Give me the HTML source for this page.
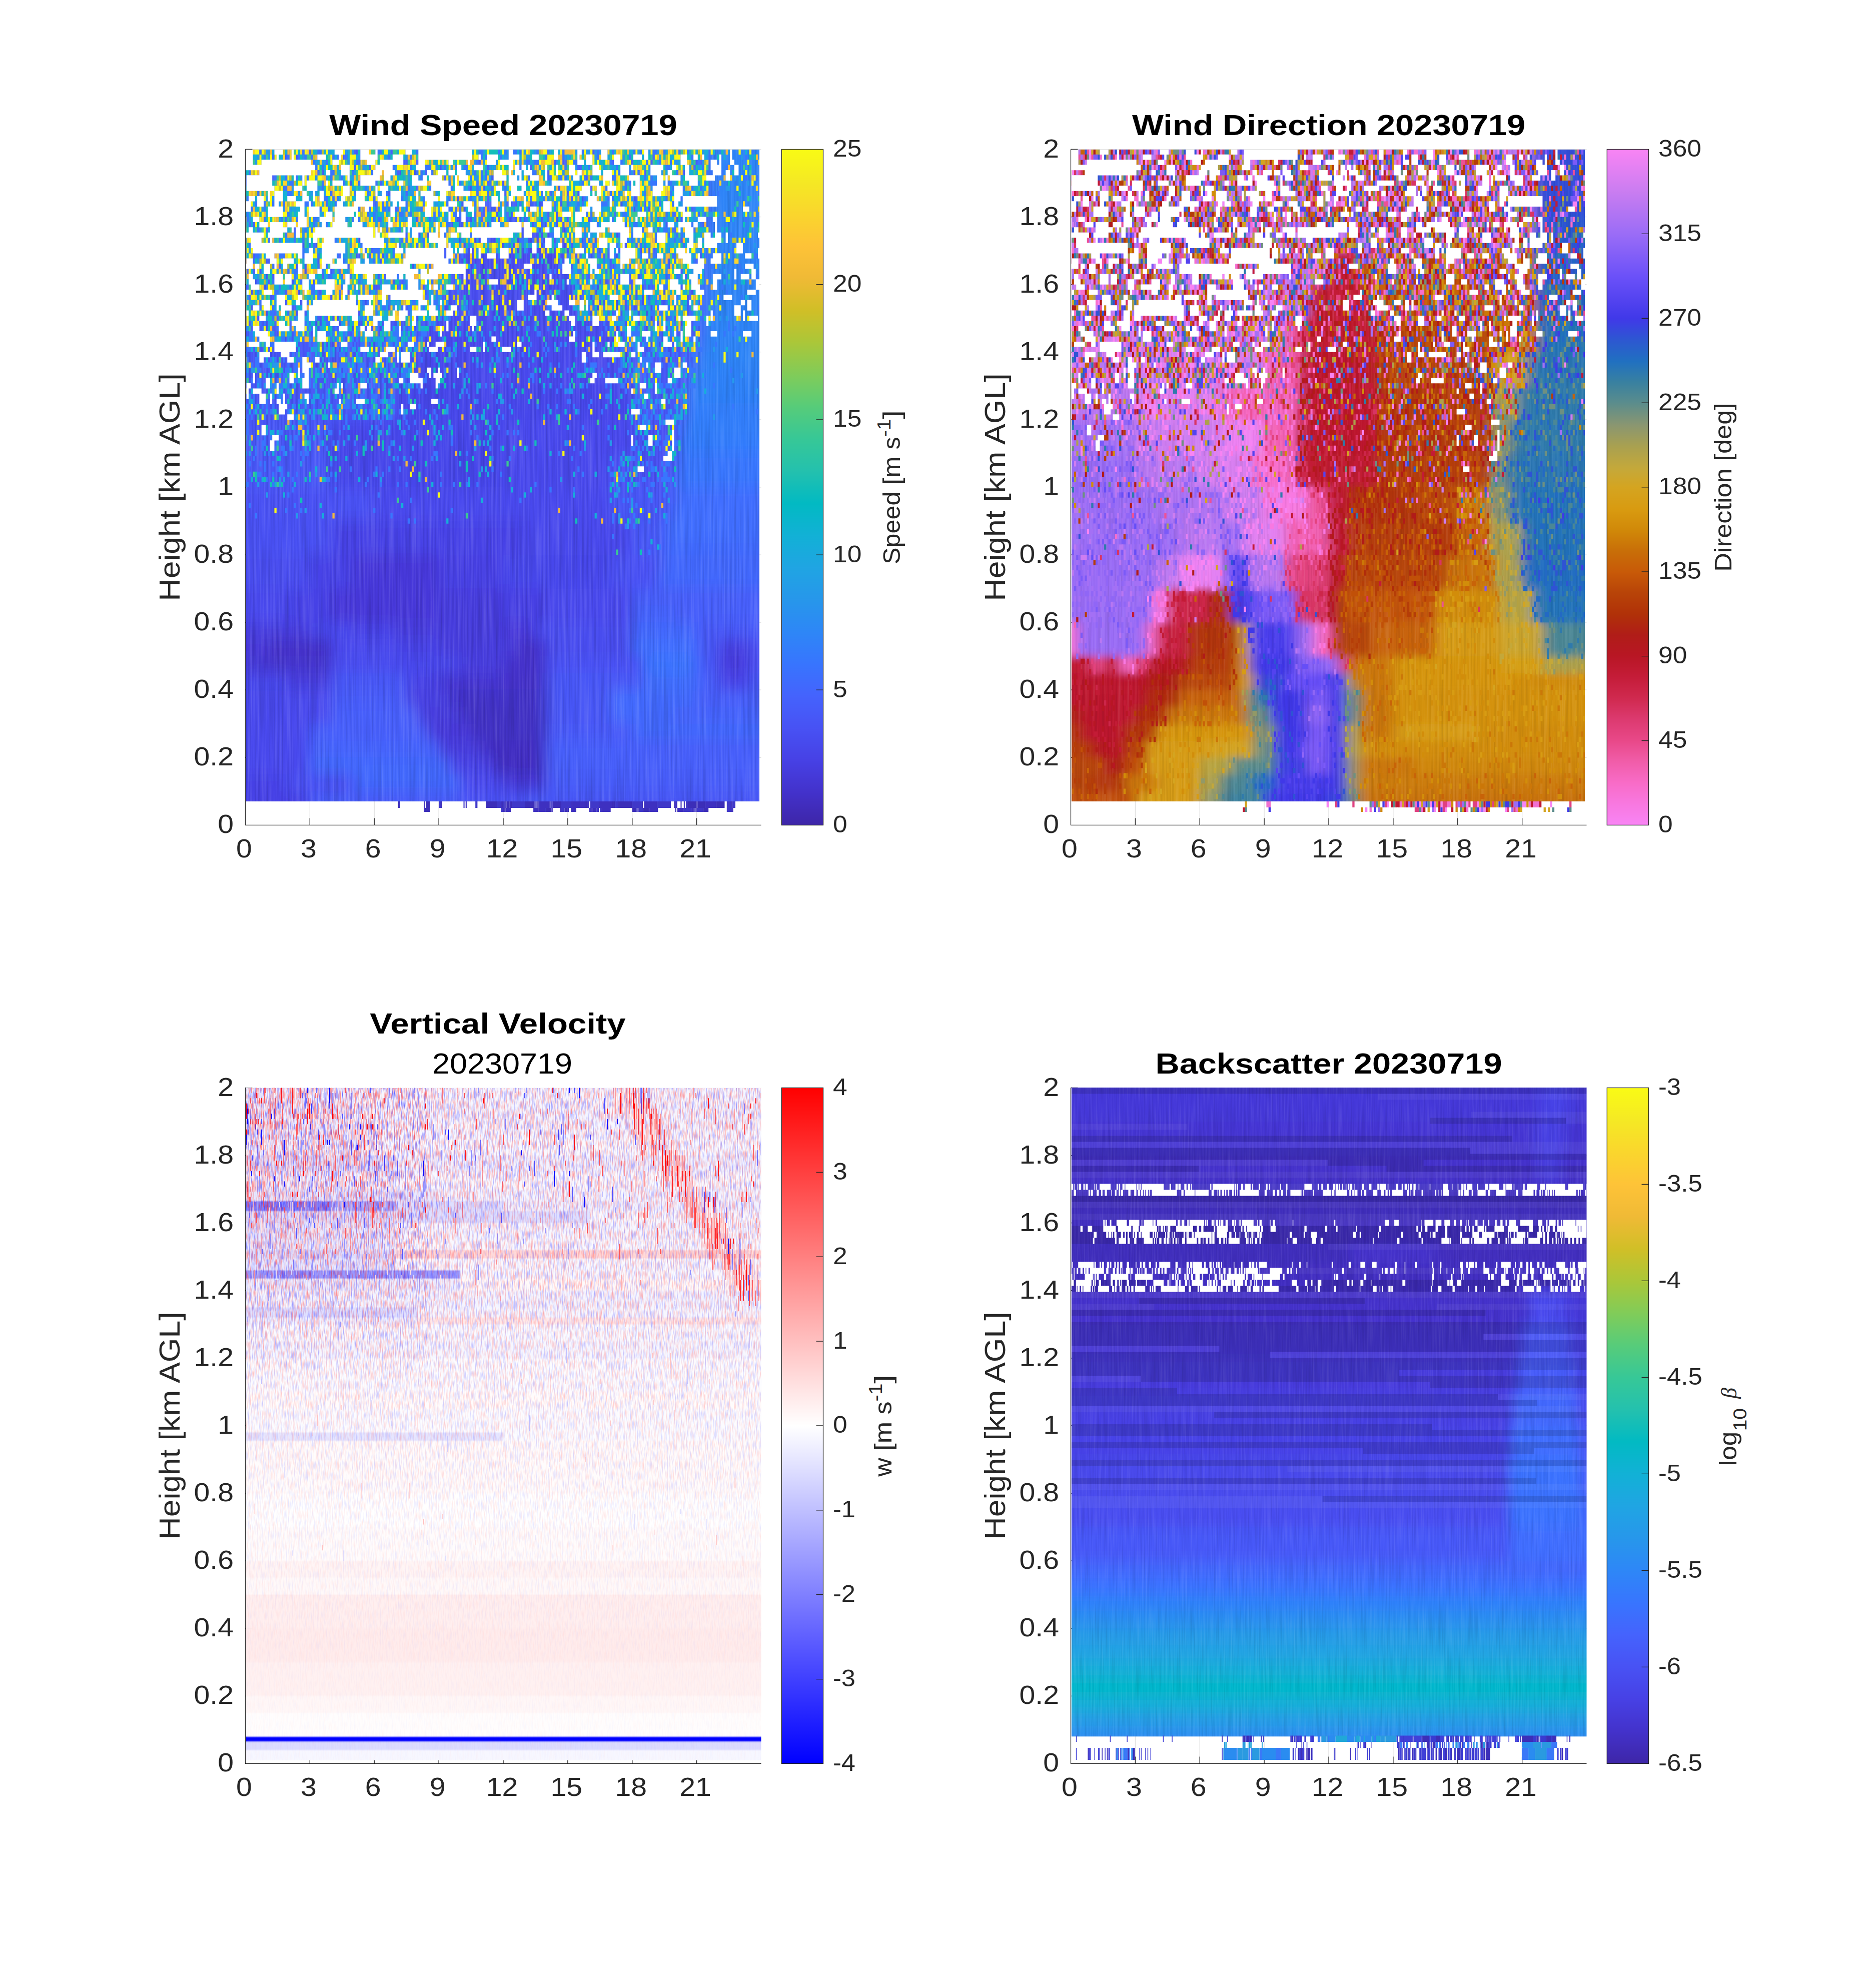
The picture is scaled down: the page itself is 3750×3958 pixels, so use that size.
<!DOCTYPE html><html><head><meta charset="utf-8"><style>html,body{margin:0;padding:0;background:#fff;overflow:hidden}svg{display:block}</style></head><body><svg width="3750" height="3958" viewBox="0 0 3750 3958" font-family="Liberation Sans, sans-serif">
<rect width="3750" height="3958" fill="#fff"/>
<path d="M619.38 298.50V1649.40M748.25 298.50V1649.40M877.12 298.50V1649.40M1006.00 298.50V1649.40M1134.88 298.50V1649.40M1263.75 298.50V1649.40M1392.62 298.50V1649.40M490.50 1514.31H1521.50M490.50 1379.22H1521.50M490.50 1244.13H1521.50M490.50 1109.04H1521.50M490.50 973.95H1521.50M490.50 838.86H1521.50M490.50 703.77H1521.50M490.50 568.68H1521.50M490.50 433.59H1521.50M490.50 298.50H1521.50" stroke="#dedede" stroke-width="1.2" fill="none"/>
<path d="M490.50 298.50V1649.40H1521.50 M490.50 1649.40v-14M619.38 1649.40v-14M748.25 1649.40v-14M877.12 1649.40v-14M1006.00 1649.40v-14M1134.88 1649.40v-14M1263.75 1649.40v-14M1392.62 1649.40v-14M490.50 1649.40h14M490.50 1514.31h14M490.50 1379.22h14M490.50 1244.13h14M490.50 1109.04h14M490.50 973.95h14M490.50 838.86h14M490.50 703.77h14M490.50 568.68h14M490.50 433.59h14M490.50 298.50h14" stroke="#262626" stroke-width="1.3" fill="none"/>
<defs><clipPath id="clipf1"><rect x="491.90" y="298.90" width="1026.16" height="1303.22"/></clipPath>
<filter id="f1" x="-10%" y="-10%" width="120%" height="120%"><feGaussianBlur stdDeviation="14"/></filter></defs>
<g clip-path="url(#clipf1)"><g filter="url(#f1)">
<rect x="440.5" y="248.5" width="978.4" height="84.3" fill="#465ffb"/>
<rect x="1418.4" y="248.5" width="163.6" height="84.3" fill="#2e85f8"/>
<rect x="440.5" y="332.3" width="978.4" height="34.3" fill="#465ffb"/>
<rect x="1418.4" y="332.3" width="163.6" height="34.3" fill="#2e85f8"/>
<rect x="440.5" y="366.0" width="978.4" height="34.3" fill="#465ffb"/>
<rect x="1418.4" y="366.0" width="163.6" height="34.3" fill="#2e85f8"/>
<rect x="440.5" y="399.8" width="978.4" height="34.3" fill="#465ffb"/>
<rect x="1418.4" y="399.8" width="163.6" height="34.3" fill="#2e85f8"/>
<rect x="440.5" y="433.6" width="978.4" height="34.3" fill="#465ffb"/>
<rect x="1418.4" y="433.6" width="163.6" height="34.3" fill="#2e85f8"/>
<rect x="440.5" y="467.4" width="480.1" height="34.3" fill="#465ffb"/>
<rect x="920.1" y="467.4" width="215.3" height="34.3" fill="#4851f4"/>
<rect x="1134.9" y="467.4" width="279.7" height="34.3" fill="#465ffb"/>
<rect x="1414.1" y="467.4" width="167.9" height="34.3" fill="#2e85f8"/>
<rect x="440.5" y="501.1" width="480.1" height="34.3" fill="#465ffb"/>
<rect x="920.1" y="501.1" width="215.3" height="34.3" fill="#484df0"/>
<rect x="1134.9" y="501.1" width="279.7" height="34.3" fill="#465ffb"/>
<rect x="1414.1" y="501.1" width="167.9" height="34.3" fill="#2e85f8"/>
<rect x="440.5" y="534.9" width="480.1" height="34.3" fill="#475bf9"/>
<rect x="920.1" y="534.9" width="215.3" height="34.3" fill="#484df0"/>
<rect x="1134.9" y="534.9" width="279.7" height="34.3" fill="#465ffb"/>
<rect x="1414.1" y="534.9" width="167.9" height="34.3" fill="#2e85f8"/>
<rect x="440.5" y="568.7" width="458.6" height="34.3" fill="#475bf9"/>
<rect x="898.6" y="568.7" width="258.2" height="34.3" fill="#484df0"/>
<rect x="1156.4" y="568.7" width="254.0" height="34.3" fill="#465ffb"/>
<rect x="1409.8" y="568.7" width="172.2" height="34.3" fill="#2e85f8"/>
<rect x="440.5" y="602.5" width="437.1" height="34.3" fill="#475bf9"/>
<rect x="877.1" y="602.5" width="301.2" height="34.3" fill="#484df0"/>
<rect x="1177.8" y="602.5" width="232.5" height="34.3" fill="#475dfa"/>
<rect x="1409.8" y="602.5" width="172.2" height="34.3" fill="#2e85f8"/>
<rect x="440.5" y="636.2" width="415.6" height="34.3" fill="#4758f8"/>
<rect x="855.6" y="636.2" width="365.6" height="34.3" fill="#484df0"/>
<rect x="1220.8" y="636.2" width="185.2" height="34.3" fill="#475bf9"/>
<rect x="1405.5" y="636.2" width="176.5" height="34.3" fill="#2e85f8"/>
<rect x="440.5" y="670.0" width="407.1" height="34.3" fill="#4758f8"/>
<rect x="847.1" y="670.0" width="387.1" height="34.3" fill="#484aee"/>
<rect x="1233.7" y="670.0" width="168.0" height="34.3" fill="#4758f8"/>
<rect x="1401.2" y="670.0" width="180.8" height="34.3" fill="#2e85f8"/>
<rect x="440.5" y="703.8" width="394.2" height="34.3" fill="#4756f6"/>
<rect x="834.2" y="703.8" width="408.6" height="34.3" fill="#484aee"/>
<rect x="1242.3" y="703.8" width="150.9" height="34.3" fill="#4758f8"/>
<rect x="1392.6" y="703.8" width="189.4" height="34.3" fill="#2e85f8"/>
<rect x="440.5" y="737.5" width="394.2" height="34.3" fill="#4756f6"/>
<rect x="834.2" y="737.5" width="408.6" height="34.3" fill="#484aee"/>
<rect x="1242.3" y="737.5" width="142.3" height="34.3" fill="#4758f8"/>
<rect x="1384.0" y="737.5" width="198.0" height="34.3" fill="#2f82f9"/>
<rect x="440.5" y="771.3" width="351.2" height="34.3" fill="#4756f6"/>
<rect x="791.2" y="771.3" width="473.0" height="34.3" fill="#4747eb"/>
<rect x="1263.8" y="771.3" width="112.2" height="34.3" fill="#4756f6"/>
<rect x="1375.4" y="771.3" width="206.6" height="34.3" fill="#2f82f9"/>
<rect x="440.5" y="805.1" width="351.2" height="34.3" fill="#4756f6"/>
<rect x="791.2" y="805.1" width="473.0" height="34.3" fill="#4747eb"/>
<rect x="1263.8" y="805.1" width="107.9" height="34.3" fill="#4756f6"/>
<rect x="1371.1" y="805.1" width="210.9" height="34.3" fill="#317efb"/>
<rect x="440.5" y="838.9" width="222.3" height="34.3" fill="#4756f6"/>
<rect x="662.3" y="838.9" width="344.2" height="34.3" fill="#4747eb"/>
<rect x="1006.0" y="838.9" width="258.2" height="34.3" fill="#484aee"/>
<rect x="1263.8" y="838.9" width="99.3" height="34.3" fill="#4851f4"/>
<rect x="1362.6" y="838.9" width="219.4" height="34.3" fill="#317efb"/>
<rect x="440.5" y="872.6" width="222.3" height="34.3" fill="#4756f6"/>
<rect x="662.3" y="872.6" width="344.2" height="34.3" fill="#4747eb"/>
<rect x="1006.0" y="872.6" width="258.2" height="34.3" fill="#484aee"/>
<rect x="1263.8" y="872.6" width="95.0" height="34.3" fill="#4851f4"/>
<rect x="1358.3" y="872.6" width="223.7" height="34.3" fill="#337bfd"/>
<rect x="440.5" y="906.4" width="222.3" height="34.3" fill="#4756f6"/>
<rect x="662.3" y="906.4" width="344.2" height="34.3" fill="#4747eb"/>
<rect x="1006.0" y="906.4" width="215.3" height="34.3" fill="#484aee"/>
<rect x="1220.8" y="906.4" width="133.7" height="34.3" fill="#4851f4"/>
<rect x="1354.0" y="906.4" width="228.0" height="34.3" fill="#3876fe"/>
<rect x="440.5" y="940.2" width="222.3" height="34.3" fill="#4756f6"/>
<rect x="662.3" y="940.2" width="344.2" height="34.3" fill="#4747eb"/>
<rect x="1006.0" y="940.2" width="215.3" height="34.3" fill="#484aee"/>
<rect x="1220.8" y="940.2" width="129.4" height="34.3" fill="#4851f4"/>
<rect x="1349.7" y="940.2" width="232.3" height="34.3" fill="#3876fe"/>
<rect x="440.5" y="974.0" width="308.2" height="34.3" fill="#4851f4"/>
<rect x="748.2" y="974.0" width="258.2" height="34.3" fill="#484aee"/>
<rect x="1006.0" y="974.0" width="215.3" height="34.3" fill="#484aee"/>
<rect x="1220.8" y="974.0" width="129.4" height="34.3" fill="#4756f6"/>
<rect x="1349.7" y="974.0" width="232.3" height="34.3" fill="#3f6eff"/>
<rect x="440.5" y="1007.7" width="308.2" height="34.3" fill="#4851f4"/>
<rect x="748.2" y="1007.7" width="258.2" height="34.3" fill="#484aee"/>
<rect x="1006.0" y="1007.7" width="215.3" height="34.3" fill="#484aee"/>
<rect x="1220.8" y="1007.7" width="120.8" height="34.3" fill="#4756f6"/>
<rect x="1341.1" y="1007.7" width="240.9" height="34.3" fill="#3f6eff"/>
<rect x="440.5" y="1041.5" width="222.3" height="34.3" fill="#4851f4"/>
<rect x="662.3" y="1041.5" width="129.4" height="34.3" fill="#4743e7"/>
<rect x="791.2" y="1041.5" width="258.3" height="34.3" fill="#4743e7"/>
<rect x="1049.0" y="1041.5" width="215.3" height="34.3" fill="#484aee"/>
<rect x="1263.8" y="1041.5" width="64.9" height="34.3" fill="#4758f8"/>
<rect x="1328.2" y="1041.5" width="253.8" height="34.3" fill="#3f6eff"/>
<rect x="440.5" y="1075.3" width="222.3" height="34.3" fill="#4851f4"/>
<rect x="662.3" y="1075.3" width="129.4" height="34.3" fill="#4743e7"/>
<rect x="791.2" y="1075.3" width="258.3" height="34.3" fill="#4743e7"/>
<rect x="1049.0" y="1075.3" width="215.3" height="34.3" fill="#484aee"/>
<rect x="1263.8" y="1075.3" width="64.9" height="34.3" fill="#4758f8"/>
<rect x="1328.2" y="1075.3" width="253.8" height="34.3" fill="#416bfe"/>
<rect x="440.5" y="1109.0" width="179.4" height="34.3" fill="#484df0"/>
<rect x="619.4" y="1109.0" width="86.4" height="34.3" fill="#4743e7"/>
<rect x="705.3" y="1109.0" width="172.3" height="34.3" fill="#4639da"/>
<rect x="877.1" y="1109.0" width="129.4" height="34.3" fill="#4740e4"/>
<rect x="1006.0" y="1109.0" width="215.3" height="34.3" fill="#4747eb"/>
<rect x="1220.8" y="1109.0" width="99.3" height="34.3" fill="#4851f4"/>
<rect x="1319.6" y="1109.0" width="262.4" height="34.3" fill="#4367fd"/>
<rect x="440.5" y="1142.8" width="179.4" height="34.3" fill="#484df0"/>
<rect x="619.4" y="1142.8" width="86.4" height="34.3" fill="#4743e7"/>
<rect x="705.3" y="1142.8" width="172.3" height="34.3" fill="#4639da"/>
<rect x="877.1" y="1142.8" width="129.4" height="34.3" fill="#4740e4"/>
<rect x="1006.0" y="1142.8" width="215.3" height="34.3" fill="#4747eb"/>
<rect x="1220.8" y="1142.8" width="95.0" height="34.3" fill="#4851f4"/>
<rect x="1315.3" y="1142.8" width="266.7" height="34.3" fill="#4367fd"/>
<rect x="440.5" y="1176.6" width="136.4" height="34.3" fill="#484aee"/>
<rect x="576.4" y="1176.6" width="86.4" height="34.3" fill="#4743e7"/>
<rect x="662.3" y="1176.6" width="215.3" height="34.3" fill="#4639da"/>
<rect x="877.1" y="1176.6" width="129.4" height="34.3" fill="#463cde"/>
<rect x="1006.0" y="1176.6" width="86.4" height="34.3" fill="#4740e4"/>
<rect x="1091.9" y="1176.6" width="172.3" height="34.3" fill="#484aee"/>
<rect x="1263.8" y="1176.6" width="86.4" height="34.3" fill="#465ffb"/>
<rect x="1349.7" y="1176.6" width="232.3" height="34.3" fill="#465ffb"/>
<rect x="440.5" y="1210.4" width="136.4" height="34.3" fill="#484aee"/>
<rect x="576.4" y="1210.4" width="86.4" height="34.3" fill="#4743e7"/>
<rect x="662.3" y="1210.4" width="215.3" height="34.3" fill="#4639da"/>
<rect x="877.1" y="1210.4" width="129.4" height="34.3" fill="#463cde"/>
<rect x="1006.0" y="1210.4" width="86.4" height="34.3" fill="#4740e4"/>
<rect x="1091.9" y="1210.4" width="172.3" height="34.3" fill="#484aee"/>
<rect x="1263.8" y="1210.4" width="86.4" height="34.3" fill="#4564fd"/>
<rect x="1349.7" y="1210.4" width="232.3" height="34.3" fill="#465ffb"/>
<rect x="440.5" y="1244.1" width="179.4" height="34.3" fill="#463cde"/>
<rect x="619.4" y="1244.1" width="86.4" height="34.3" fill="#4747eb"/>
<rect x="705.3" y="1244.1" width="86.4" height="34.3" fill="#4743e7"/>
<rect x="791.2" y="1244.1" width="215.3" height="34.3" fill="#463cde"/>
<rect x="1006.0" y="1244.1" width="64.9" height="34.3" fill="#4639da"/>
<rect x="1070.4" y="1244.1" width="193.8" height="34.3" fill="#484df0"/>
<rect x="1263.8" y="1244.1" width="129.4" height="34.3" fill="#4367fd"/>
<rect x="1392.6" y="1244.1" width="189.4" height="34.3" fill="#4758f8"/>
<rect x="440.5" y="1277.9" width="93.5" height="34.3" fill="#4639da"/>
<rect x="533.5" y="1277.9" width="129.4" height="34.3" fill="#4433cb"/>
<rect x="662.3" y="1277.9" width="129.4" height="34.3" fill="#484aee"/>
<rect x="791.2" y="1277.9" width="86.4" height="34.3" fill="#4743e7"/>
<rect x="877.1" y="1277.9" width="150.9" height="34.3" fill="#463cde"/>
<rect x="1027.5" y="1277.9" width="64.9" height="34.3" fill="#4433cb"/>
<rect x="1091.9" y="1277.9" width="193.8" height="34.3" fill="#484df0"/>
<rect x="1263.8" y="1277.9" width="129.4" height="34.3" fill="#3f6eff"/>
<rect x="1392.6" y="1277.9" width="43.5" height="34.3" fill="#4758f8"/>
<rect x="1435.6" y="1277.9" width="64.9" height="34.3" fill="#473fe2"/>
<rect x="1500.0" y="1277.9" width="82.0" height="34.3" fill="#4851f4"/>
<rect x="440.5" y="1311.7" width="72.0" height="34.3" fill="#463cde"/>
<rect x="512.0" y="1311.7" width="150.9" height="34.3" fill="#4434ce"/>
<rect x="662.3" y="1311.7" width="129.4" height="34.3" fill="#484df0"/>
<rect x="791.2" y="1311.7" width="129.4" height="34.3" fill="#4747eb"/>
<rect x="920.1" y="1311.7" width="86.4" height="34.3" fill="#463cde"/>
<rect x="1006.0" y="1311.7" width="86.4" height="34.3" fill="#4433cb"/>
<rect x="1091.9" y="1311.7" width="193.8" height="34.3" fill="#4851f4"/>
<rect x="1285.2" y="1311.7" width="107.9" height="34.3" fill="#3b73fe"/>
<rect x="1392.6" y="1311.7" width="43.5" height="34.3" fill="#4758f8"/>
<rect x="1435.6" y="1311.7" width="64.9" height="34.3" fill="#463cde"/>
<rect x="1500.0" y="1311.7" width="82.0" height="34.3" fill="#4851f4"/>
<rect x="440.5" y="1345.4" width="136.4" height="34.3" fill="#4747eb"/>
<rect x="576.4" y="1345.4" width="86.4" height="34.3" fill="#463cde"/>
<rect x="662.3" y="1345.4" width="150.9" height="34.3" fill="#4756f6"/>
<rect x="812.7" y="1345.4" width="64.9" height="34.3" fill="#4743e7"/>
<rect x="877.1" y="1345.4" width="129.4" height="34.3" fill="#4536d3"/>
<rect x="1006.0" y="1345.4" width="86.4" height="34.3" fill="#4433cb"/>
<rect x="1091.9" y="1345.4" width="193.8" height="34.3" fill="#4756f6"/>
<rect x="1285.2" y="1345.4" width="107.9" height="34.3" fill="#3f6eff"/>
<rect x="1392.6" y="1345.4" width="43.5" height="34.3" fill="#465ffb"/>
<rect x="1435.6" y="1345.4" width="64.9" height="34.3" fill="#4743e7"/>
<rect x="1500.0" y="1345.4" width="82.0" height="34.3" fill="#4758f8"/>
<rect x="440.5" y="1379.2" width="222.3" height="34.3" fill="#484aee"/>
<rect x="662.3" y="1379.2" width="150.9" height="34.3" fill="#475bf9"/>
<rect x="812.7" y="1379.2" width="86.4" height="34.3" fill="#473fe2"/>
<rect x="898.6" y="1379.2" width="193.8" height="34.3" fill="#4332c8"/>
<rect x="1091.9" y="1379.2" width="129.4" height="34.3" fill="#4756f6"/>
<rect x="1220.8" y="1379.2" width="172.3" height="34.3" fill="#426afe"/>
<rect x="1392.6" y="1379.2" width="189.4" height="34.3" fill="#465ffb"/>
<rect x="440.5" y="1413.0" width="222.3" height="34.3" fill="#484aee"/>
<rect x="662.3" y="1413.0" width="172.3" height="34.3" fill="#465ffb"/>
<rect x="834.2" y="1413.0" width="86.4" height="34.3" fill="#463cde"/>
<rect x="920.1" y="1413.0" width="172.3" height="34.3" fill="#4330c5"/>
<rect x="1091.9" y="1413.0" width="129.4" height="34.3" fill="#4756f6"/>
<rect x="1220.8" y="1413.0" width="129.4" height="34.3" fill="#4367fd"/>
<rect x="1349.7" y="1413.0" width="232.3" height="34.3" fill="#4564fd"/>
<rect x="440.5" y="1446.8" width="179.4" height="34.3" fill="#484aee"/>
<rect x="619.4" y="1446.8" width="236.8" height="34.3" fill="#465ffb"/>
<rect x="855.6" y="1446.8" width="86.4" height="34.3" fill="#4639da"/>
<rect x="941.6" y="1446.8" width="150.9" height="34.3" fill="#4330c5"/>
<rect x="1091.9" y="1446.8" width="172.3" height="34.3" fill="#4758f8"/>
<rect x="1263.8" y="1446.8" width="318.2" height="34.3" fill="#4367fd"/>
<rect x="440.5" y="1480.5" width="179.4" height="34.3" fill="#484aee"/>
<rect x="619.4" y="1480.5" width="258.2" height="34.3" fill="#4564fd"/>
<rect x="877.1" y="1480.5" width="86.4" height="34.3" fill="#463cde"/>
<rect x="963.0" y="1480.5" width="129.4" height="34.3" fill="#422fc3"/>
<rect x="1091.9" y="1480.5" width="490.1" height="34.3" fill="#465ffb"/>
<rect x="440.5" y="1514.3" width="179.4" height="34.3" fill="#484aee"/>
<rect x="619.4" y="1514.3" width="279.7" height="34.3" fill="#4367fd"/>
<rect x="898.6" y="1514.3" width="86.4" height="34.3" fill="#4743e7"/>
<rect x="984.5" y="1514.3" width="107.9" height="34.3" fill="#422fc3"/>
<rect x="1091.9" y="1514.3" width="490.1" height="34.3" fill="#465ffb"/>
<rect x="440.5" y="1548.1" width="136.4" height="34.3" fill="#4743e7"/>
<rect x="576.4" y="1548.1" width="129.4" height="34.3" fill="#4851f4"/>
<rect x="705.3" y="1548.1" width="215.3" height="34.3" fill="#4367fd"/>
<rect x="920.1" y="1548.1" width="86.4" height="34.3" fill="#484aee"/>
<rect x="1006.0" y="1548.1" width="86.4" height="34.3" fill="#4537d6"/>
<rect x="1091.9" y="1548.1" width="490.1" height="34.3" fill="#475bf9"/>
<rect x="440.5" y="1581.9" width="179.4" height="84.3" fill="#4743e7"/>
<rect x="619.4" y="1581.9" width="301.2" height="84.3" fill="#475bf9"/>
<rect x="920.1" y="1581.9" width="129.4" height="84.3" fill="#4851f4"/>
<rect x="1049.0" y="1581.9" width="533.0" height="84.3" fill="#4756f6"/>
</g></g>
<defs><filter id="sn1" x="490.5" y="298.5" width="1031.0" height="1350.9" filterUnits="userSpaceOnUse" color-interpolation-filters="sRGB">
<feTurbulence type="fractalNoise" baseFrequency="0.22 0.006" numOctaves="2" seed="3" result="n"/>
<feColorMatrix in="n" type="matrix" values="0 0 0 0 0 0 0 0 0 0 0 0 0 0 0 0.36 0 0 0 -0.18" result="d"/>
<feColorMatrix in="n" type="matrix" values="0 0 0 0 1 0 0 0 0 1 0 0 0 0 1 -0.36 0 0 0 0.18" result="l"/>
<feMerge><feMergeNode in="d"/><feMergeNode in="l"/></feMerge></filter></defs>
<g clip-path="url(#clipf1)"><rect x="490.5" y="298.5" width="1031.0" height="1350.9" filter="url(#sn1)"/></g>
<g clip-path="url(#clipf1)"><g transform="translate(488.35 298.50) scale(4.29583 10.39154)" fill="none" stroke-width="1.02">
<path stroke="#fad42e" d="M4 0.5h1m16 0h1m4 0h1m2 0h1m28 0h1m94 0h1m15 0h1m3 0h1m19 0h1m3 0h1m3 0h1M18 1.5h1m2 0h1m23 0h1m18 0h1m14 0h1m73 0h1m2 0h1m8 0h1m28 0h1M35 2.5h1m18 0h1m24 0h1m5 0h1m41 0h1m1 0h1m17 0h1m21 0h1m25 0h1m10 0h1m8 0h1m23 0h1M60 3.5h1m13 0h2m21 0h1m7 0h1m19 0h1m10 0h1m1 0h1m9 0h1m32 0h1m1 0h2M3 4.5h1m27 0h1m25 0h1m17 0h1m127 0h1m10 0h1M36 5.5h1m4 0h1m57 0h1m13 0h1m24 0h1m12 0h1m21 0h1m4 0h1m18 0h1m28 0h1M18 6.5h2m32 0h1m14 0h2m5 0h1m11 0h1m9 0h1m5 0h1m6 0h1m11 0h1m15 0h2m20 0h1m11 0h1m4 0h1m7 0h1m1 0h1m34 0h1M49 7.5h1m31 0h1m28 0h1m36 0h2m14 0h1m32 0h1m10 0h1m30 0h1M2 8.5h1m1 0h1m2 0h1m4 0h1m11 0h1m71 0h2m7 0h1m3 0h1m61 0h1m4 0h1m2 0h1m4 0h1m11 0h1m17 0h1M42 9.5h1m55 0h1m23 0h1m4 0h2m11 0h1m7 0h1m28 0h1m6 0h1M17 10.5h1m1 0h1m14 0h1m27 0h1m2 0h1m1 0h1m38 0h1m11 0h1m12 0h1m48 0h1m10 0h1m40 0h1M41 11.5h1m12 0h1m96 0h1m18 0h1m28 0h1M29 12.5h1m25 0h1m9 0h1m46 0h1m25 0h1m7 0h1m5 0h1m26 0h1m57 0h1M8 13.5h1m5 0h1m14 0h1m11 0h1m13 0h1m10 0h1m24 0h1m4 0h1m36 0h1m1 0h1m28 0h1m15 0h1m25 0h1M11 14.5h1m7 0h1m4 0h1m4 0h1m30 0h1m27 0h1m1 0h1m1 0h1m11 0h1m7 0h1m8 0h2m6 0h1m19 0h1M62 15.5h1m4 0h1m17 0h1m4 0h1m5 0h2m55 0h1m32 0h2m16 0h1M28 16.5h1m36 0h1m17 0h1m10 0h1M1 17.5h1m34 0h1m68 0h1m13 0h1m34 0h2m3 0h1m4 0h1m17 0h1m6 0h1M50 18.5h1m43 0h1m4 0h1m7 0h1m2 0h1m15 0h1m56 0h1m5 0h2m2 0h1m16 0h1M33 19.5h1m15 0h1m65 0h2m8 0h1m12 0h1m46 0h1m1 0h1m7 0h1m2 0h1m6 0h1m7 0h1M15 20.5h1m3 0h1m39 0h1m45 0h1m47 0h1m1 0h1m67 0h1M41 21.5h1m9 0h1m69 0h1m11 0h2m18 0h1m4 0h1m24 0h1m19 0h1m24 0h2M29 22.5h1m5 0h1m44 0h1m41 0h1m32 0h1m20 0h1m4 0h1m2 0h1m4 0h1m29 0h1M16 23.5h1m4 0h1m8 0h1m96 0h1m31 0h1m27 0h1m7 0h1m9 0h1M8 24.5h1m46 0h1m35 0h1m47 0h1m14 0h1m26 0h1m7 0h1M18 25.5h1m73 0h1m50 0h1m28 0h1m8 0h1m10 0h1m1 0h1m20 0h1M8 26.5h1m33 0h1m54 0h1m3 0h1m57 0h2M30 27.5h1m12 0h1m12 0h1m33 0h1m46 0h1m46 0h1m14 0h1M5 28.5h1m33 0h1m43 0h1m69 0h1m41 0h1M6 29.5h1m86 0h1m70 0h1m47 0h1M68 30.5h1m97 0h1m2 0h2m8 0h1M0 31.5h1m3 0h1m65 0h1m22 0h1m8 0h1M5 32.5h1m13 0h1m50 0h2m15 0h1m57 0h1m14 0h1m4 0h1m3 0h2m15 0h1m6 0h1M5 33.5h1m53 0h1m127 0h1m10 0h1M175 34.5h1m26 0h1M51 35.5h1m2 0h1m137 0h1m4 0h1m13 0h1M12 36.5h1m43 0h1m123 0h1m18 0h1M1 37.5h1m91 0h1m109 0h1M29 40.5h1M2 41.5h1m61 0h1"/>
<path stroke="#f9fb15" d="M5 0.5h2m1 0h1m15 0h1m3 0h1m9 0h1m7 0h1m18 0h2m5 0h3m32 0h1m5 0h1m6 0h1m8 0h1m1 0h1m7 0h2m6 0h1m10 0h1m2 0h1m13 0h1m6 0h1m2 0h1m3 0h1m8 0h1m6 0h1m3 0h1m2 0h1m4 0h1m12 0h1m4 0h1M7 1.5h1m4 0h1m1 0h1m8 0h1m16 0h1m8 0h3m11 0h1m43 0h2m20 0h1m11 0h3m18 0h1m8 0h1m3 0h1m15 0h1m5 0h1m2 0h3M6 2.5h2m32 0h1m3 0h1m1 0h1m2 0h1m11 0h1m16 0h1m5 0h1m5 0h1m3 0h1m4 0h1m12 0h1m5 0h1m6 0h1m11 0h1m2 0h3m8 0h2m9 0h1m1 0h1m3 0h1m10 0h1m5 0h2m1 0h1m5 0h1m2 0h1m1 0h1m34 0h1M34 3.5h1m3 0h1m2 0h1m7 0h2m1 0h1m6 0h1m11 0h3m2 0h1m10 0h2m6 0h1m8 0h1m13 0h1m1 0h1m22 0h1m21 0h1m16 0h1m4 0h1m13 0h1m1 0h1m10 0h1M5 4.5h1m26 0h1m20 0h3m2 0h1m19 0h1m2 0h1m7 0h1m19 0h1m10 0h2m15 0h1m4 0h2m2 0h2m6 0h1m3 0h1m1 0h1m10 0h1m1 0h1m8 0h1m2 0h1m25 0h2m20 0h1M20 5.5h1m7 0h1m1 0h3m1 0h2m11 0h1m22 0h1m23 0h1m9 0h1m1 0h1m2 0h1m20 0h1m12 0h2m3 0h1m8 0h1m7 0h1m8 0h1m13 0h1m6 0h1m17 0h2m16 0h1m5 0h1M16 6.5h1m8 0h2m1 0h1m10 0h1m8 0h1m2 0h1m13 0h1m5 0h1m27 0h1m7 0h1m4 0h1m2 0h1m3 0h1m12 0h1m1 0h1m17 0h1m5 0h1m9 0h2m4 0h1m12 0h1m14 0h1m10 0h1m22 0h1M14 7.5h2m1 0h1m20 0h1m2 0h1m3 0h1m16 0h1m9 0h1m10 0h2m31 0h1m6 0h1m9 0h1m15 0h1m2 0h1m1 0h3m5 0h1m3 0h1m6 0h2m9 0h2m9 0h1m1 0h1m17 0h1m13 0h1M13 8.5h1m9 0h1m14 0h2m2 0h2m1 0h1m4 0h1m5 0h1m2 0h1m34 0h1m11 0h2m2 0h3m3 0h1m5 0h1m8 0h1m1 0h3m1 0h1m3 0h1m7 0h1m1 0h2m13 0h1m1 0h1m4 0h1m4 0h1m10 0h1m4 0h2m12 0h1M9 9.5h1m2 0h1m20 0h1m6 0h1m6 0h1m1 0h1m8 0h2m1 0h1m4 0h1m10 0h1m12 0h1m12 0h1m4 0h1m16 0h1m6 0h1m1 0h2m8 0h1m4 0h1m3 0h1m21 0h1m3 0h1m3 0h1m1 0h1m2 0h2m9 0h1M3 10.5h1m8 0h1m8 0h1m1 0h1m9 0h1m1 0h1m12 0h1m14 0h1m17 0h2m1 0h1m8 0h1m14 0h1m37 0h1m12 0h1m14 0h1m4 0h1m7 0h1m1 0h1m2 0h1m5 0h1M7 11.5h1m12 0h1m8 0h1m6 0h3m20 0h1m3 0h1m12 0h1m10 0h1m1 0h1m1 0h1m5 0h1m32 0h1m5 0h1m1 0h1m7 0h1m5 0h1m3 0h1m20 0h1m7 0h1m3 0h1m3 0h1m4 0h1m1 0h1m5 0h1m7 0h1M4 12.5h1m1 0h1m1 0h1m9 0h2m17 0h1m15 0h1m2 0h1m24 0h1m5 0h1m1 0h1m2 0h1m3 0h1m18 0h2m8 0h1m10 0h1m7 0h1m2 0h1m12 0h1m4 0h1m2 0h1m5 0h1m13 0h1m1 0h1m3 0h1m6 0h1m1 0h1m6 0h1m8 0h1m8 0h1m4 0h1M0 13.5h1m6 0h1m3 0h1m1 0h1m9 0h1m7 0h1m22 0h1m4 0h1m9 0h1m27 0h1m10 0h1m8 0h1m2 0h1m6 0h1m6 0h1m9 0h1m3 0h1m3 0h1m5 0h2m6 0h1m9 0h1m7 0h1m39 0h2M5 14.5h1m12 0h1m21 0h1m17 0h2m11 0h1m1 0h1m1 0h1m8 0h2m7 0h1m8 0h1m33 0h2m3 0h1m1 0h1m2 0h2m30 0h1m6 0h1m3 0h1m2 0h1m43 0h1M0 15.5h1m8 0h1m20 0h1m1 0h1m27 0h1m23 0h1m2 0h1m17 0h1m28 0h2m3 0h1m11 0h1m49 0h1m13 0h1M9 16.5h1m16 0h1m3 0h2m28 0h1m3 0h1m1 0h1m9 0h1m18 0h1m3 0h1m28 0h1m19 0h1m1 0h1m1 0h1m14 0h1m11 0h1m5 0h1m4 0h1m5 0h1m1 0h1m36 0h1M2 17.5h1m7 0h1m7 0h1m15 0h1m15 0h1m23 0h1m1 0h1m2 0h2m3 0h1m9 0h1m11 0h1m13 0h3m26 0h1m19 0h2m1 0h1m14 0h2m7 0h1m33 0h1m1 0h1M0 18.5h1m33 0h2m16 0h1m12 0h1m1 0h3m9 0h1m1 0h1m2 0h1m3 0h1m9 0h1m9 0h2m5 0h2m2 0h1m17 0h1m12 0h1m9 0h1m3 0h1m10 0h1m2 0h2m11 0h1m2 0h2m6 0h1m6 0h1M1 19.5h1m1 0h1m46 0h1m3 0h1m2 0h1m44 0h1m4 0h1m2 0h2m11 0h1m17 0h1m3 0h2m12 0h1m1 0h1m1 0h1m3 0h1m14 0h1m6 0h1m3 0h1m5 0h1m8 0h2m6 0h1m2 0h1m8 0h1M0 20.5h1m1 0h1m5 0h1m11 0h2m1 0h1m8 0h2m27 0h1m1 0h1m3 0h1m2 0h3m34 0h1m31 0h1m5 0h1m3 0h1m32 0h1m27 0h1m14 0h1M8 21.5h1m6 0h1m1 0h1m7 0h1m9 0h1m12 0h1m12 0h1m2 0h1m7 0h1m23 0h1m13 0h1m5 0h1m9 0h1m9 0h1m8 0h1m6 0h1m3 0h2m15 0h1m14 0h1m10 0h1m1 0h1M7 22.5h1m15 0h1m6 0h1m18 0h2m30 0h3m19 0h1m12 0h1m4 0h1m34 0h1m2 0h1m8 0h1m11 0h1m6 0h1m6 0h2m4 0h1m5 0h1M0 23.5h1m1 0h1m3 0h1m6 0h2m16 0h1m6 0h1m11 0h1m56 0h1m14 0h1m1 0h1m8 0h1m12 0h1m11 0h1m6 0h1m5 0h1m10 0h2m4 0h1m2 0h1m6 0h1M22 24.5h1m2 0h1m17 0h1m8 0h1m3 0h1m7 0h1m16 0h1m11 0h2m3 0h1m23 0h1m2 0h1m4 0h1m20 0h1m3 0h1m6 0h1m4 0h1m5 0h1m6 0h1m1 0h1m3 0h3m3 0h1m6 0h1m12 0h1M0 25.5h1m23 0h1m6 0h1m1 0h1m8 0h1m1 0h1m6 0h1m9 0h1m20 0h2m2 0h1m12 0h1m2 0h1m22 0h1m16 0h1m15 0h1m4 0h1m27 0h1m3 0h1m1 0h1m8 0h1M7 26.5h1m3 0h1m11 0h1m1 0h2m27 0h1m4 0h1m10 0h1m2 0h1m30 0h1m3 0h1m14 0h1m8 0h1m2 0h2m2 0h1m17 0h1m9 0h2m2 0h1m2 0h2m5 0h1m2 0h1m6 0h1m5 0h1m8 0h1m21 0h1M2 27.5h1m5 0h1m4 0h1m8 0h2m5 0h1m19 0h1m4 0h1m28 0h1m71 0h2m10 0h1m1 0h2m4 0h2m4 0h1m1 0h1m10 0h1m1 0h1m6 0h1M0 28.5h1m2 0h2m2 0h1m11 0h1m3 0h2m8 0h1m2 0h3m2 0h1m1 0h1m1 0h1m14 0h1m1 0h2m30 0h1m20 0h1m35 0h1m3 0h1m2 0h1m16 0h1m2 0h1m7 0h1m7 0h1m1 0h1m6 0h3m2 0h1m1 0h1m1 0h1m7 0h1M13 29.5h1m6 0h2m8 0h1m22 0h1m6 0h1m14 0h2m22 0h1m20 0h1m2 0h1m10 0h1m28 0h1m4 0h1m3 0h1m2 0h1m5 0h1m4 0h1m15 0h1m14 0h1M0 30.5h1m7 0h1m3 0h1m40 0h1m6 0h1m17 0h1m1 0h1m4 0h1m27 0h1m3 0h1m3 0h1m43 0h1m2 0h1m3 0h1m1 0h1m8 0h1m7 0h1m6 0h2m1 0h1m1 0h1m7 0h1m9 0h1M3 31.5h1m1 0h1m1 0h1m47 0h1m7 0h1m34 0h1m13 0h1m49 0h1m2 0h1m8 0h1m20 0h1m1 0h1m7 0h1M1 32.5h1m18 0h1m18 0h1m2 0h1m14 0h1m20 0h1m4 0h1m4 0h1m12 0h1m22 0h1m10 0h1m30 0h2m11 0h1m4 0h1m6 0h1m3 0h1m5 0h1m8 0h1m5 0h1m12 0h1m4 0h1M1 33.5h1m2 0h1m1 0h1m8 0h1m4 0h1m30 0h2m3 0h1m1 0h1m111 0h2m6 0h1m1 0h2m23 0h1M9 34.5h1m18 0h1m9 0h1m12 0h1m26 0h1m11 0h1m1 0h1m16 0h1m10 0h1m71 0h1m1 0h1m5 0h1M11 35.5h1m4 0h1m10 0h1m14 0h1m55 0h1m70 0h1m40 0h1M26 36.5h1m11 0h1m9 0h1m29 0h1m7 0h1m40 0h1m32 0h1m4 0h1m6 0h1m1 0h1m3 0h1m26 0h1m27 0h1M72 37.5h1m29 0h1m15 0h1m6 0h1m31 0h1m14 0h2m14 0h1m1 0h1m18 0h1M10 38.5h1m1 0h1m22 0h1m23 0h1m1 0h1m9 0h1m3 0h1m16 0h1m37 0h1m63 0h1m14 0h1M38 39.5h1m97 0h1m38 0h1m7 0h1m39 0h1m5 0h1M0 40.5h1m44 0h2m4 0h1m11 0h1m107 0h1m30 0h1m7 0h1m12 0h1M31 41.5h1m29 0h1m12 0h1m3 0h1M13 42.5h1m35 0h1m4 0h1m3 0h1m35 0h1m21 0h1m89 0h1M7 43.5h1m15 0h1m17 0h1m25 0h1m121 0h1M61 44.5h1m120 0h1m8 0h1M0 46.5h1m13 0h1m7 0h1m53 0h1M165 47.5h1M3 49.5h1m185 0h1m5 0h1m9 0h1M22 50.5h1m31 0h1m7 0h1m98 0h1M8 51.5h1m5 0h1m12 0h1m12 0h1m3 0h1m129 0h1m7 0h1M6 52.5h1m76 0h1M34 53.5h1m148 0h1m4 0h1m10 0h1M6 54.5h1m20 0h1m57 0h1M157 55.5h1m33 0h1m6 0h1M27 56.5h1m100 0h1m68 0h1M42 57.5h1m153 0h1M112 58.5h1m35 0h1M184 59.5h1M114 60.5h1M77 62.5h1M173 63.5h1M90 66.5h1M14 69.5h1m169 0h1M188 70.5h1M175 71.5h1"/>
<path stroke="#3876fe" d="M7 0.5h1m19 0h1m6 0h2m26 0h2m16 0h1m28 0h2m7 0h1m2 0h1m3 0h2m1 0h1m7 0h1m4 0h1m6 0h1m8 0h1m6 0h1m6 0h1m9 0h1m2 0h1m5 0h2m3 0h1m6 0h1m3 0h1m29 0h1M9 1.5h1m3 0h1m6 0h1m4 0h1m2 0h1m2 0h1m9 0h1m1 0h1m3 0h1m19 0h1m9 0h1m32 0h1m1 0h1m6 0h1m20 0h1m7 0h1m15 0h1m14 0h1m28 0h1m24 0h1M32 2.5h1m5 0h1m13 0h2m54 0h1m22 0h2m2 0h2m16 0h2m15 0h1m4 0h1m11 0h1m5 0h1m4 0h1m12 0h1M33 3.5h1m2 0h1m32 0h1m7 0h1m6 0h3m6 0h1m4 0h1m3 0h2m24 0h1m20 0h1m10 0h1m12 0h1m22 0h2m15 0h1m10 0h1M2 4.5h1m31 0h1m5 0h2m8 0h1m8 0h1m20 0h1m1 0h1m4 0h1m19 0h1m2 0h1m1 0h1m21 0h2m38 0h1m4 0h1m3 0h1m17 0h1m13 0h1m6 0h1M0 5.5h1m13 0h1m4 0h1m4 0h1m4 0h1m10 0h1m4 0h1m36 0h1m22 0h1m4 0h1m1 0h1m19 0h1m9 0h1m4 0h1m1 0h1m8 0h1m2 0h1m9 0h2m13 0h1m2 0h1m42 0h2m4 0h1M0 6.5h1m20 0h2m13 0h1m9 0h1m6 0h1m7 0h1m33 0h1m4 0h1m7 0h1m5 0h1m16 0h1m25 0h1m19 0h1m1 0h1m9 0h3m5 0h2m15 0h1m5 0h1M18 7.5h2m16 0h1m19 0h1m19 0h1m9 0h1m9 0h1m7 0h1m3 0h1m6 0h1m5 0h1m12 0h1m33 0h1m8 0h1m21 0h1m4 0h1m3 0h1m3 0h1M6 8.5h1m13 0h2m18 0h1m10 0h1m5 0h1m8 0h1m41 0h1m4 0h1m24 0h1m14 0h1m16 0h1m3 0h1m11 0h1m11 0h1m8 0h1m10 0h1m1 0h1m18 0h1M1 9.5h1m35 0h2m2 0h1m1 0h1m16 0h1m12 0h1m9 0h1m11 0h1m9 0h1m27 0h1m5 0h1m7 0h1m10 0h1m10 0h1m1 0h1m24 0h1m6 0h1M5 10.5h1m3 0h1m3 0h1m4 0h1m9 0h2m1 0h1m6 0h1m3 0h1m18 0h1m2 0h1m10 0h1m7 0h1m10 0h1m12 0h1m20 0h1m15 0h1m5 0h1m4 0h1m1 0h1m8 0h3m13 0h1m10 0h1m5 0h1M3 11.5h1m5 0h1m25 0h1m3 0h1m13 0h1m4 0h1m2 0h1m2 0h2m1 0h1m3 0h1m3 0h1m6 0h1m12 0h2m1 0h1m1 0h1m36 0h1m6 0h1m9 0h1m29 0h1m1 0h1m18 0h1m3 0h1m19 0h1M1 12.5h1m18 0h1m36 0h1m2 0h1m11 0h2m3 0h1m10 0h1m1 0h1m6 0h2m1 0h1m6 0h1m51 0h1m1 0h1m10 0h1m3 0h2m18 0h1m2 0h1m11 0h1m2 0h1M1 13.5h1m7 0h1m7 0h1m1 0h1m4 0h1m7 0h2m16 0h1m2 0h1m6 0h1m1 0h2m6 0h1m15 0h1m1 0h1m9 0h1m5 0h1m2 0h1m14 0h1m8 0h1m9 0h1m19 0h1m9 0h1m20 0h1m2 0h1m30 0h1m6 0h1M32 14.5h1m5 0h1m55 0h2m43 0h1m24 0h1m12 0h1m3 0h2m25 0h1m3 0h1M6 15.5h1m21 0h1m2 0h1m34 0h1m5 0h1m112 0h1m6 0h1m2 0h2m2 0h1m9 0h1M19 16.5h1m3 0h1m69 0h1m11 0h1m36 0h2m7 0h1m6 0h1m15 0h1m5 0h1m10 0h1m5 0h1m3 0h1m1 0h1m22 0h1M11 17.5h1m4 0h1m6 0h1m3 0h1m14 0h1m30 0h1m1 0h1m7 0h1m29 0h1m14 0h2m4 0h1m3 0h1m12 0h1m6 0h1m1 0h1m17 0h1m1 0h1m10 0h1m8 0h1M2 18.5h1m27 0h1m1 0h1m21 0h1m17 0h1m7 0h1m2 0h1m20 0h1m18 0h1m5 0h1m9 0h1m4 0h1m12 0h2m3 0h1m10 0h1m8 0h1m1 0h1m1 0h1m17 0h1M27 19.5h1m28 0h1m3 0h3m6 0h1m33 0h1m9 0h1m17 0h1m26 0h1m5 0h1m4 0h1m21 0h1m20 0h1m14 0h1M5 20.5h2m9 0h3m8 0h1m6 0h1m8 0h1m18 0h1m3 0h1m2 0h1m28 0h1m2 0h1m16 0h1m31 0h1m5 0h1m3 0h1m1 0h1m1 0h2m6 0h1m11 0h1m3 0h1m1 0h2m7 0h2m36 0h2M4 21.5h1m41 0h1m13 0h1m34 0h1m27 0h1m11 0h1m31 0h1m32 0h1m8 0h1M13 22.5h1m20 0h1m3 0h1m47 0h1m59 0h2m16 0h2m6 0h1m44 0h1m12 0h1M20 23.5h1m2 0h2m11 0h1m4 0h1m88 0h1m11 0h1m1 0h1m7 0h1m2 0h2m11 0h1m1 0h1m15 0h1m3 0h1m40 0h1M23 24.5h1m15 0h2m4 0h1m3 0h1m21 0h1m41 0h1m10 0h1m8 0h1m23 0h1m1 0h1m12 0h1m11 0h1m12 0h1m3 0h2m35 0h1M6 25.5h1m6 0h1m12 0h1m26 0h1m9 0h1m8 0h1m1 0h1m12 0h1m63 0h1m3 0h1m3 0h1m11 0h1m2 0h1m11 0h1m2 0h1M0 26.5h1m9 0h1m5 0h1m4 0h1m9 0h2m12 0h1m9 0h1m16 0h1m2 0h1m16 0h1m5 0h1m14 0h1m2 0h1m45 0h1m26 0h1m5 0h2m15 0h1m9 0h1M6 27.5h1m7 0h2m15 0h2m11 0h1m8 0h1m4 0h1m2 0h1m23 0h1m3 0h1m9 0h1m32 0h1m45 0h1m45 0h1M34 28.5h1m49 0h1m4 0h1m49 0h1m17 0h1m10 0h1m24 0h1m7 0h1m11 0h1m7 0h1m9 0h1M7 29.5h1m21 0h1m22 0h1m2 0h1m1 0h1m4 0h1m4 0h1m10 0h2m8 0h2m8 0h1m3 0h1m7 0h1m21 0h1m13 0h1m37 0h1m3 0h1m2 0h1m4 0h1m14 0h1M7 30.5h1m5 0h1m50 0h2m7 0h1m2 0h2m5 0h1m6 0h1m12 0h1m29 0h1m7 0h2m17 0h1m1 0h1m4 0h1m10 0h1m1 0h1m5 0h1m5 0h1m4 0h1m9 0h1m6 0h1m24 0h1M12 31.5h2m6 0h1m40 0h1m37 0h1m4 0h1m17 0h1m4 0h1m1 0h1m3 0h1m26 0h1m8 0h1m2 0h1m16 0h2m2 0h2m13 0h1m9 0h1M13 32.5h1m9 0h1m13 0h1m16 0h1m1 0h1m34 0h1m3 0h1m7 0h1m57 0h1m6 0h1m5 0h2m21 0h2m13 0h1M7 33.5h1m1 0h1m18 0h1m1 0h1m7 0h2m8 0h1m8 0h1m4 0h1m17 0h1m6 0h1m20 0h1m26 0h1m31 0h1m22 0h1m9 0h1m8 0h3m13 0h1M0 34.5h1m7 0h1m6 0h1m5 0h1m7 0h1m1 0h1m10 0h1m27 0h2m4 0h1m3 0h1m7 0h1m42 0h2m8 0h1m17 0h2m7 0h1m13 0h1m15 0h1m2 0h1m1 0h1m21 0h1m2 0h1M2 35.5h2m19 0h1m4 0h1m1 0h1m7 0h2m1 0h1m1 0h1m2 0h1m3 0h1m2 0h1m15 0h3m1 0h1m1 0h1m3 0h1m2 0h3m21 0h1m29 0h2m16 0h1m11 0h1m13 0h4m5 0h1m8 0h1m24 0h1m3 0h1M0 36.5h1m1 0h2m2 0h1m10 0h2m2 0h1m5 0h1m3 0h1m8 0h1m1 0h1m3 0h1m3 0h1m1 0h1m6 0h1m6 0h1m4 0h1m4 0h2m3 0h1m10 0h1m18 0h1m65 0h1m1 0h1m6 0h1m2 0h1m2 0h2m13 0h2M12 37.5h2m16 0h1m1 0h2m10 0h1m4 0h1m1 0h1m2 0h2m1 0h1m3 0h1m3 0h1m2 0h1m2 0h1m2 0h1m4 0h2m16 0h1m35 0h1m13 0h1m15 0h1m14 0h1m2 0h1m4 0h2m4 0h1m11 0h1m5 0h1m8 0h1M1 38.5h2m35 0h1m1 0h1m2 0h1m2 0h1m17 0h1m7 0h1m1 0h1m19 0h2m2 0h1m3 0h1m14 0h1m9 0h1m11 0h1m1 0h1m2 0h1m1 0h1m7 0h1m4 0h1m6 0h1m3 0h1m2 0h1m1 0h2m2 0h1m1 0h1m7 0h1m2 0h2m2 0h1m14 0h2M22 39.5h1m1 0h1m5 0h1m3 0h1m5 0h1m3 0h3m1 0h1m4 0h1m1 0h1m4 0h1m9 0h1m17 0h1m7 0h1m1 0h1m30 0h1m10 0h1m13 0h1m27 0h1m4 0h1m4 0h1m2 0h3m1 0h1m1 0h1m3 0h1m2 0h2M1 40.5h1m3 0h2m5 0h1m1 0h1m3 0h1m5 0h3m5 0h1m6 0h1m26 0h1m5 0h1m9 0h1m11 0h2m21 0h2m40 0h1m12 0h1m2 0h1m3 0h1m5 0h5m3 0h1m15 0h1M3 41.5h1m1 0h2m2 0h2m9 0h1m2 0h2m1 0h1m17 0h4m1 0h1m1 0h1m1 0h3m2 0h1m7 0h1m1 0h1m8 0h1m20 0h1m9 0h1m5 0h1m7 0h1m9 0h1m9 0h1m3 0h1m11 0h1m2 0h3m5 0h1m5 0h1m3 0h1m6 0h1m7 0h1m2 0h2m1 0h1m6 0h1m10 0h1M6 42.5h2m11 0h2m2 0h2m5 0h1m3 0h1m8 0h1m2 0h2m2 0h2m1 0h1m1 0h1m1 0h1m2 0h1m3 0h1m1 0h1m3 0h2m2 0h2m17 0h1m56 0h1m7 0h1m1 0h1m5 0h1m7 0h2m5 0h1m5 0h1m16 0h1m2 0h3m16 0h1M1 43.5h1m16 0h2m6 0h2m2 0h1m4 0h1m2 0h1m4 0h3m3 0h1m4 0h3m4 0h1m4 0h1m1 0h1m4 0h2m9 0h1m18 0h1m12 0h1m3 0h1m1 0h1m10 0h2m9 0h1m20 0h1m3 0h1m7 0h1m2 0h1m5 0h1m1 0h1m2 0h1m15 0h1m6 0h1M0 44.5h1m2 0h1m2 0h2m7 0h1m2 0h1m1 0h1m2 0h2m5 0h1m1 0h1m31 0h1m9 0h1m8 0h2m49 0h1m42 0h1m12 0h1m2 0h1m7 0h1M7 45.5h1m5 0h1m2 0h2m2 0h1m1 0h1m7 0h1m2 0h1m2 0h1m4 0h1m5 0h1m3 0h1m6 0h1m1 0h1m1 0h1m12 0h1m1 0h1m2 0h1m31 0h1m34 0h1m9 0h1m1 0h1m8 0h1m1 0h1m4 0h2m16 0h2m1 0h2m2 0h1m6 0h1m1 0h1m8 0h1M12 46.5h1m25 0h1m5 0h1m5 0h1m30 0h1m2 0h1m18 0h1m11 0h1m23 0h1m5 0h1m4 0h1m26 0h1m9 0h2m5 0h1m6 0h2m1 0h1M4 47.5h1m6 0h1m3 0h1m1 0h1m12 0h1m5 0h1m1 0h1m5 0h1m5 0h1m1 0h1m1 0h2m3 0h3m7 0h1m6 0h1m27 0h1m63 0h2m12 0h1M4 48.5h1m5 0h1m6 0h1m7 0h1m1 0h1m7 0h1m9 0h1m1 0h2m14 0h1m3 0h1m8 0h1m13 0h1m17 0h1m8 0h1m32 0h2m9 0h1m19 0h2m9 0h1m13 0h1M1 49.5h1m3 0h1m2 0h1m1 0h1m2 0h1m9 0h1m8 0h1m13 0h3m4 0h1m5 0h1m8 0h1m12 0h1m41 0h1m12 0h1m4 0h1m3 0h1m7 0h1m6 0h1m17 0h1m4 0h1m1 0h1m4 0h2m1 0h1m6 0h1m2 0h1m23 0h1M4 50.5h1m7 0h1m7 0h1m4 0h1m7 0h1m7 0h1m16 0h2m1 0h1m7 0h1m2 0h1m11 0h1m3 0h1m66 0h1m10 0h1m20 0h1m6 0h1m2 0h1m40 0h1M1 51.5h1m1 0h1m5 0h1m13 0h1m2 0h1m4 0h1m11 0h1m3 0h1m2 0h1m6 0h1m1 0h1m4 0h1m2 0h2m5 0h1m14 0h1m30 0h1m58 0h1m3 0h1m1 0h1m1 0h1m1 0h1m1 0h2m3 0h2m1 0h1m5 0h1M1 52.5h1m19 0h1m5 0h1m19 0h1m15 0h1m11 0h1m3 0h1m103 0h1m2 0h2m6 0h1M1 53.5h1m21 0h1m5 0h1m8 0h1m7 0h1m14 0h1m14 0h1m18 0h2m21 0h1m38 0h1m11 0h1m12 0h1m6 0h1m3 0h1m8 0h1M1 54.5h1m14 0h2m19 0h1m1 0h2m3 0h1m22 0h1m5 0h1m6 0h1m24 0h1m9 0h1m6 0h1m2 0h1m1 0h1m50 0h1m23 0h1M2 55.5h1m3 0h1m2 0h1m2 0h1m8 0h1m1 0h2m5 0h1m28 0h1m36 0h1m11 0h1m60 0h1m15 0h1m6 0h2m2 0h2M8 56.5h2m25 0h1m5 0h1m1 0h1m7 0h1m16 0h1m27 0h1m53 0h1m40 0h2m2 0h2m3 0h2M5 57.5h1m2 0h1m5 0h1m2 0h2m3 0h1m15 0h1m4 0h1m23 0h1m46 0h1m4 0h1m11 0h1m21 0h1m26 0h2m1 0h1m1 0h1m7 0h1M5 58.5h1m5 0h1m6 0h1m7 0h1m1 0h2m58 0h2m13 0h1m42 0h1m9 0h1m27 0h1m4 0h1m6 0h1M0 59.5h1m3 0h1m22 0h1m43 0h1m5 0h1m9 0h1m27 0h1m7 0h1m28 0h1m27 0h2m1 0h1m16 0h1M2 60.5h1m4 0h1m1 0h1m3 0h1m26 0h1m130 0h1m3 0h1m9 0h1m1 0h1m1 0h1m4 0h1m1 0h2M9 61.5h1m5 0h1m1 0h1m31 0h1m11 0h1m5 0h1m4 0h1m42 0h1m39 0h1m22 0h1m10 0h2M2 62.5h1m3 0h2m5 0h1m3 0h1m6 0h1m15 0h1m19 0h1m3 0h1m26 0h1m27 0h1m37 0h1m12 0h2m23 0h2M10 63.5h1m11 0h1m15 0h2m2 0h1m14 0h1m116 0h2m9 0h2m5 0h1m1 0h4M0 64.5h2m11 0h1m42 0h1m6 0h1m7 0h1m3 0h1m15 0h1m5 0h1m5 0h1m4 0h1m26 0h1m34 0h1m8 0h1m3 0h1m5 0h2M22 65.5h1m19 0h1m99 0h1m10 0h1m19 0h1m6 0h1m6 0h1M20 66.5h1m41 0h1m132 0h1M77 67.5h1m50 0h1m47 0h1m1 0h1m10 0h1M2 68.5h1m20 0h1m158 0h1M19 69.5h1m6 0h1m33 0h1m35 0h1m82 0h1m5 0h1M5 70.5h1m62 0h1m102 0h1m9 0h1m14 0h1M76 71.5h1m2 0h1m91 0h1m7 0h1m8 0h1m7 0h1M177 72.5h1m3 0h1M171 74.5h1M193 76.5h1M188 77.5h1"/>
<path stroke="#c1c32d" d="M9 0.5h1m8 0h1m12 0h1m4 0h1m12 0h1m87 0h1m61 0h1m4 0h1m6 0h1M32 1.5h1m45 0h1m27 0h1m23 0h1m27 0h1m37 0h1M45 2.5h1m4 0h1m4 0h1m94 0h1m56 0h1m6 0h1M54 3.5h1m62 0h1m21 0h1m68 0h1M4 4.5h1m37 0h1m13 0h1m20 0h1m10 0h1m16 0h1m9 0h1m6 0h1m13 0h1m12 0h2m10 0h1m33 0h1M16 5.5h1m4 0h1m42 0h1m27 0h1m38 0h1m13 0h1m14 0h1M23 6.5h1m45 0h1m36 0h1m4 0h1m6 0h1m54 0h1m1 0h1M16 7.5h1m22 0h1m3 0h1m38 0h1m92 0h1m11 0h1m17 0h1M5 8.5h1m43 0h1m10 0h1m27 0h1m6 0h1m18 0h1m72 0h1M48 9.5h1m32 0h1m19 0h1m74 0h1m14 0h1m5 0h1M10 10.5h1m9 0h1m55 0h1m3 0h1m62 0h1m27 0h1m6 0h1m5 0h1M88 11.5h1m12 0h1m88 0h1m48 0h1M3 12.5h1m50 0h1m16 0h1m7 0h2m51 0h1m2 0h1m26 0h1m4 0h1m25 0h1m1 0h1m2 0h1m28 0h1M56 13.5h1m8 0h1m124 0h1m9 0h1M34 14.5h1m73 0h1m1 0h1m41 0h1m1 0h1m31 0h1m6 0h1M26 15.5h1m37 0h2m132 0h1m11 0h1M84 16.5h1m81 0h1m20 0h1m25 0h1M8 17.5h1m39 0h1m18 0h1m35 0h1m31 0h1m91 0h2M112 18.5h1m1 0h1m2 0h1M64 19.5h1m74 0h1m13 0h1M3 20.5h1m185 0h1m11 0h1M7 21.5h1m1 0h1m39 0h1m18 0h2m3 0h1m70 0h1m37 0h1m2 0h1m28 0h1m8 0h1M12 22.5h1m7 0h1m157 0h1m9 0h1m14 0h1M19 23.5h1m65 0h1m107 0h1M27 24.5h2m31 0h1m46 0h1M9 25.5h1m39 0h1m39 0h1m23 0h1m5 0h1m47 0h1M12 26.5h2m43 0h1m114 0h1m6 0h1m25 0h1M4 27.5h1m57 0h1m25 0h1m29 0h1m25 0h1m16 0h2m34 0h1M9 28.5h1m12 0h1m4 0h1m14 0h1m23 0h1m30 0h1m1 0h1m63 0h2m15 0h1M73 29.5h1m11 0h1m23 0h1m48 0h1m20 0h1m2 0h1M21 31.5h1m1 0h1m36 0h1m6 0h1m23 0h1m17 0h1m46 0h1m7 0h1m1 0h1m37 0h1M14 32.5h1m61 0h1m72 0h1M72 33.5h1m26 0h1m25 0h1m3 0h1m59 0h1M161 34.5h1M19 35.5h1m41 0h1m5 0h1m83 0h1M35 37.5h1M6 38.5h1M49 39.5h1m29 0h1"/>
<path stroke="#2699ea" d="M10 0.5h2m27 0h1m7 0h1m2 0h1m60 0h1m10 0h1m7 0h1m4 0h1m18 0h1m4 0h2m2 0h1m1 0h1m17 0h1m4 0h1m3 0h1m20 0h1m11 0h1M6 1.5h1m4 0h1m15 0h1m25 0h1m12 0h1m8 0h1m45 0h2m8 0h2m16 0h1m1 0h1m11 0h1m12 0h1m38 0h1m15 0h1m4 0h1M5 2.5h1m27 0h1m2 0h2m10 0h1m58 0h1m3 0h1m5 0h1m10 0h1m1 0h1m3 0h1m10 0h1m30 0h1m15 0h1m7 0h2m11 0h1M55 3.5h2m13 0h1m18 0h1m2 0h1m3 0h1m17 0h1m1 0h1m20 0h1m16 0h1m3 0h1m8 0h1m3 0h1m7 0h1m6 0h1m1 0h1m18 0h1m3 0h1M51 4.5h1m18 0h1m5 0h1m6 0h1m19 0h2m1 0h1m41 0h1m23 0h1m7 0h1m7 0h1m5 0h1M26 5.5h1m6 0h1m4 0h1m5 0h1m5 0h1m25 0h1m4 0h1m13 0h1m11 0h2m5 0h1m12 0h1m18 0h1m5 0h1m37 0h2m11 0h1m24 0h1m1 0h1M64 6.5h1m11 0h1m40 0h1m18 0h1m5 0h1m13 0h1m8 0h1m12 0h1m9 0h1m6 0h1m3 0h2m2 0h1m7 0h1m18 0h1m3 0h1M22 7.5h1m11 0h2m21 0h1m1 0h1m11 0h1m1 0h1m3 0h2m23 0h1m6 0h1m4 0h1m5 0h1m29 0h1m28 0h1m9 0h1m8 0h1m14 0h1m10 0h2M22 8.5h1m2 0h1m5 0h1m1 0h1m3 0h1m20 0h1m4 0h1m9 0h1m3 0h2m10 0h1m40 0h1m12 0h1m60 0h2m7 0h1M10 9.5h1m2 0h1m16 0h1m44 0h1m18 0h1m9 0h1m1 0h2m1 0h1m16 0h1m14 0h1m1 0h1m6 0h1m8 0h1m8 0h1m5 0h1m3 0h1m1 0h1m9 0h1m2 0h1M16 10.5h1m29 0h1m19 0h1m22 0h1m29 0h1m1 0h1m29 0h1m2 0h1m14 0h1m2 0h1m3 0h2m3 0h1m6 0h1m14 0h1M8 11.5h1m9 0h1m2 0h1m1 0h1m42 0h1m6 0h1m3 0h1m2 0h2m8 0h1m19 0h1m10 0h1m33 0h1m5 0h1m4 0h1m15 0h1m30 0h1M36 12.5h1m21 0h1m2 0h1m12 0h1m1 0h1m16 0h1m9 0h1m17 0h1m18 0h1m25 0h1m8 0h1m13 0h1m19 0h1m3 0h1m2 0h2M2 13.5h1m18 0h1m12 0h1m12 0h1m25 0h1m1 0h1m17 0h2m21 0h1m46 0h1m25 0h1m6 0h1m12 0h2M30 14.5h1m2 0h1m1 0h1m19 0h1m7 0h1m2 0h1m38 0h1m1 0h1m3 0h1m7 0h2m14 0h1m8 0h1m15 0h1m18 0h1m7 0h1m7 0h1m4 0h1m10 0h1m23 0h1M7 15.5h1m19 0h1m43 0h1m5 0h1m8 0h1m7 0h1m41 0h1m1 0h1m4 0h1m14 0h1m21 0h1m9 0h1m6 0h1m5 0h1m34 0h1M27 16.5h1m49 0h1m48 0h1m26 0h1m7 0h1m8 0h1m29 0h1m3 0h1m7 0h1M0 17.5h1m18 0h2m22 0h1m1 0h1m19 0h2m2 0h1m2 0h1m9 0h1m14 0h2m9 0h1m9 0h1m5 0h1m5 0h2m13 0h1m35 0h1m1 0h1m14 0h2m2 0h1m3 0h1m2 0h1m3 0h1M49 18.5h1m16 0h1m10 0h1m27 0h1m16 0h1m9 0h1m30 0h1m10 0h1m22 0h1m28 0h1m10 0h1M0 19.5h1m1 0h1m25 0h2m2 0h1m2 0h1m11 0h1m60 0h1m8 0h1m12 0h1m21 0h1m13 0h1m19 0h1m10 0h1m12 0h2m2 0h1m23 0h1M7 20.5h1m38 0h2m1 0h1m23 0h1m53 0h1m23 0h1m57 0h1m14 0h1M6 21.5h1m40 0h1m7 0h1m2 0h2m5 0h1m81 0h1m21 0h1m10 0h1m8 0h1m3 0h1m1 0h1m12 0h1M79 22.5h1m4 0h1m22 0h1m61 0h1m3 0h2m18 0h1m2 0h1m2 0h1m21 0h1m16 0h1M15 23.5h1m1 0h1m4 0h1m20 0h1m4 0h1m32 0h1m54 0h1m4 0h1m11 0h1m18 0h1m1 0h1m3 0h3m3 0h1m11 0h1m11 0h1m14 0h1M4 24.5h1m1 0h1m17 0h1m4 0h1m8 0h1m15 0h1m44 0h1m52 0h1m10 0h1m2 0h1m3 0h1m40 0h1m1 0h1M23 25.5h1m6 0h1m3 0h1m11 0h1m7 0h1m10 0h2m8 0h1m5 0h1m16 0h1m55 0h1m11 0h1m18 0h1m10 0h1m10 0h1m9 0h1m7 0h1M24 26.5h1m26 0h1m29 0h1m2 0h1m5 0h1m38 0h1m18 0h1m12 0h1m1 0h1m23 0h1M16 27.5h1m1 0h1m32 0h1m3 0h1m3 0h1m27 0h1m6 0h1m47 0h1m10 0h1m19 0h1M1 28.5h1m30 0h1m2 0h1m54 0h2m68 0h1m1 0h1m13 0h1m10 0h1m1 0h1m1 0h1m5 0h1m4 0h1m31 0h1M4 29.5h1m9 0h1m16 0h1m22 0h1m11 0h1m3 0h1m1 0h1m4 0h1m12 0h1m3 0h1m38 0h1m26 0h1m8 0h1m17 0h1m4 0h1m8 0h1m1 0h1M55 30.5h1m5 0h1m4 0h1m2 0h1m12 0h1m19 0h1m12 0h1m38 0h1m20 0h1m8 0h2m2 0h1m1 0h1m14 0h1M77 31.5h1m47 0h1m29 0h1m7 0h1m3 0h1m9 0h2m2 0h1m16 0h2M10 32.5h1m13 0h1m4 0h1m3 0h1m14 0h1m4 0h1m4 0h2m17 0h1m8 0h1m7 0h1m21 0h1m15 0h1m23 0h2m18 0h1m3 0h1m6 0h2m10 0h1m21 0h1m2 0h1M3 33.5h1m7 0h1m33 0h1m4 0h1m20 0h1m14 0h1m1 0h1m11 0h1m71 0h2m1 0h2m9 0h1m1 0h1m8 0h1m1 0h1M1 34.5h1m21 0h1m11 0h1m16 0h2m7 0h1m12 0h1m2 0h1m38 0h1m10 0h1m43 0h1m4 0h1m6 0h1m1 0h1m3 0h1M12 35.5h2m3 0h2m6 0h1m21 0h1m16 0h1m42 0h1m2 0h1m3 0h1m55 0h1m6 0h1m21 0h1M4 36.5h1m9 0h1m5 0h1m4 0h1m4 0h1m24 0h1m2 0h1m3 0h1m4 0h1m2 0h1m11 0h1m46 0h1m61 0h1m10 0h1m7 0h1M9 37.5h1m52 0h1m4 0h1m2 0h1m2 0h1m42 0h1m23 0h1m3 0h1m4 0h1m30 0h1m4 0h1m5 0h1m16 0h1M32 38.5h2m3 0h1m12 0h2m24 0h1m3 0h1m51 0h1m49 0h1m7 0h1m12 0h1m14 0h1M6 39.5h1m22 0h1m11 0h1m30 0h1m14 0h1m29 0h1m7 0h1m62 0h1M36 40.5h1m15 0h1m53 0h1m8 0h1m18 0h1m69 0h1M11 41.5h1m1 0h3m94 0h1m65 0h1m8 0h1m17 0h1M1 42.5h1m1 0h2m28 0h1m7 0h2m1 0h1m23 0h1m7 0h1m23 0h1m61 0h1m20 0h1m6 0h1m12 0h1M11 43.5h1m4 0h1m19 0h1m9 0h1m22 0h1m5 0h1m17 0h1m73 0h1m4 0h1m20 0h1m37 0h1M44 44.5h1m5 0h1m4 0h1m1 0h1m2 0h1m41 0h1m29 0h1m41 0h1m6 0h1m4 0h1m21 0h1m18 0h1M6 45.5h1m2 0h1m2 0h1m1 0h1m17 0h1m9 0h1m22 0h1m3 0h1m6 0h1m13 0h1m6 0h1m10 0h1m15 0h1m17 0h1m8 0h1m46 0h1M13 46.5h1m2 0h1m4 0h1m11 0h1m21 0h1m11 0h1m4 0h1m2 0h1m25 0h1m6 0h1m40 0h1m1 0h2m50 0h1m1 0h1m32 0h1M2 47.5h1m13 0h1m10 0h1m4 0h1m6 0h1m28 0h1m31 0h1m83 0h1m11 0h1m2 0h1m2 0h1M2 48.5h1m28 0h2m5 0h1m11 0h1m9 0h1m3 0h1m1 0h1m1 0h1m23 0h1m14 0h1m11 0h2m62 0h1m2 0h1m4 0h1m1 0h1m3 0h1m6 0h2M22 49.5h1m5 0h1m11 0h1m2 0h1m6 0h2m2 0h1m39 0h1m73 0h1m17 0h1M10 50.5h1m2 0h1m12 0h1m10 0h1m7 0h1m14 0h1m3 0h1m1 0h1m7 0h1m19 0h1m10 0h1m18 0h1m59 0h1m5 0h1m7 0h1m2 0h1M28 51.5h1m3 0h1m8 0h1m9 0h1m3 0h1m4 0h1m1 0h1m43 0h1m4 0h1m5 0h1m62 0h1m5 0h1m14 0h2m15 0h1M25 52.5h2m44 0h1m33 0h1m7 0h1m71 0h1m2 0h1m4 0h1m1 0h1M20 53.5h1m38 0h1m7 0h1m39 0h1m79 0h1M10 54.5h1m14 0h1m32 0h1m3 0h2m24 0h1m103 0h1M48 55.5h1M15 56.5h1m14 0h1m15 0h1m9 0h1m12 0h1m41 0h1m37 0h1m20 0h1m11 0h1m4 0h1M21 57.5h1m6 0h1m27 0h1m21 0h1m28 0h1m50 0h1m28 0h1M2 58.5h1m6 0h1m9 0h1m156 0h1m13 0h1M69 59.5h1m4 0h1m14 0h1m80 0h1m4 0h1m2 0h2M26 60.5h1m73 0h1M16 61.5h1m93 0h1m58 0h1m12 0h1m8 0h1m3 0h1M20 62.5h1m12 0h1m141 0h1m1 0h1m4 0h1M16 63.5h1m1 0h1m44 0h1m40 0h1m42 0h1m28 0h1M6 64.5h1m9 0h1m165 0h1m17 0h1M174 65.5h1M10 66.5h1m162 0h1m15 0h1M170 67.5h1m9 0h1m16 0h1M180 68.5h1M28 69.5h1m162 0h1M24 70.5h1m149 0h1M174 71.5h1M178 72.5h1"/>
<path stroke="#f5ba3a" d="M12 0.5h1m7 0h1m111 0h1m5 0h1m10 0h4m21 0h1m3 0h1m15 0h1m29 0h1M33 1.5h1m42 0h1m69 0h2m44 0h1m19 0h1m25 0h1M31 2.5h1m24 0h1m20 0h1m9 0h1m4 0h1m10 0h1m1 0h2m3 0h1m27 0h2m3 0h1m34 0h1m17 0h1M42 3.5h1m1 0h1m90 0h1m89 0h1M6 4.5h1m26 0h1m30 0h1m49 0h1m9 0h1m32 0h1m26 0h1m17 0h1M37 5.5h1m13 0h1m1 0h1m9 0h1m5 0h1m26 0h1m40 0h1m28 0h1m56 0h1m12 0h1M15 6.5h1m21 0h1m47 0h1m53 0h1M20 7.5h2m18 0h1m17 0h1m16 0h1m69 0h1m21 0h1m20 0h1m17 0h1M3 8.5h1m5 0h1m16 0h1m14 0h1m2 0h1m34 0h1m52 0h1m11 0h1m3 0h1m20 0h1m18 0h1m8 0h1m11 0h1m5 0h1M34 9.5h1m61 0h1m3 0h1m10 0h1m17 0h1m21 0h1m3 0h1m8 0h1m1 0h1m20 0h1M22 10.5h1m14 0h1m12 0h1m69 0h1m11 0h1M4 11.5h1m14 0h1m35 0h1m16 0h1m10 0h1m15 0h1m8 0h1m3 0h1m4 0h1m29 0h1m31 0h1m35 0h1M5 12.5h1m3 0h1m65 0h1m32 0h2m23 0h1m58 0h1m30 0h1M15 13.5h1m6 0h1m34 0h1m13 0h1m9 0h1m1 0h1m27 0h1m7 0h1m22 0h1m35 0h1m7 0h1m1 0h1M0 14.5h1m56 0h1m4 0h1m6 0h2m3 0h1m5 0h1m1 0h1m67 0h1m63 0h1M95 15.5h1m61 0h1m1 0h1m9 0h1m9 0h1M20 16.5h3m67 0h1m74 0h1m5 0h1m16 0h2M13 17.5h1m30 0h1m6 0h1m25 0h1m59 0h1m9 0h1m4 0h1m9 0h1m21 0h1m5 0h1m13 0h1M51 18.5h1m18 0h1m4 0h1m9 0h1m15 0h1m25 0h1m28 0h1m4 0h1M14 20.5h1m40 0h1m18 0h1m22 0h1m1 0h1m52 0h1m13 0h1m29 0h2M0 21.5h1m49 0h1m48 0h1m5 0h1m68 0h1m4 0h1m14 0h1m1 0h1m5 0h1M4 22.5h1m10 0h1m69 0h1m1 0h1m70 0h1m7 0h1m16 0h1m14 0h1M18 23.5h1m8 0h1m1 0h1m2 0h2m11 0h1m3 0h1m64 0h1m14 0h1m67 0h1M1 24.5h1m24 0h1m19 0h1m32 0h2m9 0h1m13 0h1m16 0h1m39 0h1m9 0h1m26 0h1M68 25.5h1m19 0h1m19 0h1m11 0h2m10 0h1m23 0h1m13 0h1m40 0h1m23 0h1M43 26.5h2m5 0h1m5 0h1m25 0h1m4 0h1m3 0h1m18 0h1m11 0h1m35 0h1m11 0h1m46 0h1M20 27.5h2m2 0h1m2 0h1m14 0h1m2 0h1m11 0h1m5 0h1m27 0h1m23 0h1m56 0h1m6 0h1m10 0h1m2 0h1M48 28.5h1m12 0h1m48 0h1m9 0h1m8 0h1m11 0h1m32 0h1m17 0h1m5 0h2m9 0h1M1 29.5h1m59 0h1m12 0h1m65 0h1m13 0h2m20 0h1m6 0h1m14 0h1m10 0h1M29 30.5h1m32 0h1m16 0h1m11 0h1m47 0h1m21 0h1M9 31.5h1m6 0h1m54 0h1m49 0h1m2 0h1m67 0h1m8 0h1M45 32.5h1m112 0h1m14 0h1m11 0h1m32 0h1m11 0h1M47 33.5h1m28 0h1m46 0h1m17 0h1m51 0h1m8 0h1M12 34.5h1m9 0h1m37 0h1m28 0h1m14 0h1m67 0h1m20 0h1M24 35.5h1m71 0h1M5 36.5h1m7 0h1m14 0h2m2 0h1m11 0h1m34 0h1m126 0h1M42 37.5h1m13 0h1m9 0h1m14 0h1m1 0h1m95 0h1M65 38.5h1m15 0h1m78 0h1m16 0h1m22 0h1m3 0h1m3 0h1M69 39.5h1m166 0h1M68 40.5h1m10 0h1m116 0h1M16 41.5h1m8 0h1m15 0h2m59 0h1m25 0h1m54 0h1m18 0h1M36 42.5h1m41 0h1m2 0h1m62 0h1m40 0h1M176 43.5h1m5 0h1M13 44.5h1m2 0h1m51 0h1m58 0h1m52 0h1M53 45.5h1m78 0h1m45 0h1M45 46.5h1m7 0h1m8 0h1m5 0h1m112 0h1m2 0h1M26 47.5h1m106 0h1m71 0h1M201 48.5h1M45 49.5h1m59 0h1m98 0h1M44 50.5h1M25 51.5h1m75 0h1m49 0h1M20 52.5h1m118 0h1M25 53.5h2m10 0h1m153 0h1M3 55.5h1m23 0h1M62 56.5h1m44 0h1m43 0h1M34 57.5h1M98 58.5h1M75 60.5h1M78 61.5h1M173 62.5h1m7 0h1M35 63.5h1m48 0h1M194 68.5h1M146 69.5h1m25 0h1M41 70.5h1M166 71.5h1"/>
<path stroke="#15afd9" d="M13 0.5h1m5 0h1m5 0h1m7 0h1m3 0h1m2 0h2m6 0h1m18 0h1m3 0h1m6 0h2m26 0h1m20 0h1m6 0h1m7 0h1m3 0h1m23 0h1m1 0h1m6 0h2m15 0h1m10 0h1m2 0h1m3 0h2m2 0h1m14 0h1M4 1.5h2m2 0h1m8 0h1m24 0h1m5 0h1m3 0h1m12 0h1m54 0h1m7 0h1m21 0h1m18 0h1m15 0h1m7 0h1m4 0h2m7 0h1m6 0h1m8 0h1M34 2.5h1m16 0h1m37 0h1m8 0h1m27 0h1m6 0h1m24 0h1m6 0h2m16 0h1m18 0h1m5 0h1M37 3.5h1m5 0h1m34 0h2m21 0h1m4 0h1m5 0h1m2 0h1m15 0h1m10 0h1m1 0h1m14 0h1m8 0h1m1 0h1m1 0h1m25 0h1m5 0h1m7 0h1M0 4.5h1m36 0h1m5 0h2m80 0h1m3 0h1m9 0h1m26 0h1m29 0h1m10 0h2m1 0h1M17 5.5h2m27 0h1m2 0h1m18 0h1m2 0h1m2 0h1m22 0h1m13 0h1m17 0h1m20 0h1m13 0h1m20 0h1m1 0h1M20 6.5h1m45 0h1m3 0h1m6 0h1m23 0h1m2 0h1m5 0h1m24 0h1m5 0h1m11 0h3m10 0h1m39 0h1M42 7.5h1m7 0h2m1 0h1m1 0h1m11 0h1m1 0h1m33 0h1m2 0h2m4 0h2m8 0h1m13 0h1m7 0h1m6 0h1m24 0h1m9 0h1m22 0h1m4 0h1M18 8.5h2m10 0h1m31 0h1m11 0h1m1 0h1m41 0h1m4 0h1m12 0h1m10 0h1m19 0h1m4 0h1m2 0h1m9 0h1m13 0h1m6 0h1m4 0h1M5 9.5h1m12 0h1m5 0h2m18 0h1m6 0h1m5 0h1m9 0h1m6 0h1m4 0h1m2 0h1m14 0h1m16 0h1m6 0h1m9 0h1m5 0h2m17 0h1m29 0h1m5 0h1m2 0h1m2 0h1m36 0h1M4 10.5h1m27 0h1m3 0h1m3 0h1m27 0h1m2 0h1m5 0h1m10 0h1m1 0h1m9 0h1m26 0h1m8 0h1m8 0h1m6 0h2m2 0h1m1 0h1m14 0h1m28 0h1M5 11.5h1m16 0h1m1 0h2m2 0h1m11 0h1m19 0h1m13 0h1m4 0h1m23 0h1m3 0h1m11 0h1m5 0h1m5 0h1m16 0h3m16 0h2m9 0h1m1 0h1m6 0h1m6 0h1m6 0h1m8 0h3M2 12.5h1m7 0h1m10 0h1m1 0h1m4 0h1m6 0h1m23 0h1m3 0h2m1 0h1m3 0h1m12 0h1m29 0h1m20 0h1m4 0h1m30 0h1m7 0h1m18 0h1m22 0h1m11 0h1M3 13.5h1m12 0h1m13 0h1m17 0h1m12 0h1m10 0h1m1 0h1m3 0h2m5 0h1m1 0h1m1 0h1m16 0h1m2 0h1m3 0h2m14 0h1m7 0h1m1 0h2m5 0h1m10 0h1m4 0h1m4 0h2m8 0h1m9 0h1m5 0h1m4 0h2m5 0h1m2 0h1m18 0h1M1 14.5h1m1 0h1m35 0h1m16 0h1m4 0h1m2 0h1m7 0h1m14 0h1m3 0h1m7 0h1m3 0h1m5 0h1m4 0h1m18 0h1m8 0h1m8 0h1m4 0h1m1 0h2m5 0h1m17 0h2m3 0h1m12 0h1M4 15.5h1m6 0h1m8 0h1m8 0h1m38 0h1m1 0h1m4 0h1m74 0h1m9 0h1m32 0h2m18 0h1m8 0h1M147 16.5h1m9 0h1m1 0h1m2 0h2m22 0h1m22 0h1M17 17.5h1m3 0h2m2 0h1m3 0h1m16 0h2m1 0h1m2 0h1m15 0h1m26 0h2m2 0h1m1 0h1m2 0h1m20 0h1m20 0h1m9 0h1m4 0h1m12 0h1m4 0h1m6 0h1m10 0h1m3 0h1M47 18.5h1m38 0h1m2 0h1m6 0h1m3 0h1m12 0h1m7 0h1m8 0h1m2 0h1m2 0h1m8 0h1m5 0h1m1 0h1m5 0h1m9 0h1m17 0h1m8 0h1m1 0h2m1 0h1m3 0h1M34 19.5h1m16 0h1m15 0h1m6 0h1m22 0h1m74 0h1m10 0h1m16 0h1m6 0h1M1 20.5h1m7 0h1m12 0h1m37 0h1m4 0h1m70 0h1m9 0h1m11 0h1m15 0h1m8 0h1m11 0h1m12 0h1M23 21.5h1m3 0h1m4 0h2m20 0h1m7 0h1m7 0h1m67 0h1m12 0h1m16 0h1m3 0h1m11 0h1m7 0h1M17 22.5h1m13 0h2m71 0h1m12 0h1m35 0h2m12 0h1m9 0h1m13 0h2M3 23.5h1m4 0h1m3 0h1m24 0h1m9 0h1m86 0h1m19 0h1m5 0h1m1 0h1m3 0h1m6 0h1m7 0h1m7 0h1m14 0h1m1 0h2m5 0h1M5 24.5h1m3 0h1m23 0h1m3 0h1m3 0h2m8 0h1m1 0h1m7 0h1m1 0h1m28 0h1m2 0h1m57 0h1m10 0h2m2 0h1m24 0h3M1 25.5h1m8 0h1m24 0h1m9 0h1m9 0h2m10 0h1m17 0h1m5 0h1m34 0h1m1 0h1m1 0h1m14 0h1m2 0h1m4 0h1m6 0h1m1 0h1m1 0h1m8 0h1m14 0h1m4 0h1m8 0h2m9 0h1m9 0h1m7 0h1M14 26.5h2m4 0h1m9 0h1m18 0h1m13 0h1m4 0h1m31 0h1m23 0h1m5 0h1m23 0h2m10 0h1m2 0h1m7 0h2m3 0h1M0 27.5h1m4 0h1m1 0h1m9 0h1m15 0h1m3 0h1m3 0h1m10 0h1m7 0h1m25 0h1m34 0h1m24 0h1m11 0h1m1 0h1m3 0h3m13 0h1m4 0h1m6 0h1m5 0h1m6 0h1m3 0h1M8 28.5h1m5 0h1m5 0h2m7 0h2m16 0h1m38 0h1m51 0h1m20 0h1m5 0h3m9 0h1m5 0h2m48 0h1M0 29.5h1m1 0h2m19 0h1m39 0h1m4 0h2m1 0h1m8 0h1m5 0h1m5 0h1m10 0h1m67 0h1m2 0h1m3 0h1m1 0h1m18 0h1m5 0h1m2 0h1m1 0h1M14 30.5h1m9 0h1m1 0h1m27 0h1m8 0h1m7 0h1m17 0h1m2 0h1m18 0h1m41 0h1m50 0h1M11 31.5h1m3 0h1m13 0h1m32 0h1m2 0h2m46 0h1m32 0h1m10 0h3m22 0h1m5 0h1m7 0h1m5 0h2m5 0h1m1 0h1M2 32.5h1m15 0h1m2 0h1m6 0h1m15 0h1m10 0h1m8 0h3m14 0h2m2 0h1m7 0h1m24 0h1m11 0h1m28 0h1m18 0h1m13 0h1m1 0h1M12 33.5h1m16 0h1m2 0h1m3 0h2m8 0h1m16 0h1m110 0h1m19 0h1m1 0h1m19 0h1M36 34.5h1m11 0h1m15 0h1m4 0h1m12 0h2m51 0h1m16 0h1m17 0h1m10 0h1m15 0h1m1 0h1M4 35.5h1m15 0h2m4 0h1m13 0h1m4 0h1m9 0h1m10 0h1m1 0h1m9 0h1m11 0h1m6 0h1m2 0h1m2 0h1m15 0h1m54 0h1m15 0h2m3 0h2M1 36.5h1m13 0h1m7 0h2m32 0h1m3 0h1m1 0h1m5 0h1m4 0h1m29 0h1m2 0h1m54 0h1m20 0h1m4 0h1m8 0h1m3 0h1M7 37.5h1m16 0h1m12 0h1m1 0h1m23 0h1m48 0h1m58 0h1m10 0h1m18 0h1m3 0h1m1 0h1m3 0h1M3 38.5h1m1 0h1m19 0h1m5 0h1m7 0h1m1 0h1m3 0h1m1 0h1m5 0h1m4 0h1m18 0h1m1 0h1m4 0h1m12 0h1m21 0h1m5 0h1m73 0h1m24 0h1M0 39.5h1m32 0h1m5 0h1m12 0h1m4 0h1m1 0h1m72 0h1m51 0h1m8 0h2M10 40.5h1m2 0h1m36 0h1m2 0h1m35 0h1m18 0h1m13 0h1m1 0h1m13 0h1m37 0h1m1 0h1m4 0h1M35 41.5h1m14 0h1m11 0h2m11 0h1m14 0h1m97 0h1m10 0h1M12 42.5h1m8 0h1m37 0h1m13 0h1m3 0h1m36 0h1m22 0h1m21 0h1m1 0h1m17 0h1m2 0h1m14 0h1M9 43.5h1m3 0h1m19 0h2m13 0h1m9 0h2m16 0h1m64 0h1m13 0h2m35 0h1m12 0h1m7 0h1M12 44.5h1m12 0h2m21 0h1m5 0h1m12 0h1m51 0h1m17 0h1m45 0h1m15 0h2M18 45.5h2m3 0h1m20 0h1m5 0h1m20 0h1m2 0h1m3 0h1m23 0h1m6 0h1m29 0h1m16 0h1m25 0h1m6 0h1m2 0h1M3 46.5h1m13 0h1m2 0h1m38 0h1m5 0h1m104 0h1m22 0h1m1 0h1m3 0h1m14 0h1M13 47.5h1m19 0h2m7 0h1m22 0h1m52 0h2m5 0h1m31 0h1m12 0h1m4 0h1m9 0h1m12 0h1M3 48.5h1m22 0h1m1 0h1m10 0h1m17 0h1m11 0h1m62 0h1m37 0h1m2 0h1m15 0h1M0 49.5h1m5 0h1m29 0h1m7 0h1m16 0h1m5 0h1m31 0h1m74 0h1m5 0h2m19 0h1M2 50.5h1m2 0h1m15 0h1m5 0h1m2 0h1m1 0h1m7 0h1m11 0h1m3 0h1m18 0h1m2 0h1m14 0h1m17 0h1m6 0h1m23 0h1m6 0h1m4 0h1m48 0h1M24 51.5h1m12 0h2m3 0h1m2 0h1m7 0h1m12 0h1m19 0h1m21 0h1m1 0h1m28 0h1m5 0h1m57 0h1M28 52.5h1m43 0h1m14 0h1m92 0h1m19 0h1M22 53.5h1m25 0h1m23 0h1m15 0h1m3 0h1m21 0h1m35 0h1M12 54.5h2m1 0h1m13 0h1m4 0h1m39 0h1m15 0h1m91 0h1m1 0h1m1 0h2m10 0h1M28 55.5h1m3 0h1m56 0h1m1 0h1m22 0h1M2 56.5h1m26 0h1m6 0h1m51 0h1m24 0h1m44 0h1m27 0h1M30 57.5h1m41 0h1m52 0h1m72 0h1M0 58.5h1m12 0h1m38 0h1m14 0h1m32 0h1m41 0h1m40 0h1m15 0h1M16 59.5h1m25 0h1m4 0h1M176 60.5h1M33 61.5h1m78 0h1m61 0h1m6 0h1M42 62.5h1m18 0h1m51 0h1m39 0h1m9 0h1m28 0h1M3 63.5h1m4 0h1m21 0h1m6 0h1m15 0h1m27 0h1m98 0h1m18 0h1M14 64.5h1m8 0h1m63 0h1m16 0h1m66 0h1m1 0h1m4 0h1m16 0h1M124 65.5h1m8 0h1m62 0h1M18 66.5h1m111 0h1m22 0h1m18 0h1m15 0h1M110 67.5h1M35 68.5h1m37 0h1M36 70.5h1m126 0h1m31 0h1M94 71.5h1M189 75.5h1M192 76.5h1"/>
<path stroke="#3bc992" d="M23 0.5h1m35 0h2m8 0h2m105 0h1m26 0h1m4 0h1M10 1.5h1m18 0h2m8 0h1m22 0h1m17 0h1m56 0h2m13 0h1m1 0h1m15 0h1m6 0h1m11 0h1M4 2.5h1m42 0h1m28 0h1m9 0h1m4 0h1m1 0h1m3 0h1m2 0h3m74 0h1m6 0h1m5 0h1m18 0h1M53 3.5h1m57 0h1m7 0h1m21 0h1m4 0h1m3 0h1m10 0h1m4 0h1m2 0h1m15 0h1m16 0h1m12 0h1m16 0h1M35 4.5h1m13 0h1m2 0h1m21 0h1m33 0h1m2 0h1m32 0h1m14 0h1m27 0h1m11 0h1m9 0h1m3 0h1m21 0h1M15 5.5h1m26 0h2m8 0h1m22 0h1m101 0h1m33 0h2M14 6.5h1m19 0h2m26 0h1m12 0h1m27 0h1m12 0h1m5 0h1m17 0h1m10 0h1m52 0h2m6 0h1M27 7.5h1m16 0h1m7 0h1m1 0h1m5 0h1m7 0h1m5 0h1m103 0h1m32 0h1M0 8.5h1m9 0h1m18 0h1m51 0h1m58 0h1m13 0h1m8 0h1m48 0h1M0 9.5h1m55 0h1m19 0h1m35 0h1m23 0h1m5 0h1m11 0h1m10 0h1m1 0h1m26 0h1m39 0h1m4 0h1M11 10.5h1m37 0h1m29 0h1m19 0h1m48 0h2m35 0h1m4 0h1m38 0h1M62 11.5h1m59 0h1m3 0h1m18 0h1m7 0h1m18 0h1m18 0h1M22 12.5h1m18 0h1m25 0h1m10 0h1m63 0h2m25 0h1m1 0h1m1 0h1m6 0h3m4 0h1m20 0h1m3 0h1m2 0h1m2 0h1m16 0h1M18 13.5h1m1 0h1m28 0h1m18 0h1m15 0h1m5 0h1m1 0h1m19 0h1m23 0h1m6 0h1m7 0h1m29 0h1m1 0h1M48 14.5h1m16 0h1m17 0h1m69 0h1m1 0h1m34 0h1M5 15.5h1m2 0h1m12 0h1m47 0h1m3 0h1m24 0h1m48 0h1m4 0h1m38 0h1m47 0h1M18 16.5h1m44 0h1m36 0h1m38 0h2m58 0h1m2 0h1M9 17.5h1m5 0h1m8 0h1m3 0h1m6 0h1m34 0h2m51 0h1m2 0h1m26 0h1m17 0h1m1 0h1m36 0h1m11 0h1M28 18.5h1m19 0h1m24 0h1m2 0h1m1 0h1m3 0h1m4 0h1m18 0h1m21 0h1m2 0h1m49 0h1m18 0h1M48 19.5h1m9 0h1m4 0h1m50 0h1m11 0h1m1 0h1m14 0h1m3 0h1m1 0h1m1 0h1m16 0h1M24 20.5h1m23 0h1m1 0h2m2 0h1m73 0h1m4 0h1m29 0h1m4 0h1m29 0h1m30 0h1m6 0h1M16 21.5h1m7 0h1m1 0h1m40 0h1m3 0h1m26 0h1m41 0h1m18 0h1m4 0h1m21 0h1m4 0h1m6 0h1M39 22.5h1m101 0h1m44 0h1m3 0h1m11 0h1m1 0h1M42 23.5h1m68 0h1m1 0h1m43 0h1m9 0h1m1 0h1m5 0h1m9 0h1m6 0h1m6 0h1m35 0h1M0 24.5h1m6 0h1m3 0h1m6 0h1m31 0h1m58 0h1m46 0h1m1 0h1m10 0h1m20 0h1m34 0h1M25 25.5h1m10 0h1m13 0h1m1 0h1m7 0h1m3 0h1m28 0h2m16 0h1m21 0h1m56 0h1m13 0h1m7 0h1M2 26.5h1m50 0h1m39 0h1m20 0h1m50 0h1m17 0h1m23 0h1M26 27.5h1m23 0h1m41 0h2m10 0h1m24 0h1m29 0h1m46 0h1M11 28.5h1m16 0h1m2 0h1m20 0h1m91 0h1m36 0h1m29 0h1M5 29.5h1m53 0h1m41 0h1m33 0h1m1 0h1m28 0h1m52 0h1M2 30.5h1m69 0h1m85 0h1m17 0h1m25 0h1m5 0h1m7 0h1M6 31.5h1m57 0h1m3 0h1m41 0h1m69 0h1m3 0h1m6 0h1m18 0h1m1 0h1M3 32.5h1m13 0h1m4 0h1m24 0h1m100 0h1m54 0h1m7 0h1M34 33.5h1m40 0h1m5 0h1m28 0h1m15 0h1m9 0h1m9 0h1m38 0h1m15 0h1M2 34.5h1m78 0h1m102 0h1m3 0h1m1 0h1m13 0h1M29 35.5h1m30 0h1m4 0h1m81 0h1m1 0h1m21 0h1m12 0h1m19 0h1M33 36.5h1m5 0h1m65 0h1m33 0h1m19 0h1m30 0h1m39 0h1M8 37.5h1m73 0h1m94 0h1m24 0h1m3 0h1M63 38.5h1m18 0h1m26 0h1m35 0h1m23 0h1m21 0h1m13 0h1M25 39.5h1m69 0h1m28 0h1m51 0h1m2 0h1M16 40.5h1m30 0h1m6 0h1m38 0h1M1 41.5h1m35 0h1m41 0h1M5 42.5h1m10 0h1m14 0h1m156 0h1m9 0h1M31 43.5h1m28 0h1m4 0h1m61 0h1m30 0h1m22 0h1m1 0h1m15 0h1m9 0h1M1 44.5h1m17 0h1m140 0h1M35 45.5h1m79 0h1m37 0h1M41 46.5h1m150 0h1M10 47.5h1m37 0h1m146 0h1m8 0h1M46 48.5h1m30 0h1m58 0h1m48 0h1M60 49.5h1m5 0h1m127 0h1M35 50.5h1m32 0h1m23 0h1M6 51.5h1m8 0h1m130 0h1m30 0h1M112 52.5h1m33 0h1m17 0h1M19 53.5h1m177 0h1M197 54.5h1M0 55.5h1m37 0h1m13 0h1m9 0h1M28 56.5h1M3 57.5h1m11 0h1m43 0h1m142 0h1M79 60.5h1m42 0h1M38 61.5h1m5 0h1M4 62.5h1m25 0h1m50 0h1m97 0h1M15 64.5h1m84 0h1M85 65.5h1M71 67.5h1M180 69.5h1M103 70.5h1M183 71.5h1M173 77.5h1"/>
<path stroke="#12beb9" d="M32 0.5h1m20 0h1m10 0h1m43 0h1m3 0h1m1 0h4m1 0h1m13 0h1m9 0h1m33 0h1m22 0h1m21 0h1M16 1.5h1m9 0h1m11 0h1m29 0h1m5 0h1m36 0h1m6 0h1m14 0h1m5 0h1m17 0h1m20 0h1m1 0h1m7 0h1m6 0h1m10 0h1m4 0h1m8 0h1m14 0h1m1 0h1M39 2.5h1m22 0h1m25 0h1m57 0h1m16 0h1m3 0h1m13 0h2m8 0h1M35 3.5h1m3 0h2m16 0h1m32 0h1m3 0h1m26 0h2m11 0h1m12 0h1m9 0h1m16 0h1m20 0h1m14 0h1m24 0h1M1 4.5h1m71 0h1m20 0h1m3 0h1m14 0h1m24 0h1m61 0h1m26 0h1M22 5.5h1m2 0h1m13 0h1m32 0h2m3 0h1m7 0h1m36 0h1m16 0h1m16 0h1m5 0h2m11 0h2m7 0h1m19 0h1M13 6.5h1m3 0h1m6 0h1m15 0h1m6 0h1m2 0h1m46 0h1m7 0h1m27 0h1m26 0h1m11 0h1m8 0h1m3 0h1m15 0h1m13 0h1m9 0h1M0 7.5h1m27 0h1m8 0h1m32 0h1m8 0h1m5 0h1m11 0h1m29 0h2m2 0h2m2 0h1m17 0h1m56 0h1M1 8.5h1m6 0h1m25 0h1m55 0h1m24 0h1m1 0h1m43 0h1m48 0h1m19 0h1M19 9.5h1m6 0h1m4 0h1m7 0h1m10 0h1m27 0h1m23 0h1m7 0h1m7 0h1m26 0h2m25 0h2M39 10.5h1m1 0h1m5 0h1m30 0h1m12 0h2m36 0h1m53 0h1m10 0h1M6 11.5h1m3 0h1m67 0h1m44 0h2m2 0h1m1 0h1m13 0h1m25 0h1m1 0h1m11 0h1m8 0h1m14 0h1m20 0h1M0 12.5h1m6 0h1m16 0h1m26 0h1m10 0h1m19 0h1m8 0h1m2 0h1m9 0h2m8 0h1m3 0h2m3 0h1m6 0h1m6 0h1m15 0h1m37 0h1m10 0h1M10 13.5h1m1 0h1m45 0h1m5 0h1m17 0h1m38 0h1m10 0h1m16 0h1m3 0h1m11 0h1m3 0h1m2 0h1m6 0h1m5 0h1m5 0h1m2 0h1m2 0h1m4 0h1m4 0h1M6 14.5h1m24 0h1m17 0h1m28 0h2m1 0h1m4 0h1m10 0h2m7 0h1m50 0h1m22 0h1m10 0h1m40 0h1m6 0h1M1 15.5h1m81 0h1m4 0h1m53 0h1m25 0h1m42 0h2m1 0h1m9 0h1m10 0h1M10 16.5h1m18 0h1m52 0h1m42 0h1m1 0h1m9 0h1m11 0h1m18 0h2m2 0h1m37 0h2m6 0h1m15 0h1M14 17.5h1m11 0h1m4 0h1m46 0h1m2 0h1m3 0h1m16 0h1m14 0h1m25 0h1m6 0h1m34 0h1m19 0h1M1 18.5h1m27 0h1m1 0h1m21 0h1m20 0h1m22 0h1m5 0h1m7 0h1m6 0h1m5 0h1m18 0h1m10 0h2m24 0h1m4 0h1m2 0h1m3 0h1m10 0h1m9 0h1M52 19.5h1m12 0h2m1 0h1m30 0h1m12 0h1m5 0h1m23 0h1m5 0h1m11 0h1m31 0h1m1 0h1m1 0h1M35 20.5h1m21 0h1m10 0h1m39 0h1m17 0h1m30 0h1m55 0h1M5 21.5h1m36 0h1m23 0h1m35 0h1m51 0h1m10 0h2m4 0h1m9 0h1m8 0h1m33 0h1M8 22.5h1m12 0h2m4 0h1m5 0h1m43 0h1m79 0h1m2 0h1m24 0h1m15 0h1m3 0h1M46 23.5h1m59 0h1m70 0h1m16 0h1M12 24.5h1m21 0h2m8 0h1m29 0h1m53 0h1m56 0h1m5 0h1m8 0h1m2 0h1m2 0h1M7 25.5h2m3 0h1m24 0h1m5 0h1m18 0h1m7 0h2m18 0h1m4 0h1m4 0h1m9 0h1m25 0h1m3 0h1m11 0h1m4 0h1m29 0h1m17 0h1m26 0h1M17 26.5h3m2 0h1m25 0h1m9 0h1m10 0h1m4 0h1m10 0h1m40 0h1m49 0h1m15 0h1M36 27.5h1m108 0h1m8 0h1m13 0h1m2 0h1m2 0h1m16 0h1m8 0h1m3 0h1M6 28.5h1m3 0h1m77 0h1m13 0h1m66 0h1m20 0h1M12 29.5h1m9 0h1m83 0h1m8 0h1m45 0h1m8 0h1m18 0h2m2 0h1m3 0h1m6 0h1M1 30.5h1m14 0h1m8 0h1m58 0h1m10 0h1m5 0h1m10 0h1m42 0h1m7 0h1m7 0h1m15 0h1M2 31.5h1m5 0h1m10 0h1m2 0h1m31 0h1m30 0h1m4 0h1m1 0h1m24 0h1m50 0h1m1 0h1m5 0h1m8 0h2m13 0h1m35 0h1M4 32.5h1m6 0h2m3 0h1m19 0h1m3 0h1m5 0h1m2 0h1m25 0h1m8 0h1m5 0h1m31 0h2m17 0h2m12 0h1m21 0h1m36 0h1M13 33.5h1m5 0h1m11 0h1m17 0h1m5 0h1m21 0h1m42 0h1m36 0h1m21 0h1m2 0h1m1 0h1m19 0h1M11 34.5h1m18 0h1m2 0h1m3 0h1m1 0h2m8 0h1m34 0h2m12 0h1m9 0h1m36 0h1m31 0h1m2 0h1m28 0h1M33 35.5h1m10 0h1m7 0h1m10 0h1m10 0h1m1 0h1m54 0h1m11 0h1m1 0h1M16 36.5h1m24 0h1m1 0h1m1 0h1m3 0h1m4 0h1m5 0h1m3 0h1m3 0h1m4 0h1m1 0h1m17 0h1m38 0h1m42 0h1m6 0h1m1 0h1m15 0h1m3 0h1M34 37.5h1m24 0h1m38 0h1m55 0h1m13 0h1m25 0h1M9 38.5h1m24 0h1m73 0h1m4 0h1m53 0h1m3 0h1m35 0h1M35 39.5h1m22 0h1m2 0h1m16 0h1m111 0h1M23 40.5h1m43 0h1m130 0h1M12 41.5h1m27 0h1m7 0h1m11 0h1m8 0h1m46 0h1m36 0h1m23 0h1m2 0h1M14 42.5h2m1 0h1m19 0h1m2 0h1m20 0h1m1 0h1m1 0h1m22 0h1m36 0h1m9 0h1m6 0h1m9 0h1M20 43.5h1m3 0h1m27 0h1m17 0h1m76 0h1m9 0h1m20 0h1m18 0h1m5 0h1M33 44.5h1m3 0h1m5 0h1m47 0h2m11 0h1m47 0h1m22 0h1m12 0h1m20 0h1M26 45.5h1m13 0h1m29 0h1m22 0h1m94 0h1m15 0h1M11 46.5h1m27 0h1m11 0h2m36 0h1m36 0h1m2 0h1m52 0h1M21 47.5h1m24 0h1m141 0h1m12 0h1M20 48.5h1m35 0h1m2 0h1m5 0h1m13 0h1m100 0h1M25 49.5h1m12 0h1m51 0h1m22 0h1M7 50.5h1m6 0h1m19 0h1m30 0h1m112 0h1m26 0h1M36 51.5h1m19 0h1m136 0h1m6 0h1M95 52.5h1m21 0h1m9 0h1M10 53.5h1m161 0h1M66 54.5h1m29 0h1m15 0h1M19 55.5h1m59 0h1m110 0h1M21 56.5h1m42 0h1m17 0h1m26 0h1m25 0h1m66 0h1M10 57.5h1m44 0h1m8 0h1m55 0h1m9 0h1m59 0h1M39 58.5h1m15 0h1m132 0h1m11 0h1M15 59.5h1m24 0h1m65 0h1m7 0h1m62 0h1m21 0h1M84 60.5h1m18 0h1m74 0h1m4 0h1M103 61.5h1m96 0h1M5 62.5h1m103 0h1m62 0h1m15 0h1M5 63.5h1m3 0h1m3 0h1m14 0h1m7 0h1m86 0h1M12 64.5h1m4 0h1m163 0h1M170 65.5h1m7 0h1M26 67.5h1M154 71.5h1m23 0h1m3 0h1M184 77.5h1"/>
<path stroke="#fff" d="M0 0.5h4m10 0h4m4 0h1m19 0h4m8 0h4m3 0h1m13 0h3m3 0h25m17 0h2m19 0h2m9 0h2m9 0h3m17 0h2m38 0h1M0 1.5h4m11 0h1m6 0h1m11 0h4m6 0h1m9 0h8m7 0h5m7 0h25m3 0h1m3 0h5m5 0h5m6 0h3m7 0h2m9 0h1m3 0h3m4 0h3m3 0h3m6 0h4m1 0h2m15 0h3m3 0h2m2 0h1m7 0h1m4 0h1M0 2.5h4m4 0h23m10 0h3m13 0h4m2 0h11m7 0h3m11 0h2m7 0h1m8 0h4m2 0h6m30 0h3m1 0h3m10 0h3m28 0h3m11 0h3m1 0h1m4 0h2M0 3.5h33m12 0h4m12 0h8m11 0h4m15 0h2m6 0h4m12 0h2m1 0h2m1 0h2m1 0h1m7 0h1m4 0h1m5 0h3m8 0h3m10 0h4m1 0h1m8 0h6m4 0h2m4 0h2m10 0h5m6 0h2M7 4.5h24m7 0h2m5 0h4m11 0h4m1 0h5m15 0h2m3 0h4m1 0h3m1 0h4m13 0h4m3 0h1m2 0h3m1 0h4m6 0h1m4 0h1m5 0h3m1 0h2m5 0h4m1 0h4m4 0h4m10 0h5m3 0h2m6 0h2m11 0h4m2 0h2m2 0h2M1 5.5h12m10 0h1m3 0h1m20 0h1m5 0h9m2 0h3m10 0h3m2 0h2m1 0h6m6 0h1m1 0h4m12 0h6m1 0h4m1 0h1m4 0h4m3 0h1m12 0h3m11 0h4m8 0h5m8 0h3m1 0h1m1 0h5m2 0h6m4 0h4m5 0h2M1 6.5h12m14 0h1m1 0h5m4 0h1m2 0h5m8 0h7m11 0h2m4 0h7m2 0h8m3 0h1m24 0h8m12 0h8m10 0h4m2 0h1m2 0h1m9 0h1m1 0h2m8 0h3m1 0h1m10 0h4M1 7.5h13m9 0h4m2 0h5m12 0h3m12 0h1m1 0h4m20 0h9m2 0h4m15 0h3m4 0h3m2 0h2m6 0h7m13 0h4m3 0h2m3 0h4m7 0h4m6 0h5m5 0h4M11 8.5h1m2 0h4m9 0h2m3 0h1m2 0h2m9 0h3m3 0h4m5 0h1m2 0h2m2 0h5m7 0h1m1 0h6m3 0h3m4 0h7m14 0h2m3 0h6m9 0h1m5 0h2m9 0h5m1 0h1m1 0h2m11 0h1m2 0h4m6 0h4m6 0h4M2 9.5h3m1 0h3m2 0h1m2 0h4m2 0h4m3 0h3m2 0h1m2 0h2m8 0h2m5 0h4m6 0h4m2 0h5m7 0h1m3 0h6m1 0h3m21 0h3m1 0h2m2 0h2m5 0h1m29 0h4m6 0h1m29 0h3m1 0h16M0 10.5h3m3 0h3m5 0h2m8 0h4m2 0h1m12 0h3m5 0h9m9 0h2m1 0h3m10 0h3m7 0h4m3 0h4m3 0h3m3 0h3m5 0h1m6 0h1m8 0h4m17 0h6m4 0h1m24 0h3m2 0h2m2 0h16M0 11.5h3m8 0h7m8 0h2m2 0h5m7 0h11m3 0h2m10 0h2m14 0h3m5 0h3m9 0h3m13 0h1m7 0h1m4 0h3m3 0h4m14 0h4m1 0h4m7 0h4m18 0h3m4 0h3m27 0h3M11 12.5h7m7 0h3m2 0h5m3 0h3m1 0h9m1 0h1m15 0h2m14 0h3m8 0h1m3 0h1m1 0h2m3 0h1m13 0h1m5 0h4m1 0h1m16 0h4m2 0h5m4 0h2m18 0h4m17 0h4M4 13.5h3m18 0h4m6 0h6m1 0h5m4 0h2m14 0h1m8 0h2m17 0h1m5 0h2m51 0h3m13 0h1m2 0h3m6 0h1m21 0h1m6 0h4m3 0h2M7 14.5h4m1 0h6m2 0h4m1 0h4m7 0h2m3 0h7m2 0h5m12 0h2m7 0h2m11 0h1m25 0h4m4 0h6m1 0h3m28 0h3m2 0h11m17 0h1m2 0h3m2 0h6m1 0h2m8 0h1M2 15.5h2m8 0h8m2 0h1m1 0h2m7 0h27m1 0h1m1 0h1m10 0h1m1 0h1m1 0h5m6 0h1m1 0h3m5 0h6m1 0h23m1 0h4m6 0h2m2 0h3m7 0h3m4 0h7m2 0h9m2 0h4m3 0h2m12 0h1m2 0h4m10 0h1M0 16.5h9m2 0h7m6 0h2m6 0h28m1 0h2m4 0h8m3 0h3m5 0h4m1 0h2m3 0h3m2 0h4m1 0h19m5 0h4m10 0h3m7 0h3m3 0h1m3 0h1m10 0h4m2 0h4m7 0h4m9 0h4m5 0h3m2 0h3m2 0h1m14 0h1M3 17.5h5m4 0h1m17 0h1m1 0h2m3 0h5m12 0h11m21 0h8m16 0h3m27 0h3m22 0h4m6 0h3m14 0h4m11 0h2m2 0h2m1 0h8m2 0h1M3 18.5h24m9 0h11m8 0h10m6 0h1m18 0h4m1 0h1m38 0h2m4 0h3m3 0h2m17 0h4m1 0h3m3 0h1m29 0h3m2 0h2m1 0h6m9 0h3M4 19.5h23m3 0h2m4 0h11m6 0h1m1 0h1m14 0h4m1 0h18m1 0h3m1 0h1m1 0h2m3 0h1m3 0h1m9 0h4m11 0h2m18 0h4m12 0h2m1 0h1m1 0h7m19 0h4m1 0h1m22 0h3m7 0h1M10 20.5h4m11 0h2m1 0h4m4 0h7m2 0h1m10 0h1m18 0h18m1 0h3m12 0h1m3 0h4m2 0h4m36 0h1m10 0h2m3 0h7m3 0h3m4 0h3m7 0h6m3 0h1m6 0h4m11 0h3m3 0h1M1 21.5h3m8 0h3m3 0h5m5 0h4m4 0h5m2 0h3m6 0h2m2 0h2m16 0h21m54 0h2m9 0h4m11 0h4m25 0h4m3 0h3m3 0h5M0 22.5h4m1 0h2m2 0h3m2 0h1m3 0h2m5 0h2m9 0h2m2 0h8m3 0h26m11 0h15m27 0h4m14 0h4m9 0h3m11 0h1m6 0h1m24 0h7m19 0h4M5 23.5h1m3 0h3m13 0h2m7 0h2m3 0h1m11 0h30m1 0h3m1 0h17m45 0h4m9 0h1m1 0h2m35 0h3m6 0h4m15 0h1m7 0h2M2 24.5h2m10 0h4m1 0h3m8 0h3m14 0h2m8 0h3m6 0h5m1 0h2m1 0h4m3 0h8m12 0h1m39 0h1m32 0h4m25 0h1m2 0h4m7 0h4m6 0h1m2 0h4m1 0h2M2 25.5h3m9 0h4m1 0h3m5 0h3m8 0h4m5 0h2m8 0h3m16 0h5m3 0h1m29 0h4m32 0h1m10 0h1m13 0h4m3 0h3m13 0h4m6 0h3m7 0h2m18 0h2M3 26.5h4m20 0h3m3 0h9m4 0h2m4 0h1m11 0h4m8 0h5m5 0h1m1 0h2m4 0h3m96 0h2m3 0h5m1 0h1m3 0h4m6 0h2m18 0h2M1 27.5h1m7 0h4m15 0h1m9 0h3m5 0h2m16 0h19m52 0h1m50 0h4m11 0h2m7 0h4m20 0h4M15 28.5h4m6 0h2m19 0h1m2 0h3m1 0h7m4 0h2m2 0h15m4 0h1m44 0h4m7 0h1m26 0h4m26 0h1m22 0h4M8 29.5h4m3 0h4m5 0h2m1 0h2m3 0h20m6 0h1m5 0h2m15 0h4m2 0h1m3 0h1m35 0h3m11 0h5m5 0h3m2 0h2m1 0h1m40 0h1m6 0h1m23 0h2m1 0h2M4 30.5h3m2 0h3m3 0h1m1 0h5m5 0h2m1 0h23m3 0h4m10 0h1m3 0h1m6 0h1m4 0h3m7 0h3m28 0h3m13 0h5m8 0h2m1 0h1m33 0h4m12 0h2m17 0h3m3 0h2M1 31.5h1m15 0h2m6 0h3m2 0h23m3 0h4m9 0h1m2 0h4m2 0h7m1 0h4m4 0h3m43 0h2m7 0h2m22 0h1m5 0h1m37 0h1m10 0h3m1 0h1M7 32.5h3m15 0h3m2 0h3m17 0h3m7 0h4m3 0h3m2 0h3m4 0h1m25 0h3m43 0h3m8 0h3m6 0h2m8 0h3m18 0h1m1 0h6m5 0h1m1 0h1m14 0h1m2 0h4M16 33.5h3m3 0h6m12 0h4m16 0h2m3 0h3m10 0h2m14 0h1m10 0h3m44 0h2m8 0h3m26 0h1m3 0h1m10 0h2m7 0h1M4 34.5h3m9 0h5m3 0h4m4 0h1m11 0h4m6 0h2m1 0h2m6 0h3m4 0h1m18 0h1m2 0h1m11 0h1m71 0h2m11 0h1m3 0h1m9 0h3M5 35.5h6m21 0h1m1 0h4m18 0h4m12 0h1m18 0h1m61 0h1m19 0h1m4 0h2m5 0h4m11 0h1m2 0h1m1 0h3m9 0h3m12 0h4M7 36.5h5m22 0h4m77 0h2m34 0h3m19 0h1m7 0h1m5 0h1m7 0h2m6 0h1m5 0h1M2 37.5h5m3 0h2m2 0h10m21 0h3m28 0h3m6 0h1m3 0h4m18 0h1m15 0h2m33 0h1m6 0h1m4 0h3m6 0h1m11 0h4m1 0h1M14 38.5h10m30 0h4m8 0h4m16 0h4m15 0h3m3 0h1m8 0h4m38 0h1m20 0h3M7 39.5h5m5 0h4m42 0h4m4 0h1m1 0h4m80 0h2m3 0h3m2 0h8m5 0h2M7 40.5h2m11 0h3m4 0h2m4 0h2m26 0h2m8 0h1m1 0h4m80 0h2m25 0h1M27 41.5h4m8 0h1m147 0h1m3 0h3m10 0h2M25 42.5h1m1 0h3m55 0h2m3 0h1m8 0h1m91 0h3m6 0h3M4 43.5h1m16 0h2m2 0h1m2 0h2m47 0h4m5 0h1m1 0h4m7 0h1m62 0h2m36 0h3M4 44.5h1m5 0h2m9 0h2m4 0h3m42 0h2m3 0h6m6 0h2m70 0h2m5 0h6m23 0h2M1 45.5h2m7 0h2m3 0h1m11 0h3m13 0h1m1 0h1m8 0h3m25 0h1m6 0h1m94 0h3m4 0h1M1 46.5h1m2 0h4m7 0h1m26 0h2m136 0h1m10 0h1M1 47.5h1m5 0h3m2 0h1m5 0h1m9 0h2m156 0h2M7 48.5h3m2 0h1m2 0h2m1 0h1m10 0h1m14 0h1m7 0h4m31 0h3m104 0h2M16 49.5h4m53 0h1m3 0h3M16 50.5h3m54 0h1m106 0h4M20 51.5h3M196 52.5h4M8 53.5h2m174 0h3M8 54.5h2m189 0h1M13 55.5h3m164 0h1m7 0h2m9 0h1M12 56.5h2m166 0h1m7 0h2m9 0h1M12 57.5h2m185 0h1M197 58.5h2M195 59.5h4M183 61.5h3"/>
</g></g>
<path stroke="#3c2eb8" stroke-width="13.0" d="M795.5 1608.5h2.1M847.1 1608.5h2.1M851.4 1608.5h8.6M881.4 1608.5h2.1M971.6 1608.5h2.1M973.8 1608.5h2.1M975.9 1608.5h4.3M980.2 1608.5h12.9M1003.9 1608.5h2.1M1012.4 1608.5h6.4M1021.0 1608.5h2.1M1049.0 1608.5h19.3M1072.6 1608.5h2.1M1104.8 1608.5h17.2M1169.2 1608.5h2.1M1171.4 1608.5h2.1M1222.9 1608.5h2.1M1225.1 1608.5h4.3M1235.8 1608.5h2.1M1238.0 1608.5h25.8M1283.1 1608.5h2.1M1347.5 1608.5h2.1M1360.4 1608.5h2.1M1366.8 1608.5h2.1M1373.3 1608.5h19.3M1394.8 1608.5h15.0M1431.3 1608.5h17.2M1461.4 1608.5h2.1" fill="none"/>
<path stroke="#3e30c0" stroke-width="13.0" d="M797.7 1608.5h2.1M930.8 1608.5h2.1M1001.7 1608.5h2.1M1008.1 1608.5h2.1M1010.3 1608.5h2.1M1018.9 1608.5h2.1M1068.3 1608.5h2.1M1074.7 1608.5h2.1M1079.0 1608.5h19.3M1098.4 1608.5h2.1M1141.3 1608.5h2.1M1143.5 1608.5h25.8M1173.5 1608.5h2.1M1175.7 1608.5h2.1M1197.2 1608.5h25.8M1287.4 1608.5h25.8M1349.7 1608.5h2.1M1351.8 1608.5h2.1M1392.6 1608.5h2.1M1409.8 1608.5h21.5" fill="none"/>
<path stroke="#4038c8" stroke-width="13.0" d="M877.1 1608.5h2.1M879.3 1608.5h2.1M926.5 1608.5h2.1M950.2 1608.5h2.1M952.3 1608.5h2.1M993.1 1608.5h8.6M1006.0 1608.5h2.1M1023.2 1608.5h25.8M1070.4 1608.5h2.1M1076.9 1608.5h2.1M1100.5 1608.5h2.1M1102.7 1608.5h2.1M1122.0 1608.5h2.1M1124.1 1608.5h17.2M1180.0 1608.5h17.2M1229.4 1608.5h6.4M1263.8 1608.5h17.2M1280.9 1608.5h2.1M1313.2 1608.5h25.8M1338.9 1608.5h2.1M1371.1 1608.5h2.1M1452.8 1608.5h8.6M1463.5 1608.5h6.4" fill="none"/>
<path stroke="#3e30c0" stroke-width="8.0" d="M847.1 1619.0h2.1M1006.0 1619.0h2.1M1010.3 1619.0h10.7M1066.1 1619.0h8.6M1074.7 1619.0h2.1M1076.9 1619.0h12.9M1102.7 1619.0h2.1M1141.3 1619.0h8.6M1177.8 1619.0h2.1M1182.1 1619.0h2.1M1184.3 1619.0h6.4M1190.7 1619.0h2.1M1195.0 1619.0h2.1M1201.5 1619.0h17.2M1218.6 1619.0h2.1M1298.1 1619.0h17.2M1354.0 1619.0h12.9M1384.0 1619.0h2.1M1386.2 1619.0h2.1M1390.5 1619.0h2.1M1463.5 1619.0h2.1" fill="none"/>
<path stroke="#3c2eb8" stroke-width="8.0" d="M849.2 1619.0h8.6M857.8 1619.0h2.1M1008.1 1619.0h2.1M1091.9 1619.0h10.7M1119.8 1619.0h2.1M1128.4 1619.0h4.3M1132.7 1619.0h2.1M1134.9 1619.0h2.1M1149.9 1619.0h2.1M1263.8 1619.0h8.6M1274.5 1619.0h2.1M1285.2 1619.0h8.6M1293.8 1619.0h2.1M1296.0 1619.0h2.1M1349.7 1619.0h2.1M1405.5 1619.0h10.7M1461.4 1619.0h2.1" fill="none"/>
<path stroke="#4038c8" stroke-width="8.0" d="M1001.7 1619.0h2.1M1003.9 1619.0h2.1M1089.8 1619.0h2.1M1122.0 1619.0h6.4M1180.0 1619.0h2.1M1192.9 1619.0h2.1M1199.3 1619.0h2.1M1272.3 1619.0h2.1M1276.6 1619.0h8.6M1366.8 1619.0h12.9M1379.7 1619.0h2.1M1381.9 1619.0h2.1M1388.3 1619.0h2.1M1392.6 1619.0h12.9M1452.8 1619.0h8.6" fill="none"/>
<text x="488.00" y="1713.90" font-size="52.50" text-anchor="middle" textLength="31.81" lengthAdjust="spacingAndGlyphs" fill="#262626">0</text>
<text x="616.88" y="1713.90" font-size="52.50" text-anchor="middle" textLength="31.81" lengthAdjust="spacingAndGlyphs" fill="#262626">3</text>
<text x="745.75" y="1713.90" font-size="52.50" text-anchor="middle" textLength="31.81" lengthAdjust="spacingAndGlyphs" fill="#262626">6</text>
<text x="874.62" y="1713.90" font-size="52.50" text-anchor="middle" textLength="31.81" lengthAdjust="spacingAndGlyphs" fill="#262626">9</text>
<text x="1003.50" y="1713.90" font-size="52.50" text-anchor="middle" textLength="63.62" lengthAdjust="spacingAndGlyphs" fill="#262626">12</text>
<text x="1132.38" y="1713.90" font-size="52.50" text-anchor="middle" textLength="63.62" lengthAdjust="spacingAndGlyphs" fill="#262626">15</text>
<text x="1261.25" y="1713.90" font-size="52.50" text-anchor="middle" textLength="63.62" lengthAdjust="spacingAndGlyphs" fill="#262626">18</text>
<text x="1390.12" y="1713.90" font-size="52.50" text-anchor="middle" textLength="63.62" lengthAdjust="spacingAndGlyphs" fill="#262626">21</text>
<text x="467.00" y="1665.40" font-size="52.50" text-anchor="end" textLength="31.81" lengthAdjust="spacingAndGlyphs" fill="#262626">0</text>
<text x="467.00" y="1530.31" font-size="52.50" text-anchor="end" textLength="79.52" lengthAdjust="spacingAndGlyphs" fill="#262626">0.2</text>
<text x="467.00" y="1395.22" font-size="52.50" text-anchor="end" textLength="79.52" lengthAdjust="spacingAndGlyphs" fill="#262626">0.4</text>
<text x="467.00" y="1260.13" font-size="52.50" text-anchor="end" textLength="79.52" lengthAdjust="spacingAndGlyphs" fill="#262626">0.6</text>
<text x="467.00" y="1125.04" font-size="52.50" text-anchor="end" textLength="79.52" lengthAdjust="spacingAndGlyphs" fill="#262626">0.8</text>
<text x="467.00" y="989.95" font-size="52.50" text-anchor="end" textLength="31.81" lengthAdjust="spacingAndGlyphs" fill="#262626">1</text>
<text x="467.00" y="854.86" font-size="52.50" text-anchor="end" textLength="79.52" lengthAdjust="spacingAndGlyphs" fill="#262626">1.2</text>
<text x="467.00" y="719.77" font-size="52.50" text-anchor="end" textLength="79.52" lengthAdjust="spacingAndGlyphs" fill="#262626">1.4</text>
<text x="467.00" y="584.68" font-size="52.50" text-anchor="end" textLength="79.52" lengthAdjust="spacingAndGlyphs" fill="#262626">1.6</text>
<text x="467.00" y="449.59" font-size="52.50" text-anchor="end" textLength="79.52" lengthAdjust="spacingAndGlyphs" fill="#262626">1.8</text>
<text x="467.00" y="314.50" font-size="52.50" text-anchor="end" textLength="31.81" lengthAdjust="spacingAndGlyphs" fill="#262626">2</text>
<text x="358.90" y="973.95" font-size="57.75" text-anchor="middle" textLength="455.04" lengthAdjust="spacingAndGlyphs" transform="rotate(-90 358.90 973.95)" fill="#262626">Height [km AGL]</text>
<text x="1006.00" y="269.90" font-size="57.75" text-anchor="middle" font-weight="bold" textLength="695.45" lengthAdjust="spacingAndGlyphs" fill="#000">Wind Speed 20230719</text>
<defs><linearGradient id="cb0_0" x1="0" y1="1" x2="0" y2="0">
<stop offset="0.0000" stop-color="#3e26a8"/>
<stop offset="0.0476" stop-color="#4332cb"/>
<stop offset="0.0952" stop-color="#4741e5"/>
<stop offset="0.1429" stop-color="#4852f4"/>
<stop offset="0.1905" stop-color="#4563fd"/>
<stop offset="0.2381" stop-color="#3875fe"/>
<stop offset="0.2857" stop-color="#2e87f7"/>
<stop offset="0.3333" stop-color="#2797eb"/>
<stop offset="0.3810" stop-color="#20a5e3"/>
<stop offset="0.4286" stop-color="#12b1d6"/>
<stop offset="0.4762" stop-color="#02bac3"/>
<stop offset="0.5238" stop-color="#24c1ae"/>
<stop offset="0.5714" stop-color="#37c897"/>
<stop offset="0.6190" stop-color="#57cc7a"/>
<stop offset="0.6667" stop-color="#81cc59"/>
<stop offset="0.7143" stop-color="#abc739"/>
<stop offset="0.7619" stop-color="#d1bf27"/>
<stop offset="0.8095" stop-color="#f0ba36"/>
<stop offset="0.8571" stop-color="#fec338"/>
<stop offset="0.9048" stop-color="#fad62d"/>
<stop offset="0.9524" stop-color="#f5e924"/>
<stop offset="1.0000" stop-color="#f9fb15"/>
<stop offset="1.0000" stop-color="#f9fb15"/>
</linearGradient></defs>
<rect x="1562.30" y="298.50" width="83.20" height="1350.90" fill="url(#cb0_0)" stroke="#262626" stroke-width="1.3"/>
<text x="1665.00" y="1663.90" font-size="47.25" text-anchor="start" textLength="28.63" lengthAdjust="spacingAndGlyphs" fill="#262626">0</text>
<text x="1665.00" y="1393.72" font-size="47.25" text-anchor="start" textLength="28.63" lengthAdjust="spacingAndGlyphs" fill="#262626">5</text>
<text x="1665.00" y="1123.54" font-size="47.25" text-anchor="start" textLength="57.26" lengthAdjust="spacingAndGlyphs" fill="#262626">10</text>
<text x="1665.00" y="853.36" font-size="47.25" text-anchor="start" textLength="57.26" lengthAdjust="spacingAndGlyphs" fill="#262626">15</text>
<text x="1665.00" y="583.18" font-size="47.25" text-anchor="start" textLength="57.26" lengthAdjust="spacingAndGlyphs" fill="#262626">20</text>
<text x="1665.00" y="313.00" font-size="47.25" text-anchor="start" textLength="57.26" lengthAdjust="spacingAndGlyphs" fill="#262626">25</text>
<path d="M1645.50 1379.22h-14M1645.50 1109.04h-14M1645.50 838.86h-14M1645.50 568.68h-14" stroke="#262626" stroke-width="1.3" fill="none"/>
<g transform="rotate(-90 1799.30 973.95)">
<text x="1645.32" y="973.95" font-size="47.25" text-anchor="start" textLength="254.51" lengthAdjust="spacingAndGlyphs" fill="#262626">Speed [m s</text>
<text x="1899.83" y="954.95" font-size="37.80" text-anchor="start" textLength="35.89" lengthAdjust="spacingAndGlyphs" fill="#262626">-1</text>
<text x="1935.72" y="973.95" font-size="47.25" text-anchor="start" textLength="17.56" lengthAdjust="spacingAndGlyphs" fill="#262626">]</text>
</g>
<path d="M2269.38 298.50V1649.40M2398.25 298.50V1649.40M2527.12 298.50V1649.40M2656.00 298.50V1649.40M2784.88 298.50V1649.40M2913.75 298.50V1649.40M3042.62 298.50V1649.40M2140.50 1514.31H3171.50M2140.50 1379.22H3171.50M2140.50 1244.13H3171.50M2140.50 1109.04H3171.50M2140.50 973.95H3171.50M2140.50 838.86H3171.50M2140.50 703.77H3171.50M2140.50 568.68H3171.50M2140.50 433.59H3171.50M2140.50 298.50H3171.50" stroke="#dedede" stroke-width="1.2" fill="none"/>
<path d="M2140.50 298.50V1649.40H3171.50 M2140.50 1649.40v-14M2269.38 1649.40v-14M2398.25 1649.40v-14M2527.12 1649.40v-14M2656.00 1649.40v-14M2784.88 1649.40v-14M2913.75 1649.40v-14M3042.62 1649.40v-14M2140.50 1649.40h14M2140.50 1514.31h14M2140.50 1379.22h14M2140.50 1244.13h14M2140.50 1109.04h14M2140.50 973.95h14M2140.50 838.86h14M2140.50 703.77h14M2140.50 568.68h14M2140.50 433.59h14M2140.50 298.50h14" stroke="#262626" stroke-width="1.3" fill="none"/>
<defs><clipPath id="clipf2"><rect x="2141.90" y="298.90" width="1026.16" height="1303.22"/></clipPath>
<filter id="f2" x="-10%" y="-10%" width="120%" height="120%"><feGaussianBlur stdDeviation="13 8"/></filter></defs>
<g clip-path="url(#clipf2)"><g filter="url(#f2)">
<rect x="2090.5" y="248.5" width="974.1" height="118.0" fill="#b977f2"/>
<rect x="3064.1" y="248.5" width="167.9" height="118.0" fill="#334dd8"/>
<rect x="2090.5" y="366.0" width="974.1" height="68.0" fill="#b977f2"/>
<rect x="3064.1" y="366.0" width="167.9" height="68.0" fill="#334dd8"/>
<rect x="2090.5" y="433.6" width="974.1" height="68.0" fill="#b977f2"/>
<rect x="3064.1" y="433.6" width="167.9" height="68.0" fill="#2c58d0"/>
<rect x="2090.5" y="501.1" width="557.4" height="68.0" fill="#b977f2"/>
<rect x="2647.4" y="501.1" width="69.2" height="68.0" fill="#c31b36"/>
<rect x="2716.1" y="501.1" width="348.5" height="68.0" fill="#c86308"/>
<rect x="3064.1" y="501.1" width="167.9" height="68.0" fill="#295fcc"/>
<rect x="2090.5" y="568.7" width="523.0" height="68.0" fill="#b977f2"/>
<rect x="2613.0" y="568.7" width="129.4" height="68.0" fill="#c31b36"/>
<rect x="2741.9" y="568.7" width="327.0" height="68.0" fill="#c86308"/>
<rect x="3068.4" y="568.7" width="163.6" height="68.0" fill="#2565c7"/>
<rect x="2090.5" y="636.2" width="480.1" height="68.0" fill="#d97ff1"/>
<rect x="2570.1" y="636.2" width="34.9" height="68.0" fill="#ec5197"/>
<rect x="2604.4" y="636.2" width="150.9" height="68.0" fill="#c11a33"/>
<rect x="2754.8" y="636.2" width="228.2" height="68.0" fill="#b94608"/>
<rect x="2982.5" y="636.2" width="90.7" height="68.0" fill="#cb7708"/>
<rect x="3072.7" y="636.2" width="159.3" height="68.0" fill="#2473ba"/>
<rect x="2090.5" y="703.8" width="437.1" height="68.0" fill="#d97ff1"/>
<rect x="2527.1" y="703.8" width="73.5" height="68.0" fill="#f361b3"/>
<rect x="2600.2" y="703.8" width="155.2" height="68.0" fill="#bd192d"/>
<rect x="2754.8" y="703.8" width="228.2" height="68.0" fill="#b74108"/>
<rect x="2982.5" y="703.8" width="69.2" height="68.0" fill="#d4a420"/>
<rect x="3051.2" y="703.8" width="180.8" height="68.0" fill="#2976b4"/>
<rect x="2090.5" y="771.3" width="179.4" height="68.0" fill="#b977f2"/>
<rect x="2269.4" y="771.3" width="172.3" height="68.0" fill="#e381f2"/>
<rect x="2441.2" y="771.3" width="155.2" height="68.0" fill="#f668c0"/>
<rect x="2595.9" y="771.3" width="159.4" height="68.0" fill="#bd192d"/>
<rect x="2754.8" y="771.3" width="228.2" height="68.0" fill="#b53d08"/>
<rect x="2982.5" y="771.3" width="52.0" height="68.0" fill="#a09d59"/>
<rect x="3034.0" y="771.3" width="198.0" height="68.0" fill="#2f7aac"/>
<rect x="2090.5" y="838.9" width="179.4" height="68.0" fill="#a470f5"/>
<rect x="2269.4" y="838.9" width="172.3" height="68.0" fill="#ce7df1"/>
<rect x="2441.2" y="838.9" width="86.4" height="68.0" fill="#ee82f3"/>
<rect x="2527.1" y="838.9" width="69.2" height="68.0" fill="#f361b3"/>
<rect x="2595.9" y="838.9" width="159.4" height="68.0" fill="#bd192d"/>
<rect x="2754.8" y="838.9" width="228.2" height="68.0" fill="#b53d08"/>
<rect x="2982.5" y="838.9" width="39.2" height="68.0" fill="#8d976d"/>
<rect x="3021.1" y="838.9" width="210.9" height="68.0" fill="#2f7aac"/>
<rect x="2090.5" y="906.4" width="179.4" height="68.0" fill="#9a6cf6"/>
<rect x="2269.4" y="906.4" width="129.4" height="68.0" fill="#b977f2"/>
<rect x="2398.2" y="906.4" width="107.9" height="68.0" fill="#d97ff1"/>
<rect x="2505.6" y="906.4" width="86.4" height="68.0" fill="#f86ecc"/>
<rect x="2591.6" y="906.4" width="163.7" height="68.0" fill="#c11a33"/>
<rect x="2754.8" y="906.4" width="228.2" height="68.0" fill="#b53d08"/>
<rect x="2982.5" y="906.4" width="30.6" height="68.0" fill="#829475"/>
<rect x="3012.6" y="906.4" width="219.4" height="68.0" fill="#2976b4"/>
<rect x="2090.5" y="974.0" width="222.3" height="68.0" fill="#9a6cf6"/>
<rect x="2312.3" y="974.0" width="129.4" height="68.0" fill="#af73f3"/>
<rect x="2441.2" y="974.0" width="86.4" height="68.0" fill="#ce7df1"/>
<rect x="2527.1" y="974.0" width="86.4" height="68.0" fill="#f879e2"/>
<rect x="2613.0" y="974.0" width="43.5" height="68.0" fill="#ec5197"/>
<rect x="2656.0" y="974.0" width="43.5" height="68.0" fill="#bd192d"/>
<rect x="2699.0" y="974.0" width="129.4" height="68.0" fill="#b23508"/>
<rect x="2827.8" y="974.0" width="86.4" height="68.0" fill="#b94608"/>
<rect x="2913.8" y="974.0" width="64.9" height="68.0" fill="#cb7708"/>
<rect x="2978.2" y="974.0" width="43.5" height="68.0" fill="#829475"/>
<rect x="3021.1" y="974.0" width="210.9" height="68.0" fill="#2473ba"/>
<rect x="2090.5" y="1041.5" width="265.3" height="68.0" fill="#9a6cf6"/>
<rect x="2355.3" y="1041.5" width="86.4" height="68.0" fill="#b977f2"/>
<rect x="2441.2" y="1041.5" width="43.5" height="68.0" fill="#a470f5"/>
<rect x="2484.2" y="1041.5" width="86.4" height="68.0" fill="#e381f2"/>
<rect x="2570.1" y="1041.5" width="86.4" height="68.0" fill="#f361b3"/>
<rect x="2656.0" y="1041.5" width="43.5" height="68.0" fill="#bd192d"/>
<rect x="2699.0" y="1041.5" width="215.3" height="68.0" fill="#b53d08"/>
<rect x="2913.8" y="1041.5" width="64.9" height="68.0" fill="#c86308"/>
<rect x="2978.2" y="1041.5" width="64.9" height="68.0" fill="#ada14c"/>
<rect x="3042.6" y="1041.5" width="189.4" height="68.0" fill="#2473ba"/>
<rect x="2090.5" y="1109.0" width="222.3" height="68.0" fill="#9a6cf6"/>
<rect x="2312.3" y="1109.0" width="43.5" height="68.0" fill="#b977f2"/>
<rect x="2355.3" y="1109.0" width="86.4" height="68.0" fill="#ee82f3"/>
<rect x="2441.2" y="1109.0" width="22.0" height="68.0" fill="#9066f6"/>
<rect x="2462.7" y="1109.0" width="34.9" height="68.0" fill="#5343ef"/>
<rect x="2497.1" y="1109.0" width="73.5" height="68.0" fill="#b977f2"/>
<rect x="2570.1" y="1109.0" width="86.4" height="68.0" fill="#e3427d"/>
<rect x="2656.0" y="1109.0" width="34.9" height="68.0" fill="#b81624"/>
<rect x="2690.4" y="1109.0" width="202.4" height="68.0" fill="#b94608"/>
<rect x="2892.3" y="1109.0" width="99.3" height="68.0" fill="#c97308"/>
<rect x="2991.1" y="1109.0" width="52.1" height="68.0" fill="#ada14c"/>
<rect x="3042.6" y="1109.0" width="189.4" height="68.0" fill="#216ec1"/>
<rect x="2090.5" y="1176.6" width="213.7" height="68.0" fill="#9a6cf6"/>
<rect x="2303.7" y="1176.6" width="30.6" height="68.0" fill="#f879e2"/>
<rect x="2333.8" y="1176.6" width="86.4" height="68.0" fill="#cd264a"/>
<rect x="2419.7" y="1176.6" width="43.5" height="68.0" fill="#b02c0b"/>
<rect x="2462.7" y="1176.6" width="43.5" height="68.0" fill="#4038e8"/>
<rect x="2505.6" y="1176.6" width="86.4" height="68.0" fill="#7b5af7"/>
<rect x="2591.6" y="1176.6" width="64.9" height="68.0" fill="#d83464"/>
<rect x="2656.0" y="1176.6" width="22.0" height="68.0" fill="#b4191f"/>
<rect x="2677.5" y="1176.6" width="193.8" height="68.0" fill="#c45408"/>
<rect x="2870.8" y="1176.6" width="129.4" height="68.0" fill="#d28d0a"/>
<rect x="2999.7" y="1176.6" width="64.9" height="68.0" fill="#b8a543"/>
<rect x="3064.1" y="1176.6" width="167.9" height="68.0" fill="#2473ba"/>
<rect x="2090.5" y="1244.1" width="63.4" height="68.0" fill="#f86ecc"/>
<rect x="2153.4" y="1244.1" width="138.0" height="68.0" fill="#9a6cf6"/>
<rect x="2290.9" y="1244.1" width="22.0" height="68.0" fill="#f86ecc"/>
<rect x="2312.3" y="1244.1" width="64.9" height="68.0" fill="#c82140"/>
<rect x="2376.8" y="1244.1" width="99.3" height="68.0" fill="#b23508"/>
<rect x="2475.6" y="1244.1" width="22.0" height="68.0" fill="#d4a420"/>
<rect x="2497.1" y="1244.1" width="95.0" height="68.0" fill="#4a3dec"/>
<rect x="2591.6" y="1244.1" width="34.9" height="68.0" fill="#a470f5"/>
<rect x="2625.9" y="1244.1" width="30.6" height="68.0" fill="#f86ecc"/>
<rect x="2656.0" y="1244.1" width="13.4" height="68.0" fill="#d83464"/>
<rect x="2668.9" y="1244.1" width="73.5" height="68.0" fill="#b94608"/>
<rect x="2741.9" y="1244.1" width="129.4" height="68.0" fill="#c86308"/>
<rect x="2870.8" y="1244.1" width="129.4" height="68.0" fill="#d79c13"/>
<rect x="2999.7" y="1244.1" width="86.4" height="68.0" fill="#cca62d"/>
<rect x="3085.6" y="1244.1" width="146.4" height="68.0" fill="#4b8795"/>
<rect x="2090.5" y="1311.7" width="93.5" height="34.3" fill="#c31b36"/>
<rect x="2183.5" y="1311.7" width="22.0" height="34.3" fill="#ec5197"/>
<rect x="2204.9" y="1311.7" width="34.9" height="34.3" fill="#c31b36"/>
<rect x="2239.3" y="1311.7" width="30.6" height="34.3" fill="#f86ecc"/>
<rect x="2269.4" y="1311.7" width="30.6" height="34.3" fill="#d83464"/>
<rect x="2299.4" y="1311.7" width="77.8" height="34.3" fill="#b81624"/>
<rect x="2376.8" y="1311.7" width="99.3" height="34.3" fill="#b53d08"/>
<rect x="2475.6" y="1311.7" width="22.0" height="34.3" fill="#d79c13"/>
<rect x="2497.1" y="1311.7" width="95.0" height="34.3" fill="#4038e8"/>
<rect x="2591.6" y="1311.7" width="64.9" height="34.3" fill="#8560f7"/>
<rect x="2656.0" y="1311.7" width="22.0" height="34.3" fill="#a470f5"/>
<rect x="2677.5" y="1311.7" width="22.0" height="34.3" fill="#d83464"/>
<rect x="2699.0" y="1311.7" width="86.4" height="34.3" fill="#cb7708"/>
<rect x="2784.9" y="1311.7" width="215.3" height="34.3" fill="#d6950e"/>
<rect x="2999.7" y="1311.7" width="86.4" height="34.3" fill="#d6a019"/>
<rect x="3085.6" y="1311.7" width="146.4" height="34.3" fill="#ada14c"/>
<rect x="2090.5" y="1345.4" width="200.9" height="34.3" fill="#bd192d"/>
<rect x="2290.9" y="1345.4" width="64.9" height="34.3" fill="#b11b19"/>
<rect x="2355.3" y="1345.4" width="120.8" height="34.3" fill="#b94608"/>
<rect x="2475.6" y="1345.4" width="30.6" height="34.3" fill="#d6a019"/>
<rect x="2505.6" y="1345.4" width="64.9" height="34.3" fill="#3845de"/>
<rect x="2570.1" y="1345.4" width="86.4" height="34.3" fill="#664ef7"/>
<rect x="2656.0" y="1345.4" width="34.9" height="34.3" fill="#4a3dec"/>
<rect x="2690.4" y="1345.4" width="17.7" height="34.3" fill="#ada14c"/>
<rect x="2707.6" y="1345.4" width="77.8" height="34.3" fill="#cb7708"/>
<rect x="2784.9" y="1345.4" width="258.2" height="34.3" fill="#d6950e"/>
<rect x="3042.6" y="1345.4" width="189.4" height="34.3" fill="#d28d0a"/>
<rect x="2090.5" y="1379.2" width="200.9" height="34.3" fill="#bd192d"/>
<rect x="2290.9" y="1379.2" width="64.9" height="34.3" fill="#b02c0b"/>
<rect x="2355.3" y="1379.2" width="129.4" height="34.3" fill="#c86308"/>
<rect x="2484.2" y="1379.2" width="17.7" height="34.3" fill="#ada14c"/>
<rect x="2501.3" y="1379.2" width="34.9" height="34.3" fill="#2f7aac"/>
<rect x="2535.7" y="1379.2" width="77.8" height="34.3" fill="#4038e8"/>
<rect x="2613.0" y="1379.2" width="43.5" height="34.3" fill="#7b5af7"/>
<rect x="2656.0" y="1379.2" width="34.9" height="34.3" fill="#4a3dec"/>
<rect x="2690.4" y="1379.2" width="30.6" height="34.3" fill="#6e9080"/>
<rect x="2720.4" y="1379.2" width="64.9" height="34.3" fill="#cb7708"/>
<rect x="2784.9" y="1379.2" width="447.1" height="34.3" fill="#d4920c"/>
<rect x="2090.5" y="1413.0" width="72.0" height="34.3" fill="#b02312"/>
<rect x="2162.0" y="1413.0" width="107.9" height="34.3" fill="#bd192d"/>
<rect x="2269.4" y="1413.0" width="64.9" height="34.3" fill="#b02c0b"/>
<rect x="2333.8" y="1413.0" width="159.4" height="34.3" fill="#cb7708"/>
<rect x="2492.8" y="1413.0" width="47.8" height="34.3" fill="#6e9080"/>
<rect x="2540.0" y="1413.0" width="73.5" height="34.3" fill="#4038e8"/>
<rect x="2613.0" y="1413.0" width="43.5" height="34.3" fill="#9066f6"/>
<rect x="2656.0" y="1413.0" width="34.9" height="34.3" fill="#4a3dec"/>
<rect x="2690.4" y="1413.0" width="30.6" height="34.3" fill="#6e9080"/>
<rect x="2720.4" y="1413.0" width="64.9" height="34.3" fill="#cb7708"/>
<rect x="2784.9" y="1413.0" width="447.1" height="34.3" fill="#d4920c"/>
<rect x="2090.5" y="1446.8" width="72.0" height="34.3" fill="#b23508"/>
<rect x="2162.0" y="1446.8" width="86.4" height="34.3" fill="#bd192d"/>
<rect x="2247.9" y="1446.8" width="64.9" height="34.3" fill="#b23508"/>
<rect x="2312.3" y="1446.8" width="193.8" height="34.3" fill="#d6950e"/>
<rect x="2505.6" y="1446.8" width="43.5" height="34.3" fill="#829475"/>
<rect x="2548.6" y="1446.8" width="64.9" height="34.3" fill="#4038e8"/>
<rect x="2613.0" y="1446.8" width="43.5" height="34.3" fill="#7b5af7"/>
<rect x="2656.0" y="1446.8" width="34.9" height="34.3" fill="#4a3dec"/>
<rect x="2690.4" y="1446.8" width="30.6" height="34.3" fill="#ada14c"/>
<rect x="2720.4" y="1446.8" width="64.9" height="34.3" fill="#cb7708"/>
<rect x="2784.9" y="1446.8" width="172.3" height="34.3" fill="#d79c13"/>
<rect x="2956.7" y="1446.8" width="275.3" height="34.3" fill="#d28d0a"/>
<rect x="2090.5" y="1480.5" width="93.5" height="34.3" fill="#b53d08"/>
<rect x="2183.5" y="1480.5" width="64.9" height="34.3" fill="#b81624"/>
<rect x="2247.9" y="1480.5" width="43.5" height="34.3" fill="#b53d08"/>
<rect x="2290.9" y="1480.5" width="129.4" height="34.3" fill="#d79c13"/>
<rect x="2419.7" y="1480.5" width="86.4" height="34.3" fill="#d4a420"/>
<rect x="2505.6" y="1480.5" width="43.5" height="34.3" fill="#6e9080"/>
<rect x="2548.6" y="1480.5" width="56.3" height="34.3" fill="#4038e8"/>
<rect x="2604.4" y="1480.5" width="52.1" height="34.3" fill="#7b5af7"/>
<rect x="2656.0" y="1480.5" width="34.9" height="34.3" fill="#4a3dec"/>
<rect x="2690.4" y="1480.5" width="30.6" height="34.3" fill="#ada14c"/>
<rect x="2720.4" y="1480.5" width="511.6" height="34.3" fill="#d28d0a"/>
<rect x="2090.5" y="1514.3" width="114.9" height="34.3" fill="#b94608"/>
<rect x="2204.9" y="1514.3" width="43.5" height="34.3" fill="#b11b19"/>
<rect x="2247.9" y="1514.3" width="43.5" height="34.3" fill="#c15008"/>
<rect x="2290.9" y="1514.3" width="107.9" height="34.3" fill="#d79c13"/>
<rect x="2398.2" y="1514.3" width="64.9" height="34.3" fill="#b8a543"/>
<rect x="2462.7" y="1514.3" width="86.4" height="34.3" fill="#5a8c8c"/>
<rect x="2548.6" y="1514.3" width="64.9" height="34.3" fill="#3d3de4"/>
<rect x="2613.0" y="1514.3" width="43.5" height="34.3" fill="#7b5af7"/>
<rect x="2656.0" y="1514.3" width="34.9" height="34.3" fill="#4038e8"/>
<rect x="2690.4" y="1514.3" width="26.3" height="34.3" fill="#929967"/>
<rect x="2716.1" y="1514.3" width="112.2" height="34.3" fill="#cb7708"/>
<rect x="2827.8" y="1514.3" width="404.2" height="34.3" fill="#d08808"/>
<rect x="2090.5" y="1548.1" width="93.5" height="34.3" fill="#b94608"/>
<rect x="2183.5" y="1548.1" width="64.9" height="34.3" fill="#b23508"/>
<rect x="2247.9" y="1548.1" width="64.9" height="34.3" fill="#cb7708"/>
<rect x="2312.3" y="1548.1" width="86.4" height="34.3" fill="#d79c13"/>
<rect x="2398.2" y="1548.1" width="43.5" height="34.3" fill="#ada14c"/>
<rect x="2441.2" y="1548.1" width="64.9" height="34.3" fill="#4b8795"/>
<rect x="2505.6" y="1548.1" width="43.5" height="34.3" fill="#2369c4"/>
<rect x="2548.6" y="1548.1" width="107.9" height="34.3" fill="#4a3dec"/>
<rect x="2656.0" y="1548.1" width="34.9" height="34.3" fill="#4038e8"/>
<rect x="2690.4" y="1548.1" width="26.3" height="34.3" fill="#929967"/>
<rect x="2716.1" y="1548.1" width="515.9" height="34.3" fill="#cc7c08"/>
<rect x="2090.5" y="1581.9" width="179.4" height="84.3" fill="#c15008"/>
<rect x="2269.4" y="1581.9" width="129.4" height="84.3" fill="#d79c13"/>
<rect x="2398.2" y="1581.9" width="43.5" height="84.3" fill="#929967"/>
<rect x="2441.2" y="1581.9" width="86.4" height="84.3" fill="#3b819e"/>
<rect x="2527.1" y="1581.9" width="129.4" height="84.3" fill="#4038e8"/>
<rect x="2656.0" y="1581.9" width="34.9" height="84.3" fill="#3845de"/>
<rect x="2690.4" y="1581.9" width="26.3" height="84.3" fill="#6e9080"/>
<rect x="2716.1" y="1581.9" width="515.9" height="84.3" fill="#c97308"/>
</g></g>
<defs><filter id="sn2" x="2140.5" y="298.5" width="1031.0" height="1350.9" filterUnits="userSpaceOnUse" color-interpolation-filters="sRGB">
<feTurbulence type="fractalNoise" baseFrequency="0.22 0.006" numOctaves="2" seed="4" result="n"/>
<feColorMatrix in="n" type="matrix" values="0 0 0 0 0 0 0 0 0 0 0 0 0 0 0 0.3 0 0 0 -0.15" result="d"/>
<feColorMatrix in="n" type="matrix" values="0 0 0 0 1 0 0 0 0 1 0 0 0 0 1 -0.3 0 0 0 0.15" result="l"/>
<feMerge><feMergeNode in="d"/><feMergeNode in="l"/></feMerge></filter></defs>
<g clip-path="url(#clipf2)"><rect x="2140.5" y="298.5" width="1031.0" height="1350.9" filter="url(#sn2)"/></g>
<g clip-path="url(#clipf2)"><g transform="translate(2138.35 298.50) scale(4.29583 10.39154)" fill="none" stroke-width="1.02">
<path stroke="#c86308" d="M5 0.5h2m99 0h1m10 0h1m17 0h1m17 0h1m16 0h1m1 0h1m20 0h1M31 1.5h1m159 0h1M62 2.5h1m11 0h1m110 0h1m1 0h1m35 0h1M33 3.5h1m10 0h1m10 0h1m14 0h1m67 0h1m5 0h1m52 0h1m18 0h1M83 4.5h1m10 0h1m77 0h1m14 0h1m12 0h1m36 0h1M40 5.5h1m12 0h1m54 0h1m20 0h1m8 0h1m8 0h1m25 0h1M39 6.5h1m12 0h1m16 0h1m63 0h1m3 0h1m20 0h1m6 0h1m23 0h1m7 0h1M45 7.5h1m7 0h1m23 0h1m32 0h1m51 0h1m4 0h1m38 0h1m1 0h1m7 0h1m11 0h1M10 8.5h1m29 0h1m19 0h1m29 0h1m49 0h1m2 0h1m7 0h1m53 0h1m33 0h1M13 9.5h1m23 0h1m13 0h1m59 0h1m53 0h2m7 0h1m5 0h1M48 10.5h1m39 0h1m60 0h1m4 0h1m12 0h1m21 0h1m33 0h1M25 11.5h1m50 0h1m6 0h1m26 0h1m6 0h1m6 0h1m4 0h1m37 0h1m42 0h1m11 0h1M4 12.5h1m3 0h1m45 0h1m12 0h1m4 0h1m32 0h1m6 0h2m21 0h1m31 0h1m5 0h1m20 0h1M19 13.5h1m28 0h1m26 0h1m16 0h1m5 0h1m8 0h1m1 0h1m1 0h1m2 0h1m5 0h1m65 0h1m9 0h1M30 14.5h1m40 0h1m57 0h1m4 0h1m44 0h1M4 15.5h1m85 0h1m47 0h1m13 0h1m48 0h1m33 0h1M63 16.5h1m88 0h1M10 17.5h1m7 0h1m7 0h1m40 0h1m33 0h1m68 0h1M87 18.5h1m8 0h1m82 0h1m9 0h1m42 0h1M29 19.5h1m28 0h1m58 0h1m10 0h1m16 0h1m48 0h1m5 0h1m4 0h1m26 0h1M7 20.5h1m51 0h1m14 0h1m48 0h2m17 0h1m7 0h1m47 0h1m15 0h1M66 21.5h1m74 0h1m22 0h2M82 22.5h1m94 0h1m8 0h1M2 23.5h1m10 0h1m26 0h1m73 0h1m17 0h1m10 0h1m32 0h1m3 0h1m5 0h1m12 0h1m31 0h1M11 24.5h1m21 0h1m4 0h1m107 0h1m34 0h1m31 0h1M25 25.5h1m39 0h1m27 0h1m12 0h1m30 0h1m36 0h1m62 0h1M43 26.5h1m47 0h1m5 0h1m14 0h1m32 0h1m12 0h2m7 0h1m11 0h1m8 0h1m16 0h1m20 0h1M23 27.5h1m1 0h1m18 0h1m3 0h1m36 0h1m24 0h1m45 0h1m11 0h1m10 0h2M40 28.5h1m20 0h1m1 0h1m86 0h1m4 0h1m10 0h1m7 0h1m58 0h2M80 29.5h1m18 0h1m48 0h1m20 0h1m14 0h1M108 30.5h1m89 0h1m16 0h1M9 31.5h1m93 0h1m23 0h1m35 0h1M2 32.5h1m17 0h1m7 0h1m16 0h1m31 0h1m5 0h1m3 0h1m1 0h1m44 0h1m10 0h1m14 0h1m50 0h2M12 33.5h1m26 0h1m16 0h1m87 0h1m49 0h1m6 0h1m6 0h1m2 0h1m15 0h1M0 34.5h1m51 0h1m57 0h1m56 0h1m13 0h1M55 35.5h1m11 0h1m30 0h1m12 0h1m45 0h1m1 0h1m3 0h1m5 0h1m29 0h1m13 0h1M2 36.5h1m20 0h1m74 0h1m29 0h1m15 0h1m52 0h1m6 0h1m3 0h1m2 0h1m3 0h1m18 0h1M95 37.5h1m25 0h1m30 0h1m5 0h1m28 0h1m13 0h1m10 0h2m1 0h1M31 38.5h1m8 0h1m32 0h1m19 0h1m10 0h1m56 0h1m7 0h1m16 0h1m11 0h1m11 0h1M37 39.5h1m49 0h1m45 0h1m14 0h1m4 0h1m2 0h1m3 0h1m29 0h1m2 0h1M5 40.5h1m7 0h1m89 0h1m14 0h1m41 0h1m25 0h1M7 41.5h2m45 0h1m11 0h1m60 0h1m23 0h1m3 0h2m17 0h1m36 0h1M2 42.5h1m11 0h1m35 0h1m27 0h1m71 0h1m6 0h1m51 0h1m4 0h1M44 43.5h1m12 0h1m103 0h1m19 0h1M1 44.5h1m17 0h1m131 0h1m22 0h1M17 45.5h1m99 0h1m28 0h1m9 0h1m1 0h1m35 0h1m3 0h1M18 46.5h1m41 0h1m39 0h1m48 0h1m35 0h1m11 0h1M132 47.5h1m15 0h1m2 0h1m6 0h1m10 0h1m1 0h1m10 0h1m8 0h1m42 0h1M13 48.5h1m127 0h1m62 0h1M4 49.5h1m1 0h1m79 0h1m58 0h1m1 0h1m1 0h1m21 0h1m8 0h1m13 0h1m3 0h1M167 50.5h1m8 0h1M77 51.5h1m38 0h1m27 0h1m3 0h1m6 0h1m13 0h1m10 0h1m5 0h1m14 0h1M0 52.5h1m31 0h1m48 0h1m74 0h1m15 0h1M54 53.5h1m98 0h1m7 0h3m16 0h1m21 0h1M35 54.5h1m15 0h1m111 0h1m45 0h1M71 55.5h1m52 0h1m23 0h1m5 0h1m9 0h1m10 0h1M88 56.5h1m54 0h1m1 0h1m2 0h1m11 0h1m1 0h1m28 0h1m3 0h1M49 57.5h1m95 0h1M17 58.5h1m25 0h1m99 0h1m35 0h1m3 0h2M167 59.5h2m5 0h1m5 0h1m2 0h1m2 0h1M161 60.5h1M152 61.5h1m27 0h1m6 0h1m1 0h2M2 62.5h1m100 0h1m20 0h1m43 0h1M80 63.5h1m85 0h1m8 0h1m11 0h1M143 64.5h1m11 0h1m6 0h1m24 0h1M161 65.5h1m5 0h2m18 0h1m4 0h1M141 66.5h1m5 0h1m6 0h1m33 0h1M170 67.5h1m21 0h1M145 68.5h1m23 0h1m8 0h1m2 0h2M130 69.5h1m43 0h1m6 0h1m2 0h1M153 70.5h1M130 71.5h1m21 0h1m14 0h1m2 0h1m5 0h1m10 0h1M146 72.5h1m38 0h1m2 0h1m2 0h1M141 73.5h1m3 0h1m13 0h1m3 0h2m14 0h1m1 0h1m11 0h1M135 74.5h1m18 0h1m7 0h1m5 0h1m9 0h1m9 0h1m3 0h2M93 75.5h1m49 0h1m22 0h1m11 0h1m8 0h1m1 0h2M136 76.5h1m11 0h1m6 0h1m7 0h1m5 0h1m2 0h1m21 0h1M147 77.5h1m11 0h1m3 0h1M129 78.5h1m25 0h1m3 0h1m4 0h1m17 0h1m4 0h1M45 79.5h1m84 0h1m6 0h1m5 0h1m3 0h1m10 0h1m2 0h1m3 0h1m2 0h1m25 0h2M163 80.5h1m6 0h1m13 0h1M144 81.5h1m32 0h1m6 0h1m12 0h1M180 82.5h1m4 0h1m3 0h1m3 0h2M69 83.5h1m59 0h1m48 0h1m8 0h2m6 0h1M138 84.5h1m1 0h1m41 0h1m1 0h2M126 85.5h1m1 0h1m5 0h1m5 0h1m6 0h1m5 0h1m1 0h1m8 0h1M58 86.5h1m69 0h1m4 0h1m10 0h1m2 0h1m12 0h1M129 87.5h1m1 0h1m5 0h1m1 0h1m3 0h1m2 0h1m3 0h1m4 0h1m4 0h1m4 0h1M134 88.5h2m4 0h1m5 0h3m11 0h1m2 0h2M126 89.5h1m1 0h1m19 0h1m10 0h1m1 0h1M137 90.5h1m1 0h1m4 0h1m6 0h1m14 0h1M151 91.5h1m3 0h1M127 92.5h1m23 0h1M145 93.5h1m12 0h1m6 0h1M144 94.5h1m1 0h1m16 0h1M144 95.5h1m13 0h1m1 0h1m1 0h1m3 0h1M155 96.5h1m7 0h3M141 97.5h1m7 0h1m4 0h1m3 0h1m8 0h1M133 98.5h1m2 0h1m2 0h1M131 99.5h1m11 0h1m1 0h1M57 101.5h1M147 103.5h1M55 105.5h1M144 106.5h1m4 0h1M64 107.5h1m78 0h1M50 108.5h1M59 109.5h1m86 0h1M58 110.5h1m1 0h1m1 0h1m1 0h2m70 0h1M140 111.5h1M136 112.5h1M137 113.5h1m8 0h1M153 117.5h1M151 118.5h1M8 119.5h1m23 0h1m115 0h1m1 0h1M28 120.5h1m131 0h1m4 0h1m2 0h1m24 0h1m22 0h1M34 121.5h1m154 0h1m33 0h1m13 0h1M144 122.5h1m40 0h1m10 0h1m36 0h1M1 123.5h1m29 0h1m5 0h1m112 0h1m50 0h1m25 0h1M5 124.5h1m2 0h1m3 0h1m132 0h1m3 0h1m23 0h1m10 0h1m6 0h2m13 0h1m2 0h1m27 0h1"/>
<path stroke="#2f53d4" d="M7 0.5h1m13 0h1m4 0h1m26 0h1m4 0h1m9 0h1m73 0h1m38 0h2M13 1.5h1m2 0h1m2 0h1m47 0h1m38 0h1m64 0h1m26 0h1m15 0h1M99 2.5h1m5 0h1m21 0h1m19 0h1m1 0h1m12 0h1m7 0h1m20 0h1m17 0h1M34 3.5h1m19 0h1m17 0h1m81 0h1m24 0h1m29 0h1m23 0h1M40 4.5h1m36 0h1m102 0h1m34 0h1M13 5.5h1m4 0h1m3 0h1m13 0h1m10 0h1m67 0h1m6 0h1m8 0h1m19 0h1m24 0h1m27 0h1M35 6.5h1m60 0h1m6 0h1m37 0h1M40 7.5h1m10 0h1m22 0h1m5 0h1m24 0h1m49 0h2m29 0h2M7 8.5h1m89 0h1m37 0h1m33 0h1m1 0h1m3 0h1m19 0h1M1 9.5h1m40 0h1m34 0h1m60 0h1m51 0h1M3 10.5h1m12 0h1m83 0h1m34 0h1m15 0h1m4 0h1m17 0h1m18 0h1m9 0h1M40 11.5h1m23 0h1m25 0h1m4 0h1m25 0h1m26 0h1m4 0h1m47 0h1m4 0h1M6 12.5h1m13 0h1m56 0h1m4 0h1m15 0h1m15 0h1m10 0h1m54 0h1M41 13.5h1m7 0h1m10 0h1m10 0h1m45 0h1m4 0h1m12 0h1m2 0h1m45 0h1M49 14.5h1m5 0h1m4 0h1m8 0h1m50 0h1m18 0h1m20 0h1m32 0h1m36 0h1M1 15.5h1m73 0h1m59 0h1m6 0h1m37 0h1m12 0h1m4 0h1m10 0h1M19 16.5h1m171 0h1m20 0h1m4 0h1m7 0h1M24 17.5h1m21 0h1m5 0h1m18 0h1m28 0h1m18 0h2m27 0h1M49 18.5h1m4 0h1m71 0h1m28 0h1m32 0h1m3 0h1m33 0h1m8 0h1M57 19.5h1m2 0h1m71 0h1m34 0h1m4 0h1m43 0h1M17 20.5h1m5 0h1m114 0h1m18 0h1m7 0h1M33 21.5h1m33 0h1m30 0h1m8 0h1m19 0h1m55 0h1M16 22.5h1m6 0h1m61 0h1m78 0h1m29 0h1M24 23.5h1m12 0h1m10 0h1m80 0h1m11 0h1m29 0h1m1 0h1m59 0h1M80 24.5h1m24 0h2m27 0h1m12 0h2m13 0h1M23 25.5h1m18 0h1m17 0h1m2 0h1m25 0h1m54 0h1m2 0h1m43 0h1M61 26.5h2m18 0h1m22 0h2m12 0h1m38 0h1m39 0h1m19 0h1m16 0h1M33 27.5h1m115 0h1m24 0h1M4 28.5h1m28 0h1m68 0h1m64 0h1m8 0h1m3 0h1m37 0h1M0 29.5h1m19 0h1m55 0h1m45 0h1m13 0h1m26 0h1M25 30.5h1m28 0h1m11 0h1m42 0h1m41 0h1m16 0h1m17 0h1m3 0h1M8 31.5h1m3 0h2m1 0h1m5 0h1m42 0h1m40 0h1m47 0h1M40 32.5h1m2 0h1m31 0h1m15 0h1m48 0h1m3 0h1m5 0h1m43 0h1m28 0h1M37 33.5h1m14 0h1m159 0h1M49 34.5h1m6 0h1m5 0h1m127 0h1m33 0h1M62 35.5h1m111 0h1m1 0h1m49 0h1m10 0h1m1 0h1M39 36.5h1m6 0h1m76 0h1m34 0h2m79 0h1M44 37.5h1m99 0h1m11 0h1m6 0h1m53 0h1M27 38.5h1m50 0h1m13 0h1m72 0h1m36 0h1M2 39.5h2m20 0h1m7 0h1m23 0h1m152 0h1m2 0h1m2 0h1M2 40.5h1m3 0h1m11 0h1m18 0h1m14 0h1m19 0h1m120 0h1m31 0h1M19 41.5h1m6 0h1m32 0h1m4 0h1m15 0h1m38 0h1m26 0h1m61 0h1m6 0h1m5 0h1m3 0h1m9 0h1M6 42.5h1m38 0h1m69 0h1m53 0h1m8 0h1m10 0h1m4 0h1M6 43.5h1m19 0h1m43 0h1m56 0h1m55 0h1m6 0h1m33 0h1m10 0h1M26 44.5h1m6 0h1m25 0h1m83 0h1m47 0h2m3 0h1m29 0h1m6 0h1M14 45.5h1m20 0h1m39 0h1m123 0h1m21 0h1M44 46.5h1m14 0h1m124 0h1m24 0h1m7 0h1m7 0h1M121 47.5h1m103 0h1M157 48.5h2m28 0h1m29 0h1m2 0h1m10 0h1m7 0h1M237 49.5h1M25 50.5h1m99 0h1m34 0h1m50 0h1m10 0h1m13 0h1M108 51.5h1m55 0h1m46 0h1m18 0h1m1 0h1m4 0h1M1 52.5h1m124 0h1m42 0h1m38 0h1m20 0h1M228 53.5h1M61 54.5h1m143 0h1m10 0h1m2 0h1m11 0h1m7 0h1M74 55.5h1m33 0h1m3 0h1m49 0h1m18 0h1m30 0h1m3 0h1m13 0h1m1 0h1M64 56.5h1m24 0h1m68 0h1m28 0h1m35 0h1m8 0h1M7 57.5h1m15 0h1m26 0h1m80 0h1m9 0h1m52 0h1m21 0h1m16 0h1M147 58.5h1m65 0h1m19 0h1m4 0h1M13 59.5h1m91 0h1m97 0h1M157 60.5h1m50 0h1m10 0h1m11 0h1M13 61.5h1m15 0h1m130 0h1m41 0h1m21 0h1m9 0h2M174 62.5h1m38 0h2m2 0h1m13 0h1m6 0h1M58 63.5h1m158 0h1m12 0h1M23 64.5h1m59 0h1m122 0h1m9 0h1m10 0h1M211 65.5h1m18 0h2M216 66.5h1m13 0h1m5 0h1M54 67.5h1m151 0h1m7 0h1m1 0h1m12 0h1m7 0h1M206 68.5h1m17 0h1M96 69.5h1m34 0h1m87 0h1m2 0h3m3 0h1M93 70.5h1m112 0h1m17 0h1m6 0h1m5 0h2M60 71.5h1m10 0h1m135 0h1m4 0h1m15 0h2M211 72.5h2m13 0h1M216 73.5h1M4 74.5h1m74 0h1m154 0h1m3 0h1M211 75.5h1M211 76.5h1m4 0h1m6 0h1m3 0h1M41 77.5h1m169 0h1m6 0h2m5 0h1M95 78.5h1m118 0h1m5 0h1m15 0h1M75 79.5h1m4 0h1m142 0h1m5 0h2m1 0h1M229 80.5h2M210 81.5h1m5 0h1m1 0h1m7 0h1m1 0h1M218 82.5h1M51 83.5h1m173 0h1m5 0h1M224 84.5h3m10 0h1M79 85.5h2M84 86.5h1m138 0h1M78 88.5h1m31 0h1M114 89.5h1M87 91.5h1m1 0h1M97 92.5h1M90 97.5h1M92 98.5h1m2 0h1m6 0h1M96 99.5h1M120 101.5h1M91 102.5h1m6 0h1M93 103.5h2M108 104.5h1M95 105.5h1M98 108.5h1m4 0h1m3 0h1M98 109.5h1m26 0h1M99 111.5h1M102 112.5h1M103 113.5h1M106 114.5h1M97 115.5h2M100 116.5h1m25 0h1M101 117.5h1M108 118.5h1M104 119.5h1M94 121.5h1M89 122.5h1M127 123.5h1M90 124.5h1m4 0h1m8 0h1"/>
<path stroke="#ec5197" d="M8 0.5h1m120 0h1m2 0h1m7 0h1m2 0h1m20 0h1m38 0h1m32 0h1M4 1.5h1m1 0h1m3 0h1m29 0h1m12 0h1m108 0h1m17 0h1m13 0h1m2 0h1M36 2.5h1m115 0h1m29 0h2m29 0h1M39 3.5h1m3 0h1m8 0h1m24 0h1m7 0h1m9 0h1m6 0h1m53 0h1m4 0h1m10 0h1m9 0h1M4 4.5h1m48 0h1m35 0h1m20 0h1m38 0h1m72 0h1m11 0h1M26 5.5h1m15 0h1m26 0h2m71 0h1m14 0h1M63 6.5h1m105 0h1m8 0h1M27 7.5h1m9 0h1m73 0h1m4 0h1m11 0h1m69 0h1M94 8.5h1m81 0h1m22 0h1M5 9.5h1m73 0h1m18 0h1m15 0h1m12 0h1m7 0h1m6 0h1m40 0h1m2 0h1M35 10.5h1m27 0h1m16 0h1m62 0h2m1 0h2m23 0h2m29 0h1M37 11.5h1m20 0h1m3 0h1m9 0h1m4 0h1m22 0h1m51 0h1m82 0h1M5 12.5h1m1 0h1m95 0h1m49 0h1m7 0h1m58 0h1M32 13.5h1m24 0h1m25 0h2m1 0h1m10 0h1m31 0h1m31 0h1M24 14.5h1m49 0h1m23 0h1m42 0h1m11 0h1m46 0h1m20 0h1M30 15.5h1m31 0h1m22 0h2m18 0h1m47 0h1m31 0h1m36 0h1m1 0h1M75 16.5h1m125 0h1m1 0h1m9 0h1M8 17.5h1m20 0h1m19 0h2m32 0h1m60 0h1m12 0h1m3 0h1m65 0h1M34 18.5h1m43 0h2m78 0h1M61 19.5h1m41 0h1m2 0h1m17 0h1m2 0h1m2 0h1m28 0h1m23 0h1m4 0h1m34 0h1m3 0h1M16 20.5h1m17 0h1m16 0h2m17 0h1m46 0h1m21 0h1m5 0h1m42 0h1M15 21.5h1m11 0h1m118 0h1m34 0h1m16 0h1M15 22.5h1m136 0h1m13 0h1m18 0h1M14 23.5h1m97 0h1m9 0h1m10 0h1m12 0h1m10 0h1m36 0h2m11 0h1M28 24.5h1m15 0h1m95 0h1m16 0h1m28 0h1m24 0h1M24 25.5h1m12 0h1m23 0h1m5 0h1m26 0h1m33 0h1m76 0h1m14 0h1M18 26.5h1m4 0h1m6 0h1m52 0h1m3 0h1m22 0h1m4 0h1m60 0h1M37 27.5h1m57 0h1m3 0h1m62 0h1M98 28.5h1m14 0h1m16 0h1m27 0h1m2 0h1m25 0h1m15 0h1m2 0h1M69 29.5h1m7 0h1m14 0h1m3 0h1M0 30.5h1m13 0h1m53 0h1m80 0h1m39 0h1m34 0h1M104 31.5h1m11 0h1m27 0h1m17 0h1m12 0h1m9 0h1m11 0h1m3 0h1m37 0h1M10 32.5h2m5 0h1m4 0h1m12 0h1m67 0h1m39 0h1m4 0h1m5 0h1m21 0h1m10 0h1M7 33.5h1m84 0h1m9 0h1m17 0h1m37 0h1M15 34.5h1m17 0h1m142 0h1M49 35.5h1m39 0h1m34 0h1m21 0h1m2 0h1m30 0h1M26 36.5h1m36 0h1m4 0h1m85 0h1m16 0h1M29 37.5h1m34 0h1m14 0h1m3 0h1m10 0h1m17 0h1m92 0h1m1 0h1M6 38.5h1m67 0h1m15 0h1m6 0h1M57 39.5h1m30 0h1m9 0h1m7 0h1M4 40.5h1m39 0h1m1 0h1m4 0h1m58 0h1m66 0h1m9 0h1M52 41.5h1M1 42.5h1m2 0h1m48 0h1m3 0h1m11 0h2m34 0h1m98 0h1M81 43.5h1m3 0h1m15 0h1m1 0h1M2 44.5h1m66 0h1m6 0h1m11 0h1m14 0h1m1 0h1m99 0h1M80 45.5h1m10 0h1m67 0h1m18 0h1m13 0h1M94 46.5h1m4 0h1m5 0h1m12 0h1m47 0h1M75 47.5h1m22 0h1m3 0h1m74 0h1m24 0h1m2 0h1M4 48.5h1m16 0h1m68 0h1m6 0h1m14 0h1M22 49.5h1m52 0h1m5 0h1m18 0h1m1 0h1m2 0h1m1 0h1m67 0h1M27 50.5h1m13 0h1m17 0h1m24 0h1m78 0h1m10 0h1M36 51.5h1m7 0h1m39 0h1m26 0h1m21 0h1m31 0h1m8 0h1M16 52.5h1m82 0h1m2 0h1m6 0h1m37 0h1M98 53.5h1m16 0h1m7 0h1m26 0h1m14 0h1M46 54.5h1m21 0h1m24 0h1m70 0h1M48 55.5h1M93 56.5h1M40 57.5h1m93 0h1m52 0h1m8 0h1M102 58.5h1m60 0h1M7 59.5h1m46 0h1m24 0h1m4 0h1m2 0h1M89 60.5h1m4 0h1m87 0h1m2 0h1M57 61.5h1m44 0h1m1 0h1m26 0h1M97 62.5h1m30 0h1M33 63.5h1m51 0h1m2 0h1m69 0h1M36 64.5h1m134 0h1M30 65.5h1m21 0h1M115 66.5h1M42 67.5h1m22 0h1m50 0h1m1 0h1M167 68.5h1M80 69.5h1m36 0h1M8 70.5h1m20 0h1m14 0h1m70 0h1M112 71.5h1m70 0h1M112 72.5h1m3 0h3M107 73.5h1M102 74.5h1m10 0h1M110 75.5h1m1 0h1m1 0h1m1 0h2m67 0h1M101 76.5h1m4 0h1m12 0h1M100 77.5h1m11 0h1M113 78.5h1m1 0h1M100 79.5h1m6 0h1m10 0h1M102 80.5h1m4 0h1m6 0h1M103 81.5h2m11 0h1M101 82.5h1m2 0h1m12 0h1M100 83.5h1m4 0h1M108 84.5h1M173 87.5h1"/>
<path stroke="#f884f4" d="M9 0.5h1m49 0h1m54 0h1m11 0h1m42 0h1m7 0h1m21 0h1m2 0h1m6 0h1M9 1.5h1m15 0h1m21 0h1m16 0h1m9 0h1m94 0h1m9 0h1m54 0h1M33 2.5h1m1 0h1m8 0h1m2 0h1m89 0h1m1 0h1m28 0h1m33 0h1M38 3.5h1m11 0h1m23 0h1m64 0h1m2 0h1m25 0h1m29 0h1m28 0h1m2 0h1M1 4.5h1m49 0h1m72 0h1m22 0h1m12 0h1m10 0h1m7 0h1m22 0h1m1 0h1m7 0h1m18 0h1M41 5.5h1m21 0h1m66 0h1m30 0h1m3 0h1m23 0h1m49 0h1M47 6.5h1m2 0h1m23 0h1m11 0h1m79 0h1M15 7.5h2m67 0h1m104 0h1m23 0h1m24 0h1M25 8.5h1m37 0h1m44 0h1m39 0h1M10 9.5h1m55 0h1m23 0h1m46 0h1m8 0h1m4 0h1m84 0h1m2 0h1M5 10.5h1m15 0h1m9 0h1m39 0h1m12 0h1m9 0h1m6 0h1m19 0h1m4 0h2m25 0h1m30 0h1m5 0h1m43 0h2M151 11.5h1m32 0h2m6 0h1m21 0h1M93 12.5h1m6 0h1m16 0h1m20 0h1m27 0h1m14 0h1m7 0h1m39 0h1M9 13.5h1m43 0h1m40 0h1m11 0h1m65 0h1m10 0h1m19 0h1m12 0h1M40 14.5h1m44 0h1m1 0h2m20 0h1m73 0h2m2 0h1m3 0h1m26 0h1M31 15.5h1m125 0h3m19 0h1m30 0h1M30 16.5h1m34 0h1m18 0h1m14 0h1m39 0h1m3 0h1m44 0h1M11 17.5h1m3 0h1m31 0h1m17 0h1m85 0h1m31 0h1m5 0h1m1 0h1M68 18.5h1m38 0h1m10 0h2m2 0h1m74 0h1M47 19.5h1m81 0h1M47 20.5h1m24 0h1m78 0h1m14 0h2M10 21.5h1m6 0h1m8 0h1m14 0h2m18 0h1m8 0h1m43 0h1m29 0h1m28 0h1m20 0h1m32 0h1M159 22.5h1M32 23.5h1m72 0h1m12 0h1M4 24.5h1m47 0h1m18 0h1m20 0h1m4 0h1m16 0h1m72 0h1M43 25.5h1m42 0h1m8 0h1m12 0h1m2 0h1m26 0h1m18 0h1m31 0h1M9 26.5h1m5 0h1m33 0h1m1 0h1m4 0h2m1 0h1m80 0h1m14 0h1m24 0h1M4 27.5h1m26 0h1m28 0h1m30 0h1m19 0h1m28 0h1M36 28.5h1m5 0h1m19 0h1m32 0h1m108 0h1m2 0h1M13 29.5h1m39 0h1m20 0h1m18 0h2m138 0h1M93 30.5h1m5 0h1m6 0h1m11 0h1m19 0h1m9 0h1m5 0h1m5 0h1M60 31.5h1m16 0h1m29 0h1m35 0h1m12 0h1m49 0h1m8 0h1m5 0h1M16 32.5h1m31 0h1m59 0h1m58 0h1M0 33.5h1m3 0h1m23 0h1m25 0h1m32 0h1m53 0h1m7 0h1m9 0h1m27 0h1m2 0h1M23 34.5h1m5 0h1m7 0h1m30 0h1m17 0h1m11 0h2m17 0h1m40 0h1M0 35.5h1m47 0h1m27 0h1m8 0h1m10 0h1m28 0h1m26 0h1m30 0h1M13 36.5h1m6 0h1m28 0h1m1 0h1m13 0h1m66 0h1m14 0h1m59 0h1M42 37.5h2m12 0h1m30 0h1m10 0h1m24 0h1M7 38.5h1m4 0h1m45 0h1m105 0h1M22 39.5h1m17 0h1m9 0h1m7 0h1m2 0h1m27 0h1m11 0h1m23 0h1m26 0h1m2 0h1m50 0h1M23 40.5h1m5 0h1m1 0h1m3 0h1m18 0h1m9 0h1m4 0h1m24 0h1m21 0h1m30 0h1m22 0h1m5 0h1M24 41.5h1m17 0h1m13 0h2m2 0h1m7 0h1m8 0h1m13 0h1m109 0h1m28 0h1M36 42.5h1m30 0h1m4 0h1m1 0h3m36 0h1m67 0h1M9 43.5h1m13 0h1m29 0h1m67 0h2m2 0h1m47 0h1M15 44.5h1m20 0h1m5 0h1m1 0h1m17 0h1m38 0h1m12 0h1M5 45.5h1m19 0h1m6 0h1m1 0h1m3 0h2m12 0h1m19 0h1m10 0h1m64 0h1M21 46.5h1m19 0h1m12 0h1m8 0h1m8 0h1m132 0h1M20 47.5h1m9 0h1m19 0h1m1 0h1m21 0h1m9 0h1M35 48.5h1m41 0h2m75 0h1m23 0h1m59 0h1M8 49.5h1m22 0h1m2 0h1m2 0h1m1 0h1m30 0h1m11 0h1m11 0h1m8 0h1m46 0h1m40 0h1M3 50.5h1m24 0h1m9 0h2m22 0h1m12 0h1m44 0h1m74 0h1M39 51.5h1m28 0h1m7 0h1m83 0h1M21 52.5h1m2 0h1m18 0h1m7 0h1m20 0h1m5 0h1m3 0h1m5 0h1m86 0h1M37 53.5h1m6 0h2m38 0h2m28 0h1m56 0h1M27 54.5h1m27 0h1m25 0h1m7 0h1m46 0h1m25 0h1M26 55.5h1m11 0h1m4 0h2m6 0h1m14 0h1M10 56.5h1m40 0h1m9 0h1m18 0h1m3 0h1m68 0h1M5 57.5h1m26 0h1m1 0h1m26 0h1m10 0h1m2 0h1m3 0h1m72 0h1m39 0h1M5 58.5h1m43 0h1m3 0h1m2 0h2m12 0h1m3 0h1m28 0h1m71 0h1M46 59.5h1m33 0h1m21 0h1M61 60.5h1m9 0h1m10 0h1m100 0h1M21 61.5h1m38 0h1m17 0h2m3 0h1m7 0h1M73 62.5h1m4 0h1m3 0h1M77 63.5h1m3 0h1m21 0h1M75 64.5h1m21 0h1m1 0h1M72 65.5h1m24 0h1m6 0h1M71 66.5h1m45 0h1M79 67.5h1m1 0h1m3 0h1m5 0h1m10 0h1m1 0h1M80 68.5h1m10 0h1m3 0h1m1 0h1m9 0h1m1 0h1M75 69.5h1m9 0h1m14 0h1M73 70.5h1m9 0h1m102 0h1M87 71.5h1m6 0h1m14 0h1M82 72.5h1m2 0h1M8 73.5h1m72 0h1m2 0h1m2 0h1M0 74.5h1M90 75.5h1m102 0h1M80 76.5h1M93 77.5h1M59 78.5h1M61 79.5h2m1 0h1m1 0h1M51 80.5h1m3 0h1m1 0h1M52 81.5h1m2 0h2M53 82.5h1M57 83.5h1m1 0h1M54 84.5h1m1 0h2m8 0h1M36 86.5h1m7 0h1M81 88.5h1M39 89.5h1m2 0h1M41 90.5h1"/>
<path stroke="#d4a420" d="M10 0.5h1m1 0h1m16 0h1m37 0h1m6 0h1m34 0h1m5 0h1m58 0h1m37 0h1M62 1.5h1m16 0h1m48 0h2m9 0h2m1 0h1m50 0h1m7 0h1M37 2.5h1m11 0h1m39 0h2m1 0h1m15 0h1m34 0h1m64 0h1M60 3.5h1m25 0h1m4 0h1m14 0h1m29 0h1m28 0h1m8 0h1m62 0h1M34 4.5h1m38 0h1m33 0h1m26 0h1m39 0h1m19 0h1m21 0h1M28 5.5h1m47 0h1m32 0h1m46 0h1m14 0h1m16 0h1m8 0h1m16 0h1m14 0h1M25 6.5h1m85 0h1m5 0h1m1 0h1M42 7.5h1m7 0h1m9 0h1m6 0h1m29 0h1m11 0h1m36 0h1m7 0h1m65 0h1M18 8.5h1m31 0h1m23 0h1m56 0h1m4 0h1m29 0h1m20 0h1M38 9.5h1m37 0h1m26 0h1m24 0h1m29 0h1m8 0h1m1 0h1m25 0h1m7 0h1m25 0h1M66 10.5h1m10 0h1m15 0h1m14 0h1m59 0h1m68 0h1M10 11.5h1m17 0h1m12 0h1m23 0h1m31 0h1m17 0h1m11 0h1m19 0h1m50 0h1m38 0h1M58 12.5h1m1 0h1m31 0h1m1 0h1m2 0h1m32 0h1m45 0h1m16 0h1m18 0h1m8 0h1M10 13.5h2m4 0h1m39 0h1m8 0h1m13 0h1m43 0h2m26 0h1M80 14.5h2m129 0h2M7 15.5h1m58 0h1m27 0h1m1 0h1m72 0h1m30 0h1m30 0h1m5 0h1M77 16.5h1m80 0h1m28 0h1m1 0h1m19 0h1m18 0h1M75 17.5h2m8 0h1m17 0h1m19 0h1m3 0h1m34 0h1m16 0h1m20 0h1m22 0h1M35 18.5h1m46 0h1m32 0h1m14 0h1m25 0h1m2 0h1m22 0h1M193 19.5h1m18 0h1M20 20.5h1m32 0h1m4 0h1m12 0h1m35 0h1m2 0h1m36 0h1m25 0h1m10 0h1M47 21.5h1m12 0h1m49 0h1m6 0h1m1 0h1m22 0h1m43 0h1m15 0h1M87 22.5h1m82 0h2m16 0h1m2 0h1M17 23.5h2m9 0h1m16 0h1m120 0h1m1 0h1m36 0h1m14 0h1M10 24.5h1m31 0h1m3 0h1m65 0h1m28 0h1m11 0h1m1 0h2m4 0h1m10 0h1m42 0h2m22 0h1M6 25.5h1m63 0h2m1 0h1m31 0h1m29 0h1m7 0h1m4 0h1m45 0h1m12 0h1M17 26.5h1m13 0h1m110 0h2m12 0h1m5 0h1m11 0h1m9 0h1m50 0h1M0 27.5h1m13 0h1m73 0h1m20 0h1m59 0h1m5 0h1m19 0h1m9 0h1m21 0h1M9 28.5h2m89 0h1m95 0h1m1 0h1M1 29.5h1m21 0h1m83 0h1m31 0h1m22 0h1m7 0h1m10 0h1m6 0h1m19 0h1m13 0h1M7 30.5h1m15 0h1m40 0h2m24 0h1m71 0h1m22 0h1m1 0h1M61 31.5h1m67 0h1m37 0h1m8 0h1m3 0h1m30 0h1M81 32.5h1m3 0h1m70 0h1m16 0h1M21 33.5h1m13 0h1m15 0h1m34 0h1m81 0h1m5 0h1m6 0h2m3 0h1m43 0h1M48 34.5h1m35 0h2m4 0h1m6 0h1m95 0h1m6 0h1m10 0h1M21 35.5h1m48 0h1m21 0h1m4 0h1m30 0h1m62 0h1M12 36.5h1m14 0h1m19 0h1m47 0h1m88 0h1m27 0h1M31 37.5h2m21 0h1m3 0h1m9 0h1m28 0h1m83 0h1M36 38.5h1m5 0h1m33 0h1m53 0h1m16 0h1M25 39.5h1m103 0h1m58 0h1m18 0h1M30 40.5h1m92 0h1m28 0h1m53 0h1M36 41.5h1m33 0h1m46 0h1m82 0h1M38 42.5h1m27 0h1m17 0h1m76 0h1M12 43.5h1m14 0h1m38 0h1m17 0h1M24 44.5h1m10 0h1m9 0h1m10 0h1m18 0h1m130 0h1M7 45.5h1m32 0h1m8 0h1m12 0h1m52 0h1m94 0h1M0 46.5h1m15 0h1m21 0h1m81 0h2m51 0h1m21 0h1M87 47.5h1m118 0h1M11 48.5h1m13 0h1m103 0h1m20 0h1m5 0h1m46 0h1M117 49.5h1m30 0h1m24 0h1m27 0h1M78 50.5h1m30 0h1m95 0h1M16 51.5h1m23 0h1m12 0h1m91 0h1m61 0h1M188 52.5h1M184 54.5h1M11 55.5h1m141 0h1M63 56.5h1m38 0h1M0 57.5h1m54 0h1m64 0h1M129 58.5h1M155 59.5h1M171 60.5h1M95 62.5h1M32 64.5h1m115 0h1m1 0h1M181 66.5h1M63 67.5h1M167 70.5h1M202 74.5h1M195 76.5h2m8 0h1M152 77.5h1M199 79.5h1M68 80.5h1m130 0h1m3 0h1M75 83.5h1M214 85.5h1M211 87.5h1M205 88.5h1M178 91.5h2m30 0h1m1 0h1m4 0h1M78 92.5h1m97 0h1m5 0h1m6 0h1m18 0h1m4 0h1M176 93.5h1m27 0h1M81 94.5h1m129 0h1M212 95.5h1M218 96.5h1M204 98.5h1M170 99.5h1m35 0h1m5 0h1m4 0h1M212 100.5h1m1 0h1m2 0h1M197 103.5h1M158 111.5h1m28 0h1M157 112.5h1M188 113.5h1M76 114.5h1m1 0h1M51 115.5h1m14 0h1m14 0h1M48 116.5h1m22 0h1m11 0h1M38 117.5h1m7 0h1M47 118.5h1m11 0h1M35 119.5h1m18 0h1m16 0h1M40 120.5h1M48 121.5h1m9 0h1M59 122.5h1M42 123.5h1M37 124.5h1m3 0h1"/>
<path stroke="#b11b19" d="M11 0.5h1m7 0h1m3 0h1m10 0h1m25 0h1m8 0h1m80 0h1m32 0h1m29 0h1M7 1.5h1m100 0h1m37 0h1m16 0h1m14 0h1m46 0h1M5 2.5h1m33 0h1m8 0h1m5 0h1m6 0h1m16 0h1m14 0h1m17 0h1m24 0h1m1 0h1m2 0h1m50 0h1m1 0h1m29 0h1M87 3.5h1m9 0h1m21 0h1m66 0h1m23 0h1m4 0h1M55 4.5h1m20 0h1m1 0h1m67 0h1m11 0h1M32 5.5h1m10 0h1m1 0h1m47 0h1m54 0h1m54 0h1m24 0h1M19 6.5h1m57 0h1m7 0h1m28 0h1m42 0h1m55 0h1m3 0h1M39 7.5h1m18 0h1m88 0h1m2 0h1m63 0h1m9 0h1M8 8.5h1m14 0h1m20 0h1m61 0h1m4 0h1m35 0h1m6 0h1m17 0h1m36 0h1m1 0h1M9 9.5h1m37 0h1m77 0h1m13 0h1m36 0h1M13 10.5h1m6 0h1m8 0h1m12 0h1m18 0h1m16 0h1m102 0h1M60 11.5h1m18 0h1m46 0h1m43 0h1m6 0h1m9 0h1M18 12.5h1m47 0h1m102 0h1m5 0h1m33 0h1M20 13.5h1m9 0h1m30 0h1m27 0h1m22 0h1m2 0h1m9 0h1m19 0h1m1 0h1m12 0h1m3 0h1m35 0h1M18 14.5h2m36 0h1m2 0h1m13 0h1m5 0h1m32 0h1m41 0h1m22 0h1M65 15.5h1m6 0h1m95 0h1m21 0h1m13 0h1M9 16.5h1m152 0h1m11 0h1M21 17.5h1m51 0h1m28 0h1m26 0h2m24 0h1m22 0h1m7 0h1m11 0h1m10 0h2m15 0h1M52 18.5h1m19 0h2m38 0h1m35 0h1m36 0h1m7 0h1m34 0h1M153 19.5h1m32 0h1M1 20.5h1m59 0h1m4 0h1m26 0h1m70 0h1m18 0h1M0 21.5h1m22 0h1m76 0h1m8 0h1m48 0h1m30 0h1m3 0h1m44 0h1M8 22.5h1m4 0h1m95 0h1m11 0h1m4 0h1m12 0h1m1 0h1m42 0h1m7 0h1m13 0h1m10 0h1M29 23.5h1m89 0h1m10 0h1m36 0h1m2 0h1m18 0h1m8 0h1m33 0h1M9 24.5h1m26 0h1m23 0h1m30 0h1m28 0h1m3 0h1m40 0h1m8 0h1m19 0h1m7 0h1M139 25.5h1m15 0h1m8 0h1m1 0h1m5 0h1m58 0h1M70 26.5h1m30 0h1m22 0h1m5 0h1m7 0h1m8 0h1m34 0h1M7 27.5h1m27 0h1m17 0h1m3 0h1m1 0h1m77 0h1m29 0h1m3 0h1m56 0h1m4 0h1M85 28.5h1m20 0h1m21 0h1m13 0h1m35 0h1m15 0h1M14 29.5h1m47 0h1m12 0h1m36 0h1m27 0h1m57 0h1m16 0h1m14 0h1M1 30.5h2m88 0h1m21 0h1m2 0h1m24 0h1m41 0h1m15 0h1M16 31.5h1m54 0h1m43 0h1m22 0h1m30 0h1m8 0h1m11 0h1m13 0h1m3 0h1m4 0h1M12 32.5h1m1 0h1m39 0h1m4 0h1m10 0h1m7 0h1m7 0h1m7 0h1m22 0h1m10 0h1m2 0h1m6 0h1m80 0h1m11 0h1M33 33.5h1m83 0h1m5 0h1m21 0h1m21 0h1m3 0h1m12 0h1m20 0h1m10 0h1M2 34.5h1m40 0h1m17 0h1m72 0h1m39 0h1m24 0h1M16 35.5h1m96 0h1m5 0h1m14 0h1m2 0h1m6 0h1m13 0h1m7 0h2m14 0h1M25 36.5h1m50 0h1m7 0h1m32 0h1m24 0h1m29 0h1m3 0h1M28 37.5h1m28 0h1m5 0h1m68 0h1m5 0h1m18 0h1m24 0h1m5 0h1M39 38.5h1m3 0h1m1 0h1m31 0h1m21 0h1m36 0h1m51 0h1m47 0h1M29 39.5h1m21 0h1m79 0h1m63 0h1M49 40.5h1m38 0h1m19 0h1m2 0h1m21 0h1m12 0h1m7 0h1M17 41.5h1m2 0h1m57 0h1m29 0h2m24 0h1m54 0h1M22 42.5h1m9 0h1m4 0h1m1 0h1m37 0h1m22 0h1m45 0h1m11 0h1m48 0h1M72 43.5h1m21 0h1m10 0h1m8 0h1m4 0h1m22 0h1m13 0h1M108 44.5h1m1 0h1M12 45.5h1m20 0h1m13 0h1m59 0h1m25 0h1m32 0h1m2 0h1m20 0h1m4 0h1M34 46.5h1m18 0h1m53 0h1m5 0h1m1 0h1m7 0h2m17 0h1m1 0h1m5 0h1m8 0h1m1 0h1m30 0h2M110 47.5h1m1 0h1m28 0h1m5 0h1m6 0h1m10 0h1m1 0h1m4 0h1m10 0h2m12 0h1m5 0h1M31 48.5h1m84 0h1m17 0h1m8 0h1m2 0h1m14 0h1m8 0h1m14 0h1M1 49.5h1m9 0h1m1 0h1m21 0h1m57 0h1m57 0h1m14 0h1m1 0h1M31 50.5h1m75 0h1m48 0h1m7 0h1m8 0h1M1 51.5h1m54 0h1m47 0h1m24 0h1m1 0h1m11 0h1m6 0h1m1 0h1M112 52.5h1m5 0h1m3 0h1m19 0h1m6 0h1m2 0h1m11 0h2m10 0h1m10 0h1m3 0h1M106 53.5h1m1 0h1m10 0h1m9 0h1m8 0h1m5 0h1m4 0h1m6 0h1m7 0h1M17 54.5h1m6 0h1m48 0h1m33 0h1m13 0h3m28 0h1m12 0h1m10 0h1m9 0h1M32 55.5h1m17 0h1m55 0h2m7 0h1m3 0h1m31 0h1m19 0h1m12 0h1m1 0h1m11 0h1M69 56.5h1m56 0h1m7 0h1m3 0h1m1 0h1m24 0h1m1 0h1M112 57.5h1m24 0h1m1 0h1m3 0h2m3 0h2m15 0h1m8 0h1m5 0h1m3 0h1m3 0h1m2 0h1M31 58.5h1m75 0h1m1 0h1m4 0h1m5 0h1m43 0h1m28 0h1M91 59.5h1m21 0h1m7 0h1m6 0h1m8 0h1m1 0h1m42 0h1m11 0h1M129 60.5h1m25 0h1m17 0h1m14 0h1m3 0h1M53 61.5h1m39 0h1m11 0h2m6 0h1m2 0h1m12 0h1m7 0h1m4 0h1m12 0h1m11 0h1m29 0h1M7 62.5h1m7 0h1m113 0h1m24 0h1m30 0h1M120 63.5h1m17 0h1m2 0h1m3 0h1m25 0h1m6 0h1m6 0h1M30 64.5h1m16 0h1m99 0h1m22 0h1M125 65.5h1m9 0h1m1 0h1m3 0h1m3 0h1m13 0h1m26 0h1M56 66.5h1m18 0h1m44 0h1m16 0h1m5 0h1m1 0h1m24 0h1m5 0h1M32 67.5h1m99 0h1m1 0h1m11 0h1M28 68.5h1M95 69.5h1m27 0h1m1 0h2m8 0h1m2 0h2m11 0h1m17 0h1M108 70.5h1m11 0h1m1 0h1m4 0h1m8 0h1m3 0h1m9 0h1m8 0h2m29 0h1M120 71.5h1m2 0h1m24 0h1m1 0h1m4 0h1m4 0h1m11 0h1M121 72.5h1m4 0h1m6 0h1m6 0h1m36 0h1M133 73.5h1m35 0h2M122 74.5h1m13 0h1m2 0h1m12 0h1M136 75.5h1m21 0h1m11 0h1m1 0h1M149 76.5h1m12 0h1m14 0h1M132 77.5h1m16 0h2m2 0h1m16 0h2m2 0h1M122 80.5h1M31 81.5h1m25 0h1m64 0h1M123 82.5h2m1 0h1M123 83.5h1m36 0h1M65 86.5h1m6 0h2m47 0h1M68 88.5h1m5 0h1M120 89.5h1M3 90.5h1M55 91.5h1M72 93.5h1M62 97.5h1M41 98.5h1m4 0h1M37 100.5h1m9 0h1m2 0h1M38 101.5h1m1 0h1M7 102.5h1m34 0h1m1 0h1M34 103.5h1m14 0h1M41 105.5h2M9 106.5h1m32 0h1M2 107.5h1m35 0h1m1 0h1M0 109.5h1m43 0h1M38 110.5h1m1 0h1M33 112.5h1M28 113.5h1m3 0h1M16 114.5h1M12 115.5h1M16 116.5h1M19 118.5h1"/>
<path stroke="#ada14c" d="M13 0.5h1m4 0h1m9 0h1m87 0h1m20 0h1m47 0h1M17 1.5h1m58 0h1m30 0h1m80 0h1m3 0h1m40 0h1M4 2.5h1m75 0h1m25 0h1m72 0h1M56 3.5h1m12 0h1m3 0h1m44 0h1m41 0h1m5 0h1m65 0h1M0 4.5h1m34 0h1m46 0h1m54 0h1m10 0h1m10 0h1m28 0h1M24 5.5h1m8 0h1m37 0h1m2 0h2m1 0h1m18 0h1m9 0h2m3 0h1m40 0h1m6 0h1m6 0h1m64 0h1M118 6.5h1m62 0h1M18 7.5h1m36 0h1m13 0h1m3 0h1m12 0h1m86 0h1m23 0h1m37 0h1M4 8.5h1m76 0h1m6 0h1m20 0h1m8 0h1M19 9.5h1m61 0h1m18 0h1m3 0h1m13 0h1m17 0h1m4 0h1m13 0h1m43 0h1M4 10.5h1m5 0h1m79 0h1m27 0h1m14 0h1m21 0h1m13 0h1m7 0h1M22 11.5h1m13 0h1m34 0h1m72 0h1m62 0h2M0 12.5h1m18 0h1m84 0h1m34 0h1m30 0h1m29 0h1M74 13.5h1m7 0h1m13 0h1m11 0h1m39 0h2m8 0h1m6 0h1m14 0h2m13 0h1M31 14.5h1m82 0h1m40 0h1m29 0h1m10 0h1M5 15.5h1m17 0h1m47 0h1m71 0h1m47 0h1m21 0h1M85 16.5h1m80 0h1m4 0h1m51 0h1M23 17.5h1m70 0h1m26 0h1m17 0h1m40 0h1M48 18.5h1m26 0h1m9 0h1m13 0h1m29 0h1m1 0h1m19 0h2m21 0h1m46 0h1M33 19.5h1m15 0h2m64 0h2m45 0h1m29 0h1m24 0h1M6 20.5h1m2 0h1m17 0h1m5 0h1m63 0h1m55 0h1m20 0h1m26 0h1M25 21.5h1m8 0h1m61 0h1m5 0h1m12 0h1m18 0h1m66 0h1m1 0h1M49 22.5h1m68 0h1m15 0h1m12 0h1m26 0h1m47 0h1M165 23.5h1m9 0h1M22 24.5h1m6 0h1m9 0h1m21 0h1m47 0h1m3 0h1m1 0h1m5 0h1m22 0h1m23 0h1M45 25.5h1m23 0h1m93 0h1m4 0h1m28 0h1M11 26.5h1m7 0h1m12 0h1m119 0h1m11 0h1m5 0h1M2 27.5h1m13 0h1m17 0h1m15 0h1m1 0h1m9 0h1m31 0h1m2 0h1m61 0h1M11 28.5h1m9 0h1m5 0h1m32 0h1m27 0h1m55 0h1m9 0h1m24 0h1m5 0h1m31 0h1M29 29.5h1m76 0h1m18 0h1m61 0h1m1 0h1m14 0h2M29 30.5h1m89 0h1m80 0h1M93 31.5h1m58 0h1m30 0h1m25 0h1m15 0h1M159 32.5h1m28 0h1m1 0h1m31 0h1m1 0h1M71 33.5h1m19 0h1m105 0h1M22 34.5h1m46 0h2m10 0h1m11 0h1m7 0h1m22 0h1m43 0h1m3 0h1m14 0h1M1 35.5h1m18 0h1m1 0h1m22 0h1m34 0h1m109 0h1M24 36.5h1m50 0h1m11 0h1m4 0h1m64 0h1m16 0h1m10 0h1m12 0h1m11 0h1M7 37.5h1m26 0h1m14 0h1m43 0h1m43 0h1m71 0h1m1 0h1M48 38.5h1m12 0h1m21 0h1m7 0h1m4 0h1m5 0h1m7 0h1m48 0h1m39 0h1M36 39.5h1m5 0h1m133 0h1M10 40.5h1m13 0h1m20 0h1m10 0h1m55 0h1m9 0h1m56 0h1M0 41.5h1m17 0h1m131 0h1m26 0h1m8 0h1m12 0h1M11 42.5h1m47 0h1m29 0h1m6 0h1m47 0h1m25 0h1m2 0h1m1 0h1m3 0h1m10 0h1M16 43.5h1m24 0h2m17 0h1m31 0h1m2 0h1m10 0h1m45 0h1m11 0h1m28 0h1M34 44.5h1m14 0h1m88 0h1m54 0h1m6 0h1M78 45.5h1m39 0h1m32 0h1m50 0h1m36 0h1M39 46.5h1m108 0h1M0 47.5h1m58 0h1m6 0h1m88 0h1m43 0h1M48 48.5h1m20 0h1m2 0h1m50 0h1m42 0h1m5 0h2m24 0h1m6 0h1M2 49.5h1m58 0h1m108 0h1M46 50.5h1m41 0h1M12 51.5h1m21 0h1m161 0h1M63 52.5h2m6 0h1m48 0h1m11 0h1M131 53.5h1m64 0h1M34 54.5h1m43 0h1m119 0h1M170 55.5h1M3 56.5h1m148 0h1m15 0h1m9 0h1M82 57.5h1m94 0h1M3 58.5h1m2 0h1m22 0h1m35 0h1m106 0h1m26 0h2M68 60.5h1m133 0h1M66 61.5h1m71 0h1m59 0h1M50 62.5h1m14 0h1m3 0h1M2 63.5h1m181 0h1M45 64.5h1m126 0h1M89 65.5h1m110 0h2M196 66.5h1M195 67.5h1M201 68.5h1M4 69.5h1M196 70.5h1m5 0h1M128 71.5h1m68 0h2M45 72.5h1m153 0h1M198 75.5h1M36 76.5h1m70 0h1m85 0h1m10 0h1M202 77.5h1m3 0h1M204 78.5h1M208 80.5h1M201 81.5h1m4 0h1M198 82.5h3M199 83.5h1m2 0h1m1 0h1m3 0h2M45 84.5h1m156 0h1m6 0h1M200 85.5h1m4 0h1m4 0h1m1 0h1M207 86.5h1M206 87.5h2M210 88.5h1m3 0h1M205 89.5h1M218 94.5h1M228 98.5h1m6 0h1m1 0h1M221 99.5h1M222 100.5h1m7 0h1M80 104.5h1M81 106.5h1M92 112.5h1M93 113.5h1m34 0h2M128 115.5h1m2 0h1M71 118.5h1M67 120.5h1M68 121.5h1m61 0h1M60 122.5h1m3 0h2M62 123.5h1M61 124.5h2m5 0h1"/>
<path stroke="#5343ef" d="M24 0.5h1m10 0h1m43 0h1m53 0h1m88 0h1M43 1.5h1m6 0h1m1 0h1m79 0h1m14 0h1m6 0h1m1 0h2m17 0h1m13 0h1m9 0h2m6 0h1M75 2.5h1m33 0h1m7 0h1m16 0h1m9 0h1m9 0h1m11 0h1m40 0h1m8 0h1m20 0h1M41 3.5h1m63 0h1m43 0h1m57 0h1m6 0h1M72 4.5h1m32 0h1m15 0h1m20 0h1m90 0h1M0 5.5h1m30 0h1m5 0h1m1 0h1m52 0h1m6 0h1m5 0h1m4 0h1m28 0h1m4 0h1m4 0h1M15 6.5h1m2 0h1m32 0h1m13 0h1m2 0h1m115 0h1m2 0h1m10 0h1M59 7.5h1m8 0h1m2 0h1m11 0h1m30 0h1m37 0h1m22 0h1m23 0h1m12 0h1M34 8.5h1m8 0h1m14 0h2m2 0h1m32 0h1m20 0h1m5 0h2m9 0h1m29 0h1m50 0h1m14 0h1m4 0h1M12 9.5h1m27 0h2m16 0h1m70 0h1m3 0h1m30 0h1m22 0h1m8 0h1M49 10.5h1m79 0h1m2 0h1m42 0h1m63 0h1M53 11.5h1m19 0h1m22 0h1m1 0h1m8 0h3m33 0h1m47 0h1m19 0h1M41 12.5h1m13 0h1m9 0h1m15 0h1m5 0h1m3 0h1m18 0h1m21 0h1m1 0h1m44 0h1m2 0h1m8 0h1m7 0h1m3 0h1m19 0h1M24 13.5h1m25 0h1m62 0h1m13 0h1m18 0h1m15 0h1m14 0h1m9 0h1m2 0h1m31 0h1M11 14.5h1m36 0h1m21 0h1m74 0h1m12 0h1M67 15.5h1m81 0h1m68 0h1m9 0h1M10 16.5h1m15 0h1m1 0h1m31 0h1m29 0h1m9 0h1m34 0h1m36 0h1m6 0h1m16 0h1m29 0h1M0 17.5h1m41 0h1m61 0h1m8 0h1m8 0h1m1 0h2m37 0h1m21 0h1m50 0h1M50 18.5h1m72 0h1m15 0h1m3 0h1m58 0h1M56 19.5h1m6 0h1m10 0h1m24 0h1m31 0h1m1 0h1m5 0h1m12 0h1m43 0h1m14 0h1m12 0h2M14 20.5h1m34 0h1m12 0h1m71 0h1m11 0h1m50 0h1M48 21.5h1m5 0h2m56 0h2m7 0h1m16 0h1m6 0h1m44 0h1m40 0h1M103 22.5h1m3 0h1m85 0h1m1 0h1m36 0h1m6 0h1M7 23.5h1m96 0h1m1 0h1m14 0h1m20 0h1m54 0h1M54 24.5h1m90 0h1m3 0h1m10 0h1m23 0h1m10 0h1m2 0h1m4 0h1M35 25.5h1m26 0h1m5 0h1m16 0h1m33 0h1m39 0h1m2 0h1m7 0h1m32 0h1m10 0h1M44 26.5h1m8 0h1m21 0h1m116 0h1M18 27.5h1m70 0h1m6 0h1m47 0h1m55 0h1m14 0h1m1 0h1m21 0h1M19 28.5h1m32 0h1m33 0h1m25 0h1m44 0h1m47 0h1m4 0h1m1 0h1M3 29.5h1m48 0h1m18 0h1m101 0h1m36 0h1m12 0h1M13 30.5h1m10 0h1m54 0h1m3 0h1m19 0h1m6 0h1m20 0h1m1 0h1m2 0h1m85 0h1M54 31.5h1m21 0h1m33 0h1m54 0h1m68 0h1M4 32.5h1m1 0h1m57 0h1m11 0h1m22 0h1m30 0h1m27 0h1m21 0h1m5 0h1m13 0h1m12 0h1m2 0h1m9 0h1M15 33.5h1m56 0h1m15 0h1m39 0h1m17 0h1m14 0h1M28 34.5h1m9 0h1m1 0h1m19 0h1m28 0h1m22 0h1m58 0h1m1 0h1m6 0h1m1 0h1M18 35.5h1m33 0h1m37 0h1m2 0h1m42 0h1m34 0h1M40 36.5h1m17 0h1m5 0h1m6 0h1m21 0h1m61 0h1m9 0h1m17 0h1m29 0h1M30 37.5h1m34 0h1m89 0h1M37 38.5h1m81 0h1m80 0h1M43 39.5h1m23 0h1m83 0h1m14 0h1m22 0h1m6 0h1M59 40.5h1m35 0h1m78 0h1m16 0h1M45 41.5h1m91 0h1M7 42.5h1m50 0h1m2 0h1m6 0h1m19 0h1m29 0h1m12 0h1m32 0h1M10 43.5h1m174 0h1m11 0h1M12 44.5h1m40 0h1m7 0h1m5 0h1m91 0h1M21 45.5h2m37 0h2m59 0h1m28 0h1m37 0h1m4 0h1m18 0h1M104 46.5h1m93 0h1M71 47.5h1m58 0h1M0 48.5h1m9 0h1m107 0h1M23 49.5h1m104 0h1m34 0h1m5 0h1m2 0h1m22 0h1M9 50.5h1m4 0h1m17 0h1m18 0h1m1 0h1m130 0h1M7 51.5h1m16 0h1m3 0h1m68 0h1m38 0h1m34 0h1M85 52.5h1m69 0h1M193 53.5h1M57 54.5h2m20 0h1M123 55.5h1M40 56.5h1m141 0h1M106 57.5h1M85 58.5h1M108 59.5h1M199 60.5h1M123 61.5h1m52 0h1M118 62.5h1M82 63.5h1m8 0h1m5 0h1M72 64.5h1m36 0h1M193 65.5h1M27 66.5h1m50 0h1M94 68.5h1M77 70.5h1M181 71.5h1M82 74.5h1M95 75.5h1M188 77.5h1M77 78.5h1M78 80.5h1M82 81.5h1M78 82.5h1m3 0h1M82 83.5h1m16 0h1M76 84.5h1M77 85.5h1m4 0h1m1 0h1M75 86.5h3m4 0h2M106 89.5h1M83 90.5h1M88 91.5h1m8 0h1M95 92.5h1m3 0h1M87 93.5h1M83 94.5h1m1 0h1m5 0h1m3 0h1M88 95.5h1M95 96.5h1M94 97.5h1M89 98.5h1m7 0h1M88 100.5h1m5 0h2M94 101.5h1m6 0h2m16 0h1M110 102.5h1m8 0h1m5 0h2M101 103.5h1m21 0h1M92 106.5h1m30 0h1M124 107.5h1M108 108.5h1m13 0h1m2 0h1M127 109.5h1M97 112.5h1M96 113.5h1M123 114.5h1M95 115.5h1m30 0h1M101 116.5h1m2 0h1m2 0h1m14 0h1m4 0h1M96 119.5h1M104 120.5h1m11 0h1M102 121.5h1m17 0h1M107 122.5h1m4 0h1M97 123.5h1m17 0h1m7 0h1M110 124.5h1"/>
<path stroke="#d83464" d="M25 0.5h1m45 0h1m36 0h1m11 0h1m37 0h1m49 0h1m10 0h1M20 1.5h1m20 0h1m76 0h1m11 0h2m16 0h1m28 0h1m30 0h1m2 0h1M77 2.5h1m19 0h1m86 0h1m1 0h1M148 3.5h1m64 0h1M2 4.5h1m2 0h1m48 0h1m54 0h1m1 0h1m8 0h1m8 0h1m8 0h1m62 0h1m5 0h1m1 0h1M16 5.5h1m21 0h1m106 0h1m26 0h1m5 0h1m32 0h1M28 6.5h1m7 0h1m62 0h1m7 0h1m7 0h1m23 0h1m11 0h1m7 0h2m18 0h1m21 0h1m9 0h1m2 0h1M19 7.5h1m1 0h1m12 0h1m9 0h1m37 0h1m30 0h1m8 0h1m98 0h1M3 8.5h1m25 0h1m59 0h1m17 0h1m13 0h1m16 0h1m5 0h1m28 0h1m4 0h1m5 0h1m11 0h1m30 0h1M144 9.5h1m40 0h1m3 0h1M11 10.5h1m7 0h1m72 0h1m19 0h1m75 0h1M8 11.5h1m90 0h1m22 0h2m13 0h2m16 0h1m30 0h1m12 0h2m11 0h1M23 12.5h1m12 0h1m14 0h1m18 0h1m19 0h1m27 0h1m2 0h1m66 0h1m22 0h1m2 0h2M33 13.5h1m54 0h1m64 0h1m22 0h1m12 0h1m1 0h1m1 0h1m3 0h1m4 0h1m7 0h1M5 14.5h1m27 0h1m59 0h1m14 0h1m28 0h1m12 0h1m44 0h1m5 0h1m6 0h1M6 15.5h1m90 0h1m36 0h1m15 0h1m61 0h1m8 0h1M153 16.5h1M74 17.5h1m4 0h1m18 0h2m14 0h1m2 0h1m64 0h1m20 0h1M2 18.5h1m98 0h1m7 0h1m15 0h1m58 0h1M51 19.5h1m10 0h1m41 0h1m35 0h2m2 0h1m15 0h1m24 0h1m27 0h1m20 0h1M64 20.5h1m65 0h1m32 0h1m8 0h1M9 21.5h1m6 0h1m54 0h1m27 0h1m1 0h1m2 0h1m19 0h1m47 0h1m14 0h1m3 0h1m4 0h1M4 22.5h1m30 0h1m42 0h1m29 0h1m27 0h1M0 23.5h1m2 0h1m17 0h1m1 0h1m79 0h1m51 0h1m25 0h1m6 0h1m2 0h1M26 24.5h1m7 0h1m6 0h1m53 0h1m11 0h1m9 0h1m1 0h1m10 0h1m39 0h1m12 0h1m16 0h1M31 25.5h1m55 0h2m10 0h1m32 0h1m1 0h1m6 0h1m16 0h1m54 0h1M8 26.5h1m12 0h1m38 0h1m52 0h1m12 0h1m12 0h1m10 0h1M32 27.5h1m21 0h1m32 0h1m14 0h1m2 0h1m16 0h1m22 0h1m9 0h1m27 0h1m6 0h1m16 0h1M6 28.5h1m86 0h1m3 0h1m23 0h1m15 0h1m53 0h1m29 0h1m15 0h1M6 29.5h1m19 0h1m28 0h1m1 0h1m1 0h1m1 0h1m5 0h1m62 0h1m6 0h1m26 0h1m18 0h1m12 0h1m17 0h1m11 0h1M69 30.5h1m7 0h1m43 0h1m13 0h1m17 0h1m38 0h1m9 0h1m1 0h1M67 31.5h1m30 0h1m25 0h1m6 0h1m5 0h1m7 0h1m8 0h1m6 0h1m22 0h1m22 0h1M34 32.5h1m1 0h1m10 0h1m7 0h1m10 0h1m4 0h1m8 0h1m32 0h1m33 0h1m7 0h1m1 0h1m7 0h1m11 0h1M59 33.5h1m24 0h1m13 0h1m2 0h1m11 0h1m7 0h1m7 0h1m6 0h1m38 0h1m2 0h1m31 0h1M3 34.5h1m72 0h1m3 0h1m28 0h1m37 0h1M38 35.5h1m71 0h1m20 0h1m10 0h1M60 36.5h1m19 0h1m4 0h1m34 0h2m41 0h1M8 37.5h2m56 0h1m7 0h2m46 0h1M35 38.5h1m26 0h1m8 0h1m13 0h1m63 0h1m44 0h1m6 0h1m13 0h1M21 39.5h1m12 0h1m24 0h1m137 0h1M106 40.5h1m19 0h1m26 0h1m5 0h1M11 41.5h1m73 0h1m30 0h1m1 0h1m10 0h1m76 0h1M60 42.5h1m34 0h1m16 0h1m21 0h1m32 0h1M7 43.5h1m10 0h1m11 0h1m31 0h1m12 0h1m32 0h1m14 0h1m58 0h1m25 0h2M20 44.5h1m65 0h1m6 0h1m18 0h1m6 0h1m6 0h1M31 45.5h1m14 0h1m12 0h1m76 0h1m27 0h1M68 46.5h1m86 0h1m16 0h1M36 47.5h1m4 0h1m44 0h1m55 0h1m50 0h1M23 48.5h1m25 0h1m48 0h1m25 0h1m14 0h1m56 0h1M99 49.5h1m10 0h1m4 0h1m13 0h1m5 0h1m3 0h1m65 0h1M23 50.5h1m82 0h1m1 0h1m4 0h1m9 0h2m1 0h1m14 0h2M6 51.5h1m99 0h1m7 0h1m70 0h1m6 0h1m4 0h1M12 52.5h1m45 0h1m48 0h1m2 0h1m28 0h1M127 53.5h1m67 0h1M135 54.5h1M61 55.5h1m40 0h1m17 0h1m12 0h1M36 56.5h1m124 0h1M121 57.5h1m35 0h1m11 0h1M130 58.5h1m31 0h1m33 0h1M0 59.5h1m121 0h1M7 60.5h1m35 0h1m55 0h1m9 0h1M110 61.5h1m13 0h1m5 0h1M106 62.5h1m14 0h1m8 0h1m10 0h1m44 0h1M74 63.5h1m34 0h1m18 0h1M22 64.5h1m82 0h1m9 0h1m2 0h1m4 0h1M76 65.5h1m42 0h1m63 0h1M113 66.5h1m4 0h1M126 67.5h1M124 72.5h1M192 75.5h1M123 76.5h1M22 77.5h1m49 0h1M14 78.5h1m94 0h2m3 0h1m3 0h1M172 79.5h1M106 80.5h1m8 0h1M100 81.5h1m1 0h1m11 0h1m2 0h1M104 83.5h1m8 0h1M102 84.5h1m2 0h1m1 0h1m7 0h1M45 85.5h1m62 0h4m7 0h1M56 86.5h1m36 0h1m13 0h1m1 0h1m1 0h1m26 0h1M105 87.5h1m5 0h1m1 0h1m2 0h1M56 88.5h1m3 0h1m44 0h1m6 0h1m4 0h2m71 0h1M52 89.5h1m52 0h1m7 0h1M55 90.5h1m49 0h1m7 0h1M44 94.5h1m75 0h1M121 96.5h1M31 98.5h1m4 0h1m92 0h1M128 99.5h1"/>
<path stroke="#c31b36" d="M27 0.5h1m9 0h1m72 0h1m10 0h1m8 0h2m44 0h1m7 0h1m40 0h1M24 1.5h1m4 0h1m12 0h1m6 0h1m145 0h1m27 0h1m4 0h1M76 2.5h1m21 0h1m11 0h1m1 0h1m51 0h1m15 0h1M42 3.5h1m8 0h1m38 0h1m76 0h1m57 0h2M33 4.5h1m47 0h1m114 0h1m16 0h1M29 5.5h1m42 0h1m59 0h1m13 0h1m3 0h1m40 0h1M13 6.5h1m52 0h1m106 0h1m42 0h1M22 7.5h1m49 0h1m39 0h1m14 0h1m4 0h1m20 0h1m14 0h1m19 0h1m37 0h1M2 8.5h1m23 0h1m14 0h1m7 0h1m7 0h1m55 0h1m38 0h1m14 0h1M39 9.5h1m3 0h1m105 0h1m3 0h1m23 0h1m6 0h1m8 0h1m31 0h1M64 10.5h1m48 0h1m24 0h1m39 0h1m47 0h1M3 11.5h1m2 0h2m11 0h1m15 0h1m46 0h1m28 0h1m4 0h1m19 0h1m13 0h1m10 0h1m18 0h1m2 0h1m10 0h1m30 0h1M3 12.5h1M8 13.5h1m3 0h1m46 0h1m12 0h1m17 0h2m24 0h1m27 0h1m7 0h1m26 0h1m5 0h1m23 0h1m7 0h1m8 0h1M38 14.5h1m19 0h1m33 0h1m26 0h1m24 0h1m3 0h1M88 15.5h1m103 0h1m2 0h1M21 16.5h1m112 0h1m26 0h1m1 0h1m21 0h1m14 0h1M2 17.5h1m67 0h1m10 0h1m67 0h1m8 0h1m1 0h1m13 0h1m22 0h1m4 0h1M29 18.5h1m46 0h1m6 0h1m10 0h1m29 0h1m62 0h1m36 0h1M65 19.5h1m59 0h1m42 0h1m21 0h1M4 20.5h1m30 0h1m29 0h1m37 0h1m31 0h1m1 0h1m11 0h1m5 0h1m80 0h1M68 21.5h1m4 0h1m32 0h1m23 0h1m21 0h1m2 0h1m66 0h1m6 0h1m7 0h1M20 22.5h1m6 0h1m4 0h1m47 0h1m39 0h1m46 0h1M6 23.5h1m12 0h1m18 0h1m46 0h1m59 0h1m12 0h1m28 0h1m38 0h1M27 24.5h1m99 0h1m5 0h1m1 0h1m3 0h1m14 0h1m11 0h1m4 0h1m21 0h1m2 0h1m2 0h1M11 25.5h1m10 0h1m144 0h1m36 0h1M20 26.5h1m42 0h1m7 0h1m35 0h1m11 0h1m12 0h1m28 0h1m27 0h1m16 0h1M42 27.5h1m6 0h1m48 0h1m24 0h2m32 0h1m19 0h1m14 0h1M38 28.5h1m9 0h1m47 0h1m6 0h1m3 0h1m18 0h1m21 0h1m34 0h1m24 0h1M7 29.5h1m13 0h1m86 0h1m1 0h1m27 0h1m19 0h1m17 0h1m1 0h1m6 0h1M85 30.5h1m46 0h1m41 0h1m30 0h1m31 0h1M23 31.5h1m31 0h1m6 0h1m5 0h1m39 0h1m19 0h1m19 0h1m6 0h1m14 0h1m3 0h1m7 0h1m5 0h1M23 32.5h1m17 0h1m16 0h1m25 0h1m12 0h1m27 0h1m40 0h1m18 0h1m5 0h1m1 0h1m31 0h1M31 33.5h1m18 0h1m6 0h1m11 0h1m11 0h1m14 0h1m15 0h1m3 0h1m79 0h1m40 0h1M11 34.5h1m24 0h1m2 0h1m35 0h1m37 0h1m22 0h1m12 0h1m25 0h1m36 0h1M2 35.5h1m14 0h1m1 0h1m44 0h1m16 0h1m24 0h1m1 0h1m29 0h1m69 0h1M108 36.5h2m2 0h1m11 0h1m11 0h2m18 0h1m59 0h1M0 37.5h1m103 0h1m14 0h1m10 0h1m8 0h1m1 0h2m3 0h1m57 0h1m3 0h1M28 38.5h1m79 0h1m9 0h1m12 0h1m6 0h1m15 0h1m52 0h1M70 39.5h1m55 0h1m32 0h1m17 0h1m20 0h1m2 0h1M9 40.5h1m7 0h1m14 0h1m14 0h1m9 0h1m85 0h1m72 0h1M12 41.5h1m35 0h1m1 0h1m22 0h1m20 0h1m54 0h1M10 42.5h1m2 0h1m4 0h1m16 0h1m7 0h1m18 0h1m51 0h1m26 0h1M14 43.5h1m21 0h1m14 0h1m24 0h1m39 0h1m36 0h1m21 0h1m1 0h1m60 0h1M5 44.5h1m44 0h1m23 0h1m9 0h1m28 0h1M6 45.5h1m64 0h1m48 0h1m2 0h2m1 0h1m11 0h3m34 0h1M8 46.5h1m107 0h1m24 0h1m47 0h1m14 0h1M123 47.5h1m21 0h1M38 48.5h1m7 0h1m66 0h1m16 0h1m17 0h1m40 0h1M111 49.5h1m10 0h1m2 0h1m70 0h1M30 50.5h1m6 0h1m20 0h1m77 0h1m56 0h1m13 0h1M2 51.5h1m56 0h1m63 0h1m18 0h1m48 0h1M111 52.5h1m5 0h1m3 0h1m12 0h1M11 53.5h1m56 0h1m49 0h1m3 0h1m9 0h1m41 0h1M19 54.5h1m121 0h1M2 55.5h1m106 0h1m3 0h1m16 0h1m10 0h1m8 0h1M34 56.5h1m86 0h1m27 0h1m40 0h1m10 0h1M110 57.5h1m7 0h1M13 58.5h1m5 0h1m91 0h1m23 0h1m6 0h1m25 0h2M83 59.5h1m26 0h1m8 0h1m10 0h1m2 0h1m2 0h1M67 60.5h1m44 0h1m14 0h1m4 0h2m5 0h1M109 61.5h1m29 0h1M107 62.5h1m5 0h1m24 0h1m25 0h1m36 0h1M110 63.5h1m5 0h1m4 0h1m42 0h1m2 0h1m15 0h1M13 64.5h1m94 0h1m28 0h1M101 65.5h1m13 0h1m7 0h1m5 0h1M60 66.5h1m61 0h1M120 67.5h1m31 0h1M13 68.5h1m106 0h1m3 0h1m55 0h1M103 70.5h1M181 72.5h1M187 73.5h1M129 75.5h1M38 76.5h1m46 0h1m42 0h1M124 77.5h1M122 78.5h1M124 81.5h1M125 82.5h1M144 83.5h1M48 85.5h1m3 0h1m9 0h1M48 86.5h1m1 0h1m1 0h2M50 88.5h1m11 0h1M29 89.5h1m21 0h1M48 90.5h1m7 0h1m4 0h1M42 92.5h1m9 0h1M43 93.5h1m7 0h1M47 94.5h1m1 0h1m4 0h1M45 95.5h1M42 96.5h1m8 0h1M43 97.5h1M8 98.5h1m10 0h1m23 0h1m4 0h1M0 99.5h1m48 0h1M5 100.5h1m3 0h1m10 0h1m20 0h1m10 0h1M5 101.5h1m21 0h1m5 0h1M1 102.5h1m1 0h1M28 103.5h1M5 104.5h1m6 0h2m5 0h1M3 105.5h1m24 0h1M25 106.5h1M6 107.5h1m5 0h1m13 0h1M27 108.5h1M21 110.5h1m1 0h1M11 112.5h2m2 0h1M13 113.5h1m2 0h1M18 114.5h1m1 0h1M23 115.5h1"/>
<path stroke="#f86ecc" d="M30 0.5h1m1 0h1m7 0h1m21 0h1m3 0h1m58 0h1m21 0h2m8 0h1m2 0h2m26 0h1m1 0h1m4 0h1M14 1.5h1m6 0h1m29 0h1m85 0h1m3 0h1m11 0h1m22 0h1m53 0h1M53 2.5h1m2 0h1m28 0h1m43 0h1m23 0h1m24 0h1m16 0h1m2 0h1M59 3.5h1m55 0h1m55 0h1m31 0h1M42 4.5h1m14 0h1m26 0h1m28 0h1M44 5.5h1m36 0h1m3 0h1m91 0h1m7 0h1m9 0h1M76 6.5h1m18 0h1m8 0h1m30 0h1m17 0h1m41 0h1m8 0h1M36 7.5h1m19 0h2m38 0h1m10 0h1m13 0h1m27 0h1m61 0h1m3 0h1m23 0h1M1 8.5h1m31 0h1m62 0h1m20 0h1m24 0h1m7 0h1m19 0h1m26 0h1m10 0h1m1 0h1M26 9.5h1m3 0h2m12 0h1m14 0h2m22 0h1m10 0h2m16 0h1m27 0h1m4 0h1m8 0h1m23 0h2m43 0h1M18 10.5h1m43 0h1m5 0h1m7 0h1m14 0h1m32 0h2m8 0h1M21 11.5h1m17 0h1m21 0h1m8 0h1m148 0h1M78 12.5h1m10 0h1m18 0h1m6 0h1m79 0h1m30 0h1M0 13.5h1m2 0h1m3 0h1m60 0h1m31 0h1m62 0h1m28 0h1m5 0h2m34 0h1M63 14.5h1m1 0h1m18 0h1m9 0h1m5 0h1m3 0h1m28 0h1m8 0h1m3 0h1m31 0h1m45 0h1m8 0h1M10 15.5h1m18 0h1m39 0h1m77 0h1m46 0h1m8 0h1m10 0h1M148 16.5h1m1 0h1m48 0h1m10 0h1m19 0h1M17 17.5h1m27 0h1m5 0h1m54 0h1m19 0h1m19 0h1m6 0h1m19 0h1m10 0h1m11 0h1M32 18.5h1m65 0h1m7 0h1m46 0h1m44 0h1M0 19.5h2m30 0h1m80 0h1m28 0h1m15 0h1m25 0h1m22 0h1M15 20.5h1m86 0h1m3 0h1m34 0h1m16 0h1M4 21.5h1m3 0h1m49 0h1m3 0h1m45 0h1m45 0h1m24 0h1m2 0h1m12 0h1M77 22.5h1m6 0h1m19 0h2m8 0h1m30 0h1m7 0h1m22 0h1m3 0h1m16 0h1m18 0h1M111 23.5h1m4 0h1m18 0h1m38 0h1m3 0h1m3 0h1m40 0h1M5 24.5h1m1 0h1m57 0h1m15 0h1m22 0h1m20 0h1m65 0h1M0 25.5h1m45 0h1m8 0h1m19 0h1m15 0h1m50 0h1m6 0h1m82 0h1M0 26.5h1m47 0h1M5 27.5h2m51 0h1m2 0h1m66 0h1m17 0h1m13 0h1m2 0h2m19 0h1m24 0h1M3 28.5h1m41 0h1m53 0h1m1 0h1m43 0h1m23 0h1m12 0h1m5 0h1m4 0h1m5 0h1m16 0h1M12 29.5h1m72 0h1m2 0h1m6 0h1m28 0h1m6 0h1m71 0h1M63 30.5h1m8 0h1m27 0h1m1 0h1m39 0h1m68 0h1M2 31.5h1m2 0h1m128 0h1m7 0h1m28 0h1m40 0h1m22 0h1M19 32.5h1m9 0h1m9 0h1m6 0h1m6 0h1m41 0h1m96 0h1M3 33.5h1m7 0h1m17 0h1m46 0h1m3 0h1m19 0h1m17 0h1m32 0h1m27 0h1m29 0h1M1 34.5h1m48 0h1m102 0h1m42 0h1m5 0h1m22 0h1M12 35.5h1m26 0h1m170 0h1m25 0h1M16 36.5h1m39 0h1m5 0h1m10 0h1m4 0h1m10 0h1m45 0h1m12 0h1M38 37.5h1m134 0h1m15 0h1m16 0h1M30 38.5h1m15 0h1m79 0h1m81 0h1M0 39.5h1m22 0h1m3 0h1m67 0h2m16 0h1m23 0h1m53 0h1M16 40.5h1m36 0h1m26 0h1m9 0h1m82 0h1m1 0h1m14 0h1M41 41.5h1m50 0h1m3 0h1m69 0h1m35 0h1M0 42.5h1m16 0h1m65 0h1m18 0h1m8 0h1M52 43.5h1m14 0h1m78 0h1m19 0h1m4 0h1m27 0h1M25 44.5h1m6 0h1m13 0h1m17 0h1m3 0h1m2 0h1m24 0h1m5 0h1m101 0h1M65 45.5h1m61 0h1m33 0h1M78 46.5h1m6 0h1m1 0h1m2 0h1M37 47.5h1m65 0h1m1 0h1M67 48.5h1M15 49.5h1m4 0h1m30 0h1m1 0h2m10 0h1m25 0h1m42 0h1m9 0h1m8 0h1m8 0h1M26 50.5h1m40 0h1m44 0h1m64 0h1M31 51.5h1m56 0h1m4 0h1m5 0h1m18 0h1m58 0h1m5 0h1M73 52.5h1m6 0h1m20 0h1m2 0h1M24 53.5h1m49 0h1m26 0h1m45 0h1M90 54.5h1m5 0h1m3 0h1m82 0h1m1 0h1M90 55.5h1m12 0h1m97 0h1M68 56.5h1m87 0h1m37 0h1m2 0h1M46 57.5h1m43 0h1m9 0h1m22 0h1m38 0h1m13 0h1M91 58.5h1M42 59.5h1m43 0h1m63 0h1M86 60.5h1m8 0h1m4 0h1M12 61.5h1m72 0h1m10 0h1m2 0h1M96 62.5h1m7 0h1m47 0h1M25 63.5h1m85 0h1m13 0h1m17 0h1m13 0h1m12 0h1M84 64.5h1m2 0h1m1 0h2m5 0h1M91 65.5h1m14 0h1m1 0h1M106 66.5h1m3 0h1m71 0h1m3 0h1m4 0h1m2 0h1M90 67.5h1m20 0h1m49 0h1M119 68.5h1M119 69.5h1m62 0h1M100 70.5h2m2 0h1m13 0h1M106 72.5h1m1 0h1M189 73.5h1M21 74.5h1m89 0h1M104 75.5h1m3 0h1M94 76.5h1m20 0h2M104 77.5h1m12 0h1M70 81.5h1M38 86.5h1m1 0h1M41 87.5h1m2 0h1M39 90.5h1M39 91.5h1m79 0h1M117 95.5h1M39 96.5h1m77 0h1M29 100.5h1"/>
<path stroke="#6e9080" d="M31 0.5h1m16 0h3m1 0h1m74 0h1m10 0h1m13 0h1m38 0h1m43 0h1M8 1.5h1m17 0h1m1 0h1m16 0h1m139 0h1M40 2.5h1m47 0h1m14 0h1m22 0h1m21 0h1m18 0h1m8 0h1m4 0h1m18 0h1M75 3.5h1m22 0h1m18 0h1m25 0h1m29 0h1m7 0h1m29 0h1M31 4.5h1m32 0h1m9 0h1m4 0h1m24 0h1m9 0h1m39 0h1m6 0h1M49 5.5h1m125 0h1m57 0h1M46 6.5h1m23 0h1m26 0h1m2 0h1m8 0h1m10 0h2m30 0h1m2 0h1m12 0h1m17 0h1m15 0h1m36 0h1M14 7.5h1m26 0h1m20 0h1m7 0h1m80 0h1m52 0h1m14 0h1M141 8.5h1m43 0h1M34 9.5h1m22 0h1m15 0h1m4 0h1m55 0h1m33 0h1m13 0h1m48 0h1M32 10.5h1m3 0h2m8 0h1m52 0h1m19 0h1m16 0h1m8 0h1m20 0h1m16 0h1m37 0h1m7 0h1M24 11.5h1m41 0h1m24 0h1m10 0h1m15 0h1m27 0h1m81 0h1M73 12.5h1m35 0h1m12 0h1m10 0h1m3 0h1m27 0h1m5 0h1m38 0h1M13 13.5h1m4 0h1m10 0h1m17 0h1m6 0h1m9 0h1m45 0h1m8 0h1m1 0h1m4 0h1m61 0h1m18 0h2m6 0h1m14 0h1m5 0h1M39 14.5h1m26 0h1m23 0h1m8 0h1m1 0h1m9 0h1m68 0h1m5 0h1m2 0h1m2 0h1m23 0h1m10 0h1M26 15.5h1m60 0h1m108 0h1M76 16.5h1m16 0h1m46 0h1m32 0h1m6 0h1m30 0h1m15 0h1m7 0h1M1 17.5h1m93 0h1m1 0h1m7 0h1m1 0h1m20 0h1m43 0h1m15 0h1M27 18.5h1m52 0h1m8 0h1m13 0h1m6 0h1m16 0h1m5 0h1m2 0h1m8 0h1m11 0h1m3 0h1m1 0h1m13 0h1m12 0h1m13 0h1m5 0h1M67 19.5h1m44 0h1m74 0h1m21 0h1M3 20.5h1m40 0h1m66 0h1m6 0h1m63 0h1m6 0h1m23 0h1m3 0h1M32 21.5h1m70 0h1m28 0h1m7 0h1m16 0h1m8 0h1M17 22.5h1m4 0h1m7 0h1m48 0h1m30 0h1m31 0h1m22 0h1m15 0h1m32 0h1M49 23.5h1m103 0h1m15 0h1m23 0h1M0 24.5h1m12 0h1m29 0h1m49 0h1m2 0h1m41 0h1m11 0h1m22 0h1m5 0h1m50 0h1M50 25.5h2m31 0h1m29 0h1m38 0h1m12 0h1m5 0h1m34 0h1M22 26.5h1m2 0h1m28 0h1m94 0h1m21 0h1m3 0h1m14 0h1m32 0h1M86 27.5h1m21 0h1m42 0h1m39 0h1M23 28.5h2m3 0h1m8 0h1m28 0h1m44 0h1m17 0h1m32 0h1m23 0h1M86 29.5h1m59 0h1m7 0h1m13 0h1m24 0h1m3 0h1m14 0h1m23 0h1M55 30.5h1m6 0h1m15 0h1m1 0h1m14 0h1m8 0h1m2 0h1M66 31.5h1m3 0h1m14 0h1m60 0h1m11 0h1m32 0h1m11 0h1m32 0h1M1 32.5h1m19 0h1m20 0h1m154 0h1m35 0h1M20 33.5h1m17 0h1m5 0h1m1 0h1m46 0h1m15 0h1m29 0h1m10 0h1m25 0h1m47 0h1M7 34.5h1m22 0h1m22 0h1m79 0h1m9 0h1m42 0h1m42 0h1M4 35.5h1m8 0h1m1 0h1m9 0h1m138 0h1m55 0h1M5 36.5h1m49 0h1m11 0h1m118 0h1m46 0h1m4 0h1M50 37.5h1m1 0h1m7 0h1m21 0h1m27 0h1m120 0h2m2 0h1M5 38.5h1m19 0h1m23 0h1m15 0h1m15 0h1m2 0h1m9 0h1m30 0h1m98 0h1m5 0h1M13 39.5h1m40 0h1m22 0h1m6 0h1m12 0h1m89 0h1m30 0h1m9 0h1m7 0h1M50 40.5h1m26 0h1m6 0h1m24 0h1m99 0h1m1 0h1m9 0h1m7 0h1m6 0h1M62 41.5h1m4 0h1m18 0h1m86 0h1m11 0h1m43 0h1M47 42.5h1m1 0h1m13 0h1m1 0h1m60 0h1m3 0h1m43 0h1m8 0h1m19 0h1m34 0h1M0 43.5h2m22 0h1m33 0h1m5 0h1m123 0h1m27 0h1m5 0h1m8 0h1M3 44.5h1m132 0h1M76 45.5h1m8 0h1m6 0h1m51 0h1m7 0h1m66 0h1m3 0h1m10 0h1m3 0h1M30 46.5h1m58 0h1m36 0h1m16 0h1m59 0h1m16 0h2m5 0h1M40 47.5h1m75 0h1m87 0h1m17 0h1M51 48.5h1m9 0h1m44 0h1m4 0h1m104 0h1m15 0h1M27 49.5h1m146 0h1m31 0h1m16 0h3M21 50.5h1m206 0h2M32 51.5h1m15 0h1m151 0h1m1 0h2m30 0h1M233 52.5h1M145 53.5h1m93 0h1M88 54.5h1m2 0h1m90 0h1m20 0h1m7 0h1m8 0h1m13 0h1M126 55.5h1m94 0h1m7 0h1m1 0h1M52 56.5h1m154 0h1m23 0h1M1 57.5h1m113 0h1m54 0h1m30 0h1m1 0h1m2 0h1m24 0h1m4 0h1M98 58.5h1m58 0h1m59 0h1m3 0h1M44 59.5h1m71 0h1m40 0h1m1 0h1M6 60.5h1m135 0h1m9 0h1m69 0h1M128 61.5h1m77 0h1m2 0h1M235 62.5h1M42 63.5h1m156 0h1m6 0h1m3 0h1m15 0h1m1 0h1m2 0h1m1 0h1M18 64.5h1m110 0h1m66 0h2m1 0h2m17 0h1m1 0h1M55 65.5h1m140 0h1M6 66.5h1m188 0h1m4 0h2m5 0h1m26 0h1M1 67.5h1m186 0h1m9 0h1m4 0h1M39 68.5h1m152 0h1M197 69.5h1m10 0h1M199 71.5h1m27 0h1M205 72.5h2M202 73.5h1m4 0h1M197 74.5h1m11 0h1m14 0h1M200 75.5h1m16 0h1M212 76.5h1M196 77.5h2m10 0h1m27 0h1M72 80.5h1M70 85.5h1M71 86.5h1M224 91.5h1M223 92.5h1m1 0h1M238 95.5h1M235 96.5h1M129 104.5h1m4 0h1M129 106.5h2M128 107.5h1m4 0h1M128 108.5h2M86 110.5h1M85 111.5h1m8 0h1M87 112.5h1M88 113.5h1M93 114.5h1M93 115.5h1M76 117.5h1m11 0h1m3 0h1M80 118.5h1m10 0h1M84 120.5h1m47 0h1M71 122.5h1M132 123.5h1M69 124.5h1m17 0h1m45 0h1"/>
<path stroke="#7b5af7" d="M36 0.5h1m1 0h1m2 0h1m38 0h1m26 0h1m4 0h1m6 0h1m21 0h1m17 0h1m5 0h1m13 0h1m14 0h1m26 0h1m16 0h1M11 1.5h2m10 0h1m6 0h1m37 0h1m64 0h1m4 0h1m51 0h1m27 0h1M6 2.5h1m31 0h1m13 0h1m34 0h1m12 0h1m29 0h1m2 0h1m29 0h1m35 0h1m34 0h2m2 0h1M49 3.5h1m39 0h1m30 0h1m38 0h1m24 0h1m2 0h1M56 4.5h1m13 0h2m26 0h1m85 0h1m1 0h1m23 0h2M15 5.5h1m19 0h1m37 0h1m8 0h1m60 0h1m30 0h1m37 0h1M40 6.5h1m21 0h1m39 0h1m10 0h1m40 0h1m45 0h1m4 0h1m9 0h1m19 0h1M20 7.5h1m7 0h1m181 0h1m23 0h1M0 8.5h1m136 0h1m98 0h1M25 9.5h1m22 0h1m7 0h1m25 0h1m73 0h1m31 0h1m9 0h1m34 0h3M60 10.5h1m20 0h1m104 0h1M4 11.5h1m76 0h1m5 0h1M61 12.5h1m2 0h1m14 0h1m56 0h1m35 0h1m5 0h1m18 0h1m18 0h1m13 0h2M14 13.5h1m19 0h1m83 0h1m12 0h2m92 0h1M3 14.5h1m25 0h1m45 0h1m7 0h1m7 0h1m11 0h1m1 0h1m4 0h1m25 0h1m10 0h1m16 0h1m16 0h1M9 15.5h1m58 0h1m14 0h1m45 0h1m9 0h1m71 0h1m15 0h1M22 16.5h1m6 0h1m64 0h2m69 0h1M13 17.5h1m17 0h1m4 0h1m29 0h1m11 0h1m1 0h1m52 0h1m13 0h1m4 0h1m16 0h1m11 0h1m50 0h1M77 18.5h1m59 0h1m22 0h1m12 0h1m21 0h1m4 0h1m2 0h1m9 0h1m9 0h1m1 0h1M68 19.5h1m81 0h1m10 0h1m36 0h1m19 0h1m1 0h1M24 20.5h1m18 0h1m6 0h1m3 0h1m44 0h1m8 0h1m35 0h1m51 0h1M111 21.5h1m21 0h1m3 0h1m32 0h1m14 0h1m14 0h1M24 22.5h1m13 0h1m9 0h1m1 0h1m74 0h1m3 0h1m42 0h2m31 0h1M16 23.5h1m27 0h1m2 0h1m112 0h1M90 24.5h1m8 0h1m1 0h1m34 0h1m27 0h1m2 0h1m22 0h1m6 0h1m3 0h1m27 0h1M53 25.5h1m43 0h2m4 0h1m16 0h1m24 0h1m41 0h1m8 0h1m5 0h1m24 0h1M7 26.5h1m4 0h1m59 0h1m17 0h1m2 0h1m57 0h1m14 0h1m10 0h1m29 0h1M17 27.5h1m2 0h1m5 0h1m127 0h1m42 0h1m1 0h1m30 0h1M12 28.5h3m89 0h1m79 0h1m44 0h1M78 29.5h1m11 0h1m81 0h1m33 0h1M75 30.5h1m18 0h1m63 0h1m4 0h1m1 0h1m7 0h1m5 0h1m27 0h1m6 0h1M0 31.5h1m6 0h1m14 0h1m1 0h1m38 0h1m33 0h1m91 0h1M3 32.5h1m40 0h1m51 0h1m52 0h1m60 0h1m3 0h1M1 33.5h1m4 0h1m12 0h1m10 0h1m5 0h1m10 0h2m48 0h1m85 0h1m5 0h1M9 34.5h1m4 0h1m16 0h1m2 0h1m6 0h1m46 0h1m6 0h2m100 0h1m16 0h1M24 35.5h1m15 0h1m24 0h1m12 0h1m50 0h1M44 36.5h1m7 0h1m1 0h1m22 0h1m8 0h1m46 0h1m48 0h1m23 0h1M12 37.5h1m11 0h1m10 0h1m5 0h1m17 0h1m1 0h1m19 0h1m47 0h1m21 0h1m19 0h1m5 0h2m20 0h1m16 0h1M24 38.5h1m25 0h1m104 0h1M52 39.5h1m19 0h1m161 0h1M15 40.5h1m23 0h1m18 0h1m1 0h1m38 0h1m61 0h1m19 0h1m45 0h1M3 41.5h1m5 0h1m28 0h1m22 0h1m61 0h1m52 0h1M30 42.5h1m9 0h1m88 0h1m5 0h1M46 43.5h1m3 0h1m4 0h1m17 0h1m117 0h1M6 44.5h1m2 0h1m55 0h1m32 0h1m79 0h1m20 0h1M24 45.5h1m17 0h1m15 0h1m40 0h1m54 0h1m26 0h1M3 46.5h1m10 0h1m40 0h1m52 0h1m48 0h1M192 47.5h1M28 48.5h1m14 0h1m147 0h1M49 49.5h1m16 0h1m5 0h1m126 0h1M24 50.5h1m4 0h1M19 52.5h1m7 0h1m70 0h1m51 0h1M0 53.5h1m6 0h1m23 0h1m109 0h1M5 54.5h1m8 0h1m17 0h1m85 0h1M36 55.5h1M14 56.5h2m19 0h1m64 0h1M8 57.5h1m8 0h1m1 0h1M7 58.5h1M10 59.5h1m18 0h1m8 0h1M8 60.5h1m17 0h1m1 0h1m127 0h1m10 0h1M17 61.5h1m5 0h1m4 0h1m42 0h1M6 63.5h2m11 0h1m7 0h1M5 64.5h1m10 0h1m9 0h1m1 0h1m77 0h1m61 0h1m20 0h1M11 65.5h1m6 0h1m40 0h1M19 66.5h1m3 0h1m7 0h1M20 67.5h1m20 0h1m10 0h1m106 0h1M1 68.5h1m48 0h1m3 0h1M28 69.5h1m40 0h1M13 70.5h1m2 0h1m13 0h1m1 0h1m1 0h1M11 71.5h1m9 0h1m7 0h1m3 0h1m15 0h1m12 0h1M0 72.5h1m12 0h1m9 0h1m20 0h1m1 0h1m23 0h1M21 73.5h1m14 0h1m7 0h2m27 0h1M17 74.5h1m8 0h1m10 0h1m2 0h1m29 0h1m1 0h1m4 0h1m88 0h1M13 75.5h1m1 0h1m2 0h1m5 0h2m15 0h1m5 0h1m26 0h1M33 76.5h1m7 0h1m29 0h1M1 77.5h1m8 0h1m10 0h1m2 0h1m19 0h1m1 0h1m26 0h1M0 78.5h1m2 0h1m8 0h1m18 0h1M6 79.5h1m5 0h1m14 0h1m9 0h1M3 80.5h1m26 0h1m51 0h1M4 81.5h1m14 0h1m5 0h1m48 0h1M5 82.5h1m1 0h1m24 0h1M4 83.5h1m30 0h1m1 0h1M2 84.5h1m35 0h1m34 0h1m119 0h1M37 86.5h1m50 0h1m9 0h1m2 0h1M90 87.5h2m6 0h1M12 88.5h1m5 0h1m15 0h1m55 0h2m4 0h1m3 0h1m3 0h1M96 89.5h1m4 0h1M20 90.5h1m70 0h1M22 91.5h1M27 92.5h1M5 93.5h1M26 94.5h1M26 95.5h1M113 98.5h1m1 0h1M109 101.5h1M101 102.5h1m16 0h1M102 103.5h1M116 109.5h1M115 111.5h1M110 112.5h1m7 0h1M108 115.5h1M118 118.5h1"/>
<path stroke="#ce7df1" d="M39 0.5h1m23 0h1m47 0h1m68 0h1m11 0h1m4 0h1m13 0h1m2 0h1M27 1.5h1m5 0h1m77 0h1m40 0h1M7 2.5h1m71 0h1m4 0h1m66 0h1m17 0h1m41 0h1M40 3.5h1m12 0h1m57 0h2m75 0h1m7 0h1m4 0h1M49 4.5h1m9 0h1m28 0h1m23 0h1m31 0h1m28 0h1m7 0h1m13 0h1m3 0h1m26 0h1M46 5.5h1m65 0h1m14 0h1m9 0h1m49 0h1m25 0h1m6 0h1m1 0h1M22 6.5h1m87 0h1m5 0h1m5 0h1m65 0h1m2 0h1m31 0h1m12 0h1M0 7.5h1m16 0h1m36 0h1m23 0h1m23 0h1m17 0h1m45 0h1M6 8.5h1m24 0h1m10 0h1m69 0h1m19 0h1m56 0h1m16 0h1M24 9.5h1m49 0h1m47 0h1m25 0h1m3 0h1m6 0h1M9 10.5h1m2 0h1m27 0h1m42 0h1m5 0h1m30 0h1m16 0h1m10 0h1m30 0h2m4 0h1m5 0h1m2 0h1M9 11.5h1m103 0h1m5 0h1m49 0h1m11 0h1M22 12.5h1m48 0h1m3 0h2m6 0h1m4 0h1m7 0h1m19 0h1m29 0h1m5 0h1m24 0h1m14 0h1m9 0h1m25 0h1M31 13.5h1m31 0h1m40 0h1m31 0h1m2 0h1m10 0h1M1 14.5h1m180 0h1M8 15.5h1m18 0h1m56 0h1m13 0h1m38 0h1M105 16.5h1m20 0h1m10 0h1m9 0h1m1 0h1m7 0h1m40 0h1M34 17.5h1m18 0h1m14 0h2m2 0h1m45 0h1m15 0h1m2 0h1m18 0h1m7 0h1m39 0h1m33 0h1M1 18.5h1m98 0h1m13 0h1m34 0h1m12 0h1m12 0h1m7 0h1m15 0h1M138 19.5h1m12 0h1m11 0h1m1 0h2m22 0h1m7 0h1M22 20.5h1m23 0h1m16 0h1m40 0h1m31 0h1m6 0h1m12 0h1m11 0h1m21 0h1m18 0h1m14 0h1m7 0h1M11 21.5h1m34 0h1m3 0h1m13 0h1m60 0h1m2 0h1m10 0h1M39 22.5h1m41 0h1m33 0h1m3 0h1m23 0h1m11 0h1m4 0h1m18 0h1m23 0h1m21 0h1M12 23.5h1m17 0h1m96 0h1m24 0h1m1 0h1m35 0h1m1 0h1M56 24.5h1m37 0h1m90 0h1M12 25.5h1m13 0h1m37 0h1m9 0h1m25 0h1m9 0h1m81 0h1m43 0h1M2 26.5h1m42 0h1m46 0h1m15 0h2m104 0h1M36 27.5h1m47 0h1m8 0h1m6 0h2m4 0h1m63 0h1m2 0h1m20 0h1m11 0h1m22 0h1M2 28.5h1m29 0h1m34 0h1m92 0h1M63 29.5h1m8 0h2m5 0h1m9 0h1m8 0h1m10 0h1m61 0h1m53 0h1M12 30.5h1m48 0h1m22 0h1m4 0h1m71 0h1m9 0h1m4 0h1m24 0h1m21 0h1m8 0h1M11 31.5h1m8 0h1m69 0h2m110 0h1M5 32.5h1m7 0h1m23 0h1m82 0h1m20 0h1M2 33.5h1m46 0h1m5 0h1m33 0h1m37 0h1m19 0h1m78 0h1m9 0h1M10 34.5h1m40 0h1m26 0h2m45 0h1m19 0h1m5 0h1m33 0h1M28 35.5h1m15 0h1m6 0h1m19 0h1m2 0h1m9 0h1m32 0h1m79 0h2M4 36.5h1m13 0h1m14 0h1m7 0h1m8 0h1m37 0h1m14 0h1m101 0h1m20 0h1M62 37.5h1m6 0h1m3 0h1m98 0h1m41 0h1M26 38.5h1m14 0h1m18 0h1m34 0h1m19 0h1m21 0h1m13 0h1m18 0h1m9 0h1m8 0h1M16 39.5h1m11 0h1m1 0h1m2 0h1m34 0h1m114 0h1M3 40.5h1m34 0h1m43 0h2m96 0h1m17 0h1M2 41.5h1m3 0h1m18 0h1m55 0h1m7 0h1m5 0h1m65 0h1m10 0h1m30 0h1m6 0h1M19 42.5h1m4 0h1m1 0h1m6 0h1m20 0h1m27 0h1m41 0h1m22 0h1m36 0h1m2 0h1m9 0h1M33 43.5h2m34 0h1m13 0h1m105 0h1M16 44.5h1m21 0h1m31 0h1m40 0h1M9 45.5h1m16 0h1m26 0h1m13 0h1m6 0h1m2 0h1m9 0h1m7 0h1m16 0h1M156 46.5h1M15 47.5h1m7 0h1m23 0h1m1 0h1m10 0h2m7 0h1m20 0h1m35 0h1M2 48.5h1m11 0h1m25 0h1m4 0h1m24 0h1m5 0h1m23 0h1m79 0h1M21 49.5h1m3 0h1m18 0h1m2 0h2m115 0h1M8 50.5h1m38 0h1m1 0h1m5 0h2m37 0h1m109 0h1M0 51.5h1m16 0h2m4 0h1m3 0h1m1 0h1m33 0h1m1 0h1m3 0h1m31 0h1m10 0h1m22 0h1m10 0h1m86 0h1M44 52.5h1m2 0h1m1 0h1m4 0h1m5 0h2m5 0h1m1 0h1m7 0h1m76 0h1M10 53.5h1m30 0h1m10 0h1m3 0h1m1 0h1m10 0h1m6 0h1M29 54.5h1m11 0h1m3 0h1m1 0h1m15 0h1m5 0h1m79 0h1M0 55.5h1m4 0h1m14 0h1m4 0h1m5 0h1m8 0h1m4 0h1m8 0h2m12 0h1m19 0h1m46 0h1M24 56.5h1m6 0h1m11 0h1m2 0h1m23 0h1m16 0h1m83 0h1m14 0h1M10 57.5h1m28 0h1m4 0h1m41 0h1m110 0h1M41 58.5h1m24 0h1m6 0h1m9 0h1M11 59.5h1m23 0h1m5 0h1m5 0h2m1 0h1m8 0h1m2 0h1m90 0h1M2 60.5h1m28 0h1m10 0h1m35 0h1m2 0h1m1 0h2M39 61.5h1m8 0h1m83 0h1m36 0h1m24 0h1M10 62.5h1m36 0h1m13 0h1m4 0h2m9 0h1m5 0h1M5 63.5h1m192 0h1M33 64.5h1m9 0h1m6 0h1m1 0h1m5 0h1m4 0h1m16 0h1m70 0h1m15 0h1M41 65.5h1m4 0h1m33 0h1m92 0h1M13 66.5h1m59 0h1M11 67.5h1m34 0h1m35 0h2m2 0h1m21 0h1m47 0h1M45 68.5h1m18 0h1m5 0h1m5 0h1m4 0h2M56 69.5h2m2 0h1m11 0h1m4 0h2m93 0h1M31 70.5h1m16 0h1m6 0h1m15 0h1M8 71.5h1m34 0h1m10 0h1m6 0h1m1 0h1m110 0h1m16 0h1M92 72.5h1m27 0h1M25 73.5h1m34 0h2m18 0h1M42 74.5h1m15 0h1m1 0h1m1 0h1m3 0h2M20 75.5h1m29 0h1m7 0h1m33 0h1M82 76.5h2m3 0h1m4 0h2M34 77.5h1m20 0h1m12 0h1m12 0h2m8 0h1M5 78.5h3m39 0h1m2 0h1m39 0h1M46 79.5h1m6 0h1m2 0h1m6 0h1m30 0h2M62 80.5h1m20 0h1M40 81.5h1m2 0h1m14 0h1m29 0h1m4 0h1M41 82.5h1m4 0h1m1 0h1m38 0h1M43 83.5h1m1 0h1M51 84.5h1m35 0h1M58 90.5h1"/>
<path stroke="#d28d0a" d="M47 0.5h1m17 0h1m80 0h1m7 0h1m16 0h1m1 0h1m42 0h1M46 1.5h1m1 0h1m14 0h1m86 0h1m19 0h1M31 2.5h1m13 0h1m4 0h1m40 0h1m2 0h1m12 0h1m17 0h1m20 0h1m3 0h1m39 0h1m5 0h1m15 0h1m1 0h1M57 3.5h2m19 0h2m14 0h1m26 0h1m11 0h1m1 0h1m14 0h1m7 0h1m10 0h1m38 0h1m3 0h1M75 4.5h1m11 0h1m27 0h1m6 0h1m2 0h1m59 0h1m41 0h1M51 5.5h1m16 0h1m93 0h2m66 0h1M21 6.5h1m31 0h1m13 0h1m7 0h1m64 0h1m58 0h1M81 7.5h1m24 0h1m26 0h1m40 0h1m1 0h2m18 0h1m20 0h1M12 8.5h1m6 0h1m1 0h1m44 0h2m87 0h1m12 0h1m10 0h1m32 0h1m4 0h1M67 9.5h1m37 0h1m7 0h1m29 0h1m13 0h1m13 0h1m9 0h1m10 0h1m1 0h1m42 0h1M17 10.5h1m10 0h1m85 0h1m13 0h1m2 0h1m25 0h1m18 0h1m15 0h1m5 0h1M23 11.5h1m39 0h1m10 0h1m26 0h1m43 0h1m42 0h1m1 0h1m2 0h1m37 0h1M74 12.5h1m49 0h1m19 0h1M17 13.5h1m48 0h1m3 0h1m7 0h1m54 0h1m6 0h1m37 0h1m27 0h1M62 14.5h1m9 0h1m83 0h1m57 0h1M20 15.5h1m7 0h1m31 0h1m12 0h1m112 0h1m51 0h1M129 16.5h1m11 0h1m26 0h1m21 0h1m11 0h1M19 17.5h1m24 0h1m39 0h1m46 0h1m11 0h1m1 0h1m53 0h1M66 18.5h1m3 0h1m37 0h1m11 0h1m11 0h1m11 0h1m24 0h1m8 0h1m2 0h1m9 0h1m9 0h1m7 0h1M28 19.5h1m19 0h1m5 0h1m14 0h1m27 0h1m13 0h1m14 0h1m19 0h1m52 0h1m14 0h1m7 0h1m5 0h1M32 20.5h1m27 0h1m6 0h1m1 0h1m31 0h1m10 0h1m47 0h1m30 0h1m3 0h1M65 21.5h1m6 0h1m43 0h1m36 0h1m20 0h1m17 0h1m15 0h2m4 0h1m10 0h1M116 22.5h1m5 0h1m23 0h1m11 0h1m37 0h1M4 23.5h1m28 0h1m2 0h1m70 0h1m31 0h1m4 0h1m11 0h1m5 0h1m9 0h1m6 0h1m23 0h1m2 0h1m8 0h1m11 0h1M45 24.5h1m5 0h1m22 0h1m41 0h1m5 0h1m57 0h1m24 0h2M13 25.5h1m20 0h1m55 0h1m30 0h1m34 0h1m16 0h1m19 0h1m23 0h1m16 0h2M42 26.5h1m31 0h1m23 0h1m38 0h1m16 0h1m13 0h1m4 0h1m7 0h1M3 27.5h1m4 0h1m12 0h1m23 0h1m9 0h1m58 0h1m14 0h1m8 0h1m2 0h1m34 0h1m1 0h1m19 0h1m15 0h1M22 28.5h1m20 0h1m3 0h1m42 0h1m50 0h1m4 0h1m21 0h1m6 0h1m19 0h1m6 0h1m8 0h1M31 29.5h1m70 0h1m1 0h1m11 0h1m57 0h1m4 0h2m32 0h1M3 30.5h1m12 0h1m9 0h1m33 0h1m89 0h1m26 0h1m43 0h1M6 31.5h1m21 0h1m73 0h1m6 0h1m89 0h1m37 0h1M0 32.5h1m37 0h1m26 0h1m27 0h1m67 0h1m7 0h1m4 0h1m23 0h1M9 33.5h1m35 0h1m29 0h1m28 0h1m43 0h1m51 0h1M74 34.5h1m8 0h1m30 0h1m6 0h1m26 0h1m14 0h1M23 35.5h1m17 0h1m5 0h1m6 0h1m27 0h1m89 0h1M1 36.5h1m40 0h1m18 0h1m7 0h1m64 0h1m66 0h1m12 0h1m9 0h1M40 37.5h1m12 0h1m18 0h1m62 0h1m7 0h1m10 0h1m30 0h2M70 38.5h1m58 0h1m9 0h1m32 0h1m2 0h1m27 0h2m11 0h1M31 39.5h1m104 0h1m57 0h1m4 0h1m11 0h1M14 40.5h1m33 0h1m6 0h1m35 0h1m5 0h1m68 0h1m34 0h1M13 41.5h1m18 0h1m14 0h1m24 0h1m123 0h2M5 42.5h1m40 0h1m4 0h1m110 0h1m36 0h1M13 43.5h1m1 0h1m21 0h1m2 0h1m133 0h1m28 0h1m1 0h1m4 0h1M63 44.5h1m100 0h1m37 0h1M3 45.5h1m82 0h1m27 0h1m74 0h1m18 0h2M136 46.5h1M164 47.5h1m1 0h1m34 0h1M68 48.5h1m12 0h1m12 0h1m31 0h1m41 0h1M160 49.5h1m4 0h1M42 50.5h1m23 0h1m64 0h1m16 0h1M71 51.5h1m28 0h1m53 0h1M91 53.5h1m77 0h1m67 0h1M48 54.5h1m7 0h1m5 0h1m110 0h1m36 0h1M42 55.5h1m58 0h1m20 0h1m38 0h1m40 0h1M5 56.5h1m151 0h1m38 0h1m3 0h1M6 57.5h1m50 0h1m37 0h1m55 0h1M20 58.5h1m79 0h1M45 59.5h1M163 60.5h1M7 61.5h1m153 0h1M151 63.5h1M10 64.5h1m16 0h1m133 0h1m32 0h1M184 65.5h1m3 0h1M139 66.5h1m50 0h1M184 67.5h1m4 0h1M2 68.5h1m155 0h1m27 0h1m4 0h1M180 69.5h1m11 0h1M180 70.5h1m2 0h2m6 0h2M190 71.5h1M165 73.5h1M182 74.5h1M183 75.5h1m2 0h1M181 76.5h1m7 0h1M185 77.5h1m6 0h1M196 78.5h1M177 79.5h2m1 0h1m6 0h1M54 80.5h1m138 0h1m1 0h1M83 81.5h1M192 82.5h1m4 0h1M175 83.5h1m5 0h1m1 0h3M170 85.5h1m5 0h1m1 0h3m1 0h1m1 0h2M175 86.5h1m3 0h3m6 0h1m3 0h1m2 0h3M174 87.5h1m1 0h1m1 0h1m6 0h1m10 0h1M172 88.5h1m1 0h1m1 0h1m15 0h1M181 89.5h1m4 0h1m9 0h1M171 90.5h2m11 0h1m9 0h1m1 0h1M193 91.5h1m2 0h1M188 92.5h1m1 0h1M181 94.5h1m15 0h1M170 95.5h1m14 0h1m2 0h1M180 96.5h1m7 0h1M194 97.5h1M81 98.5h1m59 0h1m12 0h1m12 0h1m6 0h1m8 0h1M82 99.5h1m47 0h1m4 0h1m23 0h1m17 0h1M136 100.5h1m10 0h1m6 0h1m6 0h1m7 0h1m11 0h1m12 0h1M180 101.5h1m1 0h2m13 0h1m6 0h1m1 0h1m5 0h1m1 0h1M140 102.5h1m20 0h1m6 0h1m18 0h1m19 0h1m1 0h1m11 0h1M137 103.5h1m25 0h1m3 0h1m15 0h1m15 0h1m2 0h1m3 0h1m1 0h1m25 0h1M155 104.5h1m20 0h1m4 0h1m9 0h1m2 0h1m4 0h1m4 0h1m10 0h1m9 0h1M139 105.5h1m8 0h2m15 0h1m11 0h1m1 0h1m8 0h1m5 0h1m6 0h1m14 0h1m3 0h1m3 0h1m10 0h1M150 106.5h1m9 0h1m7 0h1m23 0h1m28 0h1M69 107.5h1m5 0h1m65 0h1m18 0h1m12 0h1m2 0h1m6 0h1m7 0h1m2 0h1m10 0h1m4 0h1m5 0h2M58 108.5h1m18 0h1m58 0h1m41 0h1m7 0h1m12 0h1M51 109.5h1m1 0h1m8 0h1m6 0h1m70 0h1m22 0h1m6 0h1m9 0h2m12 0h1m22 0h1m7 0h1m11 0h1M72 110.5h1m79 0h1m26 0h1m8 0h1m5 0h1m3 0h1m4 0h1m9 0h1m13 0h1m7 0h1M55 111.5h1m7 0h1m11 0h1m124 0h1m32 0h1m3 0h1M44 112.5h1m1 0h1m93 0h1m21 0h1m1 0h1m5 0h1m14 0h1m2 0h1m1 0h1m1 0h1m1 0h1m22 0h2m6 0h1m7 0h1M72 113.5h1m63 0h1m7 0h2m1 0h1m49 0h1m12 0h1M42 114.5h1m8 0h1m1 0h1m83 0h1m8 0h1m2 0h1m5 0h1m8 0h1m9 0h2m24 0h1m9 0h1m4 0h1m7 0h1M42 115.5h1m12 0h1m4 0h1m87 0h1m23 0h2m5 0h1m16 0h1m3 0h1m1 0h1m8 0h1M46 116.5h1m10 0h1m6 0h1m79 0h1m5 0h1m13 0h1m11 0h1m15 0h1m33 0h1M183 117.5h1m13 0h1m2 0h1m23 0h1m2 0h1m2 0h1M52 118.5h1m128 0h1m23 0h1m30 0h1m1 0h1M173 119.5h1m2 0h1m46 0h1m1 0h1m2 0h1m6 0h1M25 120.5h1m19 0h1m4 0h1m1 0h1m2 0h1m85 0h1m43 0h1m17 0h2m33 0h1M35 121.5h1m102 0h1m14 0h1m14 0h1m2 0h1m18 0h1m5 0h1m7 0h1m7 0h1m18 0h1m1 0h1M55 122.5h1m79 0h1m1 0h1m9 0h1m29 0h1m3 0h1m8 0h1M25 123.5h1m26 0h1m105 0h1m13 0h1m27 0h1m21 0h1M147 124.5h1m2 0h1m3 0h1m2 0h1m6 0h1m4 0h1m57 0h2"/>
<path stroke="#a470f5" d="M51 0.5h1m76 0h1m10 0h1m22 0h1m35 0h1M5 1.5h1m26 0h1m44 0h1m44 0h1m20 0h1m7 0h1m50 0h1M175 2.5h1m30 0h1m22 0h1M35 3.5h1m48 0h1m16 0h1m12 0h1m1 0h1m14 0h1m14 0h2m56 0h1M32 4.5h1m25 0h1M17 5.5h1m1 0h1m75 0h1m1 0h1m62 0h1m3 0h1m67 0h1M49 6.5h1m14 0h1m36 0h1m40 0h1m32 0h1m30 0h1m5 0h1M52 7.5h1m32 0h1m29 0h1m15 0h1m2 0h1m1 0h1m7 0h1m16 0h1m16 0h1m16 0h1M13 8.5h1m6 0h1m1 0h1m22 0h1m27 0h1m31 0h1m28 0h1m39 0h1m13 0h1m24 0h1m21 0h1M0 9.5h1m32 0h1m16 0h1m10 0h1m40 0h1m3 0h2m24 0h1m40 0h1M33 10.5h1m16 0h1m14 0h1m1 0h1m11 0h1m2 0h1m24 0h1M18 11.5h1m112 0h2m35 0h1m2 0h2M10 12.5h1m10 0h1m13 0h1m1 0h1m69 0h1m66 0h1M2 13.5h1m12 0h1m57 0h1m60 0h1m6 0h2m16 0h1m8 0h2m1 0h1m22 0h1m38 0h1M35 14.5h1m61 0h1m4 0h1m4 0h1m13 0h1m21 0h1m7 0h2m6 0h1M95 15.5h1m101 0h1m41 0h1M20 16.5h1m6 0h1m55 0h1m44 0h1m57 0h1m17 0h1M22 17.5h1m73 0h1m11 0h2m25 0h1m18 0h1M31 18.5h1m56 0h1m22 0h1m26 0h1m57 0h1m25 0h1M2 19.5h1m49 0h1m94 0h1m21 0h1m25 0h1m12 0h1M0 20.5h1m17 0h1m54 0h1m31 0h1m56 0h1m37 0h1m7 0h1M118 21.5h1m3 0h1m13 0h1m10 0h1m32 0h1M21 22.5h1m61 0h1m2 0h1m19 0h1m4 0h1m32 0h1m12 0h1m25 0h1m14 0h1m5 0h1M8 23.5h1m6 0h1m25 0h1m8 0h1m64 0h1m43 0h1m23 0h1m20 0h1m3 0h1M1 24.5h1m6 0h1m3 0h1m12 0h1m14 0h1m9 0h1m2 0h1m1 0h1m7 0h1m34 0h1m1 0h1m2 0h1m4 0h1m1 0h1m12 0h1m27 0h1m6 0h1m55 0h1M7 25.5h1m64 0h1m31 0h1m7 0h1m5 0h1m5 0h1m11 0h1m17 0h1m31 0h1m3 0h1m20 0h1m13 0h1M85 26.5h1m14 0h1m1 0h2m7 0h1m36 0h1m11 0h1m26 0h1m27 0h1M13 27.5h1m37 0h1m55 0h1m34 0h1m4 0h1m34 0h1M5 28.5h1m25 0h1m7 0h1m1 0h1m2 0h1m38 0h1m125 0h1M5 29.5h1m16 0h1m94 0h1m57 0h1M71 30.5h1m33 0h1m8 0h1m8 0h1m16 0h1m25 0h1m5 0h1m7 0h1m16 0h1m29 0h1M29 31.5h1m23 0h1m76 0h1m65 0h1m3 0h1M24 32.5h1m65 0h1m11 0h1m6 0h1m60 0h1m7 0h1m10 0h1m49 0h1M8 33.5h1m54 0h1m31 0h1m3 0h1m57 0h1m7 0h2m6 0h1M42 34.5h1m20 0h2m38 0h1m3 0h1m32 0h1m3 0h1m43 0h1m3 0h1m46 0h1M11 35.5h1m19 0h1m1 0h1m12 0h1m22 0h1m7 0h1m5 0h1m2 0h2m11 0h1m35 0h1m4 0h1m20 0h1M0 36.5h1m30 0h1m42 0h1m6 0h1m8 0h1m78 0h1m10 0h1m7 0h1M27 37.5h1m52 0h1m3 0h1m39 0h1M2 38.5h1m1 0h1m39 0h1m87 0h1m12 0h1m45 0h1m43 0h1M5 39.5h1m8 0h1m20 0h1m2 0h1m30 0h1m29 0h1m85 0h1M67 40.5h1m32 0h1m13 0h1m23 0h1m26 0h1m19 0h1m11 0h1m2 0h1M16 41.5h1m14 0h1m1 0h1m41 0h1m6 0h2m4 0h1m47 0h1m83 0h1M16 42.5h1m3 0h1m23 0h1m36 0h1m61 0h1m64 0h1M39 43.5h1m97 0h1m89 0h1M13 44.5h1m23 0h1m1 0h1m1 0h1m5 0h1m18 0h1m65 0h1m4 0h1m43 0h1m21 0h1M23 45.5h1m20 0h1m18 0h1m139 0h1m2 0h1M2 46.5h1m7 0h2M10 47.5h1m2 0h1m3 0h1m75 0h1m55 0h1M50 48.5h1M33 50.5h1m18 0h1m69 0h1m30 0h1m46 0h1M15 51.5h1m105 0h1m27 0h1m6 0h1m16 0h1m1 0h1M3 52.5h1m33 0h1m110 0h1m10 0h1M5 53.5h1m30 0h1m9 0h1m14 0h1M12 54.5h1m5 0h1m7 0h1m121 0h1m17 0h1m12 0h1m12 0h1m35 0h1M12 55.5h1m5 0h1m10 0h2m10 0h1m7 0h1m60 0h1m46 0h1M2 56.5h1m8 0h1m4 0h1m16 0h1m28 0h1m2 0h1m52 0h1M3 57.5h1m59 0h1m82 0h1M0 58.5h1m10 0h1m11 0h1m10 0h1m1 0h1m14 0h1m2 0h1m40 0h1m65 0h1M5 59.5h2m7 0h1m2 0h1m38 0h1m122 0h1M0 60.5h1m4 0h1m28 0h1m3 0h2m83 0h1m22 0h1M30 61.5h1m55 0h1M6 62.5h1m4 0h1m2 0h1m16 0h1m23 0h2m1 0h1m30 0h1m33 0h1m22 0h1M0 63.5h1m3 0h1m3 0h1m9 0h1m17 0h1m8 0h1m6 0h1m3 0h1m26 0h1m2 0h1m99 0h1M35 64.5h1m10 0h1M5 65.5h1m6 0h1m13 0h1m8 0h1m11 0h1m19 0h1m18 0h1M11 66.5h1m6 0h1m9 0h1m23 0h1m1 0h1m14 0h2m3 0h1m10 0h1m98 0h1M3 67.5h1m3 0h1m2 0h1m3 0h2m50 0h1m5 0h2M6 68.5h1m19 0h1m5 0h2m9 0h1m18 0h1m14 0h1m1 0h1m9 0h1M23 69.5h1m2 0h1m12 0h1m3 0h1m8 0h1m12 0h1m4 0h1m10 0h2m63 0h1M2 70.5h1m16 0h1m5 0h1m32 0h1m11 0h1m14 0h1M1 71.5h1m11 0h1m8 0h1m1 0h1m11 0h1m5 0h1m3 0h1m4 0h1m15 0h1m13 0h1m98 0h1M2 72.5h1m3 0h1m4 0h1m8 0h1m13 0h1m17 0h1m25 0h1M9 73.5h2m19 0h1m15 0h1m11 0h2m15 0h1M1 74.5h2m3 0h1m2 0h1m4 0h2m2 0h1m5 0h1m9 0h1m4 0h1m35 0h1M4 75.5h1m9 0h1m1 0h1m27 0h1m8 0h1m14 0h1m2 0h1M3 76.5h1m1 0h1m6 0h1m9 0h1m5 0h1m3 0h1m10 0h1m1 0h1m6 0h1m22 0h1M40 77.5h1m6 0h1m3 0h1m22 0h1M9 78.5h1m11 0h1m67 0h1m1 0h1m6 0h1M3 79.5h1m4 0h1m25 0h1m13 0h1m37 0h1m9 0h1m1 0h1M2 80.5h1m7 0h1m22 0h1m15 0h1m21 0h1m17 0h1m5 0h1m2 0h1M0 81.5h1m7 0h1m1 0h1m6 0h1m30 0h1m37 0h1m2 0h1m9 0h1M0 82.5h1m7 0h2m3 0h1m17 0h1m1 0h1m4 0h1m34 0h1m14 0h1M3 83.5h1m4 0h1m4 0h1m7 0h1m4 0h2m2 0h3m6 0h1m1 0h1m32 0h1m20 0h1M10 84.5h1m2 0h1m6 0h2m3 0h1m2 0h1m55 0h1m1 0h1m1 0h1m2 0h1m3 0h1m3 0h1M11 85.5h1m1 0h2m7 0h2m5 0h1m1 0h1m3 0h1M2 86.5h1m1 0h1m4 0h1m3 0h1m2 0h1m11 0h1m3 0h1M14 87.5h1m5 0h1M4 88.5h1m12 0h1m1 0h1m1 0h1m4 0h2M9 89.5h3m1 0h1m12 0h1m1 0h1m4 0h1M6 90.5h1m2 0h1m1 0h1m12 0h1m2 0h1m6 0h1m2 0h1M8 91.5h1m6 0h1m12 0h1M23 92.5h1m2 0h1M108 94.5h1M4 95.5h2M5 96.5h1m14 0h1m85 0h1M13 97.5h1m10 0h1M113 107.5h1m2 0h1M111 109.5h1"/>
<path stroke="#b53d08" d="M64 0.5h1m48 0h1m8 0h1m13 0h1m59 0h1m13 0h1M75 1.5h1m82 0h1m6 0h1m40 0h1m30 0h1M34 2.5h1m11 0h1m95 0h1m15 0h1m29 0h2m32 0h1M36 3.5h1m59 0h1m6 0h1m18 0h1m2 0h1m8 0h1m2 0h1m17 0h1m27 0h1m11 0h1M6 4.5h1m29 0h1m13 0h1m1 0h1m55 0h1m30 0h1m1 0h1m15 0h1m8 0h1m15 0h2m54 0h1M52 5.5h1m11 0h1m29 0h1m9 0h1m9 0h1m26 0h1M0 6.5h1m22 0h2m9 0h1m2 0h1m10 0h1m56 0h1m6 0h1m61 0h1m1 0h1m55 0h1m5 0h1M49 7.5h1m54 0h1m18 0h1m11 0h1m48 0h2M5 8.5h1m24 0h1m6 0h2m38 0h1m36 0h1M96 9.5h2m12 0h1m39 0h1m21 0h1m18 0h1M38 10.5h2m1 0h1m145 0h1M55 11.5h1m22 0h1m10 0h1m13 0h1m21 0h1m4 0h1m23 0h1m24 0h1m9 0h1M1 12.5h1m26 0h1m24 0h1m2 0h2m1 0h1m3 0h1m47 0h1m11 0h1m18 0h2m24 0h1m27 0h1M21 13.5h1m36 0h1m44 0h1m1 0h1m22 0h1m14 0h1m22 0h2m33 0h1M4 14.5h1m59 0h1m31 0h1m16 0h1m21 0h1m4 0h1m8 0h1m15 0h1M0 15.5h1m31 0h1m44 0h1m70 0h1m11 0h1m26 0h1m11 0h1M18 16.5h1m12 0h1m137 0h1M25 17.5h1m2 0h1m14 0h1m38 0h1m32 0h1m16 0h1m17 0h1m20 0h1m18 0h1m15 0h1m28 0h1M33 18.5h1m13 0h1m3 0h1m52 0h2m11 0h1m10 0h1m25 0h1m25 0h1m5 0h1M27 19.5h1m6 0h2m28 0h1m1 0h1m26 0h1m13 0h1m6 0h1m21 0h1m12 0h1M48 20.5h1m8 0h1m90 0h1m50 0h1m10 0h1m1 0h1m24 0h1M24 21.5h1m24 0h1m47 0h1m28 0h1m40 0h3m29 0h1m10 0h1M12 22.5h1m15 0h1m4 0h1m83 0h1m72 0h1m9 0h1m22 0h1M177 23.5h1m18 0h1m27 0h1M37 24.5h1m121 0h1m28 0h1m23 0h1M1 25.5h1m3 0h1m26 0h1m3 0h1m93 0h1m22 0h1m6 0h1m18 0h1m1 0h1m3 0h1m26 0h1m11 0h1m4 0h1M73 26.5h1m60 0h1m28 0h1m8 0h1m13 0h1M27 27.5h1m35 0h1m19 0h1m68 0h2m27 0h1m14 0h1M8 28.5h1m11 0h1m63 0h1m23 0h1m8 0h1m29 0h1m3 0h1m11 0h1m37 0h1m11 0h1M4 29.5h1m49 0h1m1 0h1m90 0h1m7 0h1m4 0h1m6 0h1m22 0h2m10 0h1M152 30.5h1m60 0h1M14 31.5h1m105 0h1m39 0h1m16 0h1m9 0h1m7 0h1m2 0h1m6 0h1M15 32.5h1m85 0h1m27 0h1m49 0h1m15 0h2M14 33.5h1m67 0h1m71 0h1m5 0h1m8 0h2m42 0h1M8 34.5h1m62 0h1m78 0h1m5 0h1m2 0h1m34 0h1m3 0h1M30 35.5h1m11 0h1m18 0h1m1 0h1m90 0h1m5 0h1m9 0h1m13 0h1m17 0h1M6 36.5h1m8 0h1m27 0h1m50 0h1m1 0h1m52 0h2m48 0h1M1 37.5h1m49 0h1m15 0h1m20 0h1m17 0h1m7 0h1m11 0h1m7 0h1m10 0h1m2 0h1m4 0h1m16 0h1m13 0h1m17 0h2M51 38.5h1m96 0h1m19 0h1m8 0h1m12 0h1m1 0h1m18 0h1m2 0h1M39 39.5h1m38 0h1m2 0h1m67 0h1m4 0h1M36 40.5h1m99 0h1m11 0h1m7 0h1m5 0h1m4 0h1m24 0h1m1 0h1M23 41.5h1m55 0h1m17 0h1m50 0h1m3 0h1m9 0h1m15 0h1m2 0h1m13 0h1m13 0h1M55 42.5h1m51 0h1m55 0h1m21 0h1m2 0h1M32 43.5h1m12 0h1m2 0h1m38 0h1m57 0h1m5 0h1m24 0h1m3 0h1M54 44.5h1m95 0h1m6 0h1m27 0h1M37 45.5h1m46 0h1m3 0h1m30 0h1m50 0h1m2 0h1m3 0h1m2 0h1m15 0h1M13 46.5h1m146 0h1m4 0h1m11 0h1m3 0h1m5 0h1m8 0h1M3 47.5h1m27 0h1m46 0h1m17 0h1m64 0h1m1 0h1m10 0h1m49 0h1M19 48.5h1m42 0h1m23 0h1m12 0h1m51 0h1m12 0h1m11 0h1m30 0h1M12 49.5h1m20 0h1m29 0h1m37 0h1m84 0h1M65 50.5h1m44 0h1m34 0h1m9 0h1m10 0h1m25 0h1m10 0h1M67 51.5h1m60 0h1m22 0h1m10 0h1m4 0h1m26 0h1M124 52.5h1m18 0h1m24 0h1m4 0h1M16 53.5h1m58 0h1m63 0h1m3 0h1m11 0h1m19 0h1M25 54.5h1m133 0h1m17 0h1m16 0h1m7 0h1M16 55.5h2m28 0h1m96 0h1m1 0h1m12 0h1m4 0h1m26 0h1m1 0h1m2 0h1M23 56.5h1m139 0h1m20 0h1M54 57.5h1m12 0h1m87 0h1m5 0h1m10 0h1M170 58.5h1m7 0h1m12 0h1M16 59.5h1m79 0h1m59 0h1m7 0h1m7 0h1M148 60.5h1m2 0h1m16 0h1m1 0h1m6 0h1m2 0h1m6 0h1m7 0h1M43 61.5h1m127 0h1M48 62.5h1m106 0h1m14 0h1m2 0h1m10 0h1M160 63.5h1m1 0h1m31 0h1M6 64.5h1m113 0h1m25 0h1m10 0h1m25 0h1M134 65.5h1m8 0h1m11 0h1m1 0h1m5 0h2M130 66.5h1m37 0h1M45 67.5h1m87 0h1m26 0h1M132 68.5h1m37 0h1m1 0h1M149 69.5h1m7 0h1m9 0h1M161 70.5h1m15 0h1m16 0h1M4 71.5h1m126 0h1M138 72.5h1m5 0h1m6 0h1m19 0h1M143 73.5h2m49 0h1M25 74.5h1m104 0h1m20 0h1m21 0h1M147 75.5h1m15 0h1m4 0h1M146 76.5h1m3 0h1m7 0h1m2 0h1m4 0h1m8 0h1m11 0h1M131 77.5h1m11 0h1M147 78.5h1m2 0h1m11 0h1M11 79.5h1m132 0h2m2 0h2m7 0h1m6 0h1m28 0h1M134 81.5h1m4 0h1m2 0h2m5 0h1m12 0h2m3 0h1M140 82.5h1m13 0h2m11 0h1m2 0h1M130 83.5h1m5 0h1m5 0h2m4 0h1m10 0h1m1 0h2m1 0h1m4 0h1m1 0h1M72 84.5h1m55 0h1m5 0h1m7 0h2m8 0h1m13 0h1m4 0h1M68 85.5h1m73 0h1m8 0h1M67 86.5h1m85 0h2m10 0h1M140 87.5h1m16 0h1M70 88.5h1m57 0h1m9 0h1m16 0h1m1 0h1M7 89.5h1m60 0h1m58 0h1m4 0h1m4 0h1m19 0h2m1 0h1m6 0h1M67 90.5h1m57 0h1m1 0h1m7 0h1M61 91.5h1m5 0h1m2 0h1m2 0h1M55 92.5h2m67 0h1m10 0h1M63 93.5h1m5 0h1M131 94.5h1m2 0h1M57 95.5h1m13 0h1m3 0h1m47 0h1m1 0h1m7 0h1M68 96.5h1m1 0h1m6 0h1m53 0h1M67 97.5h1m58 0h1M61 98.5h1m4 0h1m3 0h1m4 0h1M61 99.5h1m6 0h1M55 100.5h1M54 101.5h1m22 0h1M64 102.5h1m5 0h1m5 0h1M60 103.5h1M35 107.5h1m7 0h1M30 108.5h1M43 109.5h1M34 110.5h1m1 0h1m5 0h1M36 111.5h1M28 112.5h2M37 113.5h1M2 114.5h1m26 0h1m2 0h1M1 115.5h1m4 0h1M2 116.5h1m29 0h2M14 117.5h1M28 118.5h1m4 0h1M2 121.5h1m1 0h1m5 0h1M8 122.5h2m6 0h1m6 0h1M9 123.5h1m6 0h1"/>
<path stroke="#2f7aac" d="M72 0.5h2m60 0h1m16 0h1m23 0h1m2 0h1m21 0h1M65 1.5h1m53 0h1m1 0h1m27 0h1m14 0h1m62 0h1M51 2.5h1m3 0h1m46 0h1m28 0h1m33 0h1m5 0h1M37 3.5h1m33 0h1m32 0h1m36 0h1m15 0h1m12 0h1M41 4.5h1m2 0h1m58 0h1m31 0h1m7 0h1M14 5.5h1m5 0h1m4 0h1m158 0h1M61 6.5h1m44 0h1m1 0h1m47 0h1m14 0h2m30 0h1M35 7.5h1m2 0h1m36 0h2m26 0h1m44 0h1m30 0h1m29 0h1M51 8.5h1m58 0h1m4 0h1m14 0h1m67 0h1m8 0h1m10 0h1M18 9.5h1M106 10.5h1m75 0h1M29 11.5h1m24 0h1m20 0h1m12 0h1m77 0h1m11 0h1m30 0h1m3 0h1M80 12.5h1m38 0h1m21 0h1m5 0h1m12 0h1m37 0h1m2 0h1m11 0h1M69 13.5h1m11 0h1m3 0h1m1 0h1m139 0h1M57 14.5h1m28 0h1m35 0h1m34 0h1M151 15.5h1m73 0h1m10 0h1M64 16.5h1m16 0h1m54 0h1m1 0h1m12 0h1m15 0h1m63 0h1m6 0h1M16 17.5h1m3 0h1m6 0h1m20 0h1m28 0h1m38 0h1m21 0h1m74 0h1m20 0h1m4 0h1M28 18.5h1m36 0h1m1 0h1m6 0h1m6 0h1m34 0h1m4 0h1m28 0h1m13 0h1m29 0h1M59 19.5h1m42 0h1m7 0h1m32 0h1m20 0h1m9 0h1m46 0h1M2 20.5h1m5 0h1m12 0h1m111 0h1m88 0h1m4 0h1m3 0h1M6 21.5h2m27 0h1m59 0h1m47 0h1m4 0h1m10 0h1m37 0h1m34 0h1M112 22.5h1m10 0h1m11 0h1m18 0h1m34 0h1m38 0h1m2 0h1m5 0h1M20 23.5h1m6 0h1m3 0h1m10 0h1m38 0h1m58 0h1m6 0h1m68 0h1m8 0h1m3 0h1M23 24.5h1m38 0h1m1 0h1m53 0h1m33 0h1m10 0h1m25 0h1M52 25.5h1m13 0h1m29 0h1m12 0h1m16 0h1m4 0h1m63 0h1M13 26.5h1m36 0h1m118 0h1m52 0h1m4 0h2M15 27.5h1m8 0h1m16 0h1m61 0h2m31 0h1m11 0h1m1 0h1m7 0h1m45 0h1m16 0h1M1 28.5h1m27 0h2m3 0h1m104 0h2m15 0h1m2 0h1m4 0h1m12 0h1m14 0h1M2 29.5h1m16 0h1m10 0h1m69 0h1m19 0h1m14 0h1m14 0h1m26 0h1m4 0h1m28 0h1m9 0h1M67 30.5h1m5 0h1m8 0h1m9 0h1m71 0h1m2 0h1m2 0h1m10 0h1M3 31.5h2m5 0h1m88 0h1m1 0h1m37 0h1m24 0h1m16 0h1m4 0h1m23 0h1m3 0h1m4 0h1m11 0h1M82 32.5h1m21 0h1m11 0h1m25 0h1m56 0h1m18 0h1M10 33.5h1m23 0h1m75 0h1m81 0h1m30 0h1m8 0h1m5 0h1M13 34.5h1m7 0h1m55 0h1m33 0h1m16 0h1m79 0h3m20 0h1m3 0h1M3 35.5h1m23 0h1m22 0h1m2 0h1m12 0h1m27 0h2m52 0h1M14 36.5h1m17 0h1m5 0h1m14 0h1m3 0h1m41 0h1m25 0h1m74 0h1M39 37.5h1m31 0h1m27 0h1m33 0h1m13 0h1m44 0h1m45 0h2M1 38.5h1m73 0h1m4 0h1m35 0h1m25 0h1m17 0h1m5 0h1m9 0h1m4 0h1m41 0h1m5 0h1m9 0h1M45 39.5h1m84 0h1m89 0h1M1 40.5h1m24 0h1m14 0h1m59 0h1m53 0h1m68 0h1m10 0h1M10 41.5h1m35 0h1m189 0h1m2 0h1M71 42.5h1m81 0h1m6 0h1m4 0h1m20 0h1m26 0h1m4 0h1m18 0h1M5 43.5h1m13 0h1m11 0h1m29 0h1m6 0h1m13 0h1m112 0h1m15 0h1m3 0h1m3 0h1m5 0h1M31 44.5h1m16 0h1m11 0h1m63 0h2m62 0h1m33 0h1m1 0h1m10 0h1M18 45.5h1m11 0h1m17 0h1m1 0h1m13 0h1m8 0h1m5 0h1m145 0h1m3 0h1M31 46.5h1m16 0h2m16 0h1m29 0h1m105 0h1m7 0h1m8 0h1m14 0h1m1 0h1M39 47.5h1m99 0h1m10 0h1m44 0h1m11 0h1m9 0h1m3 0h1M137 48.5h1m77 0h1M7 49.5h1m33 0h1m89 0h1m22 0h1m28 0h1m13 0h1m20 0h1M196 50.5h1m35 0h1M14 51.5h1m76 0h1m46 0h1m71 0h1m6 0h1m3 0h1m2 0h1m6 0h1M115 52.5h1m94 0h1m5 0h1m11 0h1m1 0h1M1 53.5h1m219 0h1m2 0h1m5 0h1m3 0h1M3 54.5h1m18 0h1m166 0h1m16 0h1m1 0h1m16 0h2M23 55.5h1m11 0h1m44 0h1m138 0h1m7 0h1m9 0h1M127 56.5h1m38 0h1m62 0h1m5 0h1M16 57.5h1m20 0h1m42 0h1m90 0h1m56 0h1M50 58.5h1m186 0h1m1 0h1M4 59.5h1m204 0h1m1 0h1m4 0h1m4 0h2m13 0h1M206 60.5h1M8 61.5h1m43 0h1m90 0h2m60 0h1m7 0h1m14 0h1m4 0h1m5 0h1M176 62.5h1m22 0h1m4 0h1m3 0h1m2 0h1m4 0h1M47 63.5h1m14 0h1m158 0h1m1 0h1m13 0h1M0 64.5h1m63 0h1m147 0h1m11 0h1m7 0h1M1 65.5h1m11 0h1m192 0h1m7 0h1M29 66.5h1m68 0h1m94 0h1m18 0h1m6 0h1m11 0h1M44 67.5h1m137 0h1m30 0h1M10 68.5h1m196 0h1m6 0h1m20 0h1M191 69.5h1m23 0h1m14 0h1m5 0h1m1 0h1M79 70.5h1m53 0h1m76 0h1m25 0h1M208 71.5h1m5 0h1m18 0h1M239 72.5h1M214 73.5h1m14 0h2M186 74.5h1m49 0h2M213 75.5h1m25 0h1M16 76.5h1m39 0h1m179 0h1m1 0h2M217 77.5h1m11 0h1m8 0h1M217 78.5h1m1 0h1m3 0h1m1 0h2m5 0h1M218 79.5h1m6 0h1M222 80.5h1m3 0h1m6 0h1M215 81.5h1m20 0h1M214 82.5h1m1 0h1m5 0h1m4 0h1m5 0h1m4 0h2M213 83.5h1m5 0h1M220 84.5h1m13 0h1M219 86.5h1m5 0h1m2 0h3m2 0h1m2 0h2M219 87.5h1m1 0h1m8 0h1m8 0h1M221 88.5h1m7 0h1m9 0h1M217 89.5h1m2 0h1m2 0h1m10 0h1M220 90.5h3m1 0h2m4 0h2m1 0h1M228 92.5h1m8 0h1M222 94.5h1m13 0h1M232 95.5h2M222 96.5h1m7 0h1M222 97.5h1m15 0h1M85 104.5h1M88 105.5h1m1 0h2M82 120.5h1m3 0h1m2 0h1M85 121.5h1m4 0h1M82 122.5h1M80 124.5h1"/>
<path stroke="#e381f2" d="M66 16.5h1m92 0h1M69 18.5h1M68 20.5h1m29 0h1M113 22.5h1M43 23.5h1m69 0h1M10 25.5h1m22 0h1m58 0h1M29 27.5h1M35 28.5h1m53 0h1M92 32.5h1m7 0h1M62 33.5h1m1 0h1M33 37.5h1M8 38.5h1m63 0h1M41 39.5h1m13 0h1M65 40.5h1m20 0h1M35 41.5h1m7 0h1M21 42.5h1m12 0h1M2 43.5h1m53 0h1M18 44.5h1m21 0h1M16 45.5h1m2 0h1M45 46.5h1m12 0h1M2 47.5h1m2 0h1m5 0h1m22 0h1m28 0h1m1 0h1M34 48.5h1m6 0h1M10 49.5h1m25 0h1m6 0h1M22 50.5h1M11 51.5h1M86 52.5h1M43 53.5h1m7 0h1m10 0h1m17 0h1m5 0h1M33 54.5h1m5 0h1m12 0h1m19 0h1M37 55.5h1m43 0h1m4 0h1M50 56.5h1m2 0h1M36 57.5h1m25 0h1m2 0h1m5 0h1m4 0h1M33 58.5h1m11 0h1m9 0h1m4 0h1m6 0h1m1 0h1m12 0h1M36 59.5h1m21 0h1m11 0h1m3 0h1m6 0h1M57 60.5h1m14 0h2M42 61.5h1m11 0h1m8 0h1m4 0h1m8 0h1M30 62.5h1m12 0h1m2 0h1m4 0h1m1 0h1m30 0h1M38 63.5h1m21 0h1m4 0h1m10 0h1M34 64.5h1m3 0h1m1 0h1m36 0h1m4 0h1M42 65.5h1m36 0h1m5 0h1m4 0h1m3 0h1M83 66.5h1M60 67.5h1m14 0h1m1 0h1m18 0h3m6 0h1m1 0h1M60 68.5h1M79 69.5h1M64 70.5h1m15 0h1m16 0h1m9 0h1M78 71.5h1m3 0h1m9 0h1M58 72.5h1M63 73.5h1m22 0h1m5 0h1M54 74.5h1m31 0h1M83 75.5h1m4 0h1m8 0h1M66 76.5h1m17 0h1m1 0h1M55 78.5h1m10 0h1m25 0h1M54 79.5h2m13 0h1m15 0h1M59 80.5h1m30 0h2M53 81.5h1m7 0h1m1 0h1m2 0h1m1 0h2M52 82.5h1m4 0h1m3 0h1m4 0h2m1 0h1M53 83.5h2m1 0h1m4 0h1m1 0h1m1 0h2M55 84.5h1m11 0h1"/>
<path stroke="#b977f2" d="M142 16.5h1M14 17.5h1M205 18.5h1M137 19.5h1m53 0h1M5 20.5h1M51 21.5h1M22 23.5h1M8 25.5h1M10 26.5h1m44 0h1m13 0h1M101 29.5h1m3 0h1M101 30.5h1M53 33.5h1M26 35.5h1M48 36.5h1m23 0h1M26 37.5h1M98 38.5h1M4 39.5h1M63 40.5h1m17 0h1M14 41.5h2m5 0h1m41 0h1m20 0h1M57 44.5h1M51 45.5h1M33 46.5h1m3 0h1m24 0h1m1 0h1M6 47.5h1m17 0h1m42 0h1M6 48.5h1m25 0h1M46 49.5h1m9 0h1m2 0h1M5 50.5h1m28 0h1m13 0h1M3 51.5h1m21 0h1m21 0h1m12 0h2M9 52.5h1m3 0h1m4 0h1m11 0h1m9 0h1m1 0h1m7 0h1M14 53.5h1m25 0h1m23 0h1M1 54.5h1m8 0h2m11 0h1M19 55.5h1M1 56.5h1m36 0h2m2 0h1m23 0h1m4 0h1M22 57.5h1m41 0h1M2 58.5h1m5 0h1m7 0h1m5 0h1m12 0h1m16 0h1M9 59.5h1m16 0h1m1 0h1m1 0h1m1 0h1m10 0h1m5 0h1m18 0h1m3 0h1M33 60.5h1m11 0h1m1 0h1m11 0h2m1 0h1m3 0h1M6 61.5h1m4 0h1m20 0h1m31 0h1M3 62.5h1m28 0h1m4 0h2m29 0h1M14 63.5h1m7 0h1m1 0h1m7 0h1m1 0h1m18 0h1m10 0h1m3 0h1m2 0h1M21 64.5h1m26 0h1m8 0h1m4 0h1m6 0h1m8 0h1M21 65.5h2m22 0h1m16 0h1m21 0h1m3 0h1M0 66.5h1m7 0h1m12 0h1m3 0h1m8 0h1m3 0h1m8 0h1m36 0h1m1 0h1M9 67.5h1m28 0h1m8 0h1m30 0h1M4 68.5h1m13 0h1m6 0h1m3 0h1m1 0h1m41 0h1m1 0h1M2 69.5h2m25 0h1m28 0h2m16 0h1m9 0h1M7 70.5h1m2 0h1m3 0h1m2 0h1m4 0h1m15 0h1m33 0h1m13 0h1M5 71.5h1m26 0h1m6 0h1m10 0h1m13 0h1m5 0h1m2 0h1m6 0h1m2 0h1M5 72.5h1m11 0h1m25 0h1m4 0h1m7 0h1m10 0h1m8 0h1m11 0h1M13 73.5h1m15 0h1m2 0h2m17 0h1m37 0h1M22 74.5h1m8 0h1m37 0h1m3 0h1M0 75.5h1m8 0h1m17 0h1m36 0h2m9 0h1M2 76.5h1m20 0h2m14 0h1m15 0h1m6 0h1m18 0h1M9 77.5h1m15 0h1m2 0h1m9 0h2m5 0h1m7 0h1m2 0h1m6 0h1m5 0h1m9 0h1m17 0h1M11 78.5h1m1 0h1m11 0h1m3 0h1m19 0h1m11 0h1m26 0h1m5 0h1M23 79.5h1m6 0h1m9 0h2m42 0h1m7 0h1M27 80.5h1m13 0h1m1 0h1m1 0h1m40 0h1m5 0h2m2 0h2M1 81.5h1m36 0h1m10 0h1m35 0h1M29 82.5h1m6 0h1m6 0h1m40 0h2m4 0h1m7 0h1M33 83.5h1m52 0h1m1 0h2m7 0h1M46 84.5h1m49 0h2M24 85.5h1m3 0h1M19 87.5h1m7 0h1M37 88.5h1M23 93.5h1M5 94.5h1m8 0h1M109 95.5h1M27 96.5h1m77 0h1M123 100.5h1"/>
<path stroke="#4b8795" d="M218 16.5h1m15 0h1M233 17.5h1M237 19.5h1M216 21.5h1M235 24.5h1M224 27.5h2M229 29.5h1m7 0h1M238 30.5h1M218 34.5h1M224 35.5h1M223 36.5h1m7 0h1M229 39.5h1M218 40.5h1M224 41.5h1m6 0h1M233 42.5h2M219 44.5h1m8 0h2m6 0h1M215 45.5h1m10 0h1M206 46.5h1m24 0h1m3 0h1M215 47.5h1m3 0h1M234 48.5h1m1 0h1M238 50.5h1M199 51.5h1m29 0h1m9 0h1M212 52.5h1m1 0h1m2 0h1m7 0h2m7 0h1m1 0h1M200 53.5h1m11 0h1m19 0h1M218 54.5h1m4 0h1M196 55.5h1m3 0h1m7 0h1m17 0h1m6 0h1M209 56.5h1m5 0h1m9 0h2m6 0h1M212 57.5h1m14 0h1m11 0h1M232 58.5h1M207 59.5h1m5 0h1m18 0h1m4 0h1M196 60.5h2m3 0h1m24 0h1M196 61.5h1m4 0h1m1 0h1m8 0h1M207 62.5h1m2 0h1m10 0h1m3 0h1m13 0h1M197 63.5h1m3 0h1m10 0h2m22 0h1M198 64.5h1m6 0h1m20 0h1m4 0h1m4 0h1m2 0h1M225 65.5h1m1 0h3M202 66.5h1m10 0h1m7 0h1m10 0h1M196 67.5h1m18 0h1m8 0h1m10 0h1M220 68.5h2m5 0h1m4 0h2m5 0h1M203 69.5h1m2 0h1m4 0h1m1 0h1m4 0h1m13 0h1M222 70.5h1m5 0h1M206 71.5h1m13 0h1m1 0h1m12 0h1M223 72.5h3m8 0h1M212 73.5h1m6 0h1m2 0h1M214 74.5h1M210 75.5h1m12 0h1m6 0h1m3 0h1M237 76.5h1M215 77.5h1m8 0h1m2 0h1M229 78.5h1m8 0h1M227 79.5h1m3 0h1m3 0h1M210 80.5h1m21 0h1m3 0h1M217 85.5h1m13 0h1M216 90.5h1M223 91.5h1m2 0h1M226 93.5h1M221 94.5h1M229 96.5h1m1 0h2M227 97.5h1m3 0h1M133 104.5h1M85 107.5h2m3 0h1M91 109.5h1m37 0h1M88 110.5h1m45 0h1M88 114.5h1M90 118.5h1M83 119.5h1m6 0h1M77 122.5h1m6 0h1M77 123.5h1m6 0h1M71 124.5h1m12 0h1"/>
<path stroke="#2369c4" d="M236 16.5h1M228 17.5h1M227 18.5h1m10 0h1M230 21.5h1m3 0h1M221 22.5h1m7 0h1M226 24.5h1M216 25.5h1m9 0h1m6 0h1M224 26.5h1m4 0h1M220 29.5h1m6 0h1M221 32.5h1m12 0h1M219 33.5h1m2 0h1m2 0h1M220 34.5h1m7 0h1M231 35.5h1M221 36.5h1m5 0h1m1 0h1m6 0h1M218 37.5h1m4 0h1M222 38.5h1M216 39.5h1m13 0h2M227 42.5h1m2 0h1M234 43.5h1m2 0h1M217 44.5h1M228 47.5h1m2 0h1M227 48.5h1m1 0h1m7 0h1M208 49.5h1m8 0h1m13 0h1M217 50.5h1m21 0h1M214 51.5h1M209 52.5h1m9 0h1m2 0h1m4 0h1m11 0h1M207 53.5h1m15 0h1m3 0h1M213 54.5h1m19 0h1m1 0h1M207 55.5h1m1 0h1m1 0h1m5 0h2m9 0h1M215 57.5h1m2 0h1m6 0h1m12 0h1M215 58.5h1m12 0h1M238 59.5h1M205 60.5h1m5 0h1m1 0h1M208 61.5h1m9 0h1m1 0h1M220 62.5h1m15 0h2M225 63.5h1m12 0h1M213 64.5h1m20 0h1M233 65.5h1m1 0h1M215 66.5h1m10 0h1m2 0h1M219 67.5h1m12 0h1m5 0h1M205 68.5h1m12 0h1m3 0h1m14 0h1M214 69.5h1m19 0h2M207 70.5h1M205 71.5h1m5 0h1m24 0h1M219 72.5h2m8 0h2m1 0h1M213 73.5h1m9 0h1m2 0h1m11 0h1M231 75.5h1m3 0h2M225 76.5h1m2 0h1M212 78.5h1m9 0h1m5 0h1M221 79.5h1M212 80.5h1m1 0h1m6 0h1M211 81.5h1m7 0h1m1 0h1m2 0h1m10 0h1m1 0h2M215 82.5h1m1 0h1m3 0h1M221 83.5h1m6 0h1m3 0h1m5 0h1M211 84.5h2m2 0h1m17 0h1m2 0h1m1 0h1M224 85.5h1m4 0h1m5 0h1m1 0h1M217 86.5h2m16 0h1M216 87.5h1m12 0h1M215 88.5h1m14 0h1m4 0h1m1 0h1M216 89.5h1m4 0h2m5 0h1m10 0h1M219 90.5h1m7 0h1m1 0h1m5 0h1m2 0h1M93 102.5h1M95 103.5h1M89 104.5h1M90 120.5h1M86 122.5h1m1 0h1m3 0h1"/>
<path stroke="#9066f6" d="M187 17.5h1M29 22.5h1M24 26.5h1M109 28.5h1M70 29.5h1m26 0h1M92 31.5h1M56 32.5h1m41 0h1M23 46.5h1M26 48.5h1M26 49.5h1M15 52.5h1m4 0h1m4 0h2m1 0h1M2 53.5h3m13 0h1M28 54.5h1M7 55.5h1M9 56.5h1m8 0h1m7 0h1M18 57.5h1m1 0h1m6 0h3M15 58.5h1M31 59.5h1m25 0h1M1 60.5h1m10 0h1m5 0h1m2 0h1m5 0h1m27 0h1M9 61.5h1m9 0h1m5 0h3m3 0h1M4 62.5h1m28 0h1m10 0h1M10 63.5h1m5 0h1m11 0h2m5 0h1m10 0h1m8 0h1M4 64.5h1m9 0h1m38 0h2M3 65.5h1m11 0h1m3 0h1m4 0h1m13 0h1m5 0h1m13 0h1M16 66.5h1m24 0h3m14 0h1m4 0h1m1 0h2m1 0h1M4 67.5h1m31 0h2m31 0h1M12 68.5h1m1 0h3m2 0h2m27 0h2m11 0h1m7 0h1M1 69.5h1m12 0h1m15 0h1m18 0h1m16 0h1M26 70.5h2m9 0h1m22 0h1m8 0h1M0 71.5h1m1 0h1m55 0h2M19 72.5h1m9 0h1m17 0h1m29 0h1M31 73.5h1m2 0h1m5 0h1m23 0h1m2 0h1m6 0h1m2 0h2M3 74.5h1m12 0h1m21 0h1m2 0h1m2 0h1m29 0h1M12 75.5h1m6 0h1m3 0h1m6 0h1m9 0h1m1 0h1M8 76.5h2m8 0h1m1 0h1m16 0h1m2 0h1m1 0h1m16 0h1M35 77.5h1m1 0h1m4 0h1m16 0h1m1 0h2m4 0h1m10 0h1M4 78.5h1m3 0h1m6 0h2m7 0h1m9 0h1m2 0h1m6 0h1m28 0h1m12 0h1M1 79.5h1m13 0h2m16 0h1m1 0h1m3 0h1m9 0h1m43 0h1M4 80.5h1m4 0h1m13 0h1m2 0h1M5 81.5h1m3 0h1m3 0h1m2 0h1m1 0h1m4 0h1m2 0h1m10 0h1M4 82.5h1m12 0h1m4 0h1m2 0h1m11 0h1M5 83.5h1m11 0h1m4 0h1m1 0h1m48 0h1M14 84.5h1m17 0h1m3 0h1M5 85.5h1m1 0h2m1 0h1m1 0h1m3 0h1m4 0h1m75 0h1M0 86.5h1m13 0h1m2 0h1m1 0h2m8 0h1m5 0h1m54 0h2M0 87.5h2m1 0h1m4 0h1m2 0h2m4 0h2m2 0h1m1 0h1m1 0h1m9 0h1m1 0h1m59 0h1m1 0h1m3 0h1M5 88.5h1m2 0h1m1 0h1m5 0h1m3 0h1m7 0h1m2 0h2m62 0h1m2 0h1m3 0h1M1 89.5h1m17 0h1m14 0h2m49 0h1m13 0h2m2 0h2M14 90.5h1m3 0h1m12 0h1m56 0h1m5 0h1m5 0h1M3 91.5h1m8 0h1m1 0h1m9 0h1m6 0h1M22 92.5h1m1 0h1m4 0h1m80 0h1M28 94.5h1m5 0h1M7 95.5h1m21 0h1m1 0h1m2 0h1M26 96.5h1m2 0h1m77 0h1M3 97.5h1m16 0h1m13 0h1m73 0h1M110 98.5h1M105 99.5h1m14 0h1M106 100.5h1M113 104.5h1m3 0h1M114 107.5h1M114 108.5h1M108 116.5h1M115 117.5h1"/>
<path stroke="#4038e8" d="M237 17.5h1M236 18.5h1M235 19.5h1M227 22.5h1m2 0h1M222 23.5h1M222 24.5h2M219 28.5h1m7 0h1M225 30.5h1m13 0h1M229 32.5h1M233 33.5h1M227 35.5h1M225 36.5h1M221 37.5h1M220 38.5h1m12 0h1M213 39.5h1m25 0h1M220 40.5h1m10 0h1M212 41.5h1m13 0h1M226 42.5h1m1 0h1M232 43.5h1m3 0h1M216 44.5h1M217 45.5h1M225 48.5h1M213 51.5h1M218 67.5h1m3 0h1M229 70.5h1M213 76.5h1M82 78.5h1m127 0h1m2 0h1m23 0h1M76 79.5h1m4 0h1M225 80.5h1m12 0h1M76 81.5h1m3 0h1M80 83.5h2M75 84.5h1M78 85.5h1M79 86.5h1M77 87.5h1M76 88.5h1m2 0h1M76 89.5h3m5 0h1M80 90.5h2M83 92.5h3M83 93.5h1M84 94.5h1m4 0h1M103 95.5h1M85 96.5h1m12 0h1M94 99.5h1m3 0h1M91 100.5h1m6 0h1M124 101.5h1M87 102.5h1m11 0h1M93 104.5h1m7 0h1M94 106.5h1m10 0h1m16 0h1M97 107.5h1m7 0h2M95 108.5h1m9 0h1m14 0h1M104 111.5h1m15 0h1m2 0h1M95 112.5h1m10 0h1m2 0h1M121 113.5h1M95 114.5h1M102 115.5h2M123 116.5h1M98 118.5h1m4 0h1m19 0h1M127 119.5h1M97 120.5h1m16 0h1M98 121.5h2m5 0h1m3 0h1m3 0h1m2 0h1m2 0h1m1 0h1M101 122.5h1M95 123.5h1m16 0h1m3 0h2M94 124.5h1m6 0h1m3 0h1m18 0h2"/>
<path stroke="#cd264a" d="M129 20.5h1m1 0h1M122 25.5h1m6 0h1M117 26.5h1M134 27.5h1M127 28.5h1M111 29.5h1m20 0h1M117 30.5h1M114 31.5h1M124 32.5h1M134 33.5h1M123 34.5h1m17 0h1M116 35.5h1m1 0h1M115 37.5h1M134 39.5h2M107 40.5h1m26 0h1m6 0h1M111 41.5h2M109 42.5h1m18 0h1M110 43.5h1m2 0h1m6 0h1m8 0h1m2 0h1M118 44.5h1m1 0h1M116 45.5h1m11 0h1m1 0h1M130 46.5h1m9 0h1M107 47.5h1m7 0h1m12 0h1M115 48.5h1M119 49.5h1m6 0h2m5 0h1m7 0h2M140 50.5h1M124 51.5h1m1 0h1m5 0h1m4 0h1m2 0h1M113 53.5h1m11 0h1M115 54.5h1m8 0h1m4 0h1m10 0h1M117 55.5h1m7 0h1m10 0h1m1 0h1M113 56.5h1m5 0h1m11 0h1m1 0h1M107 57.5h1m3 0h1m7 0h1m2 0h1m3 0h1m13 0h1M115 58.5h2m2 0h1m1 0h1m5 0h1m9 0h1m1 0h1M123 59.5h1m10 0h1m3 0h1M121 60.5h1m13 0h1m5 0h1M108 62.5h2m24 0h1m2 0h1m1 0h1M106 63.5h1m24 0h1m2 0h1M107 64.5h1m2 0h1m8 0h1m18 0h1M121 66.5h1M121 68.5h1M125 71.5h1M127 72.5h1M120 74.5h1M128 75.5h1M127 77.5h1M107 78.5h1M116 79.5h1M116 80.5h1m2 0h1m6 0h2M51 85.5h1m1 0h1m6 0h1m55 0h2M49 86.5h1m5 0h1m6 0h1m45 0h1m6 0h1M45 87.5h1m1 0h2m3 0h1m9 0h1m47 0h1M61 88.5h1m44 0h1m1 0h1M45 89.5h1m3 0h2m10 0h1m53 0h1M50 90.5h1m2 0h1m10 0h1m52 0h1M50 91.5h1M44 92.5h1m6 0h1m1 0h1M45 93.5h1M48 95.5h2m70 0h1M47 96.5h1M42 97.5h1m5 0h1m4 0h1M32 100.5h1M12 103.5h1M16 106.5h1M18 110.5h1"/>
<path stroke="#d79c13" d="M152 20.5h1M169 22.5h1M166 27.5h1M153 28.5h1M216 34.5h1M211 35.5h2M202 40.5h1M211 42.5h1M196 43.5h1M210 44.5h1M200 45.5h1m10 0h1M180 65.5h2M185 67.5h1m8 0h1M183 68.5h1M182 70.5h1M188 79.5h2M177 85.5h1M172 86.5h1m5 0h1m5 0h2m1 0h1m3 0h1m2 0h1M170 87.5h1m1 0h1m7 0h3m14 0h1M175 88.5h1m1 0h2m17 0h1M190 89.5h1m3 0h2m3 0h1M174 90.5h2m7 0h1m2 0h1m8 0h1M175 91.5h1m6 0h1m3 0h1m1 0h1m1 0h1M81 92.5h1m89 0h1m5 0h1m18 0h1M185 93.5h1M187 94.5h1M174 95.5h1m17 0h1M78 96.5h1m1 0h1m89 0h1m4 0h1m11 0h1M150 98.5h1m7 0h2m46 0h1m8 0h1m3 0h1M155 99.5h1m9 0h2m17 0h1m10 0h1m20 0h1M80 100.5h2m102 0h1M167 101.5h1m5 0h1m12 0h1m16 0h1m1 0h1m7 0h1m7 0h1m15 0h2M159 102.5h1m2 0h1m22 0h1m3 0h1m13 0h2M153 103.5h2m1 0h1m65 0h1M152 104.5h1m9 0h2m3 0h1m10 0h1m18 0h1m28 0h1m12 0h1M151 105.5h1m18 0h1m35 0h1m20 0h1m2 0h1M171 106.5h1m14 0h1m2 0h1m4 0h1m20 0h1m1 0h1m2 0h1M151 107.5h1m6 0h1m16 0h1m5 0h1m29 0h2m11 0h1M162 108.5h1m8 0h1m5 0h1m9 0h1m5 0h1m7 0h1m2 0h1m6 0h1M155 109.5h1m16 0h1m6 0h1m17 0h1m4 0h1m16 0h1m9 0h1m5 0h1m3 0h1M161 110.5h1m15 0h1m9 0h1m19 0h1m4 0h1M42 111.5h1m11 0h1m12 0h1m11 0h1m2 0h1m76 0h1m2 0h1m25 0h1m1 0h1m3 0h1m4 0h1m1 0h1m27 0h1M56 112.5h1m10 0h1m5 0h2m9 0h1m71 0h1m11 0h2m7 0h1m36 0h1m12 0h1M47 113.5h1m13 0h1m90 0h1m15 0h1m9 0h1m10 0h1m29 0h1m10 0h1m6 0h1M38 114.5h1m17 0h2m82 0h1m21 0h1m20 0h1m28 0h1m23 0h1M45 115.5h1m8 0h1m15 0h1m9 0h1m56 0h1m28 0h1m19 0h1m11 0h1m39 0h1M191 116.5h1m9 0h1m1 0h1m15 0h1m18 0h1M39 117.5h1m9 0h1m140 0h1m31 0h1M35 118.5h1m12 0h1m2 0h1m2 0h1m2 0h1m148 0h1M50 119.5h1m131 0h1m23 0h1M46 120.5h1M54 122.5h1M40 123.5h1m10 0h1m1 0h1M59 124.5h1"/>
<path stroke="#cb7708" d="M154 20.5h1M188 21.5h1M140 22.5h1m46 0h1M136 23.5h1m76 0h1M182 24.5h1M178 26.5h1m12 0h1M195 29.5h1M193 31.5h2M146 32.5h1m56 0h1M156 33.5h1m45 0h2M161 34.5h1m53 0h1M189 35.5h1m5 0h1M166 36.5h1m1 0h1M149 37.5h1m43 0h1M156 38.5h1M147 39.5h1m17 0h1m44 0h1M208 40.5h1M167 41.5h1M182 42.5h1m22 0h1M159 43.5h1m9 0h1M183 44.5h1M149 45.5h1m37 0h1M168 46.5h1m9 0h1M175 48.5h1M172 50.5h1M189 65.5h1M165 66.5h1m26 0h1M174 67.5h1m12 0h1M188 68.5h1M175 69.5h1m12 0h1m1 0h1M181 70.5h1M194 71.5h1M180 72.5h1m3 0h1m1 0h1m6 0h2M191 73.5h2M180 74.5h1m9 0h1M181 75.5h1M181 77.5h2m1 0h1M133 78.5h1m56 0h1m4 0h1M136 79.5h1m60 0h1M143 80.5h1m8 0h1m27 0h1m9 0h2M176 81.5h1m5 0h1m6 0h2m5 0h1M178 82.5h2m3 0h1m2 0h1M179 84.5h1m1 0h1m1 0h1m7 0h1M172 85.5h2m24 0h1M182 86.5h1m16 0h1M179 87.5h1m6 0h1m1 0h1M187 88.5h1M175 89.5h1m12 0h1M182 90.5h1m4 0h1m3 0h1m7 0h1M163 92.5h2M166 93.5h1M143 94.5h1m4 0h1m4 0h1M169 95.5h1M156 96.5h1M166 97.5h1M130 98.5h1M134 99.5h1m1 0h1M132 100.5h1m1 0h1m9 0h1m52 0h1M132 101.5h1m1 0h1m5 0h1m13 0h1M144 102.5h2m3 0h1M144 103.5h1m79 0h1m12 0h1M136 104.5h1m8 0h1m1 0h1m10 0h1m47 0h1m12 0h1M77 105.5h1m150 0h1M53 106.5h1m85 0h1m2 0h1m3 0h1m5 0h1M53 107.5h1m4 0h1m3 0h1m5 0h1m12 0h1m56 0h1m8 0h1m36 0h1m30 0h1m11 0h1M56 108.5h1m10 0h1m6 0h3m60 0h1m11 0h1m26 0h1m11 0h1M47 109.5h1m4 0h1m4 0h1m15 0h1m3 0h1m98 0h1M47 110.5h1m21 0h1m84 0h1m49 0h1M136 111.5h1m1 0h1m7 0h1m60 0h1M137 112.5h1m7 0h1m49 0h1m35 0h1m6 0h1M59 113.5h2m7 0h1m143 0h1m1 0h1m2 0h1m5 0h1M142 114.5h1m7 0h1m36 0h1m17 0h1M142 115.5h1m13 0h1m21 0h1m8 0h1m36 0h1M145 116.5h1m27 0h1m3 0h1m29 0h1m10 0h1m8 0h2m7 0h1m2 0h1M156 117.5h1m1 0h1m14 0h1m8 0h1m15 0h1m5 0h1m4 0h1m10 0h1m11 0h1M140 118.5h1m32 0h2m20 0h1m3 0h1m9 0h1M139 119.5h1m4 0h1m8 0h1m5 0h2m14 0h1m7 0h1m55 0h1M26 120.5h1m7 0h2m109 0h1m7 0h1m5 0h1m13 0h1m3 0h1m18 0h1m4 0h1m5 0h1m22 0h1m1 0h1M33 121.5h1m103 0h1m14 0h1m8 0h1m12 0h1m1 0h1m7 0h1m16 0h1m17 0h1M143 122.5h1m1 0h1m5 0h1m15 0h2m3 0h1m18 0h2m4 0h1m13 0h1m2 0h1m3 0h1m7 0h1m5 0h1m6 0h1M30 123.5h1m135 0h1m4 0h1m30 0h2m5 0h1m3 0h1m3 0h1m16 0h1M134 124.5h1m42 0h1m3 0h1m22 0h1m5 0h1m3 0h1m4 0h1"/>
<path stroke="#b81624" d="M129 21.5h1M128 24.5h1m3 0h1M131 26.5h1M118 27.5h1m8 0h1M117 31.5h1m3 0h1m3 0h1m9 0h1M115 32.5h1m3 0h1m1 0h1m17 0h1M108 33.5h1m15 0h1m1 0h1m3 0h1m1 0h1M115 34.5h1m14 0h1M112 35.5h1m8 0h1m5 0h1M129 36.5h1m1 0h1M109 37.5h1M134 38.5h1m5 0h1M114 39.5h1m3 0h2M114 41.5h1m73 0h1M133 42.5h1M138 43.5h1M109 44.5h1m21 0h1M113 45.5h1m11 0h1m9 0h1M111 46.5h1m7 0h1M111 47.5h1m6 0h1m5 0h2M107 48.5h1m57 0h1m26 0h1M108 49.5h1m14 0h1m16 0h1M128 50.5h1m8 0h1m1 0h1M119 51.5h1m10 0h1m8 0h1m30 0h1M114 52.5h1M130 53.5h1m3 0h1M112 54.5h1m3 0h1M118 55.5h1m9 0h1m10 0h1m2 0h1M106 56.5h1m3 0h1m13 0h1m3 0h1m1 0h1m11 0h1M125 57.5h1M125 58.5h1m6 0h1M107 59.5h1m4 0h1m7 0h1m3 0h1M108 60.5h1m9 0h1m6 0h1m12 0h1M107 61.5h1m6 0h1m12 0h1m12 0h1M105 62.5h1m5 0h1m2 0h1M117 63.5h1m4 0h1m13 0h1m3 0h1m1 0h1M114 64.5h1m2 0h1M123 66.5h1M129 67.5h1M129 68.5h1m18 0h1M129 69.5h1m6 0h1M132 70.5h1M124 71.5h1m14 0h1M123 72.5h1M122 73.5h1m3 0h1M121 74.5h1m5 0h1M123 75.5h2m1 0h1M121 76.5h1m4 0h2M120 77.5h1m8 0h1M120 78.5h1m2 0h1M121 79.5h1m2 0h1M121 80.5h1M123 81.5h1m1 0h1m1 0h1M121 84.5h2M120 85.5h1M124 86.5h1M120 87.5h1m1 0h1M122 88.5h1M121 90.5h1m1 0h1M5 98.5h2m32 0h1M46 100.5h1m7 0h1M0 101.5h1m1 0h1m12 0h1M2 102.5h1m12 0h1m3 0h1m12 0h1m12 0h1M5 103.5h1m2 0h2m32 0h1M24 104.5h1m3 0h1m4 0h1M4 105.5h1m15 0h1M3 106.5h1m7 0h1m7 0h1m8 0h1M3 107.5h1m1 0h1m9 0h1m4 0h1M10 108.5h1m7 0h1m7 0h1M6 109.5h1m10 0h1M9 110.5h1m1 0h1M15 111.5h1m4 0h1M24 112.5h1M15 113.5h1M19 116.5h1m1 0h1M20 118.5h1"/>
<path stroke="#c15008" d="M168 22.5h1M138 23.5h1M180 25.5h1M203 26.5h1M143 27.5h1m17 0h1m46 0h1M165 28.5h1m23 0h1m24 0h1M201 29.5h1M182 30.5h1m1 0h1M159 31.5h1m12 0h1M184 32.5h1M172 33.5h1m7 0h1M155 34.5h1m33 0h1m14 0h1M143 35.5h1m37 0h1m22 0h1M143 36.5h1m20 0h1m14 0h1M166 37.5h2M143 38.5h1m23 0h1m3 0h1m2 0h1m22 0h1M144 39.5h1M144 40.5h2m22 0h1m26 0h1M164 41.5h1m10 0h1m4 0h1m13 0h1M171 42.5h1m5 0h1M144 43.5h1m4 0h1M146 44.5h1m2 0h1m8 0h1m18 0h1M147 45.5h1m17 0h1M174 46.5h1M181 47.5h1M145 48.5h1m16 0h1m18 0h1m1 0h2M185 49.5h1M143 50.5h1m27 0h1M168 51.5h1m19 0h1M157 52.5h2m7 0h1m10 0h1m2 0h1m3 0h1m10 0h1M152 53.5h1m29 0h1M158 54.5h1m9 0h1m21 0h1M193 55.5h1M151 56.5h1m27 0h1m1 0h1m3 0h1M175 57.5h1M151 58.5h1m24 0h1m17 0h1M151 59.5h1m2 0h1m11 0h1m17 0h1m3 0h1m1 0h1M144 60.5h1m44 0h1M145 61.5h1m27 0h1m3 0h1m15 0h1M147 62.5h1m1 0h1m6 0h1m18 0h1m4 0h1M144 63.5h1m5 0h1m37 0h1m3 0h1M165 64.5h1m3 0h1m6 0h1m13 0h1M139 65.5h2m13 0h1m1 0h1m20 0h1m1 0h1M138 66.5h1m25 0h1m2 0h1m19 0h1M136 67.5h1m3 0h1m4 0h1m11 0h1m6 0h1m21 0h1M137 68.5h1m13 0h1m4 0h1m14 0h1M132 69.5h1m4 0h1m7 0h1m4 0h1m17 0h1m18 0h1M131 70.5h1m5 0h1m7 0h1m18 0h1m1 0h1m1 0h2m3 0h1M149 71.5h1m18 0h1m10 0h1m5 0h2m1 0h1m3 0h1M132 72.5h1m19 0h2m8 0h1m10 0h1M138 73.5h1m12 0h1M157 74.5h2m2 0h1m1 0h1m7 0h1m7 0h1M130 75.5h1m3 0h1m3 0h1m7 0h1m5 0h1m4 0h1m3 0h2m2 0h1m3 0h1M137 76.5h1m7 0h1m5 0h1m5 0h1m2 0h1m7 0h1m13 0h1M133 77.5h1m2 0h1m8 0h1m18 0h1m28 0h1M138 78.5h1m1 0h1m1 0h1m20 0h1m2 0h1m1 0h1m3 0h1m3 0h1m1 0h1m12 0h1M134 79.5h2m3 0h1m2 0h1m17 0h1M129 80.5h1m6 0h1m2 0h2m1 0h1m4 0h1m13 0h1m32 0h1M129 81.5h2m5 0h1m8 0h2m7 0h1m17 0h1M128 82.5h1m1 0h1m11 0h3m2 0h2m1 0h1m7 0h5m5 0h1M131 83.5h1m1 0h1m5 0h1m17 0h2m6 0h2M135 84.5h1m13 0h1m3 0h1m1 0h1m11 0h2M131 85.5h3m1 0h2m2 0h1m4 0h1m9 0h1m2 0h1M125 86.5h1m4 0h1m6 0h1m1 0h1m2 0h1m5 0h1m1 0h1m4 0h3m6 0h1m1 0h4M134 87.5h2m8 0h1m2 0h2m5 0h1m4 0h1m1 0h2m3 0h1M127 88.5h1m1 0h1m2 0h1m3 0h1M133 89.5h1m10 0h1m6 0h1m1 0h1m2 0h1m11 0h1M134 90.5h1m1 0h1m9 0h2m2 0h1m12 0h2M127 91.5h1m14 0h1m2 0h1m6 0h1M130 92.5h1m37 0h1M134 93.5h1M123 94.5h1m25 0h1m4 0h1M61 95.5h1m86 0h1m4 0h1M128 96.5h1M133 97.5h1M62 98.5h1M51 101.5h1m3 0h1m3 0h3m7 0h1m4 0h1M65 102.5h1m2 0h1M70 103.5h1M70 104.5h1M69 105.5h1M62 106.5h2m7 0h1M27 114.5h1m3 0h1M5 115.5h1m28 0h1M0 116.5h1m26 0h1M2 117.5h1m27 0h1M13 118.5h2M1 119.5h1M23 120.5h1M7 121.5h1M11 122.5h1M4 123.5h1M10 124.5h1"/>
<path stroke="#e3427d" d="M125 23.5h1M133 25.5h1M133 26.5h1M124 28.5h2M120 30.5h1M103 33.5h1M102 34.5h1m2 0h1M107 35.5h1m6 0h1M101 36.5h1m2 0h1m5 0h1M107 37.5h1M94 39.5h1M105 40.5h1M100 41.5h1m2 0h2M94 42.5h1m3 0h1M100 43.5h1M100 45.5h1m4 0h1M73 47.5h1m9 0h1m5 0h1M82 48.5h1M83 49.5h1M79 50.5h1m7 0h1m5 0h1M91 52.5h1M101 54.5h1M91 55.5h1m2 0h1m1 0h1M91 57.5h1M99 58.5h1M114 65.5h1m1 0h1M112 66.5h1M115 67.5h1M118 69.5h1M110 70.5h1m6 0h1M114 71.5h1m2 0h1M106 73.5h1M108 76.5h1M118 77.5h1M104 78.5h1m11 0h2m1 0h1M111 79.5h1M101 80.5h1M108 81.5h1m1 0h1M110 82.5h1m2 0h1M102 83.5h2m3 0h2M112 84.5h1m5 0h2M114 86.5h1m3 0h1M109 87.5h1m7 0h1M107 88.5h1m3 0h1m7 0h1M108 89.5h1M119 90.5h1M122 94.5h1M121 97.5h1M10 98.5h1m23 0h1M11 99.5h1m23 0h1M11 100.5h1m21 0h1"/>
<path stroke="#b02c0b" d="M137 24.5h1M123 29.5h1m2 0h1m34 0h1M139 30.5h1M125 33.5h1m16 0h1m42 0h1m7 0h1M152 34.5h1m4 0h1m2 0h1M122 35.5h1m22 0h1m4 0h1m43 0h1M146 36.5h1m23 0h1M168 37.5h1M182 38.5h1M113 40.5h1m17 0h1m31 0h1m18 0h1m5 0h1M110 41.5h1m28 0h1m2 0h2m13 0h1m24 0h1M172 43.5h1m6 0h1M127 44.5h1m1 0h1m17 0h1m39 0h1M171 45.5h1M147 46.5h1m40 0h1M185 47.5h1M108 48.5h2m28 0h1m10 0h1m9 0h2m21 0h1m5 0h1m1 0h1M114 49.5h1m9 0h1m32 0h1m21 0h1m13 0h1M150 50.5h1m3 0h1m2 0h1M147 51.5h1m5 0h1m3 0h1m21 0h1m4 0h1m10 0h1M145 52.5h1m24 0h2m14 0h1M157 53.5h1m8 0h1m11 0h1m4 0h1m7 0h1M143 54.5h1m11 0h1m13 0h1m10 0h1m14 0h1M144 55.5h1m10 0h2m11 0h2m2 0h1m6 0h1m2 0h1M147 56.5h1m24 0h1M109 57.5h1m43 0h1m5 0h2m20 0h1m1 0h1m2 0h1m3 0h1M144 58.5h1m3 0h1m28 0h1m3 0h1m10 0h1M152 59.5h1m7 0h1m1 0h1m6 0h1m11 0h1m9 0h1M163 61.5h1m18 0h1M143 62.5h1m4 0h1m1 0h1m14 0h1M147 63.5h1m11 0h1m17 0h1M145 64.5h1m12 0h1m1 0h1m12 0h1m11 0h1m2 0h1M130 65.5h1m2 0h1m13 0h1M158 66.5h1m19 0h2M137 67.5h1m5 0h1M130 68.5h1m2 0h1m7 0h1m2 0h1m5 0h1m14 0h1M142 69.5h1m11 0h1m8 0h1m7 0h1M144 70.5h1m6 0h1m23 0h1M136 71.5h1m1 0h1m1 0h1m4 0h1m20 0h1M154 72.5h1m9 0h1M129 73.5h1m17 0h1m18 0h1m5 0h1m4 0h1M134 74.5h1m21 0h1M133 75.5h1m16 0h1m5 0h1M140 76.5h1M135 77.5h1m6 0h1m19 0h1m6 0h1m3 0h1m5 0h1M125 78.5h1m15 0h1m23 0h1M133 79.5h1m18 0h1m16 0h1M133 80.5h1m4 0h1m7 0h1m3 0h1m11 0h1m4 0h1M137 81.5h1m9 0h1m10 0h1m1 0h1m4 0h1M146 82.5h1m2 0h1M154 83.5h1M150 84.5h1m11 0h1m7 0h1M122 85.5h1M69 86.5h1M73 87.5h1M65 88.5h1M69 89.5h1M65 90.5h1m5 0h1M63 91.5h1m1 0h1m5 0h1M74 92.5h1M55 94.5h1M64 95.5h1M71 96.5h1M61 97.5h1m7 0h1m1 0h1m67 0h1M55 98.5h1M64 99.5h1M65 100.5h1m10 0h1M41 101.5h1M38 102.5h1M45 103.5h1m28 0h1M40 104.5h1M44 105.5h1M37 106.5h1M0 107.5h1M32 108.5h1m1 0h1M40 109.5h1M33 110.5h1m10 0h1M30 111.5h1M3 112.5h1M26 113.5h1m12 0h1M8 115.5h1m24 0h1M31 116.5h1M24 118.5h1M20 120.5h1M12 123.5h1"/>
<path stroke="#f879e2" d="M12 34.5h1m22 0h1m51 0h1M73 35.5h1m1 0h1M22 36.5h1M25 37.5h1m70 0h1M32 38.5h1M6 39.5h1m37 0h1m1 0h1m35 0h1M19 40.5h1M40 41.5h1m30 0h1M23 42.5h1m24 0h1m42 0h1m5 0h1M17 43.5h1m31 0h1m15 0h1m38 0h1M51 44.5h1m47 0h1M57 45.5h1M50 46.5h2m30 0h1m3 0h1m1 0h1m9 0h1m4 0h1M35 47.5h1m8 0h1m6 0h1m27 0h1M39 48.5h1m2 0h1m13 0h1m9 0h1m4 0h1m11 0h1M30 49.5h1m1 0h1m25 0h1m9 0h1M61 50.5h1m2 0h1m27 0h1m7 0h1M33 51.5h1m11 0h2m48 0h1M93 52.5h1m2 0h1M77 53.5h1m5 0h1m19 0h1M87 55.5h1M77 57.5h1m3 0h1M75 58.5h1m5 0h1M88 59.5h1m3 0h1M104 60.5h1M89 61.5h2m9 0h1m2 0h1M90 62.5h1m3 0h1M92 63.5h1m11 0h1M70 64.5h1m33 0h1M93 65.5h1m11 0h1m3 0h1M96 66.5h1m6 0h2m4 0h1M94 67.5h1m8 0h1m2 0h1M90 68.5h1m8 0h1M93 69.5h1M94 70.5h1m14 0h1M103 71.5h1M83 72.5h1m5 0h1m3 0h2m2 0h1m12 0h1M109 73.5h1m8 0h1M94 75.5h1m14 0h1M88 76.5h1m7 0h1m2 0h1M89 77.5h1m26 0h1M65 78.5h1M56 80.5h1M67 83.5h1M40 85.5h2m1 0h1M38 87.5h1m3 0h2M40 89.5h1m3 0h1M42 90.5h2M114 92.5h1m3 0h1M36 93.5h1M37 94.5h1M116 95.5h1m1 0h1M113 96.5h1M25 98.5h1M29 99.5h1"/>
<path stroke="#f361b3" d="M100 34.5h1M103 35.5h1M90 39.5h1m9 0h1m2 0h1M101 41.5h1M102 43.5h1M91 44.5h1m2 0h1M94 45.5h1m8 0h1M75 46.5h1m1 0h1m3 0h1m11 0h1M70 47.5h1m9 0h1m16 0h1M75 48.5h1m9 0h1m5 0h1M71 49.5h1M89 50.5h1M82 51.5h1m3 0h1M97 52.5h1M97 53.5h1m1 0h2m1 0h1M102 54.5h2M98 55.5h1M94 56.5h1m1 0h1M93 57.5h1m3 0h1m7 0h1M92 58.5h2m10 0h1M91 60.5h1m1 0h1M88 62.5h1m9 0h1m2 0h1M89 63.5h1m10 0h1M92 64.5h1M112 65.5h1M92 66.5h1m23 0h1M93 67.5h1m1 0h1M94 69.5h1m3 0h1m11 0h2M114 70.5h1m1 0h1M98 71.5h1m5 0h1m10 0h1m3 0h1M101 72.5h1m2 0h1m8 0h1M104 74.5h1m2 0h1M115 75.5h1M104 76.5h1m8 0h1M107 77.5h1m11 0h1M100 78.5h1m10 0h1M105 79.5h1m6 0h1M2 91.5h1M119 92.5h1M0 93.5h1m37 0h1M118 96.5h1M36 97.5h1"/>
<path stroke="#c4a83a" d="M207 44.5h1M205 45.5h1M200 46.5h1M196 47.5h1m1 0h1M206 50.5h1M204 54.5h1M204 66.5h1M200 67.5h1M195 71.5h1M204 72.5h1M201 73.5h1M195 74.5h1m7 0h1m4 0h1M205 77.5h1M199 78.5h1M203 79.5h2M199 81.5h1m5 0h1m1 0h1M205 83.5h1M200 84.5h1M206 85.5h2m3 0h1m1 0h1M200 86.5h1m11 0h1M201 87.5h1m10 0h2M200 88.5h1M207 89.5h1m6 0h1M200 90.5h1m6 0h2M211 92.5h1m5 0h1M212 93.5h1M207 94.5h1M205 95.5h1M204 96.5h1M200 97.5h2M200 98.5h1m22 0h2m2 0h1M223 99.5h1m14 0h1M219 100.5h1m4 0h1m9 0h1M129 102.5h1M128 111.5h1m2 0h1M81 116.5h1m47 0h1M74 118.5h1M67 119.5h1M66 122.5h1"/>
<path stroke="#929967" d="M213 47.5h1M202 49.5h1m4 0h1m12 0h1m18 0h1M198 50.5h2M220 51.5h1M204 55.5h1M198 57.5h1m5 0h1M203 58.5h1M200 61.5h1M196 63.5h1M195 65.5h1m2 0h2M199 68.5h1M199 73.5h1M205 74.5h1M200 76.5h2m4 0h1m1 0h1M198 77.5h1m8 0h1M205 78.5h1m1 0h1M198 81.5h1m10 0h1M205 82.5h2M201 83.5h1M203 84.5h1m4 0h1M202 85.5h1M204 87.5h1M203 89.5h1M229 98.5h1M225 100.5h1M82 104.5h1m49 0h1M129 105.5h1M85 108.5h2M84 109.5h1M82 110.5h1M129 112.5h1M91 113.5h1M129 115.5h1M93 116.5h1m34 0h1M92 118.5h1M128 120.5h1M61 121.5h2M66 123.5h1m63 0h1M67 124.5h1"/>
<path stroke="#664ef7" d="M1 63.5h1M16 65.5h1M24 66.5h1M39 67.5h1M25 72.5h1m4 0h1M49 75.5h1M8 77.5h1m21 0h1M10 78.5h1m63 0h2m2 0h1M79 80.5h1M75 82.5h1M100 85.5h1M86 86.5h1m2 0h1m2 0h1M86 87.5h1m1 0h1m3 0h1M85 88.5h1m3 0h1m4 0h1M86 90.5h1m6 0h1m8 0h1M88 96.5h1m3 0h1M108 99.5h3M103 101.5h1M109 102.5h1m6 0h1M100 103.5h1m23 0h1M115 104.5h1M112 105.5h1M108 114.5h1m7 0h1m5 0h1M125 115.5h1M106 120.5h1"/>
<path stroke="#fff" d="M0 0.5h4m10 0h4m4 0h1m19 0h4m8 0h4m3 0h1m13 0h3m3 0h25m17 0h2m19 0h2m9 0h2m9 0h3m17 0h2m38 0h1M0 1.5h4m11 0h1m6 0h1m11 0h4m6 0h1m9 0h8m7 0h5m7 0h25m3 0h1m3 0h5m5 0h5m6 0h3m7 0h2m9 0h1m3 0h3m4 0h3m3 0h3m6 0h4m1 0h2m15 0h3m3 0h2m2 0h1m7 0h1m4 0h1M0 2.5h4m4 0h23m10 0h3m13 0h4m2 0h11m7 0h3m11 0h2m7 0h1m8 0h4m2 0h6m30 0h3m1 0h3m10 0h3m28 0h3m11 0h3m1 0h1m4 0h2M0 3.5h33m12 0h4m12 0h8m11 0h4m15 0h2m6 0h4m12 0h2m1 0h2m1 0h2m1 0h1m7 0h1m4 0h1m5 0h3m8 0h3m10 0h4m1 0h1m8 0h6m4 0h2m4 0h2m10 0h5m6 0h2M7 4.5h24m7 0h2m5 0h4m11 0h4m1 0h5m15 0h2m3 0h4m1 0h3m1 0h4m13 0h4m3 0h1m2 0h3m1 0h4m6 0h1m4 0h1m5 0h3m1 0h2m5 0h4m1 0h4m4 0h4m10 0h5m3 0h2m6 0h2m11 0h4m2 0h2m2 0h2M1 5.5h12m10 0h1m3 0h1m20 0h1m5 0h9m2 0h3m10 0h3m2 0h2m1 0h6m6 0h1m1 0h4m12 0h6m1 0h4m1 0h1m4 0h4m3 0h1m12 0h3m11 0h4m8 0h5m8 0h3m1 0h1m1 0h5m2 0h6m4 0h4m5 0h2M1 6.5h12m14 0h1m1 0h5m4 0h1m2 0h5m8 0h7m11 0h2m4 0h7m2 0h8m3 0h1m24 0h8m12 0h8m10 0h4m2 0h1m2 0h1m9 0h1m1 0h2m8 0h3m1 0h1m10 0h4M1 7.5h13m9 0h4m2 0h5m12 0h3m12 0h1m1 0h4m20 0h9m2 0h4m15 0h3m4 0h3m2 0h2m6 0h7m13 0h4m3 0h2m3 0h4m7 0h4m6 0h5m5 0h4M11 8.5h1m2 0h4m9 0h2m3 0h1m2 0h2m9 0h3m3 0h4m5 0h1m2 0h2m2 0h5m7 0h1m1 0h6m3 0h3m4 0h7m14 0h2m3 0h6m9 0h1m5 0h2m9 0h5m1 0h1m1 0h2m11 0h1m2 0h4m6 0h4m6 0h4M2 9.5h3m1 0h3m2 0h1m2 0h4m2 0h4m3 0h3m2 0h1m2 0h2m8 0h2m5 0h4m6 0h4m2 0h5m7 0h1m3 0h6m1 0h3m21 0h3m1 0h2m2 0h2m5 0h1m29 0h4m6 0h1m29 0h3m1 0h16M0 10.5h3m3 0h3m5 0h2m8 0h4m2 0h1m12 0h3m5 0h9m9 0h2m1 0h3m10 0h3m7 0h4m3 0h4m3 0h3m3 0h3m5 0h1m6 0h1m8 0h4m17 0h6m4 0h1m24 0h3m2 0h2m2 0h16M0 11.5h3m8 0h7m8 0h2m2 0h5m7 0h11m3 0h2m10 0h2m14 0h3m5 0h3m9 0h3m13 0h1m7 0h1m4 0h3m3 0h4m14 0h4m1 0h4m7 0h4m18 0h3m4 0h3m27 0h3M11 12.5h7m7 0h3m2 0h5m3 0h3m1 0h9m1 0h1m15 0h2m14 0h3m8 0h1m3 0h1m1 0h2m3 0h1m13 0h1m5 0h4m1 0h1m16 0h4m2 0h5m4 0h2m18 0h4m17 0h4M4 13.5h3m18 0h4m6 0h6m1 0h5m4 0h2m14 0h1m8 0h2m17 0h1m5 0h2m51 0h3m13 0h1m2 0h3m6 0h1m21 0h1m6 0h4m3 0h2M7 14.5h4m1 0h6m2 0h4m1 0h4m7 0h2m3 0h7m2 0h5m12 0h2m7 0h2m11 0h1m25 0h4m4 0h6m1 0h3m28 0h3m2 0h11m17 0h1m2 0h3m2 0h6m1 0h2m8 0h1M2 15.5h2m8 0h8m2 0h1m1 0h2m7 0h27m1 0h1m1 0h1m10 0h1m1 0h1m1 0h5m6 0h1m1 0h3m5 0h6m1 0h23m1 0h4m6 0h2m2 0h3m7 0h3m4 0h7m2 0h9m2 0h4m3 0h2m12 0h1m2 0h4m10 0h1M0 16.5h9m2 0h7m6 0h2m6 0h28m1 0h2m4 0h8m3 0h3m5 0h4m1 0h2m3 0h3m2 0h4m1 0h19m5 0h4m10 0h3m7 0h3m3 0h1m3 0h1m10 0h4m2 0h4m7 0h4m9 0h4m5 0h3m2 0h3m2 0h1m14 0h1M3 17.5h5m4 0h1m17 0h1m1 0h2m3 0h5m12 0h11m21 0h8m16 0h3m27 0h3m22 0h4m6 0h3m14 0h4m11 0h2m2 0h2m1 0h8m2 0h1M3 18.5h24m9 0h11m8 0h10m6 0h1m18 0h4m1 0h1m38 0h2m4 0h3m3 0h2m17 0h4m1 0h3m3 0h1m29 0h3m2 0h2m1 0h6m9 0h3M4 19.5h23m3 0h2m4 0h11m6 0h1m1 0h1m14 0h4m1 0h18m1 0h3m1 0h1m1 0h2m3 0h1m3 0h1m9 0h4m11 0h2m18 0h4m12 0h2m1 0h1m1 0h7m19 0h4m1 0h1m22 0h3m7 0h1M10 20.5h4m11 0h2m1 0h4m4 0h7m2 0h1m10 0h1m18 0h18m1 0h3m12 0h1m3 0h4m2 0h4m36 0h1m10 0h2m3 0h7m3 0h3m4 0h3m7 0h6m3 0h1m6 0h4m11 0h3m3 0h1M1 21.5h3m8 0h3m3 0h5m5 0h4m4 0h5m2 0h3m6 0h2m2 0h2m16 0h21m54 0h2m9 0h4m11 0h4m25 0h4m3 0h3m3 0h5M0 22.5h4m1 0h2m2 0h3m2 0h1m3 0h2m5 0h2m9 0h2m2 0h8m3 0h26m11 0h15m27 0h4m14 0h4m9 0h3m11 0h1m6 0h1m24 0h7m19 0h4M5 23.5h1m3 0h3m13 0h2m7 0h2m3 0h1m11 0h30m1 0h3m1 0h17m45 0h4m9 0h1m1 0h2m35 0h3m6 0h4m15 0h1m7 0h2M2 24.5h2m10 0h4m1 0h3m8 0h3m14 0h2m8 0h3m6 0h5m1 0h2m1 0h4m3 0h8m12 0h1m39 0h1m32 0h4m25 0h1m2 0h4m7 0h4m6 0h1m2 0h4m1 0h2M2 25.5h3m9 0h4m1 0h3m5 0h3m8 0h4m5 0h2m8 0h3m16 0h5m3 0h1m29 0h4m32 0h1m10 0h1m13 0h4m3 0h3m13 0h4m6 0h3m7 0h2m18 0h2M3 26.5h4m20 0h3m3 0h9m4 0h2m4 0h1m11 0h4m8 0h5m5 0h1m1 0h2m4 0h3m96 0h2m3 0h5m1 0h1m3 0h4m6 0h2m18 0h2M1 27.5h1m7 0h4m15 0h1m9 0h3m5 0h2m16 0h19m52 0h1m50 0h4m11 0h2m7 0h4m20 0h4M15 28.5h4m6 0h2m19 0h1m2 0h3m1 0h7m4 0h2m2 0h15m4 0h1m44 0h4m7 0h1m26 0h4m26 0h1m22 0h4M8 29.5h4m3 0h4m5 0h2m1 0h2m3 0h20m6 0h1m5 0h2m15 0h4m2 0h1m3 0h1m35 0h3m11 0h5m5 0h3m2 0h2m1 0h1m40 0h1m6 0h1m23 0h2m1 0h2M4 30.5h3m2 0h3m3 0h1m1 0h5m5 0h2m1 0h23m3 0h4m10 0h1m3 0h1m6 0h1m4 0h3m7 0h3m28 0h3m13 0h5m8 0h2m1 0h1m33 0h4m12 0h2m17 0h3m3 0h2M1 31.5h1m15 0h2m6 0h3m2 0h23m3 0h4m9 0h1m2 0h4m2 0h7m1 0h4m4 0h3m43 0h2m7 0h2m22 0h1m5 0h1m37 0h1m10 0h3m1 0h1M7 32.5h3m15 0h3m2 0h3m17 0h3m7 0h4m3 0h3m2 0h3m4 0h1m25 0h3m43 0h3m8 0h3m6 0h2m8 0h3m18 0h1m1 0h6m5 0h1m1 0h1m14 0h1m2 0h4M16 33.5h3m3 0h6m12 0h4m16 0h2m3 0h3m10 0h2m14 0h1m10 0h3m44 0h2m8 0h3m26 0h1m3 0h1m10 0h2m7 0h1M4 34.5h3m9 0h5m3 0h4m4 0h1m11 0h4m6 0h2m1 0h2m6 0h3m4 0h1m18 0h1m2 0h1m11 0h1m71 0h2m11 0h1m3 0h1m9 0h3M5 35.5h6m21 0h1m1 0h4m18 0h4m12 0h1m18 0h1m61 0h1m19 0h1m4 0h2m5 0h4m11 0h1m2 0h1m1 0h3m9 0h3m12 0h4M7 36.5h5m22 0h4m77 0h2m34 0h3m19 0h1m7 0h1m5 0h1m7 0h2m6 0h1m5 0h1M2 37.5h5m3 0h2m2 0h10m21 0h3m28 0h3m6 0h1m3 0h4m18 0h1m15 0h2m33 0h1m6 0h1m4 0h3m6 0h1m11 0h4m1 0h1M14 38.5h10m30 0h4m8 0h4m16 0h4m15 0h3m3 0h1m8 0h4m38 0h1m20 0h3M7 39.5h5m5 0h4m42 0h4m4 0h1m1 0h4m80 0h2m3 0h3m2 0h8m5 0h2M7 40.5h2m11 0h3m4 0h2m4 0h2m26 0h2m8 0h1m1 0h4m80 0h2m25 0h1M27 41.5h4m8 0h1m147 0h1m3 0h3m10 0h2M25 42.5h1m1 0h3m55 0h2m3 0h1m8 0h1m91 0h3m6 0h3M4 43.5h1m16 0h2m2 0h1m2 0h2m47 0h4m5 0h1m1 0h4m7 0h1m62 0h2m36 0h3M4 44.5h1m5 0h2m9 0h2m4 0h3m42 0h2m3 0h6m6 0h2m70 0h2m5 0h6m23 0h2M1 45.5h2m7 0h2m3 0h1m11 0h3m13 0h1m1 0h1m8 0h3m25 0h1m6 0h1m94 0h3m4 0h1M1 46.5h1m2 0h4m7 0h1m26 0h2m136 0h1m10 0h1M1 47.5h1m5 0h3m2 0h1m5 0h1m9 0h2m156 0h2M7 48.5h3m2 0h1m2 0h2m1 0h1m10 0h1m14 0h1m7 0h4m31 0h3m104 0h2M16 49.5h4m53 0h1m3 0h3M16 50.5h3m54 0h1m106 0h4M20 51.5h3M196 52.5h4M8 53.5h2m174 0h3M8 54.5h2m189 0h1M13 55.5h3m164 0h1m7 0h2m9 0h1M12 56.5h2m166 0h1m7 0h2m9 0h1M12 57.5h2m185 0h1M197 58.5h2M195 59.5h4M183 61.5h3"/>
</g></g>
<path stroke="#d4a420" stroke-width="12.0" d="M2488.5 1608.0h4.3M2754.8 1608.0h4.3M2802.1 1608.0h4.3M2840.7 1608.0h4.3M2870.8 1608.0h4.3M2956.7 1608.0h4.3M2991.1 1608.0h4.3" fill="none"/>
<path stroke="#f070d0" stroke-width="12.0" d="M2531.4 1608.0h4.3M2535.7 1608.0h4.3M2797.8 1608.0h4.3M2827.8 1608.0h4.3M2866.5 1608.0h4.3M2892.3 1608.0h4.3M2896.6 1608.0h4.3M3055.5 1608.0h4.3M3064.1 1608.0h4.3M3068.4 1608.0h4.3M3072.7 1608.0h4.3" fill="none"/>
<path stroke="#f884f4" stroke-width="12.0" d="M2651.7 1608.0h4.3M2772.0 1608.0h4.3M2836.4 1608.0h4.3M2857.9 1608.0h4.3M2879.4 1608.0h4.3M2930.9 1608.0h4.3M2952.4 1608.0h4.3M3042.6 1608.0h4.3M3046.9 1608.0h4.3M3098.5 1608.0h4.3" fill="none"/>
<path stroke="#e04080" stroke-width="12.0" d="M2668.9 1608.0h4.3M2703.3 1608.0h4.3M2746.2 1608.0h4.3M2767.7 1608.0h4.3M2806.4 1608.0h4.3M2883.7 1608.0h4.3M2888.0 1608.0h4.3M2909.5 1608.0h4.3M2918.0 1608.0h4.3M2935.2 1608.0h4.3M2943.8 1608.0h4.3M2948.1 1608.0h4.3M2982.5 1608.0h4.3M3137.1 1608.0h4.3" fill="none"/>
<path stroke="#4038e8" stroke-width="12.0" d="M2673.2 1608.0h4.3M2763.4 1608.0h4.3M2832.1 1608.0h4.3M2849.3 1608.0h4.3M2862.2 1608.0h4.3M2969.6 1608.0h4.3M2973.9 1608.0h4.3M2995.4 1608.0h4.3M3008.3 1608.0h4.3M3012.6 1608.0h4.3M3034.0 1608.0h4.3" fill="none"/>
<path stroke="#5a8c8c" stroke-width="12.0" d="M2737.6 1608.0h4.3M2750.5 1608.0h4.3M2784.9 1608.0h4.3M2823.5 1608.0h4.3M2853.6 1608.0h4.3M2926.6 1608.0h4.3M2961.0 1608.0h4.3M3004.0 1608.0h4.3M3016.8 1608.0h4.3M3038.3 1608.0h4.3" fill="none"/>
<path stroke="#9a6cf6" stroke-width="12.0" d="M2741.9 1608.0h4.3M2814.9 1608.0h4.3M2845.0 1608.0h4.3M2913.8 1608.0h4.3M2922.3 1608.0h4.3M3025.4 1608.0h4.3M3029.7 1608.0h4.3" fill="none"/>
<path stroke="#c01830" stroke-width="12.0" d="M2780.6 1608.0h4.3M2789.2 1608.0h4.3M2793.5 1608.0h4.3M2810.7 1608.0h4.3M2819.2 1608.0h4.3M2875.1 1608.0h4.3M2965.3 1608.0h4.3M3021.1 1608.0h4.3M3059.8 1608.0h4.3M3077.0 1608.0h4.3" fill="none"/>
<path stroke="#d08808" stroke-width="12.0" d="M2900.9 1608.0h4.3M2978.2 1608.0h4.3M2986.8 1608.0h4.3M2999.7 1608.0h4.3M3051.2 1608.0h4.3" fill="none"/>
<path stroke="#c01830" stroke-width="9.0" d="M2484.2 1618.5h4.3M2845.0 1618.5h4.3M2875.1 1618.5h4.3M2900.9 1618.5h4.3M2926.6 1618.5h4.3M2969.6 1618.5h4.3" fill="none"/>
<path stroke="#5a8c8c" stroke-width="9.0" d="M2488.5 1618.5h4.3M2836.4 1618.5h4.3M2918.0 1618.5h4.3M2939.5 1618.5h4.3M2948.1 1618.5h4.3M3102.8 1618.5h4.3M3137.1 1618.5h4.3" fill="none"/>
<path stroke="#4038e8" stroke-width="9.0" d="M2535.7 1618.5h4.3M2746.2 1618.5h4.3M2879.4 1618.5h4.3M2952.4 1618.5h4.3M3132.8 1618.5h4.3" fill="none"/>
<path stroke="#d08808" stroke-width="9.0" d="M2720.4 1618.5h4.3M2759.1 1618.5h4.3M2909.5 1618.5h4.3M2943.8 1618.5h4.3M2973.9 1618.5h4.3M3034.0 1618.5h4.3" fill="none"/>
<path stroke="#f884f4" stroke-width="9.0" d="M2729.0 1618.5h4.3M2866.5 1618.5h4.3M2888.0 1618.5h4.3M2956.7 1618.5h4.3M2965.3 1618.5h4.3M3008.3 1618.5h4.3" fill="none"/>
<path stroke="#f070d0" stroke-width="9.0" d="M2737.6 1618.5h4.3M2840.7 1618.5h4.3M2930.9 1618.5h4.3M3029.7 1618.5h4.3" fill="none"/>
<path stroke="#9a6cf6" stroke-width="9.0" d="M2754.8 1618.5h4.3M2862.2 1618.5h4.3M2961.0 1618.5h4.3M3021.1 1618.5h4.3" fill="none"/>
<path stroke="#e04080" stroke-width="9.0" d="M2827.8 1618.5h4.3M2832.1 1618.5h4.3M2883.7 1618.5h4.3M3012.6 1618.5h4.3M3025.4 1618.5h4.3" fill="none"/>
<path stroke="#d4a420" stroke-width="9.0" d="M2853.6 1618.5h4.3M2922.3 1618.5h4.3M3038.3 1618.5h4.3M3085.6 1618.5h4.3M3094.2 1618.5h4.3" fill="none"/>
<text x="2138.00" y="1713.90" font-size="52.50" text-anchor="middle" textLength="31.81" lengthAdjust="spacingAndGlyphs" fill="#262626">0</text>
<text x="2266.88" y="1713.90" font-size="52.50" text-anchor="middle" textLength="31.81" lengthAdjust="spacingAndGlyphs" fill="#262626">3</text>
<text x="2395.75" y="1713.90" font-size="52.50" text-anchor="middle" textLength="31.81" lengthAdjust="spacingAndGlyphs" fill="#262626">6</text>
<text x="2524.62" y="1713.90" font-size="52.50" text-anchor="middle" textLength="31.81" lengthAdjust="spacingAndGlyphs" fill="#262626">9</text>
<text x="2653.50" y="1713.90" font-size="52.50" text-anchor="middle" textLength="63.62" lengthAdjust="spacingAndGlyphs" fill="#262626">12</text>
<text x="2782.38" y="1713.90" font-size="52.50" text-anchor="middle" textLength="63.62" lengthAdjust="spacingAndGlyphs" fill="#262626">15</text>
<text x="2911.25" y="1713.90" font-size="52.50" text-anchor="middle" textLength="63.62" lengthAdjust="spacingAndGlyphs" fill="#262626">18</text>
<text x="3040.12" y="1713.90" font-size="52.50" text-anchor="middle" textLength="63.62" lengthAdjust="spacingAndGlyphs" fill="#262626">21</text>
<text x="2117.00" y="1665.40" font-size="52.50" text-anchor="end" textLength="31.81" lengthAdjust="spacingAndGlyphs" fill="#262626">0</text>
<text x="2117.00" y="1530.31" font-size="52.50" text-anchor="end" textLength="79.52" lengthAdjust="spacingAndGlyphs" fill="#262626">0.2</text>
<text x="2117.00" y="1395.22" font-size="52.50" text-anchor="end" textLength="79.52" lengthAdjust="spacingAndGlyphs" fill="#262626">0.4</text>
<text x="2117.00" y="1260.13" font-size="52.50" text-anchor="end" textLength="79.52" lengthAdjust="spacingAndGlyphs" fill="#262626">0.6</text>
<text x="2117.00" y="1125.04" font-size="52.50" text-anchor="end" textLength="79.52" lengthAdjust="spacingAndGlyphs" fill="#262626">0.8</text>
<text x="2117.00" y="989.95" font-size="52.50" text-anchor="end" textLength="31.81" lengthAdjust="spacingAndGlyphs" fill="#262626">1</text>
<text x="2117.00" y="854.86" font-size="52.50" text-anchor="end" textLength="79.52" lengthAdjust="spacingAndGlyphs" fill="#262626">1.2</text>
<text x="2117.00" y="719.77" font-size="52.50" text-anchor="end" textLength="79.52" lengthAdjust="spacingAndGlyphs" fill="#262626">1.4</text>
<text x="2117.00" y="584.68" font-size="52.50" text-anchor="end" textLength="79.52" lengthAdjust="spacingAndGlyphs" fill="#262626">1.6</text>
<text x="2117.00" y="449.59" font-size="52.50" text-anchor="end" textLength="79.52" lengthAdjust="spacingAndGlyphs" fill="#262626">1.8</text>
<text x="2117.00" y="314.50" font-size="52.50" text-anchor="end" textLength="31.81" lengthAdjust="spacingAndGlyphs" fill="#262626">2</text>
<text x="2008.90" y="973.95" font-size="57.75" text-anchor="middle" textLength="455.04" lengthAdjust="spacingAndGlyphs" transform="rotate(-90 2008.90 973.95)" fill="#262626">Height [km AGL]</text>
<text x="2656.00" y="269.90" font-size="57.75" text-anchor="middle" font-weight="bold" textLength="786.12" lengthAdjust="spacingAndGlyphs" fill="#000">Wind Direction 20230719</text>
<defs><linearGradient id="cb1650_0" x1="0" y1="1" x2="0" y2="0">
<stop offset="0.0000" stop-color="#f884f4"/>
<stop offset="0.0306" stop-color="#f878e0"/>
<stop offset="0.0611" stop-color="#f86cc8"/>
<stop offset="0.0944" stop-color="#f05ca8"/>
<stop offset="0.1250" stop-color="#e84888"/>
<stop offset="0.1556" stop-color="#dc3a70"/>
<stop offset="0.1861" stop-color="#d02a50"/>
<stop offset="0.2194" stop-color="#c41c38"/>
<stop offset="0.2500" stop-color="#b81624"/>
<stop offset="0.2806" stop-color="#b01c18"/>
<stop offset="0.3111" stop-color="#b03008"/>
<stop offset="0.3444" stop-color="#b84408"/>
<stop offset="0.3750" stop-color="#c85a08"/>
<stop offset="0.4056" stop-color="#c86e08"/>
<stop offset="0.4361" stop-color="#d08808"/>
<stop offset="0.4667" stop-color="#d89a10"/>
<stop offset="0.5000" stop-color="#d4a420"/>
<stop offset="0.5278" stop-color="#c4a83a"/>
<stop offset="0.5611" stop-color="#a8a050"/>
<stop offset="0.5917" stop-color="#8a9670"/>
<stop offset="0.6250" stop-color="#5a8c8c"/>
<stop offset="0.6556" stop-color="#3880a0"/>
<stop offset="0.6861" stop-color="#2070c0"/>
<stop offset="0.7167" stop-color="#2c58d0"/>
<stop offset="0.7500" stop-color="#4038e8"/>
<stop offset="0.8111" stop-color="#6a50f8"/>
<stop offset="0.8750" stop-color="#9a6cf6"/>
<stop offset="0.9361" stop-color="#c87cf0"/>
<stop offset="1.0000" stop-color="#f884f4"/>
</linearGradient></defs>
<rect x="3212.30" y="298.50" width="83.20" height="1350.90" fill="url(#cb1650_0)" stroke="#262626" stroke-width="1.3"/>
<text x="3315.00" y="1663.90" font-size="47.25" text-anchor="start" textLength="28.63" lengthAdjust="spacingAndGlyphs" fill="#262626">0</text>
<text x="3315.00" y="1495.04" font-size="47.25" text-anchor="start" textLength="57.26" lengthAdjust="spacingAndGlyphs" fill="#262626">45</text>
<text x="3315.00" y="1326.18" font-size="47.25" text-anchor="start" textLength="57.26" lengthAdjust="spacingAndGlyphs" fill="#262626">90</text>
<text x="3315.00" y="1157.31" font-size="47.25" text-anchor="start" textLength="85.89" lengthAdjust="spacingAndGlyphs" fill="#262626">135</text>
<text x="3315.00" y="988.45" font-size="47.25" text-anchor="start" textLength="85.89" lengthAdjust="spacingAndGlyphs" fill="#262626">180</text>
<text x="3315.00" y="819.59" font-size="47.25" text-anchor="start" textLength="85.89" lengthAdjust="spacingAndGlyphs" fill="#262626">225</text>
<text x="3315.00" y="650.73" font-size="47.25" text-anchor="start" textLength="85.89" lengthAdjust="spacingAndGlyphs" fill="#262626">270</text>
<text x="3315.00" y="481.86" font-size="47.25" text-anchor="start" textLength="85.89" lengthAdjust="spacingAndGlyphs" fill="#262626">315</text>
<text x="3315.00" y="313.00" font-size="47.25" text-anchor="start" textLength="85.89" lengthAdjust="spacingAndGlyphs" fill="#262626">360</text>
<path d="M3295.50 1480.54h-14M3295.50 1311.68h-14M3295.50 1142.81h-14M3295.50 973.95h-14M3295.50 805.09h-14M3295.50 636.23h-14M3295.50 467.36h-14" stroke="#262626" stroke-width="1.3" fill="none"/>
<text x="3461.30" y="973.95" font-size="47.25" text-anchor="middle" textLength="337.52" lengthAdjust="spacingAndGlyphs" transform="rotate(-90 3461.30 973.95)" fill="#262626">Direction [deg]</text>
<path d="M619.38 2174.50V3525.40M748.25 2174.50V3525.40M877.12 2174.50V3525.40M1006.00 2174.50V3525.40M1134.88 2174.50V3525.40M1263.75 2174.50V3525.40M1392.62 2174.50V3525.40M490.50 3390.31H1521.50M490.50 3255.22H1521.50M490.50 3120.13H1521.50M490.50 2985.04H1521.50M490.50 2849.95H1521.50M490.50 2714.86H1521.50M490.50 2579.77H1521.50M490.50 2444.68H1521.50M490.50 2309.59H1521.50M490.50 2174.50H1521.50" stroke="#dedede" stroke-width="1.2" fill="none"/>
<path d="M490.50 2174.50V3525.40H1521.50 M490.50 3525.40v-14M619.38 3525.40v-14M748.25 3525.40v-14M877.12 3525.40v-14M1006.00 3525.40v-14M1134.88 3525.40v-14M1263.75 3525.40v-14M1392.62 3525.40v-14M490.50 3525.40h14M490.50 3390.31h14M490.50 3255.22h14M490.50 3120.13h14M490.50 2985.04h14M490.50 2849.95h14M490.50 2714.86h14M490.50 2579.77h14M490.50 2444.68h14M490.50 2309.59h14M490.50 2174.50h14" stroke="#262626" stroke-width="1.3" fill="none"/>
<defs><clipPath id="clipf3"><rect x="491.90" y="2174.00" width="1029.60" height="1344.65"/></clipPath>
<filter id="f3" x="-10%" y="-10%" width="120%" height="120%"><feGaussianBlur stdDeviation="1.2"/></filter></defs>
<g clip-path="url(#clipf3)"><g filter="url(#f3)">
<rect x="440.5" y="2124.5" width="265.3" height="84.3" fill="#f2f2ff"/>
<rect x="705.3" y="2124.5" width="876.7" height="84.3" fill="#f7f7ff"/>
<rect x="440.5" y="2208.3" width="265.3" height="34.3" fill="#efefff"/>
<rect x="705.3" y="2208.3" width="876.7" height="34.3" fill="#f5f5ff"/>
<rect x="440.5" y="2242.0" width="308.2" height="34.3" fill="#efefff"/>
<rect x="748.2" y="2242.0" width="833.8" height="34.3" fill="#f7f7ff"/>
<rect x="440.5" y="2275.8" width="308.2" height="34.3" fill="#f2f2ff"/>
<rect x="748.2" y="2275.8" width="833.8" height="34.3" fill="#f9f9ff"/>
<rect x="440.5" y="2309.6" width="351.2" height="34.3" fill="#e2e2ff"/>
<rect x="791.2" y="2309.6" width="790.8" height="34.3" fill="#f2f2ff"/>
<rect x="440.5" y="2343.4" width="351.2" height="34.3" fill="#f2f2ff"/>
<rect x="791.2" y="2343.4" width="790.8" height="34.3" fill="#f9f9ff"/>
<rect x="440.5" y="2377.1" width="437.1" height="24.1" fill="#e9e9ff"/>
<rect x="877.1" y="2377.1" width="704.9" height="24.1" fill="#f5f5ff"/>
<rect x="440.5" y="2400.8" width="222.3" height="20.8" fill="#8080ff"/>
<rect x="662.3" y="2400.8" width="129.4" height="20.8" fill="#a6a6ff"/>
<rect x="791.2" y="2400.8" width="215.3" height="20.8" fill="#dfdfff"/>
<rect x="1006.0" y="2400.8" width="576.0" height="20.8" fill="#f2f2ff"/>
<rect x="440.5" y="2421.0" width="737.8" height="24.1" fill="#dfdfff"/>
<rect x="1177.8" y="2421.0" width="404.2" height="24.1" fill="#f9f9ff"/>
<rect x="440.5" y="2444.7" width="351.2" height="34.3" fill="#e9e9ff"/>
<rect x="791.2" y="2444.7" width="790.8" height="34.3" fill="#f7f7ff"/>
<rect x="440.5" y="2478.5" width="351.2" height="20.8" fill="#ececff"/>
<rect x="791.2" y="2478.5" width="790.8" height="20.8" fill="#f9f9ff"/>
<rect x="440.5" y="2498.7" width="351.2" height="17.4" fill="#dfdfff"/>
<rect x="791.2" y="2498.7" width="790.8" height="17.4" fill="#ffd9d9"/>
<rect x="440.5" y="2515.6" width="351.2" height="24.1" fill="#e9e9ff"/>
<rect x="791.2" y="2515.6" width="790.8" height="24.1" fill="#f9f9ff"/>
<rect x="440.5" y="2539.2" width="480.1" height="17.4" fill="#9999ff"/>
<rect x="920.1" y="2539.2" width="661.9" height="17.4" fill="#f9f9ff"/>
<rect x="440.5" y="2556.1" width="480.1" height="24.1" fill="#efefff"/>
<rect x="920.1" y="2556.1" width="661.9" height="24.1" fill="#fff9f9"/>
<rect x="440.5" y="2579.8" width="1141.5" height="34.3" fill="#f5f5ff"/>
<rect x="440.5" y="2613.5" width="394.2" height="20.8" fill="#dfdfff"/>
<rect x="834.2" y="2613.5" width="747.8" height="20.8" fill="#f7f7ff"/>
<rect x="440.5" y="2633.8" width="394.2" height="14.0" fill="#f2f2ff"/>
<rect x="834.2" y="2633.8" width="747.8" height="14.0" fill="#ffe9e9"/>
<rect x="440.5" y="2647.3" width="1141.5" height="34.3" fill="#fafaff"/>
<rect x="440.5" y="2681.1" width="1141.5" height="34.3" fill="#f7f7ff"/>
<rect x="440.5" y="2714.9" width="1141.5" height="68.0" fill="#fcfcff"/>
<rect x="440.5" y="2782.4" width="1141.5" height="34.3" fill="#fffcfc"/>
<rect x="440.5" y="2816.2" width="1141.5" height="47.8" fill="#fcfcff"/>
<rect x="440.5" y="2863.5" width="566.0" height="17.4" fill="#e6e6ff"/>
<rect x="1006.0" y="2863.5" width="576.0" height="17.4" fill="#fcfcff"/>
<rect x="440.5" y="2880.3" width="1141.5" height="37.6" fill="#fffcfc"/>
<rect x="440.5" y="2917.5" width="1141.5" height="68.0" fill="#fffcfc"/>
<rect x="440.5" y="2985.0" width="1141.5" height="68.0" fill="#ffffff"/>
<rect x="440.5" y="3052.6" width="1141.5" height="68.0" fill="#fffcfc"/>
<rect x="440.5" y="3120.1" width="1141.5" height="34.3" fill="#fff5f5"/>
<rect x="440.5" y="3153.9" width="1141.5" height="34.3" fill="#fff9f9"/>
<rect x="440.5" y="3187.7" width="1141.5" height="68.0" fill="#ffefef"/>
<rect x="440.5" y="3255.2" width="1141.5" height="68.0" fill="#ffecec"/>
<rect x="440.5" y="3322.8" width="1141.5" height="68.0" fill="#fff1f1"/>
<rect x="440.5" y="3390.3" width="1141.5" height="34.3" fill="#fff7f7"/>
<rect x="440.5" y="3424.1" width="1141.5" height="47.8" fill="#fffdfd"/>
<rect x="440.5" y="3471.4" width="1141.5" height="60.6" fill="#0606ff"/>
<rect x="440.5" y="3481.5" width="1141.5" height="67.4" fill="#dcdcff"/>
<rect x="440.5" y="3498.4" width="1141.5" height="77.5" fill="#f7f7ff"/>
</g></g>
<defs><filter id="p3n" x="490.5" y="2174.5" width="1031.0" height="1350.9" filterUnits="userSpaceOnUse" color-interpolation-filters="sRGB">
<feTurbulence type="fractalNoise" baseFrequency="0.42 0.05" numOctaves="2" seed="7" result="n"/>
<feColorMatrix in="n" type="matrix" values="0 0 0 0 1 0 0 0 0 0 0 0 0 0 0 2.6 0 0 0 -1.2" result="r"/>
<feColorMatrix in="n" type="matrix" values="0 0 0 0 0 0 0 0 0 0 0 0 0 0 1 0 2.6 0 0 -1.28" result="b"/>
<feMerge><feMergeNode in="r"/><feMergeNode in="b"/></feMerge></filter>
<linearGradient id="p3g" x1="0" y1="0" x2="0" y2="1"><stop offset="0" stop-color="#fff" stop-opacity="0.42"/><stop offset="0.3" stop-color="#fff" stop-opacity="0.32"/><stop offset="0.5" stop-color="#fff" stop-opacity="0.18"/><stop offset="0.68" stop-color="#fff" stop-opacity="0.08"/><stop offset="0.85" stop-color="#fff" stop-opacity="0.03"/><stop offset="1" stop-color="#fff" stop-opacity="0.02"/></linearGradient><linearGradient id="p3g2" x1="0" y1="0" x2="0" y2="1"><stop offset="0" stop-color="#fff" stop-opacity="0.35"/><stop offset="0.25" stop-color="#fff" stop-opacity="0.25"/><stop offset="0.45" stop-color="#fff" stop-opacity="0"/></linearGradient>
<mask id="p3m" maskUnits="userSpaceOnUse" x="490.5" y="2174.5" width="1031.0" height="1350.9"><rect x="490.5" y="2174.5" width="1031.0" height="1350.9" fill="url(#p3g)"/><rect x="490.5" y="2174.5" width="365.1" height="1350.9" fill="url(#p3g2)"/></mask></defs>
<g clip-path="url(#clipf3)" mask="url(#p3m)"><rect x="490.5" y="2174.5" width="1031.0" height="1350.9" filter="url(#p3n)"/></g>
<g clip-path="url(#clipf3)"><g transform="translate(490.50 2174.50) scale(1.43194 10.39154)" fill="none" stroke-width="1.02">
<path stroke="#4d4dff" d="M0.5 0v1M2.5 19v1M4.5 8v1M5.5 16v1M5.5 24v1M6.5 4v2M13.5 0v3M17.5 23v2M22.5 6v1M23.5 31v1M25.5 12v1M34.5 28v3M40.5 4v2M41.5 18v2M41.5 19v2M45.5 0v3M46.5 3v1M49.5 22v2M51.5 5v3M67.5 33v2M71.5 27v2M76.5 31v1M79.5 1v1M83.5 1v3M83.5 5v1M85.5 2v1M89.5 19v1M89.5 25v1M93.5 17v1M95.5 24v2M96.5 26v1M99.5 0v1M99.5 19v1M106.5 15v1M116.5 29v1M117.5 3v1M128.5 18v1M128.5 25v2M132.5 16v1M135.5 5v1M140.5 21v1M140.5 32v1M150.5 22v1M152.5 17v2M158.5 4v3M158.5 13v1M158.5 15v1M160.5 22v1M166.5 25v2M169.5 32v2M171.5 10v1M171.5 14v3M173.5 12v3M174.5 0v1M181.5 16v2M184.5 7v1M198.5 19v1M203.5 16v1M206.5 13v1M212.5 14v3M216.5 26v1M219.5 31v2M227.5 22v1M229.5 11v1M231.5 24v3M235.5 31v1M236.5 0v1M243.5 21v1M250.5 17v3M279.5 8v1M281.5 3v1M293.5 24v1M312.5 15v2M320.5 10v3M320.5 14v1M321.5 13v1M328.5 10v3M334.5 14v1M340.5 27v1M351.5 28v2M357.5 24v2M384.5 5v1M389.5 1v1M389.5 18v1M396.5 15v1M403.5 14v3M418.5 27v1M426.5 14v1M430.5 0v1M438.5 11v2M441.5 7v2M444.5 8v3M447.5 3v1M450.5 31v2M456.5 19v3M459.5 0v1M471.5 20v1M479.5 17v3M500.5 3v1M501.5 2v3M512.5 19v3M544.5 6v5M577.5 7v5M664.5 27v3M668.5 28v5M671.5 23v3M693.5 23v2M696.5 3v2M702.5 36v5M705.5 33v5M715.5 36v4"/>
<path stroke="#ff8c8c" d="M3.5 36v1M4.5 18v3M6.5 12v3M8.5 0v1M8.5 3v1M8.5 12v1M9.5 18v2M12.5 4v1M12.5 15v1M12.5 24v1M12.5 35v3M13.5 29v1M13.5 32v1M15.5 0v1M15.5 15v1M15.5 31v3M16.5 2v1M16.5 4v1M17.5 26v1M18.5 8v2M19.5 20v1M21.5 31v1M22.5 11v1M24.5 18v3M25.5 9v3M26.5 18v1M28.5 11v1M30.5 15v2M31.5 6v1M33.5 32v1M34.5 33v1M35.5 18v1M36.5 32v1M37.5 8v2M37.5 12v1M40.5 0v1M40.5 7v1M41.5 23v3M41.5 30v1M42.5 10v1M43.5 9v2M43.5 33v3M45.5 15v1M48.5 5v1M49.5 25v2M49.5 28v3M50.5 27v2M51.5 11v1M52.5 0v2M53.5 25v1M54.5 11v2M55.5 29v1M56.5 9v2M56.5 30v1M57.5 10v2M58.5 17v1M60.5 9v1M68.5 12v1M70.5 12v1M73.5 26v2M74.5 29v3M76.5 16v1M77.5 5v1M77.5 20v2M78.5 30v3M80.5 20v1M81.5 13v1M85.5 7v1M85.5 8v1M85.5 36v1M86.5 1v1M88.5 13v1M90.5 2v1M92.5 11v2M93.5 5v1M93.5 7v1M94.5 21v1M97.5 3v3M100.5 27v1M100.5 34v1M103.5 10v3M106.5 18v3M108.5 15v1M112.5 2v1M112.5 20v2M112.5 24v3M114.5 32v2M115.5 17v1M117.5 1v1M117.5 27v1M118.5 4v1M119.5 30v1M120.5 0v3M120.5 2v1M122.5 15v3M124.5 11v2M125.5 5v1M126.5 17v2M126.5 30v1M130.5 21v2M132.5 1v2M132.5 13v1M135.5 6v1M135.5 10v1M139.5 15v1M140.5 13v1M142.5 20v1M144.5 22v1M146.5 6v1M146.5 27v3M147.5 25v2M148.5 9v1M148.5 11v1M152.5 3v2M152.5 29v3M153.5 1v2M156.5 19v1M156.5 28v1M158.5 7v3M159.5 14v1M160.5 28v1M161.5 6v1M165.5 5v1M166.5 13v3M168.5 1v1M168.5 25v1M168.5 34v3M169.5 24v1M169.5 28v2M172.5 22v2M172.5 37v1M173.5 1v1M173.5 32v1M174.5 23v1M175.5 42v3M176.5 22v3M177.5 29v1M180.5 5v3M182.5 25v1M185.5 44v1M186.5 17v1M187.5 22v1M188.5 25v1M192.5 2v1M192.5 18v1M193.5 24v3M193.5 33v3M197.5 21v1M198.5 33v1M199.5 13v1M200.5 32v1M201.5 27v1M201.5 28v2M202.5 12v1M205.5 31v3M213.5 0v3M213.5 26v1M216.5 0v1M216.5 8v1M222.5 34v1M225.5 32v1M229.5 29v1M231.5 29v1M232.5 28v1M237.5 18v1M246.5 11v3M255.5 14v3M260.5 0v3M264.5 39v2M267.5 20v2M275.5 8v1M278.5 36v1M285.5 12v3M290.5 25v1M293.5 25v3M296.5 0v1M298.5 11v1M316.5 11v1M318.5 20v2M321.5 35v3M324.5 38v2M329.5 26v2M330.5 13v3M331.5 14v1M340.5 1v1M345.5 13v1M346.5 4v2M350.5 33v1M355.5 8v2M356.5 40v1M362.5 18v2M362.5 23v3M364.5 16v2M376.5 6v2M382.5 15v3M388.5 10v1M391.5 5v2M398.5 14v3M398.5 25v1M412.5 38v1M423.5 22v1M426.5 21v1M429.5 29v1M429.5 30v3M442.5 31v1M444.5 32v1M454.5 40v3M455.5 4v1M459.5 27v1M463.5 6v1M466.5 2v1M466.5 27v2M468.5 25v1M483.5 17v2M492.5 1v1M513.5 17v1M516.5 0v5M525.5 36v3M529.5 14v3M535.5 29v1M536.5 1v4M541.5 3v3M545.5 1v5M546.5 3v4M546.5 4v4M546.5 9v1M548.5 0v3M551.5 37v1M552.5 3v2M552.5 19v3M552.5 31v1M556.5 12v3M556.5 33v2M557.5 9v4M557.5 16v3M559.5 7v4M563.5 8v2M565.5 6v3M569.5 8v4M571.5 6v3M572.5 3v5M575.5 5v4M575.5 6v3M576.5 11v5M577.5 26v1M579.5 5v5M580.5 14v5M583.5 9v2M584.5 26v3M586.5 13v5M589.5 20v3M590.5 14v4M591.5 13v3M592.5 21v1M594.5 7v1M594.5 12v2M594.5 26v1M599.5 26v1M602.5 14v3M602.5 20v1M603.5 16v2M610.5 13v3M610.5 15v2M612.5 12v5M612.5 24v2M613.5 21v3M613.5 29v1M614.5 20v2M615.5 17v2M617.5 19v5M620.5 1v2M621.5 10v1M621.5 21v4M622.5 4v3M625.5 0v2M626.5 23v5M628.5 1v1M629.5 20v4M630.5 22v5M633.5 12v2M634.5 19v4M634.5 22v2M634.5 25v2M638.5 25v4M639.5 23v3M640.5 22v5M644.5 21v2M644.5 26v2M646.5 26v3M655.5 32v1M655.5 37v1M657.5 24v4M657.5 30v2M659.5 27v3M664.5 24v5M665.5 28v5M666.5 31v5M666.5 37v1M670.5 24v1M670.5 32v5M672.5 29v3M672.5 31v4M673.5 27v2M676.5 31v4M676.5 35v5M680.5 24v3M681.5 32v4M682.5 4v3M686.5 9v1M688.5 31v5M688.5 40v3M689.5 32v3M691.5 26v3M691.5 38v1M693.5 39v1M694.5 5v3M696.5 31v4M697.5 21v2M697.5 26v1M698.5 35v2M699.5 19v3M701.5 35v4M702.5 30v1M704.5 32v2M705.5 30v1M705.5 37v4M707.5 34v5M713.5 25v1M715.5 34v5M715.5 35v3M716.5 27v1M716.5 37v4M717.5 11v1"/>
<path stroke="#dfdfff" d="M1.5 37v1M2.5 5v1M2.5 26v2M3.5 33v1M3.5 37v2M9.5 35v3M12.5 30v2M13.5 20v2M15.5 28v1M17.5 35v2M18.5 10v1M19.5 0v3M23.5 1v2M23.5 40v1M31.5 7v3M33.5 12v1M33.5 43v2M34.5 15v2M35.5 36v3M37.5 1v1M37.5 10v2M38.5 29v1M38.5 33v1M38.5 34v3M42.5 28v1M43.5 34v3M44.5 38v1M46.5 26v1M46.5 29v1M47.5 11v2M52.5 18v1M52.5 26v1M54.5 73v2M55.5 34v1M56.5 35v1M56.5 37v1M59.5 46v2M64.5 32v2M64.5 35v1M65.5 37v1M65.5 89v1M68.5 6v3M73.5 41v1M77.5 33v1M78.5 2v1M82.5 17v1M85.5 6v1M86.5 37v1M87.5 16v2M87.5 23v3M87.5 42v1M88.5 18v3M90.5 9v1M91.5 57v2M92.5 4v1M93.5 67v2M94.5 11v1M95.5 35v1M95.5 42v2M96.5 15v1M98.5 29v1M101.5 7v1M102.5 12v1M105.5 39v2M110.5 43v3M111.5 16v1M113.5 11v1M114.5 15v1M119.5 38v1M125.5 23v1M128.5 8v1M128.5 23v2M129.5 36v1M133.5 22v1M135.5 38v1M136.5 18v3M137.5 16v3M139.5 28v3M141.5 19v3M141.5 53v2M142.5 34v2M149.5 37v2M150.5 31v1M151.5 9v1M152.5 13v3M152.5 65v1M153.5 10v1M153.5 34v1M153.5 41v3M154.5 40v2M155.5 32v2M156.5 4v1M159.5 5v3M159.5 35v1M160.5 1v1M160.5 42v1M162.5 1v2M163.5 25v3M164.5 14v1M166.5 37v2M166.5 40v3M167.5 53v1M168.5 33v1M172.5 7v3M173.5 34v1M173.5 57v1M175.5 1v1M180.5 17v1M181.5 29v2M183.5 24v3M185.5 11v3M186.5 70v2M189.5 34v1M190.5 7v1M190.5 33v1M190.5 37v3M191.5 21v3M192.5 14v3M193.5 10v3M193.5 44v3M194.5 9v1M194.5 34v1M198.5 26v1M203.5 28v1M205.5 25v1M207.5 20v2M208.5 31v1M208.5 58v1M210.5 26v1M217.5 39v3M220.5 30v3M220.5 37v1M224.5 64v2M225.5 31v3M226.5 61v3M227.5 26v1M234.5 36v1M234.5 38v3M236.5 16v1M239.5 29v3M245.5 23v1M245.5 28v2M245.5 40v2M254.5 87v1M258.5 6v1M262.5 45v1M265.5 41v1M273.5 33v1M274.5 11v3M279.5 90v1M288.5 87v1M290.5 3v1M291.5 26v1M297.5 27v3M298.5 6v1M308.5 15v1M310.5 12v3M311.5 24v1M312.5 53v3M318.5 63v1M320.5 1v2M322.5 45v1M328.5 8v1M337.5 44v1M359.5 17v1M360.5 51v2M371.5 18v2M373.5 28v2M377.5 69v3M378.5 10v2M380.5 69v3M389.5 17v1M391.5 2v1M394.5 78v1M397.5 2v1M398.5 31v1M399.5 18v1M405.5 86v1M414.5 21v1M414.5 64v2M415.5 44v1M420.5 29v1M424.5 72v1M427.5 32v2M441.5 40v1M450.5 3v1M452.5 44v3M454.5 71v1M458.5 53v1M473.5 31v1M474.5 49v1M480.5 24v1M482.5 12v1M487.5 18v1M487.5 36v3M511.5 41v2M511.5 49v2M526.5 75v2M534.5 18v1M538.5 60v1M543.5 82v3M549.5 44v3M551.5 61v1M554.5 56v1M556.5 6v4M562.5 9v5M564.5 3v3M565.5 39v1M565.5 53v3M566.5 20v1M580.5 12v4M607.5 81v1M610.5 56v3M619.5 14v3M619.5 50v2M622.5 22v2M623.5 50v1M629.5 25v3M633.5 61v1M639.5 56v1M643.5 83v2M655.5 17v3M656.5 64v3M662.5 63v2M664.5 31v2M666.5 35v3M669.5 19v1M670.5 29v3M679.5 34v2M683.5 48v1M691.5 32v2M692.5 36v3M695.5 26v2M698.5 42v1M712.5 23v1"/>
<path stroke="#8c8cff" d="M2.5 44v1M3.5 9v1M6.5 22v1M7.5 11v2M10.5 11v1M14.5 36v3M16.5 17v3M17.5 28v3M18.5 24v2M19.5 17v2M19.5 19v1M21.5 0v1M22.5 35v1M24.5 28v1M29.5 26v1M30.5 33v1M32.5 38v3M34.5 26v1M34.5 40v3M37.5 31v1M40.5 8v1M40.5 25v3M41.5 37v1M42.5 12v1M45.5 37v1M46.5 34v2M47.5 13v1M48.5 33v3M50.5 16v2M51.5 22v1M51.5 31v2M53.5 3v1M55.5 12v2M55.5 14v1M55.5 15v1M58.5 23v1M60.5 23v1M62.5 3v2M62.5 7v1M62.5 9v1M67.5 23v1M68.5 7v1M69.5 15v1M69.5 16v3M77.5 27v1M77.5 38v1M78.5 10v3M83.5 9v1M83.5 11v1M84.5 31v3M85.5 33v1M86.5 20v1M88.5 35v2M91.5 17v3M92.5 35v2M93.5 33v2M94.5 8v1M94.5 12v3M94.5 15v1M94.5 16v1M95.5 20v2M96.5 12v1M98.5 13v1M98.5 37v3M100.5 2v3M101.5 22v1M102.5 37v2M105.5 2v1M106.5 6v1M108.5 32v3M110.5 7v2M110.5 28v1M111.5 9v2M113.5 16v1M119.5 17v1M121.5 1v2M123.5 1v1M123.5 4v1M126.5 28v1M127.5 0v2M130.5 41v1M131.5 26v1M132.5 20v1M132.5 45v1M134.5 19v1M135.5 33v3M136.5 9v3M138.5 24v2M138.5 29v3M141.5 9v1M143.5 15v1M144.5 33v3M150.5 4v1M154.5 30v1M154.5 37v3M161.5 23v1M163.5 28v1M164.5 34v1M165.5 15v1M170.5 18v1M175.5 38v1M179.5 30v3M182.5 33v3M184.5 16v3M185.5 15v1M187.5 37v2M189.5 19v3M191.5 24v1M193.5 7v1M194.5 30v2M200.5 38v1M211.5 30v1M214.5 36v2M217.5 32v1M218.5 29v1M220.5 24v3M226.5 34v1M236.5 22v1M248.5 18v3M248.5 23v1M254.5 29v1M256.5 4v1M260.5 29v1M262.5 7v3M266.5 31v1M268.5 32v1M273.5 12v2M279.5 29v1M283.5 21v2M291.5 10v1M291.5 12v3M299.5 25v2M315.5 12v3M319.5 0v2M323.5 30v3M325.5 0v1M325.5 34v3M330.5 3v1M349.5 6v1M371.5 15v1M377.5 0v1M388.5 29v1M392.5 0v1M428.5 7v1M432.5 2v1M436.5 30v3M444.5 5v3M444.5 13v1M444.5 16v3M451.5 30v2M456.5 26v1M481.5 18v1M485.5 30v1M516.5 23v1M531.5 7v1M532.5 2v5M548.5 6v3M551.5 0v3M580.5 8v4M582.5 12v4M585.5 9v2M585.5 10v3M592.5 15v2M609.5 30v3M612.5 18v2M621.5 35v1M623.5 16v4M625.5 19v3M638.5 19v5M641.5 23v3M647.5 15v1M684.5 43v1M685.5 34v2M696.5 37v3M705.5 21v1"/>
<path stroke="#ff4d4d" d="M0.5 26v2M2.5 13v3M3.5 21v2M5.5 21v1M7.5 19v1M7.5 21v1M8.5 26v1M9.5 10v1M10.5 3v3M15.5 6v1M15.5 24v2M17.5 1v1M19.5 2v1M25.5 21v2M26.5 0v2M26.5 2v1M26.5 20v1M28.5 15v2M30.5 23v3M32.5 4v2M33.5 9v1M35.5 22v2M38.5 0v3M40.5 11v3M41.5 5v3M41.5 21v1M45.5 14v1M46.5 18v3M51.5 4v3M53.5 12v2M53.5 14v1M54.5 23v1M56.5 25v2M56.5 27v1M59.5 31v1M63.5 26v1M67.5 9v1M67.5 11v1M68.5 24v1M71.5 7v3M71.5 13v1M71.5 30v1M72.5 5v3M72.5 8v1M72.5 22v1M73.5 1v1M77.5 24v3M79.5 5v1M83.5 13v3M85.5 12v1M85.5 27v1M91.5 5v3M97.5 1v1M98.5 21v3M99.5 12v3M102.5 3v2M104.5 15v1M108.5 4v3M109.5 19v1M109.5 31v1M111.5 4v1M113.5 13v1M113.5 14v1M113.5 30v2M116.5 19v1M120.5 18v2M120.5 26v1M125.5 13v3M125.5 31v1M128.5 4v2M131.5 9v1M133.5 9v2M139.5 0v1M139.5 18v1M139.5 27v2M140.5 3v3M141.5 14v1M147.5 4v2M152.5 12v3M153.5 8v1M153.5 22v3M153.5 25v1M154.5 20v3M155.5 24v1M157.5 10v3M159.5 20v1M160.5 17v2M161.5 2v1M162.5 4v1M163.5 8v1M164.5 1v1M165.5 3v1M166.5 23v1M168.5 12v1M169.5 6v2M175.5 3v3M177.5 23v1M177.5 24v3M179.5 1v2M182.5 14v3M182.5 23v1M182.5 26v2M185.5 9v1M186.5 6v3M187.5 26v1M189.5 18v1M191.5 22v1M193.5 21v1M197.5 24v1M201.5 25v3M211.5 8v2M215.5 27v1M219.5 23v2M229.5 3v1M237.5 26v1M247.5 22v1M260.5 15v1M267.5 11v2M269.5 16v1M275.5 0v3M275.5 21v1M283.5 23v1M287.5 11v1M292.5 7v1M295.5 22v2M303.5 22v3M305.5 4v1M316.5 14v1M322.5 5v3M328.5 31v1M330.5 18v1M331.5 15v3M333.5 1v3M338.5 10v3M355.5 9v2M356.5 13v3M360.5 9v2M380.5 28v2M387.5 14v1M411.5 4v1M411.5 25v1M421.5 4v1M421.5 16v1M431.5 9v2M431.5 15v1M446.5 7v2M469.5 7v1M474.5 7v1M477.5 26v2M482.5 11v3M492.5 17v3M494.5 12v3M498.5 15v2M502.5 25v1M507.5 24v1M514.5 0v2M522.5 8v2M522.5 30v3M525.5 14v1M528.5 24v1M531.5 0v3M531.5 1v2M536.5 0v3M536.5 21v1M538.5 1v3M539.5 8v1M539.5 18v2M544.5 0v4M548.5 24v3M548.5 31v1M550.5 3v3M552.5 2v2M552.5 11v1M554.5 12v2M555.5 24v1M557.5 4v3M557.5 23v3M558.5 11v1M561.5 22v3M564.5 2v2M564.5 4v2M565.5 5v5M568.5 9v2M569.5 4v2M569.5 10v5M572.5 11v2M573.5 9v3M573.5 12v2M574.5 8v2M575.5 27v3M576.5 8v2M579.5 31v1M583.5 15v5M589.5 22v2M591.5 8v2M594.5 10v4M594.5 13v4M594.5 20v2M596.5 15v4M600.5 12v2M602.5 13v3M605.5 4v1M606.5 13v3M610.5 20v2M612.5 13v5M612.5 14v4M615.5 21v5M622.5 20v5M624.5 20v5M628.5 23v4M629.5 19v3M630.5 21v2M633.5 24v4M638.5 24v3M640.5 25v3M642.5 19v3M645.5 28v3M647.5 9v1M648.5 30v1M650.5 25v5M651.5 27v4M652.5 30v5M653.5 23v3M653.5 26v2M654.5 25v2M654.5 27v5M654.5 28v5M654.5 31v3M656.5 4v3M656.5 5v1M656.5 15v2M656.5 20v3M657.5 25v3M657.5 26v3M658.5 28v3M660.5 16v2M668.5 30v5M670.5 26v5M672.5 30v3M673.5 32v4M674.5 3v1M674.5 31v4M676.5 33v2M683.5 36v4M690.5 28v2M692.5 21v1M692.5 33v4M694.5 20v2M696.5 32v2M697.5 28v1M699.5 33v5M702.5 5v2M703.5 34v4M706.5 17v1M709.5 11v3M712.5 37v5M715.5 32v1"/>
<path stroke="#ff0606" d="M0.5 2v3M1.5 3v3M1.5 8v1M2.5 18v3M4.5 4v1M7.5 2v1M7.5 6v1M7.5 14v2M10.5 6v3M14.5 5v3M15.5 1v1M18.5 6v1M19.5 16v1M22.5 2v1M28.5 0v1M34.5 2v3M34.5 5v2M39.5 18v2M41.5 2v3M43.5 14v1M50.5 0v3M50.5 14v1M51.5 6v1M63.5 0v3M65.5 0v2M65.5 2v3M65.5 20v1M67.5 5v1M67.5 15v2M72.5 20v1M74.5 5v1M76.5 0v3M77.5 6v2M80.5 16v1M81.5 12v3M81.5 15v2M84.5 14v1M86.5 4v3M87.5 2v3M89.5 3v3M97.5 16v1M101.5 11v1M101.5 17v1M102.5 20v1M103.5 9v1M105.5 11v1M108.5 9v2M109.5 10v1M115.5 5v3M116.5 22v1M118.5 14v1M121.5 3v3M121.5 16v2M122.5 5v1M126.5 8v1M129.5 7v2M135.5 13v1M141.5 17v1M154.5 12v3M155.5 18v1M163.5 5v1M164.5 18v2M166.5 9v3M170.5 7v1M174.5 21v1M176.5 19v3M177.5 5v1M177.5 7v1M178.5 22v3M179.5 7v3M180.5 14v1M182.5 11v1M185.5 12v1M189.5 8v1M194.5 2v1M197.5 16v1M209.5 19v1M224.5 14v1M227.5 11v1M228.5 20v1M233.5 12v1M235.5 9v1M251.5 3v1M251.5 7v1M251.5 23v1M254.5 6v2M281.5 15v1M286.5 13v1M293.5 10v1M299.5 8v1M305.5 1v1M306.5 9v1M307.5 12v2M332.5 2v1M344.5 1v1M358.5 18v2M379.5 7v1M382.5 5v1M396.5 8v3M428.5 0v1M435.5 1v1M443.5 19v3M446.5 14v1M450.5 5v3M452.5 18v3M458.5 12v2M459.5 9v3M485.5 11v3M505.5 4v1M511.5 8v1M523.5 1v4M524.5 0v5M541.5 0v4M542.5 1v3M542.5 8v1M543.5 3v5M545.5 13v1M548.5 4v5M552.5 4v4M552.5 8v5M554.5 6v5M554.5 8v2M555.5 0v3M555.5 3v4M556.5 1v3M560.5 0v1M560.5 2v3M562.5 2v2M566.5 4v2M567.5 5v3M567.5 6v5M567.5 10v3M569.5 14v1M573.5 4v4M573.5 17v1M578.5 6v3M578.5 10v2M582.5 11v5M585.5 8v3M586.5 12v5M588.5 11v4M588.5 14v5M589.5 13v3M592.5 12v3M596.5 17v4M603.5 15v4M604.5 14v5M606.5 16v2M606.5 17v5M608.5 16v4M610.5 16v2M614.5 16v5M619.5 16v2M620.5 15v3M623.5 17v3M627.5 20v5M627.5 22v5M640.5 4v2M640.5 21v4M640.5 26v4M645.5 25v4M646.5 2v2M646.5 21v4M648.5 25v3M648.5 29v4M653.5 21v2M656.5 27v4M659.5 26v5M660.5 14v3M661.5 24v4M662.5 28v4M667.5 27v3M675.5 30v3M675.5 32v2M677.5 29v2M680.5 7v1M681.5 29v5M683.5 32v4M685.5 35v3M689.5 34v5M691.5 37v4M695.5 36v5M696.5 7v2M699.5 20v2M699.5 34v4M699.5 37v2M703.5 37v5M705.5 3v1M705.5 5v1M707.5 37v4M709.5 18v1M712.5 2v1"/>
<path stroke="#ffbfbf" d="M0.5 14v3M1.5 32v1M2.5 15v1M3.5 17v2M3.5 20v1M5.5 15v3M6.5 10v1M6.5 23v2M6.5 60v1M8.5 15v1M11.5 19v3M11.5 22v3M12.5 17v3M16.5 5v1M18.5 25v3M19.5 40v2M22.5 7v1M24.5 2v1M24.5 29v2M25.5 15v3M27.5 17v3M27.5 36v1M28.5 8v1M29.5 7v3M30.5 5v1M33.5 6v3M35.5 25v3M36.5 11v3M38.5 2v1M38.5 17v3M39.5 20v3M40.5 14v2M44.5 1v2M46.5 43v3M47.5 8v1M49.5 23v2M49.5 30v3M49.5 32v3M56.5 18v3M56.5 24v1M57.5 7v1M59.5 6v1M59.5 14v3M59.5 21v1M63.5 30v3M66.5 4v1M66.5 27v1M66.5 32v1M67.5 2v1M68.5 0v2M68.5 17v1M70.5 48v1M71.5 1v1M71.5 3v3M71.5 17v1M72.5 25v1M73.5 6v1M73.5 21v2M73.5 58v1M76.5 7v1M78.5 23v1M78.5 28v1M80.5 30v2M81.5 3v3M81.5 11v3M82.5 22v1M82.5 28v2M82.5 31v2M84.5 16v1M84.5 29v1M87.5 7v1M89.5 14v1M90.5 4v2M90.5 16v1M92.5 21v2M92.5 48v2M94.5 10v1M96.5 6v2M96.5 10v3M96.5 44v3M99.5 30v1M100.5 6v1M100.5 26v1M100.5 63v2M102.5 29v3M102.5 44v2M103.5 28v2M105.5 0v2M107.5 88v1M108.5 13v2M109.5 5v1M109.5 21v1M110.5 12v1M111.5 32v1M117.5 5v1M117.5 28v1M118.5 12v3M123.5 14v1M123.5 17v1M123.5 38v1M125.5 0v1M126.5 27v1M126.5 35v1M129.5 39v1M130.5 22v2M130.5 28v3M131.5 36v1M133.5 3v1M133.5 6v1M133.5 56v3M134.5 8v1M134.5 61v1M135.5 17v3M135.5 22v1M137.5 7v1M137.5 27v1M137.5 57v1M138.5 20v1M140.5 24v2M140.5 38v1M144.5 1v2M146.5 13v2M146.5 17v1M147.5 3v1M148.5 8v3M149.5 19v1M150.5 18v1M151.5 0v2M152.5 7v3M152.5 24v3M154.5 58v3M156.5 14v2M157.5 59v1M159.5 8v3M162.5 76v3M163.5 3v1M163.5 37v2M164.5 17v3M164.5 30v1M164.5 32v2M165.5 8v3M165.5 16v1M166.5 32v3M167.5 0v1M167.5 10v2M167.5 19v1M167.5 44v1M168.5 2v1M171.5 32v1M172.5 3v1M172.5 5v2M172.5 33v1M173.5 8v1M173.5 11v1M174.5 31v1M175.5 24v3M176.5 27v1M177.5 2v3M178.5 33v2M185.5 29v3M186.5 10v1M189.5 30v2M190.5 20v1M190.5 28v1M190.5 31v1M192.5 20v1M193.5 12v1M193.5 78v1M194.5 20v3M194.5 37v1M195.5 39v1M196.5 38v2M197.5 6v1M197.5 62v1M201.5 14v3M202.5 1v1M203.5 9v1M204.5 5v3M204.5 14v2M204.5 17v3M207.5 25v1M207.5 27v3M207.5 45v1M208.5 12v1M209.5 38v1M209.5 40v1M211.5 39v1M212.5 27v3M218.5 7v1M221.5 27v1M223.5 39v1M225.5 30v2M229.5 76v3M232.5 42v1M239.5 17v1M243.5 45v3M247.5 0v1M248.5 83v1M258.5 27v3M264.5 25v1M266.5 28v3M275.5 82v1M276.5 28v3M277.5 4v1M279.5 28v1M281.5 2v1M281.5 36v3M291.5 34v1M303.5 2v1M303.5 20v1M304.5 17v3M309.5 27v1M313.5 5v1M316.5 41v3M317.5 31v2M318.5 7v2M319.5 22v1M319.5 30v1M323.5 8v3M323.5 31v1M327.5 13v2M335.5 24v3M342.5 30v1M344.5 48v3M345.5 8v3M346.5 6v2M355.5 29v2M365.5 58v1M368.5 13v1M371.5 53v1M375.5 36v1M381.5 12v1M382.5 42v3M385.5 56v1M386.5 23v1M387.5 47v2M391.5 31v1M400.5 4v3M402.5 5v3M403.5 37v1M404.5 27v1M404.5 43v3M412.5 49v1M417.5 9v1M418.5 6v1M421.5 18v1M421.5 25v1M423.5 0v3M423.5 7v2M425.5 9v2M429.5 5v2M435.5 4v1M444.5 35v1M444.5 36v3M446.5 56v1M447.5 40v2M449.5 37v1M450.5 42v2M454.5 7v1M456.5 16v1M458.5 21v1M458.5 49v1M461.5 19v1M461.5 42v1M463.5 9v1M474.5 71v1M480.5 26v2M487.5 32v1M488.5 21v2M490.5 47v1M492.5 70v1M493.5 11v1M494.5 17v3M495.5 56v1M509.5 64v1M515.5 34v3M520.5 31v1M521.5 23v1M521.5 52v1M523.5 17v1M530.5 2v4M530.5 45v1M531.5 3v4M531.5 32v1M533.5 0v3M535.5 3v5M540.5 21v1M541.5 10v1M544.5 17v3M548.5 15v1M549.5 10v1M550.5 1v5M550.5 6v4M553.5 5v5M553.5 14v1M555.5 17v3M561.5 7v2M566.5 7v5M566.5 11v2M568.5 51v1M569.5 6v3M569.5 60v1M571.5 8v2M571.5 14v2M574.5 7v3M575.5 24v1M576.5 9v5M581.5 6v3M581.5 9v2M584.5 35v3M587.5 4v1M592.5 5v1M593.5 51v3M594.5 17v3M594.5 54v2M595.5 21v1M595.5 22v1M597.5 10v2M597.5 11v3M597.5 13v2M598.5 14v5M599.5 15v3M599.5 62v2M600.5 14v2M601.5 11v2M602.5 29v1M603.5 12v3M604.5 13v5M606.5 14v5M606.5 28v1M608.5 13v4M611.5 9v1M615.5 60v1M616.5 29v1M617.5 24v1M618.5 18v5M619.5 19v3M620.5 17v4M627.5 18v3M627.5 29v1M629.5 24v2M631.5 24v2M636.5 22v2M637.5 23v4M641.5 59v1M643.5 25v2M644.5 30v1M646.5 4v2M646.5 23v2M647.5 28v3M647.5 56v1M649.5 4v1M649.5 28v2M651.5 26v4M652.5 25v4M653.5 24v5M654.5 2v1M655.5 24v4M656.5 23v2M657.5 86v2M661.5 29v3M663.5 25v2M664.5 23v5M664.5 37v1M665.5 30v5M666.5 18v1M666.5 24v3M666.5 59v1M667.5 25v4M670.5 7v3M671.5 18v1M672.5 22v3M672.5 33v3M674.5 44v1M677.5 32v2M680.5 35v5M681.5 30v2M683.5 75v2M686.5 31v4M686.5 36v2M688.5 30v3M688.5 36v2M691.5 17v1M691.5 27v2M691.5 31v5M693.5 42v1M694.5 29v3M700.5 10v1M700.5 32v3M701.5 31v3M701.5 33v4M702.5 38v1M709.5 3v1M710.5 26v1M712.5 29v3M715.5 24v2M718.5 33v1M719.5 1v1M719.5 37v4"/>
<path stroke="#0606ff" d="M1.5 9v2M2.5 4v3M3.5 3v2M3.5 6v3M8.5 16v1M9.5 13v2M14.5 7v1M16.5 8v1M17.5 11v3M17.5 14v1M22.5 8v3M33.5 11v1M36.5 5v1M40.5 17v1M52.5 10v2M54.5 10v3M54.5 18v1M70.5 4v1M73.5 10v2M75.5 17v1M80.5 10v1M81.5 6v1M86.5 0v1M90.5 7v1M91.5 8v1M92.5 3v2M98.5 9v1M102.5 8v2M112.5 18v1M114.5 10v1M116.5 14v3M117.5 0v3M117.5 10v1M119.5 8v1M138.5 22v1M145.5 7v1M147.5 1v3M147.5 5v1M148.5 10v3M154.5 11v1M156.5 11v1M160.5 7v1M160.5 9v1M175.5 7v2M183.5 9v3M194.5 13v3M200.5 0v2M200.5 17v1M248.5 14v3M283.5 8v2M362.5 5v3M385.5 12v1M412.5 8v1M431.5 16v3M437.5 8v2M452.5 0v1M452.5 16v1M466.5 0v2M473.5 21v2M481.5 9v1M505.5 6v2M519.5 6v1M553.5 0v5M563.5 0v3M640.5 20v4M648.5 20v2M655.5 21v3M674.5 29v3M679.5 31v4M690.5 29v5M714.5 12v3"/>
<path stroke="#ffdfdf" d="M0.5 16v1M2.5 10v3M7.5 20v1M7.5 84v1M8.5 28v3M9.5 7v1M9.5 8v2M9.5 14v1M10.5 20v1M10.5 23v2M11.5 46v1M12.5 13v1M12.5 80v2M13.5 18v1M15.5 18v2M17.5 9v1M17.5 21v3M18.5 5v1M20.5 14v3M21.5 3v1M21.5 57v1M22.5 25v3M23.5 3v2M24.5 24v1M25.5 46v2M27.5 13v3M27.5 37v1M29.5 3v1M30.5 30v1M31.5 16v2M32.5 54v2M33.5 10v3M33.5 23v1M36.5 17v2M41.5 43v2M41.5 44v1M42.5 25v2M42.5 32v1M43.5 2v1M44.5 5v1M44.5 26v2M46.5 20v1M47.5 22v1M49.5 7v3M49.5 15v1M49.5 21v1M49.5 34v1M53.5 7v3M55.5 1v3M57.5 14v2M59.5 11v1M59.5 67v1M61.5 12v2M62.5 13v2M62.5 22v2M63.5 15v1M64.5 16v1M64.5 52v3M65.5 22v2M65.5 25v1M66.5 29v3M67.5 66v2M68.5 3v1M68.5 8v1M71.5 52v3M73.5 44v1M74.5 24v3M74.5 30v1M74.5 67v1M76.5 2v1M79.5 17v1M79.5 55v1M82.5 10v1M82.5 14v2M84.5 21v3M86.5 49v1M87.5 3v1M89.5 1v2M91.5 15v1M93.5 25v3M93.5 27v1M95.5 19v1M95.5 22v1M95.5 27v1M95.5 49v1M96.5 0v1M98.5 2v1M98.5 8v3M98.5 27v1M98.5 90v1M99.5 24v3M102.5 16v3M102.5 26v2M103.5 4v3M103.5 18v1M103.5 27v1M104.5 19v1M105.5 8v3M105.5 23v3M106.5 5v1M109.5 33v3M110.5 6v1M111.5 15v2M111.5 30v3M113.5 3v3M115.5 7v2M115.5 25v3M117.5 13v1M118.5 6v1M119.5 3v1M119.5 15v2M120.5 23v3M122.5 64v2M123.5 3v2M123.5 21v1M127.5 9v1M129.5 30v1M130.5 55v3M131.5 5v1M133.5 17v1M134.5 11v1M135.5 23v1M136.5 4v1M136.5 28v3M137.5 12v1M138.5 39v1M139.5 53v2M140.5 30v1M140.5 84v1M142.5 25v3M143.5 27v2M145.5 8v3M145.5 10v1M146.5 37v3M147.5 22v2M150.5 8v1M151.5 20v1M152.5 30v1M154.5 3v3M155.5 6v3M156.5 9v1M156.5 44v3M156.5 47v3M157.5 45v3M161.5 12v2M162.5 31v1M164.5 31v1M164.5 39v3M168.5 38v3M169.5 0v1M169.5 5v1M169.5 10v1M169.5 19v1M169.5 55v2M170.5 9v1M170.5 38v1M171.5 11v2M171.5 16v1M172.5 4v1M177.5 4v1M179.5 24v1M180.5 11v3M181.5 12v1M181.5 36v1M184.5 47v1M185.5 24v1M187.5 11v1M187.5 52v3M190.5 1v1M191.5 15v1M195.5 29v2M196.5 19v1M196.5 52v2M198.5 35v1M200.5 75v1M203.5 29v1M204.5 18v1M205.5 27v1M207.5 23v3M208.5 14v1M209.5 18v2M209.5 30v2M212.5 25v1M214.5 60v2M215.5 31v1M217.5 36v3M223.5 0v2M224.5 50v1M228.5 41v2M230.5 35v1M231.5 12v2M237.5 63v2M238.5 25v1M239.5 13v1M239.5 28v1M240.5 61v1M240.5 63v3M241.5 14v2M245.5 85v1M247.5 10v1M248.5 4v1M250.5 52v1M254.5 16v2M254.5 45v3M257.5 56v1M260.5 40v1M264.5 60v3M266.5 7v1M271.5 57v2M272.5 36v2M275.5 13v2M284.5 29v3M291.5 5v1M292.5 22v1M296.5 49v1M296.5 50v1M298.5 4v1M303.5 6v1M304.5 5v1M310.5 33v1M312.5 7v3M313.5 56v1M315.5 50v3M317.5 9v3M318.5 50v1M321.5 87v1M322.5 4v2M323.5 21v1M326.5 60v2M329.5 32v2M332.5 18v3M332.5 64v3M345.5 31v1M345.5 55v2M347.5 68v1M350.5 65v1M351.5 70v1M360.5 69v1M361.5 60v1M363.5 4v2M371.5 35v1M372.5 61v1M373.5 55v1M375.5 9v1M375.5 47v2M377.5 45v1M378.5 18v1M378.5 21v1M379.5 22v1M380.5 37v1M389.5 9v2M397.5 30v2M398.5 10v1M399.5 11v3M401.5 23v2M401.5 40v1M403.5 0v2M403.5 24v1M403.5 34v1M408.5 30v2M408.5 64v3M413.5 58v1M415.5 25v3M415.5 47v1M420.5 19v1M425.5 7v1M425.5 37v1M427.5 42v1M431.5 19v1M431.5 23v1M434.5 34v1M438.5 70v2M448.5 17v1M451.5 49v1M456.5 1v1M458.5 37v1M461.5 63v3M462.5 0v1M462.5 64v1M470.5 6v3M471.5 68v2M473.5 15v1M474.5 8v1M475.5 27v1M476.5 1v1M478.5 22v1M479.5 37v1M483.5 62v2M486.5 3v1M488.5 41v2M493.5 18v1M493.5 83v1M498.5 3v1M506.5 2v1M511.5 36v3M512.5 88v1M514.5 24v1M515.5 16v1M519.5 1v4M519.5 17v1M520.5 33v3M521.5 19v2M523.5 23v1M523.5 56v1M524.5 29v1M524.5 40v2M526.5 1v2M527.5 0v4M529.5 28v1M529.5 43v1M530.5 35v2M531.5 17v3M533.5 4v2M534.5 26v1M535.5 5v1M536.5 44v2M538.5 5v3M538.5 39v1M538.5 43v1M538.5 56v1M539.5 3v4M544.5 2v4M544.5 4v5M544.5 7v1M547.5 5v4M547.5 16v3M548.5 9v1M549.5 49v2M550.5 72v1M554.5 1v3M554.5 2v4M554.5 64v3M555.5 7v3M555.5 27v3M557.5 3v4M557.5 5v3M561.5 17v1M563.5 6v4M563.5 10v2M563.5 14v1M565.5 9v2M569.5 5v5M569.5 55v1M570.5 7v4M571.5 85v1M573.5 19v1M574.5 11v3M574.5 73v1M575.5 38v3M580.5 10v3M581.5 7v4M581.5 13v4M581.5 48v3M582.5 59v1M584.5 13v3M585.5 39v1M587.5 10v4M587.5 46v3M589.5 15v2M589.5 52v2M591.5 10v5M595.5 14v2M597.5 22v1M598.5 33v1M598.5 39v1M599.5 17v2M599.5 30v1M601.5 17v4M605.5 18v2M606.5 15v4M608.5 15v4M610.5 19v2M610.5 47v1M612.5 2v1M612.5 16v3M612.5 17v3M612.5 57v1M617.5 7v1M618.5 29v1M618.5 61v1M619.5 80v1M620.5 47v1M622.5 15v3M622.5 18v5M623.5 3v1M627.5 17v2M627.5 19v3M631.5 19v5M631.5 36v1M633.5 18v5M635.5 4v1M635.5 20v2M636.5 26v2M638.5 21v2M638.5 47v1M641.5 24v2M641.5 27v4M641.5 45v1M643.5 22v3M643.5 88v1M644.5 23v4M645.5 46v1M647.5 24v5M648.5 22v5M649.5 21v3M649.5 27v4M654.5 30v3M654.5 75v1M656.5 8v1M660.5 28v3M662.5 32v3M664.5 26v3M666.5 26v4M668.5 26v4M668.5 29v3M669.5 8v1M672.5 21v1M673.5 5v1M673.5 34v4M675.5 37v1M676.5 10v1M676.5 11v1M677.5 16v1M677.5 36v2M678.5 28v4M681.5 31v4M684.5 37v2M686.5 29v5M694.5 35v2M694.5 90v2M696.5 29v2M696.5 35v2M701.5 37v2M702.5 55v1M704.5 20v1M705.5 36v5M707.5 29v3M708.5 21v1M709.5 27v1M709.5 33v3M709.5 37v3M710.5 36v3M710.5 61v1M712.5 36v3M713.5 6v3M713.5 34v3M715.5 45v2M718.5 27v1"/>
<path stroke="#bfbfff" d="M3.5 29v1M4.5 28v1M6.5 26v2M7.5 25v2M10.5 44v2M11.5 45v3M12.5 2v1M13.5 31v3M14.5 27v1M14.5 44v1M22.5 45v3M22.5 56v1M23.5 52v1M24.5 8v1M28.5 29v1M31.5 25v3M31.5 29v1M32.5 5v2M32.5 33v1M33.5 1v3M34.5 16v1M35.5 1v2M42.5 20v1M44.5 27v1M44.5 41v3M45.5 23v2M45.5 31v2M46.5 19v3M46.5 42v1M47.5 36v1M48.5 37v1M53.5 27v1M55.5 26v1M56.5 11v1M60.5 22v1M61.5 2v1M64.5 1v2M65.5 11v2M69.5 50v3M71.5 35v1M73.5 34v1M75.5 38v1M78.5 4v2M79.5 29v1M80.5 4v1M80.5 7v2M81.5 36v3M81.5 38v1M85.5 41v1M87.5 26v1M88.5 29v3M91.5 38v1M92.5 9v2M92.5 49v2M93.5 30v1M95.5 43v3M98.5 18v1M100.5 16v2M100.5 41v3M102.5 61v1M103.5 30v2M105.5 20v3M106.5 3v2M106.5 9v2M108.5 1v1M110.5 0v3M110.5 26v3M110.5 27v1M110.5 42v3M112.5 34v3M113.5 0v3M113.5 33v3M116.5 4v3M116.5 9v1M116.5 15v2M117.5 16v3M120.5 41v3M121.5 22v1M121.5 39v3M125.5 12v1M126.5 10v1M126.5 15v1M127.5 40v1M128.5 19v2M130.5 18v1M130.5 19v3M132.5 12v1M134.5 15v1M135.5 24v2M135.5 32v1M137.5 89v2M142.5 23v1M143.5 28v1M144.5 4v2M145.5 40v1M149.5 7v3M156.5 21v2M157.5 12v1M158.5 33v1M163.5 2v3M164.5 22v1M172.5 24v1M173.5 18v1M175.5 10v1M175.5 60v3M176.5 35v1M178.5 44v1M180.5 6v2M193.5 57v3M195.5 22v1M196.5 13v1M196.5 14v1M196.5 25v3M198.5 2v1M199.5 25v2M200.5 11v1M200.5 16v1M201.5 36v3M202.5 18v1M203.5 31v1M203.5 64v1M205.5 20v1M205.5 34v3M206.5 1v2M209.5 17v2M212.5 36v3M214.5 43v2M218.5 27v1M221.5 6v1M222.5 32v1M225.5 26v2M227.5 29v1M229.5 9v3M239.5 30v3M245.5 36v1M251.5 25v1M252.5 41v2M256.5 42v3M269.5 1v1M278.5 30v2M282.5 67v3M289.5 1v1M290.5 6v1M295.5 57v2M297.5 14v1M310.5 42v3M312.5 19v3M317.5 29v1M324.5 35v2M326.5 24v1M331.5 22v2M337.5 4v2M337.5 15v2M341.5 9v1M360.5 15v3M364.5 31v1M367.5 45v1M372.5 16v2M375.5 40v3M377.5 15v2M382.5 21v2M387.5 2v1M387.5 31v3M392.5 33v1M394.5 12v1M396.5 35v1M396.5 63v3M398.5 43v1M400.5 1v3M407.5 16v3M420.5 3v2M438.5 9v2M441.5 2v3M443.5 14v2M446.5 21v1M448.5 50v3M456.5 35v1M458.5 5v1M458.5 10v3M461.5 23v1M468.5 28v1M473.5 2v1M478.5 36v1M479.5 20v1M489.5 8v1M491.5 46v1M498.5 20v1M499.5 9v1M503.5 7v3M504.5 41v3M538.5 58v1M542.5 46v2M566.5 43v3M576.5 10v5M583.5 8v3M599.5 13v2M599.5 41v1M615.5 32v3M615.5 38v1M617.5 54v3M625.5 22v2M628.5 44v1M636.5 21v2M672.5 62v1M676.5 15v1M676.5 28v4M679.5 15v1M681.5 38v1M682.5 49v1M697.5 36v4M703.5 47v3M708.5 28v1M714.5 37v5M719.5 11v2"/>
</g></g>
<text x="488.00" y="3589.90" font-size="52.50" text-anchor="middle" textLength="31.81" lengthAdjust="spacingAndGlyphs" fill="#262626">0</text>
<text x="616.88" y="3589.90" font-size="52.50" text-anchor="middle" textLength="31.81" lengthAdjust="spacingAndGlyphs" fill="#262626">3</text>
<text x="745.75" y="3589.90" font-size="52.50" text-anchor="middle" textLength="31.81" lengthAdjust="spacingAndGlyphs" fill="#262626">6</text>
<text x="874.62" y="3589.90" font-size="52.50" text-anchor="middle" textLength="31.81" lengthAdjust="spacingAndGlyphs" fill="#262626">9</text>
<text x="1003.50" y="3589.90" font-size="52.50" text-anchor="middle" textLength="63.62" lengthAdjust="spacingAndGlyphs" fill="#262626">12</text>
<text x="1132.38" y="3589.90" font-size="52.50" text-anchor="middle" textLength="63.62" lengthAdjust="spacingAndGlyphs" fill="#262626">15</text>
<text x="1261.25" y="3589.90" font-size="52.50" text-anchor="middle" textLength="63.62" lengthAdjust="spacingAndGlyphs" fill="#262626">18</text>
<text x="1390.12" y="3589.90" font-size="52.50" text-anchor="middle" textLength="63.62" lengthAdjust="spacingAndGlyphs" fill="#262626">21</text>
<text x="467.00" y="3541.40" font-size="52.50" text-anchor="end" textLength="31.81" lengthAdjust="spacingAndGlyphs" fill="#262626">0</text>
<text x="467.00" y="3406.31" font-size="52.50" text-anchor="end" textLength="79.52" lengthAdjust="spacingAndGlyphs" fill="#262626">0.2</text>
<text x="467.00" y="3271.22" font-size="52.50" text-anchor="end" textLength="79.52" lengthAdjust="spacingAndGlyphs" fill="#262626">0.4</text>
<text x="467.00" y="3136.13" font-size="52.50" text-anchor="end" textLength="79.52" lengthAdjust="spacingAndGlyphs" fill="#262626">0.6</text>
<text x="467.00" y="3001.04" font-size="52.50" text-anchor="end" textLength="79.52" lengthAdjust="spacingAndGlyphs" fill="#262626">0.8</text>
<text x="467.00" y="2865.95" font-size="52.50" text-anchor="end" textLength="31.81" lengthAdjust="spacingAndGlyphs" fill="#262626">1</text>
<text x="467.00" y="2730.86" font-size="52.50" text-anchor="end" textLength="79.52" lengthAdjust="spacingAndGlyphs" fill="#262626">1.2</text>
<text x="467.00" y="2595.77" font-size="52.50" text-anchor="end" textLength="79.52" lengthAdjust="spacingAndGlyphs" fill="#262626">1.4</text>
<text x="467.00" y="2460.68" font-size="52.50" text-anchor="end" textLength="79.52" lengthAdjust="spacingAndGlyphs" fill="#262626">1.6</text>
<text x="467.00" y="2325.59" font-size="52.50" text-anchor="end" textLength="79.52" lengthAdjust="spacingAndGlyphs" fill="#262626">1.8</text>
<text x="467.00" y="2190.50" font-size="52.50" text-anchor="end" textLength="31.81" lengthAdjust="spacingAndGlyphs" fill="#262626">2</text>
<text x="358.90" y="2849.95" font-size="57.75" text-anchor="middle" textLength="455.04" lengthAdjust="spacingAndGlyphs" transform="rotate(-90 358.90 2849.95)" fill="#262626">Height [km AGL]</text>
<text x="994.90" y="2066.20" font-size="57.75" text-anchor="middle" font-weight="bold" textLength="511.48" lengthAdjust="spacingAndGlyphs" fill="#000">Vertical Velocity</text>
<text x="1004.00" y="2145.90" font-size="57.75" text-anchor="middle" textLength="279.94" lengthAdjust="spacingAndGlyphs" fill="#000">20230719</text>
<defs><linearGradient id="cb0_1876" x1="0" y1="1" x2="0" y2="0">
<stop offset="0.0000" stop-color="#0000ff"/>
<stop offset="0.5000" stop-color="#ffffff"/>
<stop offset="1.0000" stop-color="#ff0000"/>
</linearGradient></defs>
<rect x="1562.30" y="2174.50" width="83.20" height="1350.90" fill="url(#cb0_1876)" stroke="#262626" stroke-width="1.3"/>
<text x="1665.00" y="3539.90" font-size="47.25" text-anchor="start" textLength="44.87" lengthAdjust="spacingAndGlyphs" fill="#262626">-4</text>
<text x="1665.00" y="3371.04" font-size="47.25" text-anchor="start" textLength="44.87" lengthAdjust="spacingAndGlyphs" fill="#262626">-3</text>
<text x="1665.00" y="3202.18" font-size="47.25" text-anchor="start" textLength="44.87" lengthAdjust="spacingAndGlyphs" fill="#262626">-2</text>
<text x="1665.00" y="3033.31" font-size="47.25" text-anchor="start" textLength="44.87" lengthAdjust="spacingAndGlyphs" fill="#262626">-1</text>
<text x="1665.00" y="2864.45" font-size="47.25" text-anchor="start" textLength="28.63" lengthAdjust="spacingAndGlyphs" fill="#262626">0</text>
<text x="1665.00" y="2695.59" font-size="47.25" text-anchor="start" textLength="28.63" lengthAdjust="spacingAndGlyphs" fill="#262626">1</text>
<text x="1665.00" y="2526.72" font-size="47.25" text-anchor="start" textLength="28.63" lengthAdjust="spacingAndGlyphs" fill="#262626">2</text>
<text x="1665.00" y="2357.86" font-size="47.25" text-anchor="start" textLength="28.63" lengthAdjust="spacingAndGlyphs" fill="#262626">3</text>
<text x="1665.00" y="2189.00" font-size="47.25" text-anchor="start" textLength="28.63" lengthAdjust="spacingAndGlyphs" fill="#262626">4</text>
<path d="M1645.50 3356.54h-14M1645.50 3187.68h-14M1645.50 3018.81h-14M1645.50 2849.95h-14M1645.50 2681.09h-14M1645.50 2512.22h-14M1645.50 2343.36h-14" stroke="#262626" stroke-width="1.3" fill="none"/>
<g transform="rotate(-90 1782.00 2849.95)">
<text x="1680.15" y="2849.95" font-size="47.25" text-anchor="start" textLength="150.25" lengthAdjust="spacingAndGlyphs" fill="#262626">w [m s</text>
<text x="1830.40" y="2830.95" font-size="37.80" text-anchor="start" textLength="35.89" lengthAdjust="spacingAndGlyphs" fill="#262626">-1</text>
<text x="1866.29" y="2849.95" font-size="47.25" text-anchor="start" textLength="17.56" lengthAdjust="spacingAndGlyphs" fill="#262626">]</text>
</g>
<path d="M2269.38 2174.50V3525.40M2398.25 2174.50V3525.40M2527.12 2174.50V3525.40M2656.00 2174.50V3525.40M2784.88 2174.50V3525.40M2913.75 2174.50V3525.40M3042.62 2174.50V3525.40M2140.50 3390.31H3171.50M2140.50 3255.22H3171.50M2140.50 3120.13H3171.50M2140.50 2985.04H3171.50M2140.50 2849.95H3171.50M2140.50 2714.86H3171.50M2140.50 2579.77H3171.50M2140.50 2444.68H3171.50M2140.50 2309.59H3171.50M2140.50 2174.50H3171.50" stroke="#dedede" stroke-width="1.2" fill="none"/>
<path d="M2140.50 2174.50V3525.40H3171.50 M2140.50 3525.40v-14M2269.38 3525.40v-14M2398.25 3525.40v-14M2527.12 3525.40v-14M2656.00 3525.40v-14M2784.88 3525.40v-14M2913.75 3525.40v-14M3042.62 3525.40v-14M2140.50 3525.40h14M2140.50 3390.31h14M2140.50 3255.22h14M2140.50 3120.13h14M2140.50 2985.04h14M2140.50 2849.95h14M2140.50 2714.86h14M2140.50 2579.77h14M2140.50 2444.68h14M2140.50 2309.59h14M2140.50 2174.50h14" stroke="#262626" stroke-width="1.3" fill="none"/>
<defs><clipPath id="clipf4"><rect x="2141.90" y="2174.00" width="1029.60" height="1297.36"/></clipPath>
<filter id="f4" x="-10%" y="-10%" width="120%" height="120%"><feGaussianBlur stdDeviation="12"/></filter></defs>
<g clip-path="url(#clipf4)"><g filter="url(#f4)">
<rect x="2090.5" y="2124.5" width="987.0" height="118.0" fill="#4539d9"/>
<rect x="3077.0" y="2124.5" width="60.6" height="118.0" fill="#4743e7"/>
<rect x="3137.1" y="2124.5" width="94.9" height="118.0" fill="#4539d9"/>
<rect x="2090.5" y="2242.0" width="978.4" height="68.0" fill="#4536d3"/>
<rect x="3068.4" y="2242.0" width="60.6" height="68.0" fill="#473fe3"/>
<rect x="3128.5" y="2242.0" width="103.5" height="68.0" fill="#4536d3"/>
<rect x="2090.5" y="2309.6" width="982.7" height="54.5" fill="#4433cc"/>
<rect x="3072.7" y="2309.6" width="47.8" height="54.5" fill="#463cde"/>
<rect x="3119.9" y="2309.6" width="112.1" height="54.5" fill="#4433cc"/>
<rect x="2090.5" y="2363.6" width="1141.5" height="20.8" fill="#4330c5"/>
<rect x="2090.5" y="2383.9" width="1141.5" height="54.5" fill="#412dbb"/>
<rect x="2090.5" y="2437.9" width="1141.5" height="47.8" fill="#422fc2"/>
<rect x="2090.5" y="2485.2" width="609.0" height="41.0" fill="#412dbb"/>
<rect x="2699.0" y="2485.2" width="172.3" height="41.0" fill="#4433cc"/>
<rect x="2870.8" y="2485.2" width="361.2" height="41.0" fill="#422ebe"/>
<rect x="2090.5" y="2525.7" width="1141.5" height="54.5" fill="#422fc2"/>
<rect x="2090.5" y="2579.8" width="965.5" height="68.0" fill="#4433cc"/>
<rect x="3055.5" y="2579.8" width="73.5" height="68.0" fill="#484aee"/>
<rect x="3128.5" y="2579.8" width="103.5" height="68.0" fill="#4539d9"/>
<rect x="2090.5" y="2647.3" width="952.6" height="68.0" fill="#4536d3"/>
<rect x="3042.6" y="2647.3" width="95.0" height="68.0" fill="#4755f6"/>
<rect x="3137.1" y="2647.3" width="94.9" height="68.0" fill="#473fe3"/>
<rect x="2090.5" y="2714.9" width="944.0" height="68.0" fill="#463adc"/>
<rect x="3034.0" y="2714.9" width="112.2" height="68.0" fill="#475cfa"/>
<rect x="3145.7" y="2714.9" width="86.3" height="68.0" fill="#4747eb"/>
<rect x="2090.5" y="2782.4" width="935.4" height="68.0" fill="#473fe3"/>
<rect x="3025.4" y="2782.4" width="125.1" height="68.0" fill="#4367fd"/>
<rect x="3150.0" y="2782.4" width="82.0" height="68.0" fill="#484ef1"/>
<rect x="2090.5" y="2849.9" width="931.1" height="68.0" fill="#4743e7"/>
<rect x="3021.1" y="2849.9" width="133.7" height="68.0" fill="#3f6eff"/>
<rect x="3154.3" y="2849.9" width="77.7" height="68.0" fill="#4755f6"/>
<rect x="2090.5" y="2917.5" width="926.8" height="68.0" fill="#4848ec"/>
<rect x="3016.8" y="2917.5" width="142.3" height="68.0" fill="#3b72ff"/>
<rect x="3158.6" y="2917.5" width="73.4" height="68.0" fill="#475cfa"/>
<rect x="2090.5" y="2985.0" width="926.8" height="68.0" fill="#484ef1"/>
<rect x="3016.8" y="2985.0" width="146.6" height="68.0" fill="#3b72ff"/>
<rect x="3162.9" y="2985.0" width="69.1" height="68.0" fill="#4563fd"/>
<rect x="2090.5" y="3052.6" width="931.1" height="68.0" fill="#4758f8"/>
<rect x="3021.1" y="3052.6" width="210.9" height="68.0" fill="#3f6eff"/>
<rect x="2090.5" y="3120.1" width="1141.5" height="34.3" fill="#4367fd"/>
<rect x="2090.5" y="3153.9" width="1141.5" height="34.3" fill="#3b72ff"/>
<rect x="2090.5" y="3187.7" width="1141.5" height="34.3" fill="#2f81fa"/>
<rect x="2090.5" y="3221.4" width="1141.5" height="34.3" fill="#2c8ff1"/>
<rect x="2090.5" y="3255.2" width="1141.5" height="34.3" fill="#259ce7"/>
<rect x="2090.5" y="3289.0" width="1141.5" height="34.3" fill="#20a4e3"/>
<rect x="2090.5" y="3322.8" width="1141.5" height="34.3" fill="#15afd9"/>
<rect x="2090.5" y="3356.5" width="1141.5" height="34.3" fill="#01b8ca"/>
<rect x="2090.5" y="3390.3" width="1141.5" height="34.3" fill="#15afd9"/>
<rect x="2090.5" y="3424.1" width="1141.5" height="34.3" fill="#259ce7"/>
<rect x="2090.5" y="3457.9" width="1141.5" height="84.3" fill="#2d8cf3"/>
</g></g>
<defs><filter id="sn4" x="2140.5" y="2174.5" width="1031.0" height="1350.9" filterUnits="userSpaceOnUse" color-interpolation-filters="sRGB">
<feTurbulence type="fractalNoise" baseFrequency="0.3 0.01" numOctaves="2" seed="5" result="n"/>
<feColorMatrix in="n" type="matrix" values="0 0 0 0 0 0 0 0 0 0 0 0 0 0 0 0.24 0 0 0 -0.12" result="d"/>
<feColorMatrix in="n" type="matrix" values="0 0 0 0 1 0 0 0 0 1 0 0 0 0 1 -0.24 0 0 0 0.12" result="l"/>
<feMerge><feMergeNode in="d"/><feMergeNode in="l"/></feMerge></filter></defs>
<g clip-path="url(#clipf4)"><rect x="2140.5" y="2174.5" width="1031.0" height="1350.9" filter="url(#sn4)"/></g>
<g clip-path="url(#clipf4)"><g transform="translate(2140.50 2174.50) scale(2.06200 12.00000)" fill="none" stroke-width="1.02">
<path stroke="#000" stroke-opacity="0.13" d="M0 0.5h500M348 5.5h132M0 8.5h311M311 8.5h117M0 10.5h387M0 11.5h500M249 12.5h93M0 13.5h124M306 13.5h63M369 13.5h131M0 18.5h430M430 18.5h70M0 23.5h476M0 24.5h500M0 25.5h466M466 25.5h34M0 32.5h73M227 32.5h273M0 33.5h180M180 33.5h253M66 35.5h219M0 37.5h402M0 39.5h500M0 40.5h500M0 41.5h400M0 42.5h500M144 43.5h191M335 43.5h165M0 44.5h193M0 45.5h500M0 46.5h300M300 46.5h84M384 46.5h116M0 47.5h318M68 48.5h432M348 49.5h152M0 50.5h103M0 51.5h414M0 52.5h452M139 54.5h361M0 56.5h350M0 57.5h500M0 59.5h160M160 59.5h340M283 60.5h166M0 62.5h500M0 65.5h451M244 68.5h256"/>
<path stroke="#fff" stroke-opacity="0.05" d="M298 1.5h202M388 4.5h112M480 5.5h20M0 6.5h113M0 9.5h127M127 9.5h186M313 9.5h187M387 10.5h113M0 12.5h249M0 14.5h257M257 14.5h243M0 16.5h500M0 17.5h375M375 17.5h69M0 19.5h500M0 21.5h500M149 22.5h348M249 26.5h251M0 30.5h500M0 34.5h71M71 34.5h429M0 36.5h81M355 36.5h145M400 41.5h100M0 43.5h144M193 44.5h307M0 48.5h68M414 51.5h86M0 53.5h303M303 53.5h192M210 63.5h290M0 66.5h500M0 68.5h244M0 69.5h500"/>
</g></g>
<g clip-path="url(#clipf4)"><g transform="translate(2140.50 2174.50) scale(1.47286 12.00000)" fill="none" stroke-width="1.02">
<path stroke="#fff" d="M1 16.5h2M4 16.5h1M9 16.5h1M11 16.5h3M17 16.5h2M20 16.5h3M32 16.5h1M34 16.5h1M39 16.5h15M62 16.5h2M65 16.5h2M70 16.5h3M74 16.5h15M90 16.5h2M93 16.5h2M96 16.5h30M134 16.5h2M142 16.5h3M146 16.5h3M154 16.5h3M159 16.5h3M163 16.5h1M189 16.5h1M191 16.5h1M193 16.5h29M223 16.5h1M225 16.5h2M231 16.5h3M236 16.5h8M246 16.5h1M255 16.5h2M265 16.5h2M269 16.5h1M284 16.5h1M292 16.5h2M317 16.5h10M335 16.5h2M340 16.5h2M348 16.5h2M356 16.5h3M360 16.5h3M364 16.5h1M368 16.5h1M373 16.5h1M376 16.5h2M379 16.5h3M384 16.5h1M395 16.5h3M405 16.5h3M416 16.5h2M419 16.5h9M430 16.5h1M441 16.5h3M449 16.5h2M453 16.5h3M458 16.5h1M460 16.5h3M465 16.5h3M472 16.5h1M487 16.5h1M505 16.5h7M517 16.5h1M525 16.5h1M530 16.5h3M534 16.5h2M538 16.5h7M551 16.5h2M562 16.5h4M568 16.5h13M587 16.5h3M591 16.5h8M601 16.5h1M614 16.5h2M619 16.5h14M637 16.5h7M645 16.5h26M675 16.5h20M699 16.5h1M4 17.5h3M24 17.5h2M27 17.5h3M35 17.5h3M41 17.5h2M46 17.5h3M55 17.5h1M60 17.5h2M65 17.5h2M68 17.5h3M78 17.5h3M86 17.5h3M91 17.5h3M95 17.5h3M99 17.5h2M102 17.5h3M106 17.5h1M110 17.5h34M150 17.5h3M155 17.5h13M169 17.5h18M191 17.5h3M199 17.5h1M201 17.5h2M205 17.5h3M209 17.5h2M213 17.5h2M219 17.5h2M223 17.5h1M226 17.5h1M229 17.5h26M263 17.5h3M274 17.5h3M280 17.5h3M285 17.5h3M292 17.5h1M298 17.5h14M313 17.5h1M315 17.5h1M329 17.5h1M342 17.5h11M354 17.5h3M358 17.5h1M360 17.5h15M378 17.5h2M382 17.5h3M386 17.5h3M394 17.5h1M398 17.5h3M410 17.5h6M421 17.5h4M427 17.5h3M432 17.5h1M436 17.5h15M456 17.5h3M461 17.5h1M465 17.5h2M476 17.5h2M494 17.5h2M498 17.5h1M503 17.5h1M505 17.5h8M526 17.5h2M529 17.5h3M534 17.5h6M544 17.5h2M552 17.5h11M566 17.5h3M577 17.5h13M604 17.5h3M613 17.5h15M630 17.5h2M636 17.5h2M640 17.5h1M644 17.5h2M647 17.5h2M650 17.5h3M654 17.5h2M657 17.5h29M688 17.5h2M691 17.5h1M698 17.5h2M44 22.5h2M47 22.5h2M53 22.5h2M62 22.5h14M79 22.5h14M96 22.5h1M99 22.5h12M112 22.5h3M117 22.5h26M145 22.5h3M149 22.5h1M151 22.5h3M158 22.5h2M161 22.5h20M182 22.5h2M185 22.5h1M191 22.5h3M195 22.5h1M197 22.5h3M201 22.5h2M204 22.5h3M210 22.5h3M219 22.5h3M223 22.5h1M228 22.5h1M230 22.5h1M232 22.5h16M253 22.5h1M256 22.5h3M270 22.5h1M274 22.5h3M301 22.5h1M357 22.5h2M426 22.5h6M439 22.5h6M475 22.5h1M480 22.5h12M495 22.5h8M507 22.5h8M520 22.5h3M528 22.5h3M536 22.5h1M539 22.5h1M549 22.5h3M559 22.5h2M566 22.5h2M576 22.5h2M583 22.5h3M590 22.5h2M595 22.5h9M610 22.5h17M634 22.5h6M645 22.5h2M649 22.5h9M660 22.5h2M665 22.5h2M668 22.5h17M686 22.5h14M13 23.5h3M23 23.5h6M44 23.5h17M64 23.5h18M84 23.5h8M94 23.5h23M119 23.5h1M122 23.5h3M126 23.5h2M130 23.5h1M132 23.5h3M143 23.5h23M171 23.5h3M177 23.5h3M194 23.5h2M198 23.5h15M221 23.5h2M231 23.5h1M233 23.5h1M235 23.5h3M239 23.5h18M258 23.5h3M271 23.5h7M317 23.5h3M345 23.5h3M360 23.5h2M387 23.5h1M418 23.5h3M469 23.5h2M475 23.5h2M481 23.5h3M495 23.5h3M508 23.5h3M529 23.5h1M535 23.5h2M540 23.5h2M545 23.5h2M552 23.5h9M562 23.5h2M575 23.5h13M593 23.5h14M622 23.5h5M635 23.5h3M640 23.5h2M645 23.5h1M647 23.5h3M654 23.5h3M660 23.5h28M689 23.5h3M693 23.5h7M31 24.5h4M48 24.5h3M52 24.5h3M56 24.5h1M59 24.5h3M68 24.5h3M73 24.5h2M77 24.5h2M84 24.5h2M87 24.5h3M92 24.5h3M96 24.5h11M111 24.5h2M114 24.5h2M117 24.5h1M128 24.5h1M131 24.5h3M137 24.5h1M140 24.5h1M153 24.5h2M156 24.5h1M158 24.5h2M164 24.5h3M168 24.5h23M192 24.5h3M198 24.5h14M215 24.5h3M223 24.5h1M229 24.5h1M236 24.5h3M240 24.5h1M245 24.5h2M248 24.5h1M253 24.5h3M257 24.5h2M297 24.5h3M316 24.5h2M326 24.5h8M383 24.5h4M392 24.5h2M417 24.5h1M448 24.5h3M472 24.5h3M488 24.5h1M491 24.5h4M508 24.5h3M528 24.5h3M545 24.5h9M558 24.5h17M579 24.5h1M593 24.5h2M596 24.5h1M601 24.5h2M605 24.5h12M619 24.5h2M633 24.5h7M641 24.5h3M646 24.5h3M657 24.5h1M659 24.5h1M664 24.5h2M667 24.5h1M670 24.5h30M30 25.5h2M60 25.5h2M65 25.5h10M77 25.5h3M86 25.5h3M99 25.5h12M113 25.5h1M116 25.5h1M120 25.5h3M126 25.5h3M130 25.5h3M134 25.5h1M138 25.5h2M142 25.5h2M145 25.5h1M151 25.5h4M157 25.5h14M173 25.5h3M179 25.5h1M183 25.5h3M188 25.5h3M192 25.5h3M201 25.5h3M207 25.5h2M211 25.5h1M214 25.5h15M238 25.5h2M241 25.5h1M243 25.5h2M246 25.5h1M250 25.5h3M256 25.5h2M293 25.5h1M301 25.5h6M327 25.5h6M339 25.5h3M410 25.5h1M443 25.5h3M476 25.5h2M503 25.5h10M514 25.5h2M528 25.5h2M531 25.5h10M543 25.5h2M547 25.5h18M568 25.5h3M580 25.5h2M590 25.5h2M594 25.5h1M597 25.5h17M615 25.5h1M621 25.5h16M641 25.5h3M646 25.5h3M653 25.5h2M658 25.5h2M661 25.5h1M665 25.5h2M669 25.5h1M675 25.5h3M680 25.5h3M686 25.5h3M691 25.5h3M2 29.5h1M10 29.5h21M32 29.5h2M39 29.5h2M42 29.5h3M49 29.5h3M53 29.5h2M59 29.5h2M63 29.5h2M67 29.5h3M76 29.5h3M88 29.5h1M94 29.5h2M98 29.5h3M106 29.5h3M115 29.5h2M120 29.5h15M142 29.5h3M157 29.5h3M162 29.5h3M166 29.5h12M181 29.5h2M188 29.5h3M193 29.5h1M197 29.5h2M200 29.5h2M204 29.5h1M221 29.5h1M231 29.5h2M242 29.5h3M246 29.5h3M251 29.5h2M255 29.5h11M300 29.5h1M310 29.5h2M320 29.5h1M354 29.5h2M377 29.5h3M393 29.5h6M409 29.5h6M440 29.5h3M453 29.5h1M467 29.5h3M490 29.5h2M501 29.5h2M528 29.5h4M536 29.5h3M540 29.5h7M549 29.5h2M560 29.5h2M577 29.5h2M584 29.5h13M603 29.5h1M610 29.5h3M618 29.5h3M623 29.5h3M633 29.5h3M640 29.5h3M659 29.5h12M678 29.5h1M681 29.5h3M688 29.5h12M4 30.5h1M8 30.5h2M13 30.5h3M18 30.5h2M21 30.5h3M26 30.5h19M48 30.5h3M57 30.5h3M62 30.5h3M67 30.5h1M69 30.5h1M75 30.5h5M81 30.5h3M90 30.5h1M93 30.5h1M96 30.5h1M100 30.5h3M110 30.5h1M114 30.5h2M118 30.5h3M123 30.5h2M127 30.5h3M142 30.5h2M146 30.5h3M157 30.5h2M160 30.5h2M163 30.5h1M166 30.5h20M189 30.5h3M194 30.5h2M201 30.5h2M207 30.5h3M214 30.5h3M222 30.5h3M228 30.5h2M231 30.5h2M235 30.5h2M238 30.5h16M256 30.5h1M270 30.5h17M293 30.5h3M298 30.5h2M306 30.5h1M368 30.5h3M422 30.5h2M426 30.5h4M433 30.5h5M440 30.5h2M453 30.5h1M491 30.5h2M501 30.5h1M510 30.5h1M519 30.5h1M529 30.5h3M539 30.5h3M560 30.5h8M576 30.5h2M588 30.5h2M591 30.5h2M600 30.5h2M608 30.5h2M618 30.5h3M623 30.5h6M637 30.5h2M643 30.5h3M648 30.5h3M653 30.5h3M663 30.5h12M677 30.5h8M689 30.5h7M697 30.5h1M0 31.5h2M4 31.5h1M19 31.5h11M31 31.5h1M33 31.5h1M35 31.5h3M45 31.5h3M54 31.5h24M81 31.5h1M87 31.5h24M134 31.5h1M137 31.5h3M141 31.5h2M144 31.5h1M146 31.5h1M154 31.5h2M157 31.5h3M163 31.5h3M169 31.5h6M178 31.5h1M188 31.5h1M195 31.5h3M201 31.5h1M203 31.5h3M208 31.5h1M210 31.5h1M212 31.5h24M238 31.5h2M246 31.5h2M249 31.5h11M261 31.5h23M288 31.5h2M357 31.5h2M360 31.5h3M398 31.5h3M419 31.5h1M490 31.5h3M516 31.5h2M530 31.5h1M532 31.5h1M566 31.5h3M570 31.5h4M584 31.5h6M602 31.5h1M606 31.5h3M612 31.5h8M625 31.5h3M641 31.5h12M655 31.5h3M666 31.5h1M669 31.5h2M675 31.5h3M681 31.5h3M685 31.5h3M692 31.5h5M1 32.5h3M7 32.5h21M30 32.5h2M33 32.5h1M38 32.5h3M54 32.5h3M60 32.5h3M65 32.5h2M68 32.5h1M76 32.5h3M88 32.5h2M102 32.5h1M112 32.5h14M131 32.5h2M134 32.5h1M142 32.5h3M147 32.5h2M155 32.5h3M160 32.5h1M164 32.5h15M185 32.5h2M188 32.5h3M193 32.5h3M197 32.5h2M204 32.5h13M218 32.5h3M223 32.5h11M236 32.5h3M243 32.5h1M245 32.5h1M249 32.5h1M251 32.5h2M259 32.5h2M270 32.5h3M300 32.5h7M318 32.5h3M326 32.5h2M335 32.5h5M375 32.5h3M381 32.5h2M393 32.5h4M407 32.5h1M450 32.5h4M490 32.5h1M511 32.5h3M515 32.5h4M524 32.5h6M584 32.5h11M605 32.5h3M613 32.5h1M629 32.5h3M633 32.5h1M635 32.5h1M643 32.5h1M651 32.5h2M661 32.5h2M673 32.5h1M677 32.5h1M679 32.5h3M685 32.5h3M690 32.5h3M696 32.5h1M7 33.5h1M9 33.5h3M14 33.5h2M17 33.5h10M29 33.5h1M32 33.5h1M37 33.5h15M56 33.5h3M60 33.5h2M66 33.5h3M74 33.5h2M78 33.5h2M82 33.5h3M87 33.5h14M107 33.5h2M110 33.5h2M113 33.5h2M122 33.5h23M146 33.5h9M160 33.5h3M172 33.5h2M175 33.5h23M200 33.5h2M203 33.5h3M211 33.5h2M220 33.5h6M227 33.5h3M239 33.5h1M241 33.5h3M247 33.5h9M258 33.5h2M262 33.5h20M306 33.5h3M321 33.5h1M331 33.5h1M335 33.5h3M357 33.5h3M392 33.5h1M410 33.5h5M419 33.5h1M422 33.5h2M431 33.5h3M435 33.5h2M489 33.5h1M498 33.5h5M518 33.5h3M539 33.5h1M549 33.5h2M561 33.5h1M580 33.5h3M603 33.5h2M614 33.5h15M632 33.5h6M651 33.5h3M655 33.5h1M657 33.5h4M664 33.5h3M668 33.5h2M671 33.5h3M679 33.5h12M697 33.5h1"/>
</g></g>
<path stroke="#3a3ad0" stroke-width="12.5" d="M2150.8 3475.8h1.5M2218.6 3475.8h1.5M2252.4 3475.8h1.5M2342.3 3475.8h1.5M2483.7 3475.8h1.5M2489.6 3475.8h2.9M2496.9 3475.8h1.5M2504.3 3475.8h1.5M2524.9 3475.8h1.5M2588.2 3475.8h1.5M2597.1 3475.8h2.9M2607.4 3475.8h2.9M2622.1 3475.8h1.5M2623.6 3475.8h2.9M2793.0 3475.8h1.5M2797.4 3475.8h1.5M2804.8 3475.8h1.5M2825.4 3475.8h1.5M2859.3 3475.8h1.5M2860.7 3475.8h10.3M2899.0 3475.8h4.4M2904.9 3475.8h1.5M2909.3 3475.8h2.9M2928.5 3475.8h4.4M2937.3 3475.8h1.5M2993.3 3475.8h1.5M2996.2 3475.8h1.5M3064.0 3475.8h7.4M3075.8 3475.8h1.5M3078.7 3475.8h10.3M3089.0 3475.8h1.5M3100.8 3475.8h1.5" fill="none"/>
<path stroke="#4040d8" stroke-width="12.5" d="M2324.6 3475.8h1.5M2452.7 3475.8h1.5M2580.9 3475.8h1.5M2586.8 3475.8h1.5M2592.7 3475.8h1.5M2594.1 3475.8h2.9M2600.0 3475.8h2.9M2619.2 3475.8h2.9M2798.9 3475.8h4.4M2803.3 3475.8h1.5M2806.2 3475.8h14.7M2821.0 3475.8h1.5M2822.4 3475.8h1.5M2826.9 3475.8h11.8M2838.6 3475.8h2.9M2841.6 3475.8h1.5M2856.3 3475.8h2.9M2878.4 3475.8h8.8M2891.7 3475.8h2.9M2913.8 3475.8h1.5M2915.2 3475.8h1.5M2918.2 3475.8h1.5M2919.6 3475.8h4.4M2932.9 3475.8h4.4M2938.8 3475.8h2.9M2946.2 3475.8h1.5M2957.9 3475.8h5.9M2971.2 3475.8h1.5M2972.7 3475.8h2.9M2977.1 3475.8h4.4M2983.0 3475.8h5.9M2988.9 3475.8h1.5M2990.3 3475.8h1.5M2997.7 3475.8h1.5M3015.4 3475.8h1.5M3028.6 3475.8h2.9M3031.6 3475.8h2.9M3034.5 3475.8h1.5M3137.6 3475.8h1.5" fill="none"/>
<path stroke="#3c2eb8" stroke-width="12.5" d="M2442.4 3475.8h1.5M2485.1 3475.8h4.4M2492.5 3475.8h1.5M2494.0 3475.8h1.5M2495.5 3475.8h1.5M2498.4 3475.8h4.4M2520.5 3475.8h1.5M2579.4 3475.8h1.5M2582.4 3475.8h2.9M2591.2 3475.8h1.5M2791.5 3475.8h1.5M2843.1 3475.8h7.4M2850.4 3475.8h5.9M2871.0 3475.8h5.9M2876.9 3475.8h1.5M2890.2 3475.8h1.5M2894.6 3475.8h1.5M2903.4 3475.8h1.5M2907.9 3475.8h1.5M2912.3 3475.8h1.5M2925.5 3475.8h1.5M2968.2 3475.8h1.5M2975.6 3475.8h1.5M3038.9 3475.8h1.5M3041.9 3475.8h14.7M3056.6 3475.8h7.4M3071.3 3475.8h1.5M3072.8 3475.8h2.9M3090.5 3475.8h10.3M3102.3 3475.8h8.8M3131.7 3475.8h1.5M3136.2 3475.8h1.5" fill="none"/>
<path stroke="#3a78f8" stroke-width="12.5" d="M2633.9 3475.8h4.4M2639.8 3475.8h1.5M2650.1 3475.8h1.5M2654.5 3475.8h1.5M2707.6 3475.8h1.5M2717.9 3475.8h1.5M2748.8 3475.8h1.5" fill="none"/>
<path stroke="#2a9ae0" stroke-width="12.5" d="M2641.3 3475.8h8.8M2651.6 3475.8h2.9M2669.3 3475.8h1.5M2741.4 3475.8h1.5M2759.1 3475.8h5.9M2765.0 3475.8h2.9M2769.4 3475.8h7.4M2776.8 3475.8h14.7" fill="none"/>
<path stroke="#2a8cf0" stroke-width="12.5" d="M2656.0 3475.8h13.3M2692.8 3475.8h13.3M2709.0 3475.8h1.5M2719.3 3475.8h7.4M2728.2 3475.8h13.3M2744.4 3475.8h4.4" fill="none"/>
<path stroke="#20a8d8" stroke-width="12.5" d="M2670.7 3475.8h11.8M2682.5 3475.8h1.5M2684.0 3475.8h8.8M2706.1 3475.8h1.5M2710.5 3475.8h7.4M2726.7 3475.8h1.5M2742.9 3475.8h1.5M2750.3 3475.8h8.8M2767.9 3475.8h1.5" fill="none"/>
<path stroke="#2a9ae0" stroke-width="12.0" d="M2446.9 3488.0h1.5M2483.7 3488.0h2.9M2486.6 3488.0h1.5M2494.0 3488.0h1.5M2499.9 3488.0h1.5M2523.4 3488.0h1.5M2831.3 3488.0h1.5M2841.6 3488.0h1.5M2847.5 3488.0h1.5M2885.8 3488.0h1.5M2909.3 3488.0h4.4M2944.7 3488.0h2.9M2952.0 3488.0h1.5M2963.8 3488.0h4.4M3064.0 3488.0h16.2M3081.7 3488.0h17.7M3099.3 3488.0h1.5" fill="none"/>
<path stroke="#20a8d8" stroke-width="12.0" d="M2448.3 3488.0h1.5M2451.3 3488.0h1.5M2488.1 3488.0h1.5M2496.9 3488.0h2.9M2501.3 3488.0h1.5M2522.0 3488.0h1.5" fill="none"/>
<path stroke="#4040d8" stroke-width="12.0" d="M2591.2 3488.0h1.5M2611.8 3488.0h1.5M2725.2 3488.0h1.5M2726.7 3488.0h1.5M2840.1 3488.0h1.5M2857.8 3488.0h1.5M2860.7 3488.0h1.5M2897.5 3488.0h1.5M2985.9 3488.0h1.5M2987.4 3488.0h2.9" fill="none"/>
<path stroke="#3c2eb8" stroke-width="12.0" d="M2601.5 3488.0h1.5M2712.0 3488.0h1.5M2728.2 3488.0h1.5M2729.6 3488.0h1.5M2740.0 3488.0h1.5M2797.4 3488.0h1.5M2819.5 3488.0h1.5M2851.9 3488.0h4.4M2856.3 3488.0h1.5M2863.7 3488.0h4.4M2868.1 3488.0h1.5M2922.6 3488.0h1.5M2940.3 3488.0h1.5M2959.4 3488.0h4.4M2971.2 3488.0h2.9" fill="none"/>
<path stroke="#3a3ad0" stroke-width="12.0" d="M2604.4 3488.0h1.5M2714.9 3488.0h1.5M2719.3 3488.0h1.5M2793.0 3488.0h4.4M2804.8 3488.0h2.9M2832.7 3488.0h1.5M2834.2 3488.0h1.5M2878.4 3488.0h1.5M2882.8 3488.0h1.5M2887.2 3488.0h1.5M2918.2 3488.0h2.9M2969.7 3488.0h1.5M2974.1 3488.0h2.9M2977.1 3488.0h1.5M2978.6 3488.0h1.5M2980.0 3488.0h1.5M2994.8 3488.0h2.9" fill="none"/>
<path stroke="#3a78f8" stroke-width="12.0" d="M2798.9 3488.0h4.4M2812.1 3488.0h2.9M2843.1 3488.0h1.5M2869.6 3488.0h4.4M2890.2 3488.0h1.5M2894.6 3488.0h1.5M2904.9 3488.0h1.5M2915.2 3488.0h2.9M2924.1 3488.0h4.4M2934.4 3488.0h2.9M3080.2 3488.0h1.5M3100.8 3488.0h11.8" fill="none"/>
<path stroke="#2a8cf0" stroke-width="12.0" d="M2810.7 3488.0h1.5M2876.9 3488.0h1.5M2902.0 3488.0h1.5M2932.9 3488.0h1.5M2950.6 3488.0h1.5M2953.5 3488.0h1.5M2957.9 3488.0h1.5M2991.8 3488.0h1.5M2993.3 3488.0h1.5M3041.9 3488.0h1.5M3043.4 3488.0h10.3M3053.7 3488.0h10.3" fill="none"/>
<path stroke="#4040d8" stroke-width="24.0" d="M2150.8 3506.0h1.5M2175.8 3506.0h1.5M2177.3 3506.0h1.5M2195.0 3506.0h1.5M2208.3 3506.0h1.5M2215.6 3506.0h1.5M2217.1 3506.0h1.5M2234.8 3506.0h1.5M2299.6 3506.0h1.5M2588.2 3506.0h1.5M2604.4 3506.0h2.9M2709.0 3506.0h1.5M2712.0 3506.0h1.5M2797.4 3506.0h4.4M2807.7 3506.0h1.5M2813.6 3506.0h1.5M2816.5 3506.0h2.9M2825.4 3506.0h1.5M2829.8 3506.0h1.5M2841.6 3506.0h2.9M2844.5 3506.0h4.4M2851.9 3506.0h1.5M2856.3 3506.0h2.9M2862.2 3506.0h1.5M2865.1 3506.0h1.5M2876.9 3506.0h1.5M2884.3 3506.0h4.4M2896.1 3506.0h1.5M2907.9 3506.0h1.5M2909.3 3506.0h1.5M2928.5 3506.0h1.5M2931.4 3506.0h4.4M2938.8 3506.0h1.5M2947.6 3506.0h4.4M2952.0 3506.0h1.5M2960.9 3506.0h4.4M3112.6 3506.0h1.5M3114.1 3506.0h1.5M3118.5 3506.0h1.5M3131.7 3506.0h2.9" fill="none"/>
<path stroke="#3c2eb8" stroke-width="24.0" d="M2174.4 3506.0h1.5M2202.4 3506.0h1.5M2212.7 3506.0h1.5M2253.9 3506.0h1.5M2255.4 3506.0h1.5M2264.2 3506.0h4.4M2594.1 3506.0h2.9M2600.0 3506.0h2.9M2610.3 3506.0h1.5M2613.3 3506.0h2.9M2616.2 3506.0h2.9M2620.7 3506.0h1.5M2667.8 3506.0h1.5M2698.7 3506.0h1.5M2794.4 3506.0h2.9M2803.3 3506.0h1.5M2815.1 3506.0h1.5M2822.4 3506.0h2.9M2828.3 3506.0h1.5M2853.4 3506.0h1.5M2863.7 3506.0h1.5M2869.6 3506.0h1.5M2871.0 3506.0h1.5M2875.5 3506.0h1.5M2878.4 3506.0h2.9M2881.3 3506.0h1.5M2888.7 3506.0h4.4M2900.5 3506.0h1.5M2906.4 3506.0h1.5M2912.3 3506.0h2.9M2915.2 3506.0h4.4M2930.0 3506.0h1.5M2937.3 3506.0h1.5M2959.4 3506.0h1.5M2965.3 3506.0h2.9M2969.7 3506.0h4.4M2974.1 3506.0h1.5M2975.6 3506.0h2.9M3121.4 3506.0h2.9" fill="none"/>
<path stroke="#3a3ad0" stroke-width="24.0" d="M2178.8 3506.0h1.5M2187.6 3506.0h1.5M2196.5 3506.0h1.5M2230.3 3506.0h1.5M2239.2 3506.0h1.5M2277.5 3506.0h1.5M2280.4 3506.0h1.5M2289.3 3506.0h1.5M2293.7 3506.0h1.5M2442.4 3506.0h1.5M2583.8 3506.0h1.5M2585.3 3506.0h1.5M2597.1 3506.0h2.9M2603.0 3506.0h1.5M2622.1 3506.0h1.5M2666.3 3506.0h1.5M2732.6 3506.0h1.5M2737.0 3506.0h1.5M2806.2 3506.0h1.5M2809.2 3506.0h1.5M2810.7 3506.0h1.5M2826.9 3506.0h1.5M2837.2 3506.0h4.4M2848.9 3506.0h1.5M2854.8 3506.0h1.5M2860.7 3506.0h1.5M2894.6 3506.0h1.5M2899.0 3506.0h1.5M2919.6 3506.0h4.4M2941.7 3506.0h4.4M2955.0 3506.0h1.5M3128.8 3506.0h2.9" fill="none"/>
<path stroke="#2a8cf0" stroke-width="24.0" d="M2231.8 3506.0h2.9M2240.7 3506.0h1.5M2245.1 3506.0h1.5M2261.3 3506.0h2.9M2446.9 3506.0h14.7M2461.6 3506.0h1.5M2463.1 3506.0h1.5M2464.5 3506.0h7.4M2473.4 3506.0h1.5M2517.6 3506.0h1.5M2522.0 3506.0h1.5M2523.4 3506.0h1.5M2524.9 3506.0h17.7M2542.6 3506.0h7.4M2560.3 3506.0h17.7M3055.1 3506.0h11.8M3066.9 3506.0h1.5M3090.5 3506.0h1.5" fill="none"/>
<path stroke="#3a78f8" stroke-width="24.0" d="M2243.6 3506.0h1.5M2246.5 3506.0h5.9M2252.4 3506.0h1.5M2256.9 3506.0h1.5M2471.9 3506.0h1.5M2495.5 3506.0h1.5M2496.9 3506.0h1.5M2499.9 3506.0h1.5M2501.3 3506.0h1.5M2519.0 3506.0h1.5M2520.5 3506.0h1.5M2550.0 3506.0h8.8M2558.8 3506.0h1.5M3041.9 3506.0h13.3M3092.0 3506.0h2.9M3094.9 3506.0h11.8" fill="none"/>
<path stroke="#2a9ae0" stroke-width="24.0" d="M2445.4 3506.0h1.5M2474.8 3506.0h8.8M2483.7 3506.0h7.4M2491.0 3506.0h4.4M2502.8 3506.0h14.7M3068.4 3506.0h5.9M3074.3 3506.0h16.2" fill="none"/>
<text x="2138.00" y="3589.90" font-size="52.50" text-anchor="middle" textLength="31.81" lengthAdjust="spacingAndGlyphs" fill="#262626">0</text>
<text x="2266.88" y="3589.90" font-size="52.50" text-anchor="middle" textLength="31.81" lengthAdjust="spacingAndGlyphs" fill="#262626">3</text>
<text x="2395.75" y="3589.90" font-size="52.50" text-anchor="middle" textLength="31.81" lengthAdjust="spacingAndGlyphs" fill="#262626">6</text>
<text x="2524.62" y="3589.90" font-size="52.50" text-anchor="middle" textLength="31.81" lengthAdjust="spacingAndGlyphs" fill="#262626">9</text>
<text x="2653.50" y="3589.90" font-size="52.50" text-anchor="middle" textLength="63.62" lengthAdjust="spacingAndGlyphs" fill="#262626">12</text>
<text x="2782.38" y="3589.90" font-size="52.50" text-anchor="middle" textLength="63.62" lengthAdjust="spacingAndGlyphs" fill="#262626">15</text>
<text x="2911.25" y="3589.90" font-size="52.50" text-anchor="middle" textLength="63.62" lengthAdjust="spacingAndGlyphs" fill="#262626">18</text>
<text x="3040.12" y="3589.90" font-size="52.50" text-anchor="middle" textLength="63.62" lengthAdjust="spacingAndGlyphs" fill="#262626">21</text>
<text x="2117.00" y="3541.40" font-size="52.50" text-anchor="end" textLength="31.81" lengthAdjust="spacingAndGlyphs" fill="#262626">0</text>
<text x="2117.00" y="3406.31" font-size="52.50" text-anchor="end" textLength="79.52" lengthAdjust="spacingAndGlyphs" fill="#262626">0.2</text>
<text x="2117.00" y="3271.22" font-size="52.50" text-anchor="end" textLength="79.52" lengthAdjust="spacingAndGlyphs" fill="#262626">0.4</text>
<text x="2117.00" y="3136.13" font-size="52.50" text-anchor="end" textLength="79.52" lengthAdjust="spacingAndGlyphs" fill="#262626">0.6</text>
<text x="2117.00" y="3001.04" font-size="52.50" text-anchor="end" textLength="79.52" lengthAdjust="spacingAndGlyphs" fill="#262626">0.8</text>
<text x="2117.00" y="2865.95" font-size="52.50" text-anchor="end" textLength="31.81" lengthAdjust="spacingAndGlyphs" fill="#262626">1</text>
<text x="2117.00" y="2730.86" font-size="52.50" text-anchor="end" textLength="79.52" lengthAdjust="spacingAndGlyphs" fill="#262626">1.2</text>
<text x="2117.00" y="2595.77" font-size="52.50" text-anchor="end" textLength="79.52" lengthAdjust="spacingAndGlyphs" fill="#262626">1.4</text>
<text x="2117.00" y="2460.68" font-size="52.50" text-anchor="end" textLength="79.52" lengthAdjust="spacingAndGlyphs" fill="#262626">1.6</text>
<text x="2117.00" y="2325.59" font-size="52.50" text-anchor="end" textLength="79.52" lengthAdjust="spacingAndGlyphs" fill="#262626">1.8</text>
<text x="2117.00" y="2190.50" font-size="52.50" text-anchor="end" textLength="31.81" lengthAdjust="spacingAndGlyphs" fill="#262626">2</text>
<text x="2008.90" y="2849.95" font-size="57.75" text-anchor="middle" textLength="455.04" lengthAdjust="spacingAndGlyphs" transform="rotate(-90 2008.90 2849.95)" fill="#262626">Height [km AGL]</text>
<text x="2656.00" y="2145.90" font-size="57.75" text-anchor="middle" font-weight="bold" textLength="692.98" lengthAdjust="spacingAndGlyphs" fill="#000">Backscatter 20230719</text>
<defs><linearGradient id="cb1650_1876" x1="0" y1="1" x2="0" y2="0">
<stop offset="0.0000" stop-color="#3e26a8"/>
<stop offset="0.0476" stop-color="#4332cb"/>
<stop offset="0.0952" stop-color="#4741e5"/>
<stop offset="0.1429" stop-color="#4852f4"/>
<stop offset="0.1905" stop-color="#4563fd"/>
<stop offset="0.2381" stop-color="#3875fe"/>
<stop offset="0.2857" stop-color="#2e87f7"/>
<stop offset="0.3333" stop-color="#2797eb"/>
<stop offset="0.3810" stop-color="#20a5e3"/>
<stop offset="0.4286" stop-color="#12b1d6"/>
<stop offset="0.4762" stop-color="#02bac3"/>
<stop offset="0.5238" stop-color="#24c1ae"/>
<stop offset="0.5714" stop-color="#37c897"/>
<stop offset="0.6190" stop-color="#57cc7a"/>
<stop offset="0.6667" stop-color="#81cc59"/>
<stop offset="0.7143" stop-color="#abc739"/>
<stop offset="0.7619" stop-color="#d1bf27"/>
<stop offset="0.8095" stop-color="#f0ba36"/>
<stop offset="0.8571" stop-color="#fec338"/>
<stop offset="0.9048" stop-color="#fad62d"/>
<stop offset="0.9524" stop-color="#f5e924"/>
<stop offset="1.0000" stop-color="#f9fb15"/>
<stop offset="1.0000" stop-color="#f9fb15"/>
</linearGradient></defs>
<rect x="3212.30" y="2174.50" width="83.20" height="1350.90" fill="url(#cb1650_1876)" stroke="#262626" stroke-width="1.3"/>
<text x="3315.00" y="3539.90" font-size="47.25" text-anchor="start" textLength="87.80" lengthAdjust="spacingAndGlyphs" fill="#262626">-6.5</text>
<text x="3315.00" y="3346.91" font-size="47.25" text-anchor="start" textLength="44.87" lengthAdjust="spacingAndGlyphs" fill="#262626">-6</text>
<text x="3315.00" y="3153.93" font-size="47.25" text-anchor="start" textLength="87.80" lengthAdjust="spacingAndGlyphs" fill="#262626">-5.5</text>
<text x="3315.00" y="2960.94" font-size="47.25" text-anchor="start" textLength="44.87" lengthAdjust="spacingAndGlyphs" fill="#262626">-5</text>
<text x="3315.00" y="2767.96" font-size="47.25" text-anchor="start" textLength="87.80" lengthAdjust="spacingAndGlyphs" fill="#262626">-4.5</text>
<text x="3315.00" y="2574.97" font-size="47.25" text-anchor="start" textLength="44.87" lengthAdjust="spacingAndGlyphs" fill="#262626">-4</text>
<text x="3315.00" y="2381.99" font-size="47.25" text-anchor="start" textLength="87.80" lengthAdjust="spacingAndGlyphs" fill="#262626">-3.5</text>
<text x="3315.00" y="2189.00" font-size="47.25" text-anchor="start" textLength="44.87" lengthAdjust="spacingAndGlyphs" fill="#262626">-3</text>
<path d="M3295.50 3332.41h-14M3295.50 3139.43h-14M3295.50 2946.44h-14M3295.50 2753.46h-14M3295.50 2560.47h-14M3295.50 2367.49h-14" stroke="#262626" stroke-width="1.3" fill="none"/>
<g transform="rotate(-90 3471.20 2849.95)">
<text x="3391.00" y="2849.95" font-size="47.25" text-anchor="start" textLength="68.60" lengthAdjust="spacingAndGlyphs" fill="#262626">log</text>
<text x="3460.59" y="2869.95" font-size="37.80" text-anchor="start" textLength="45.81" lengthAdjust="spacingAndGlyphs" fill="#262626">10</text>
<text x="3525.40" y="2849.95" font-size="44" font-family="Liberation Serif, serif" font-style="italic" fill="#262626">β</text>
</g>
</svg></body></html>
